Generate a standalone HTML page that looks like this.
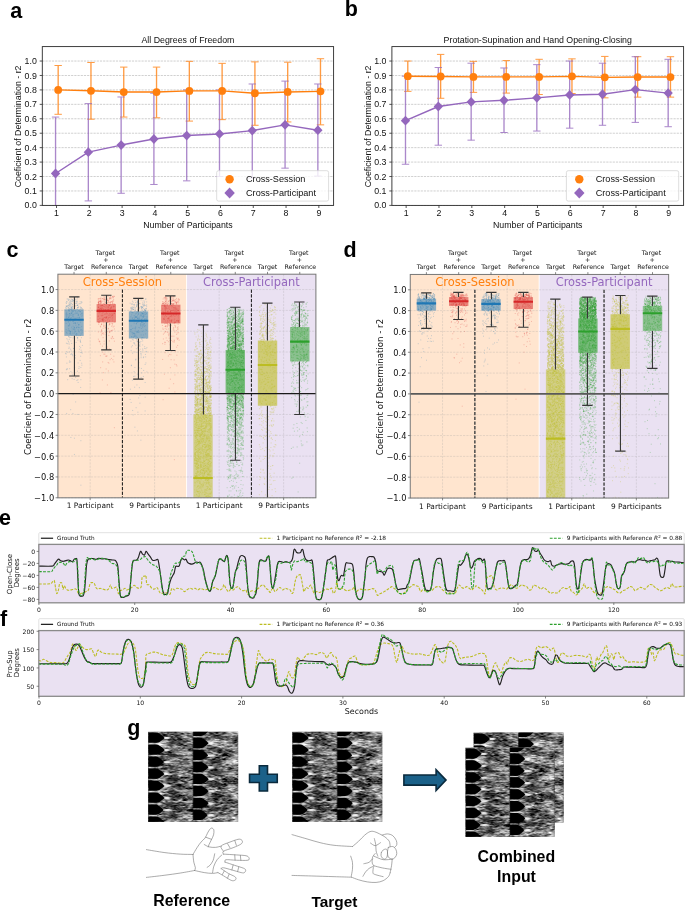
<!DOCTYPE html>
<html lang="en"><head><meta charset="utf-8"><title>Figure</title>
<style>
html,body{margin:0;padding:0;background:#fff;}
svg{display:block;}
text{white-space:pre;}
</style></head><body>
<svg width="685" height="910" viewBox="0 0 685 910">
<rect width="685" height="910" fill="#fff"/>
<g>
<clipPath id="clipa"><rect x="42.3" y="46.6" width="291.3" height="158.8"/></clipPath>
<line x1="42.3" y1="205.4" x2="333.6" y2="205.4" stroke="#b0b0b0" stroke-width="0.8" stroke-dasharray="2.2 1" opacity="0.75"/>
<line x1="42.3" y1="190.96" x2="333.6" y2="190.96" stroke="#b0b0b0" stroke-width="0.8" stroke-dasharray="2.2 1" opacity="0.75"/>
<line x1="42.3" y1="176.53" x2="333.6" y2="176.53" stroke="#b0b0b0" stroke-width="0.8" stroke-dasharray="2.2 1" opacity="0.75"/>
<line x1="42.3" y1="162.09" x2="333.6" y2="162.09" stroke="#b0b0b0" stroke-width="0.8" stroke-dasharray="2.2 1" opacity="0.75"/>
<line x1="42.3" y1="147.65" x2="333.6" y2="147.65" stroke="#b0b0b0" stroke-width="0.8" stroke-dasharray="2.2 1" opacity="0.75"/>
<line x1="42.3" y1="133.22" x2="333.6" y2="133.22" stroke="#b0b0b0" stroke-width="0.8" stroke-dasharray="2.2 1" opacity="0.75"/>
<line x1="42.3" y1="118.78" x2="333.6" y2="118.78" stroke="#b0b0b0" stroke-width="0.8" stroke-dasharray="2.2 1" opacity="0.75"/>
<line x1="42.3" y1="104.35" x2="333.6" y2="104.35" stroke="#b0b0b0" stroke-width="0.8" stroke-dasharray="2.2 1" opacity="0.75"/>
<line x1="42.3" y1="89.91" x2="333.6" y2="89.91" stroke="#b0b0b0" stroke-width="0.8" stroke-dasharray="2.2 1" opacity="0.75"/>
<line x1="42.3" y1="75.47" x2="333.6" y2="75.47" stroke="#b0b0b0" stroke-width="0.8" stroke-dasharray="2.2 1" opacity="0.75"/>
<line x1="42.3" y1="61.04" x2="333.6" y2="61.04" stroke="#b0b0b0" stroke-width="0.8" stroke-dasharray="2.2 1" opacity="0.75"/>
<g clip-path="url(#clipa)">
<g stroke="#ff7f0e" opacity="0.78" fill="none"><path d="M58.17 114.31V65.51" stroke-width="1.35"/><path d="M54.47 114.31h7.4M54.47 65.51h7.4" stroke-width="1"/><path d="M90.96 119.21V62.48" stroke-width="1.35"/><path d="M87.26 119.21h7.4M87.26 62.48h7.4" stroke-width="1"/><path d="M123.75 117.05V67.1" stroke-width="1.35"/><path d="M120.05 117.05h7.4M120.05 67.1h7.4" stroke-width="1"/><path d="M156.54 117.77V67.1" stroke-width="1.35"/><path d="M152.84 117.77h7.4M152.84 67.1h7.4" stroke-width="1"/><path d="M189.33 121.09V61.33" stroke-width="1.35"/><path d="M185.63 121.09h7.4M185.63 61.33h7.4" stroke-width="1"/><path d="M222.12 119.65V63.35" stroke-width="1.35"/><path d="M218.42 119.65h7.4M218.42 63.35h7.4" stroke-width="1"/><path d="M254.91 125.28V61.9" stroke-width="1.35"/><path d="M251.21 125.28h7.4M251.21 61.9h7.4" stroke-width="1"/><path d="M287.7 121.96V62.19" stroke-width="1.35"/><path d="M284 121.96h7.4M284 62.19h7.4" stroke-width="1"/><path d="M320.48 124.85V58.73" stroke-width="1.35"/><path d="M316.78 124.85h7.4M316.78 58.73h7.4" stroke-width="1"/></g>
<g stroke="#9467bd" opacity="0.78" fill="none"><path d="M55.55 234.27V117.05" stroke-width="1.35"/><path d="M51.85 234.27h7.4M51.85 117.05h7.4" stroke-width="1"/><path d="M88.34 200.92V103.62" stroke-width="1.35"/><path d="M84.64 200.92h7.4M84.64 103.62h7.4" stroke-width="1"/><path d="M121.13 193.27V96.98" stroke-width="1.35"/><path d="M117.43 193.27h7.4M117.43 96.98h7.4" stroke-width="1"/><path d="M153.91 184.47V93.23" stroke-width="1.35"/><path d="M150.21 184.47h7.4M150.21 93.23h7.4" stroke-width="1"/><path d="M186.7 180.86V89.91" stroke-width="1.35"/><path d="M183 180.86h7.4M183 89.91h7.4" stroke-width="1"/><path d="M219.49 176.53V89.91" stroke-width="1.35"/><path d="M215.79 176.53h7.4M215.79 89.91h7.4" stroke-width="1"/><path d="M252.28 177.97V83.99" stroke-width="1.35"/><path d="M248.58 177.97h7.4M248.58 83.99h7.4" stroke-width="1"/><path d="M285.07 168.15V81.1" stroke-width="1.35"/><path d="M281.37 168.15h7.4M281.37 81.1h7.4" stroke-width="1"/><path d="M317.86 176.09V83.99" stroke-width="1.35"/><path d="M314.16 176.09h7.4M314.16 83.99h7.4" stroke-width="1"/></g>
<polyline points="58.17,89.91 90.96,90.78 123.75,92.07 156.54,92.07 189.33,90.92 222.12,90.92 254.91,93.23 287.7,91.93 320.48,91.35" fill="none" stroke="#ff7f0e" stroke-width="1.4" stroke-linejoin="round"/>
<circle cx="58.17" cy="89.91" r="3.9" fill="#ff7f0e"/>
<circle cx="90.96" cy="90.78" r="3.9" fill="#ff7f0e"/>
<circle cx="123.75" cy="92.07" r="3.9" fill="#ff7f0e"/>
<circle cx="156.54" cy="92.07" r="3.9" fill="#ff7f0e"/>
<circle cx="189.33" cy="90.92" r="3.9" fill="#ff7f0e"/>
<circle cx="222.12" cy="90.92" r="3.9" fill="#ff7f0e"/>
<circle cx="254.91" cy="93.23" r="3.9" fill="#ff7f0e"/>
<circle cx="287.7" cy="91.93" r="3.9" fill="#ff7f0e"/>
<circle cx="320.48" cy="91.35" r="3.9" fill="#ff7f0e"/>
<polyline points="55.55,173.5 88.34,152.13 121.13,145.06 153.91,138.99 186.7,135.53 219.49,133.94 252.28,130.62 285.07,124.85 317.86,130.19" fill="none" stroke="#9467bd" stroke-width="1.4" stroke-linejoin="round"/>
<path d="M55.55 168.6l4.66 4.9l-4.66 4.9l-4.66 -4.9z" fill="#9467bd"/>
<path d="M88.34 147.23l4.66 4.9l-4.66 4.9l-4.66 -4.9z" fill="#9467bd"/>
<path d="M121.13 140.16l4.66 4.9l-4.66 4.9l-4.66 -4.9z" fill="#9467bd"/>
<path d="M153.91 134.09l4.66 4.9l-4.66 4.9l-4.66 -4.9z" fill="#9467bd"/>
<path d="M186.7 130.63l4.66 4.9l-4.66 4.9l-4.66 -4.9z" fill="#9467bd"/>
<path d="M219.49 129.04l4.66 4.9l-4.66 4.9l-4.66 -4.9z" fill="#9467bd"/>
<path d="M252.28 125.72l4.66 4.9l-4.66 4.9l-4.66 -4.9z" fill="#9467bd"/>
<path d="M285.07 119.95l4.66 4.9l-4.66 4.9l-4.66 -4.9z" fill="#9467bd"/>
<path d="M317.86 125.29l4.66 4.9l-4.66 4.9l-4.66 -4.9z" fill="#9467bd"/>
</g>
<rect x="42.3" y="46.6" width="291.3" height="158.8" fill="none" stroke="#2a2a2a" stroke-width="0.9"/>
<line x1="39.7" y1="205.4" x2="42.3" y2="205.4" stroke="#2a2a2a" stroke-width="0.8"/>
<text x="36.85" y="208.45" font-family='"Liberation Sans", sans-serif' font-size="8.8" text-anchor="end" fill="#111">0.0</text>
<line x1="39.7" y1="190.96" x2="42.3" y2="190.96" stroke="#2a2a2a" stroke-width="0.8"/>
<text x="36.85" y="194.01" font-family='"Liberation Sans", sans-serif' font-size="8.8" text-anchor="end" fill="#111">0.1</text>
<line x1="39.7" y1="176.53" x2="42.3" y2="176.53" stroke="#2a2a2a" stroke-width="0.8"/>
<text x="36.85" y="179.58" font-family='"Liberation Sans", sans-serif' font-size="8.8" text-anchor="end" fill="#111">0.2</text>
<line x1="39.7" y1="162.09" x2="42.3" y2="162.09" stroke="#2a2a2a" stroke-width="0.8"/>
<text x="36.85" y="165.14" font-family='"Liberation Sans", sans-serif' font-size="8.8" text-anchor="end" fill="#111">0.3</text>
<line x1="39.7" y1="147.65" x2="42.3" y2="147.65" stroke="#2a2a2a" stroke-width="0.8"/>
<text x="36.85" y="150.7" font-family='"Liberation Sans", sans-serif' font-size="8.8" text-anchor="end" fill="#111">0.4</text>
<line x1="39.7" y1="133.22" x2="42.3" y2="133.22" stroke="#2a2a2a" stroke-width="0.8"/>
<text x="36.85" y="136.27" font-family='"Liberation Sans", sans-serif' font-size="8.8" text-anchor="end" fill="#111">0.5</text>
<line x1="39.7" y1="118.78" x2="42.3" y2="118.78" stroke="#2a2a2a" stroke-width="0.8"/>
<text x="36.85" y="121.83" font-family='"Liberation Sans", sans-serif' font-size="8.8" text-anchor="end" fill="#111">0.6</text>
<line x1="39.7" y1="104.35" x2="42.3" y2="104.35" stroke="#2a2a2a" stroke-width="0.8"/>
<text x="36.85" y="107.4" font-family='"Liberation Sans", sans-serif' font-size="8.8" text-anchor="end" fill="#111">0.7</text>
<line x1="39.7" y1="89.91" x2="42.3" y2="89.91" stroke="#2a2a2a" stroke-width="0.8"/>
<text x="36.85" y="92.96" font-family='"Liberation Sans", sans-serif' font-size="8.8" text-anchor="end" fill="#111">0.8</text>
<line x1="39.7" y1="75.47" x2="42.3" y2="75.47" stroke="#2a2a2a" stroke-width="0.8"/>
<text x="36.85" y="78.52" font-family='"Liberation Sans", sans-serif' font-size="8.8" text-anchor="end" fill="#111">0.9</text>
<line x1="39.7" y1="61.04" x2="42.3" y2="61.04" stroke="#2a2a2a" stroke-width="0.8"/>
<text x="36.85" y="64.09" font-family='"Liberation Sans", sans-serif' font-size="8.8" text-anchor="end" fill="#111">1.0</text>
<line x1="56.53" y1="205.4" x2="56.53" y2="208" stroke="#2a2a2a" stroke-width="0.8"/>
<text x="56.53" y="215.8" font-family='"Liberation Sans", sans-serif' font-size="8.8" text-anchor="middle" fill="#111">1</text>
<line x1="89.32" y1="205.4" x2="89.32" y2="208" stroke="#2a2a2a" stroke-width="0.8"/>
<text x="89.32" y="215.8" font-family='"Liberation Sans", sans-serif' font-size="8.8" text-anchor="middle" fill="#111">2</text>
<line x1="122.11" y1="205.4" x2="122.11" y2="208" stroke="#2a2a2a" stroke-width="0.8"/>
<text x="122.11" y="215.8" font-family='"Liberation Sans", sans-serif' font-size="8.8" text-anchor="middle" fill="#111">3</text>
<line x1="154.9" y1="205.4" x2="154.9" y2="208" stroke="#2a2a2a" stroke-width="0.8"/>
<text x="154.9" y="215.8" font-family='"Liberation Sans", sans-serif' font-size="8.8" text-anchor="middle" fill="#111">4</text>
<line x1="187.69" y1="205.4" x2="187.69" y2="208" stroke="#2a2a2a" stroke-width="0.8"/>
<text x="187.69" y="215.8" font-family='"Liberation Sans", sans-serif' font-size="8.8" text-anchor="middle" fill="#111">5</text>
<line x1="220.48" y1="205.4" x2="220.48" y2="208" stroke="#2a2a2a" stroke-width="0.8"/>
<text x="220.48" y="215.8" font-family='"Liberation Sans", sans-serif' font-size="8.8" text-anchor="middle" fill="#111">6</text>
<line x1="253.27" y1="205.4" x2="253.27" y2="208" stroke="#2a2a2a" stroke-width="0.8"/>
<text x="253.27" y="215.8" font-family='"Liberation Sans", sans-serif' font-size="8.8" text-anchor="middle" fill="#111">7</text>
<line x1="286.06" y1="205.4" x2="286.06" y2="208" stroke="#2a2a2a" stroke-width="0.8"/>
<text x="286.06" y="215.8" font-family='"Liberation Sans", sans-serif' font-size="8.8" text-anchor="middle" fill="#111">8</text>
<line x1="318.84" y1="205.4" x2="318.84" y2="208" stroke="#2a2a2a" stroke-width="0.8"/>
<text x="318.84" y="215.8" font-family='"Liberation Sans", sans-serif' font-size="8.8" text-anchor="middle" fill="#111">9</text>
<text x="187.95" y="42.6" font-family='"Liberation Sans", sans-serif' font-size="8.8" text-anchor="middle" fill="#111">All Degrees of Freedom</text>
<text x="187.95" y="228" font-family='"Liberation Sans", sans-serif' font-size="8.8" text-anchor="middle" fill="#111">Number of Participants</text>
<text x="21.1" y="126.4" font-family='"Liberation Sans", sans-serif' font-size="8.8" text-anchor="middle" fill="#111" transform="rotate(-90 21.1 126.4)">Coeficient of Determination - r2</text>
<rect x="216.7" y="170.7" width="111.9" height="30.4" rx="1.8" fill="#fff" fill-opacity="0.8" stroke="#d4d4d4" stroke-width="0.8"/>
<circle cx="229.6" cy="179.2" r="4.2" fill="#ff7f0e"/>
<path d="M229.6 187.5l5.22 5.5l-5.22 5.5l-5.22 -5.5z" fill="#9467bd"/>
<text x="246" y="182.3" font-family='"Liberation Sans", sans-serif' font-size="9.15" text-anchor="start" fill="#111">Cross-Session</text>
<text x="246" y="196" font-family='"Liberation Sans", sans-serif' font-size="9.15" text-anchor="start" fill="#111">Cross-Participant</text>
<text x="10.2" y="17.8" font-family='"Liberation Sans", sans-serif' font-size="21.5" text-anchor="start" fill="#000" font-weight="bold">a</text>
</g><g>
<clipPath id="clipb"><rect x="391.9" y="46.6" width="291.7" height="158.8"/></clipPath>
<line x1="391.9" y1="205.4" x2="683.6" y2="205.4" stroke="#b0b0b0" stroke-width="0.8" stroke-dasharray="2.2 1" opacity="0.75"/>
<line x1="391.9" y1="190.96" x2="683.6" y2="190.96" stroke="#b0b0b0" stroke-width="0.8" stroke-dasharray="2.2 1" opacity="0.75"/>
<line x1="391.9" y1="176.53" x2="683.6" y2="176.53" stroke="#b0b0b0" stroke-width="0.8" stroke-dasharray="2.2 1" opacity="0.75"/>
<line x1="391.9" y1="162.09" x2="683.6" y2="162.09" stroke="#b0b0b0" stroke-width="0.8" stroke-dasharray="2.2 1" opacity="0.75"/>
<line x1="391.9" y1="147.65" x2="683.6" y2="147.65" stroke="#b0b0b0" stroke-width="0.8" stroke-dasharray="2.2 1" opacity="0.75"/>
<line x1="391.9" y1="133.22" x2="683.6" y2="133.22" stroke="#b0b0b0" stroke-width="0.8" stroke-dasharray="2.2 1" opacity="0.75"/>
<line x1="391.9" y1="118.78" x2="683.6" y2="118.78" stroke="#b0b0b0" stroke-width="0.8" stroke-dasharray="2.2 1" opacity="0.75"/>
<line x1="391.9" y1="104.35" x2="683.6" y2="104.35" stroke="#b0b0b0" stroke-width="0.8" stroke-dasharray="2.2 1" opacity="0.75"/>
<line x1="391.9" y1="89.91" x2="683.6" y2="89.91" stroke="#b0b0b0" stroke-width="0.8" stroke-dasharray="2.2 1" opacity="0.75"/>
<line x1="391.9" y1="75.47" x2="683.6" y2="75.47" stroke="#b0b0b0" stroke-width="0.8" stroke-dasharray="2.2 1" opacity="0.75"/>
<line x1="391.9" y1="61.04" x2="683.6" y2="61.04" stroke="#b0b0b0" stroke-width="0.8" stroke-dasharray="2.2 1" opacity="0.75"/>
<g clip-path="url(#clipb)">
<g stroke="#ff7f0e" opacity="0.78" fill="none"><path d="M407.79 91.35V61.04" stroke-width="1.35"/><path d="M404.09 91.35h7.4M404.09 61.04h7.4" stroke-width="1"/><path d="M440.63 98.28V54.4" stroke-width="1.35"/><path d="M436.93 98.28h7.4M436.93 54.4h7.4" stroke-width="1"/><path d="M473.46 92.36V61.33" stroke-width="1.35"/><path d="M469.76 92.36h7.4M469.76 61.33h7.4" stroke-width="1"/><path d="M506.29 93.09V60.6" stroke-width="1.35"/><path d="M502.59 93.09h7.4M502.59 60.6h7.4" stroke-width="1"/><path d="M539.13 94.53V59.3" stroke-width="1.35"/><path d="M535.43 94.53h7.4M535.43 59.3h7.4" stroke-width="1"/><path d="M571.96 93.52V58.87" stroke-width="1.35"/><path d="M568.26 93.52h7.4M568.26 58.87h7.4" stroke-width="1"/><path d="M604.8 97.85V56.42" stroke-width="1.35"/><path d="M601.1 97.85h7.4M601.1 56.42h7.4" stroke-width="1"/><path d="M637.63 97.13V56.71" stroke-width="1.35"/><path d="M633.93 97.13h7.4M633.93 56.71h7.4" stroke-width="1"/><path d="M670.47 97.13V56.71" stroke-width="1.35"/><path d="M666.77 97.13h7.4M666.77 56.71h7.4" stroke-width="1"/></g>
<g stroke="#9467bd" opacity="0.78" fill="none"><path d="M405.49 164.26V76.19" stroke-width="1.35"/><path d="M401.79 164.26h7.4M401.79 76.19h7.4" stroke-width="1"/><path d="M438.33 145.2V67.53" stroke-width="1.35"/><path d="M434.63 145.2h7.4M434.63 67.53h7.4" stroke-width="1"/><path d="M471.16 140.15V63.2" stroke-width="1.35"/><path d="M467.46 140.15h7.4M467.46 63.2h7.4" stroke-width="1"/><path d="M504 132.5V67.97" stroke-width="1.35"/><path d="M500.3 132.5h7.4M500.3 67.97h7.4" stroke-width="1"/><path d="M536.83 131.05V64.65" stroke-width="1.35"/><path d="M533.13 131.05h7.4M533.13 64.65h7.4" stroke-width="1"/><path d="M569.66 128.17V61.04" stroke-width="1.35"/><path d="M565.96 128.17h7.4M565.96 61.04h7.4" stroke-width="1"/><path d="M602.5 125.28V63.2" stroke-width="1.35"/><path d="M598.8 125.28h7.4M598.8 63.2h7.4" stroke-width="1"/><path d="M635.33 122.39V56.71" stroke-width="1.35"/><path d="M631.63 122.39h7.4M631.63 56.71h7.4" stroke-width="1"/><path d="M668.17 126.72V59.3" stroke-width="1.35"/><path d="M664.47 126.72h7.4M664.47 59.3h7.4" stroke-width="1"/></g>
<polyline points="407.79,76.19 440.63,76.48 473.46,76.92 506.29,76.92 539.13,76.92 571.96,76.34 604.8,77.35 637.63,77.06 670.47,77.06" fill="none" stroke="#ff7f0e" stroke-width="1.4" stroke-linejoin="round"/>
<circle cx="407.79" cy="76.19" r="3.9" fill="#ff7f0e"/>
<circle cx="440.63" cy="76.48" r="3.9" fill="#ff7f0e"/>
<circle cx="473.46" cy="76.92" r="3.9" fill="#ff7f0e"/>
<circle cx="506.29" cy="76.92" r="3.9" fill="#ff7f0e"/>
<circle cx="539.13" cy="76.92" r="3.9" fill="#ff7f0e"/>
<circle cx="571.96" cy="76.34" r="3.9" fill="#ff7f0e"/>
<circle cx="604.8" cy="77.35" r="3.9" fill="#ff7f0e"/>
<circle cx="637.63" cy="77.06" r="3.9" fill="#ff7f0e"/>
<circle cx="670.47" cy="77.06" r="3.9" fill="#ff7f0e"/>
<polyline points="405.49,120.66 438.33,106.51 471.16,101.89 504,100.3 536.83,97.85 569.66,94.96 602.5,94.24 635.33,89.62 668.17,93.09" fill="none" stroke="#9467bd" stroke-width="1.4" stroke-linejoin="round"/>
<path d="M405.49 115.76l4.66 4.9l-4.66 4.9l-4.66 -4.9z" fill="#9467bd"/>
<path d="M438.33 101.61l4.66 4.9l-4.66 4.9l-4.66 -4.9z" fill="#9467bd"/>
<path d="M471.16 96.99l4.66 4.9l-4.66 4.9l-4.66 -4.9z" fill="#9467bd"/>
<path d="M504 95.4l4.66 4.9l-4.66 4.9l-4.66 -4.9z" fill="#9467bd"/>
<path d="M536.83 92.95l4.66 4.9l-4.66 4.9l-4.66 -4.9z" fill="#9467bd"/>
<path d="M569.66 90.06l4.66 4.9l-4.66 4.9l-4.66 -4.9z" fill="#9467bd"/>
<path d="M602.5 89.34l4.66 4.9l-4.66 4.9l-4.66 -4.9z" fill="#9467bd"/>
<path d="M635.33 84.72l4.66 4.9l-4.66 4.9l-4.66 -4.9z" fill="#9467bd"/>
<path d="M668.17 88.19l4.66 4.9l-4.66 4.9l-4.66 -4.9z" fill="#9467bd"/>
</g>
<rect x="391.9" y="46.6" width="291.7" height="158.8" fill="none" stroke="#2a2a2a" stroke-width="0.9"/>
<line x1="389.3" y1="205.4" x2="391.9" y2="205.4" stroke="#2a2a2a" stroke-width="0.8"/>
<text x="386.45" y="208.45" font-family='"Liberation Sans", sans-serif' font-size="8.8" text-anchor="end" fill="#111">0.0</text>
<line x1="389.3" y1="190.96" x2="391.9" y2="190.96" stroke="#2a2a2a" stroke-width="0.8"/>
<text x="386.45" y="194.01" font-family='"Liberation Sans", sans-serif' font-size="8.8" text-anchor="end" fill="#111">0.1</text>
<line x1="389.3" y1="176.53" x2="391.9" y2="176.53" stroke="#2a2a2a" stroke-width="0.8"/>
<text x="386.45" y="179.58" font-family='"Liberation Sans", sans-serif' font-size="8.8" text-anchor="end" fill="#111">0.2</text>
<line x1="389.3" y1="162.09" x2="391.9" y2="162.09" stroke="#2a2a2a" stroke-width="0.8"/>
<text x="386.45" y="165.14" font-family='"Liberation Sans", sans-serif' font-size="8.8" text-anchor="end" fill="#111">0.3</text>
<line x1="389.3" y1="147.65" x2="391.9" y2="147.65" stroke="#2a2a2a" stroke-width="0.8"/>
<text x="386.45" y="150.7" font-family='"Liberation Sans", sans-serif' font-size="8.8" text-anchor="end" fill="#111">0.4</text>
<line x1="389.3" y1="133.22" x2="391.9" y2="133.22" stroke="#2a2a2a" stroke-width="0.8"/>
<text x="386.45" y="136.27" font-family='"Liberation Sans", sans-serif' font-size="8.8" text-anchor="end" fill="#111">0.5</text>
<line x1="389.3" y1="118.78" x2="391.9" y2="118.78" stroke="#2a2a2a" stroke-width="0.8"/>
<text x="386.45" y="121.83" font-family='"Liberation Sans", sans-serif' font-size="8.8" text-anchor="end" fill="#111">0.6</text>
<line x1="389.3" y1="104.35" x2="391.9" y2="104.35" stroke="#2a2a2a" stroke-width="0.8"/>
<text x="386.45" y="107.4" font-family='"Liberation Sans", sans-serif' font-size="8.8" text-anchor="end" fill="#111">0.7</text>
<line x1="389.3" y1="89.91" x2="391.9" y2="89.91" stroke="#2a2a2a" stroke-width="0.8"/>
<text x="386.45" y="92.96" font-family='"Liberation Sans", sans-serif' font-size="8.8" text-anchor="end" fill="#111">0.8</text>
<line x1="389.3" y1="75.47" x2="391.9" y2="75.47" stroke="#2a2a2a" stroke-width="0.8"/>
<text x="386.45" y="78.52" font-family='"Liberation Sans", sans-serif' font-size="8.8" text-anchor="end" fill="#111">0.9</text>
<line x1="389.3" y1="61.04" x2="391.9" y2="61.04" stroke="#2a2a2a" stroke-width="0.8"/>
<text x="386.45" y="64.09" font-family='"Liberation Sans", sans-serif' font-size="8.8" text-anchor="end" fill="#111">1.0</text>
<line x1="406.15" y1="205.4" x2="406.15" y2="208" stroke="#2a2a2a" stroke-width="0.8"/>
<text x="406.15" y="215.8" font-family='"Liberation Sans", sans-serif' font-size="8.8" text-anchor="middle" fill="#111">1</text>
<line x1="438.98" y1="205.4" x2="438.98" y2="208" stroke="#2a2a2a" stroke-width="0.8"/>
<text x="438.98" y="215.8" font-family='"Liberation Sans", sans-serif' font-size="8.8" text-anchor="middle" fill="#111">2</text>
<line x1="471.82" y1="205.4" x2="471.82" y2="208" stroke="#2a2a2a" stroke-width="0.8"/>
<text x="471.82" y="215.8" font-family='"Liberation Sans", sans-serif' font-size="8.8" text-anchor="middle" fill="#111">3</text>
<line x1="504.65" y1="205.4" x2="504.65" y2="208" stroke="#2a2a2a" stroke-width="0.8"/>
<text x="504.65" y="215.8" font-family='"Liberation Sans", sans-serif' font-size="8.8" text-anchor="middle" fill="#111">4</text>
<line x1="537.49" y1="205.4" x2="537.49" y2="208" stroke="#2a2a2a" stroke-width="0.8"/>
<text x="537.49" y="215.8" font-family='"Liberation Sans", sans-serif' font-size="8.8" text-anchor="middle" fill="#111">5</text>
<line x1="570.32" y1="205.4" x2="570.32" y2="208" stroke="#2a2a2a" stroke-width="0.8"/>
<text x="570.32" y="215.8" font-family='"Liberation Sans", sans-serif' font-size="8.8" text-anchor="middle" fill="#111">6</text>
<line x1="603.16" y1="205.4" x2="603.16" y2="208" stroke="#2a2a2a" stroke-width="0.8"/>
<text x="603.16" y="215.8" font-family='"Liberation Sans", sans-serif' font-size="8.8" text-anchor="middle" fill="#111">7</text>
<line x1="635.99" y1="205.4" x2="635.99" y2="208" stroke="#2a2a2a" stroke-width="0.8"/>
<text x="635.99" y="215.8" font-family='"Liberation Sans", sans-serif' font-size="8.8" text-anchor="middle" fill="#111">8</text>
<line x1="668.82" y1="205.4" x2="668.82" y2="208" stroke="#2a2a2a" stroke-width="0.8"/>
<text x="668.82" y="215.8" font-family='"Liberation Sans", sans-serif' font-size="8.8" text-anchor="middle" fill="#111">9</text>
<text x="537.75" y="42.6" font-family='"Liberation Sans", sans-serif' font-size="8.8" text-anchor="middle" fill="#111">Protation-Supination and Hand Opening-Closing</text>
<text x="537.75" y="228" font-family='"Liberation Sans", sans-serif' font-size="8.8" text-anchor="middle" fill="#111">Number of Participants</text>
<text x="370.7" y="126.4" font-family='"Liberation Sans", sans-serif' font-size="8.8" text-anchor="middle" fill="#111" transform="rotate(-90 370.7 126.4)">Coeficient of Determination - r2</text>
<rect x="566.4" y="170.7" width="112.3" height="30.4" rx="1.8" fill="#fff" fill-opacity="0.8" stroke="#d4d4d4" stroke-width="0.8"/>
<circle cx="579.3" cy="179.2" r="4.2" fill="#ff7f0e"/>
<path d="M579.3 187.5l5.22 5.5l-5.22 5.5l-5.22 -5.5z" fill="#9467bd"/>
<text x="595.7" y="182.3" font-family='"Liberation Sans", sans-serif' font-size="9.15" text-anchor="start" fill="#111">Cross-Session</text>
<text x="595.7" y="196" font-family='"Liberation Sans", sans-serif' font-size="9.15" text-anchor="start" fill="#111">Cross-Participant</text>
<text x="344.7" y="16.2" font-family='"Liberation Sans", sans-serif' font-size="21.5" text-anchor="start" fill="#000" font-weight="bold">b</text>
</g>
<g>
<clipPath id="clipc"><rect x="57.9" y="274.2" width="258" height="223.6"/></clipPath>
<rect x="57.9" y="274.2" width="128.25" height="223.6" fill="#ffe5cf"/>
<rect x="187.05" y="274.2" width="128.85" height="223.6" fill="#eae1f2"/>
<g stroke="#9a9a9a" stroke-width="0.6" stroke-dasharray="2.2 1.1" opacity="0.42"><path d="M57.9 497.75H315.9"/><path d="M57.9 476.93H315.9"/><path d="M57.9 456.11H315.9"/><path d="M57.9 435.29H315.9"/><path d="M57.9 414.47H315.9"/><path d="M57.9 372.83H315.9"/><path d="M57.9 352.01H315.9"/><path d="M57.9 331.19H315.9"/><path d="M57.9 310.37H315.9"/><path d="M57.9 289.55H315.9"/><path d="M90.15 274.2V497.8"/><path d="M154.65 274.2V497.8"/><path d="M219.15 274.2V497.8"/><path d="M283.65 274.2V497.8"/></g>
<g clip-path="url(#clipc)">
<g transform="translate(57.9 274.2) scale(0.25)" fill="none" stroke-linecap="square">
<path d="M78 91zm0 4zm-31 7zm23 0zm-12 1zm-16 1zm21 1zm1 1zm-29 3zm22 0zm16 0zm4 0zm-24 1zm42 0zm-58 1zm10 0zm29 1zm20 1zm-63 1zm12 1zm24 1zm7 0zm17 0zm-59 1zm39 0zm-22 1zm34 0zm4 0zm-44 1zm5 2zm30 2zm-35 1zm33 0zm-2 1zm-36 1zm1 0zm11 0zm15 0zm-26 1zm6 1zm-12 1zm48 1zm-17 1zm-13 1zm-12 1zm-9 1zm11 0zm12 0zm2 0zm-8 1zm6 1zm2 0zm-12 1zm48 0zm-38 1zm2 2zm-5 1zm-9 3zm19 0zm-17 2zm12 1zm0 1zm1 4zm-4 2zm21 2zm-41 1zm14 1zm46 0zm-48 1zm22 0zm30 0zm-39 1zm3 1zm29 1zm-9 2zm-25 1zm40 0zm-50 1zm-6 1zm4 2zm14 1zm37 0zm-54 3zm0 1zm6 0zm38 1zm-37 1zm3 3zm32 3zm-17 1zm-31 2zm56 0zm-28 1zm21 0zm-25 2zm1 1zm-20 1zm28 3zm10 2zm-8 1zm-38 1zm31 0zm-18 2zm38 3zm0 0zm-12 2zm-30 3zm53 3zm-29 2zm17 0zm-8 1zm-9 1zm2 6zm25 1zm-43 8zm0 1zm0 3zm47 1zm-60 2zm29 0zm8 1zm-28 1zm30 1zm17 0zm-22 3zm19 3zm-14 1zm8 0zm-41 3zm9 4zm27 0zm-1 1zm16 0zm-58 4zm10 2zm-6 3zm49 0zm1 4zm1 6zm-57 3zm11 16zm46 2zm-5 6zm-33 7zm-18 3zm12 1zm47 1zm-39 6zm3 3zm1 5zm32 2zm-21 7zm19 10zm-42 2zm4 4zm15 24zm18 2zm-48 2zm2 0zm-4 3zm24 21zm22 19zm12 0zm-16 3zm15 28zm-30 28zm10 30zm-11 46zm20 4zm-28 92zm40 13zm-26 55z" stroke="#1f77b4" stroke-width="3" stroke-opacity="0.33"/>
<path d="M68 95zm-31 4zm4 0zm13 1zm5 1zm-17 2zm34 0zm-19 2zm-7 1zm10 4zm29 0zm-38 2zm3 5zm3 3zm-11 1zm12 1zm21 3zm-45 2zm14 0zm23 0zm-38 1zm24 0zm2 1zm-22 1zm16 1zm37 0zm-11 2zm0 1zm3 0zm10 0zm2 0zm-62 2zm4 2zm62 0zm-56 1zm7 0zm0 1zm12 0zm16 0zm0 0zm12 0zm-44 1zm9 1zm14 3zm15 2zm-38 1zm43 0zm-26 1zm27 0zm-18 1zm7 1zm12 0zm-55 1zm62 3zm-25 1zm-18 1zm26 0zm-33 1zm8 0zm-22 2zm7 0zm42 2zm-46 1zm15 0zm-17 1zm47 0zm-19 3zm-28 4zm1 0zm29 1zm23 0zm-32 1zm22 0zm7 0zm-14 3zm-33 1zm-3 2zm7 0zm11 0zm14 0zm7 0zm-4 3zm-22 2zm2 4zm-17 2zm11 1zm47 1zm-26 3zm6 2zm-23 3zm36 3zm-40 3zm4 0zm14 2zm16 3zm-22 1zm28 2zm5 0zm-23 1zm9 0zm-31 3zm14 1zm5 1zm2 0zm-31 1zm48 1zm-38 2zm25 0zm23 0zm6 0zm-50 1zm-10 2zm45 0zm-34 3zm23 0zm-4 1zm18 0zm-51 3zm26 2zm-9 2zm-1 1zm25 4zm-19 1zm-12 7zm3 1zm14 3zm18 2zm1 7zm-28 3zm-10 2zm48 0zm-17 4zm-29 2zm11 2zm-17 1zm7 2zm53 5zm-11 4zm-43 8zm19 0zm0 0zm-12 3zm42 4zm-29 6zm-25 2zm52 1zm6 3zm-66 1zm2 2zm19 2zm17 4zm-35 6zm12 21zm35 3zm-45 1zm59 0zm1 8zm-11 6zm-18 3zm25 0zm-45 5zm31 10zm-26 2zm19 23zm-14 5zm8 3zm-26 1zm42 11zm-30 109zm-16 15zm31 99zm26 188z" stroke="#1f77b4" stroke-width="3" stroke-opacity="0.33"/>
<path d="M224 88zm-6 1zm4 3zm-50 3zm35 0zm14 0zm-53 2zm17 0zm25 0zm-30 1zm-7 1zm13 2zm-4 1zm4 1zm8 0zm4 1zm3 1zm-28 3zm30 0zm18 1zm-58 1zm8 0zm44 0zm2 0zm0 1zm-44 1zm13 0zm5 1zm11 0zm6 0zm-46 1zm8 0zm28 0zm-4 1zm-24 2zm2 0zm-8 2zm21 0zm8 2zm15 0zm-46 1zm55 0zm-45 1zm21 1zm-21 1zm5 0zm30 0zm-31 1zm3 0zm14 2zm-7 2zm17 0zm21 0zm-26 1zm17 0zm8 0zm-22 1zm-24 2zm26 0zm-30 1zm38 0zm4 1zm-46 1zm2 0zm4 1zm22 1zm-23 2zm-13 1zm29 0zm30 1zm-53 1zm8 0zm24 1zm-1 2zm-37 1zm34 1zm32 0zm-57 2zm24 3zm31 2zm1 0zm-10 1zm-26 2zm-3 1zm23 0zm-30 3zm36 0zm-43 1zm29 0zm11 1zm-34 1zm-18 3zm52 0zm-22 3zm3 0zm1 0zm-9 1zm8 0zm10 0zm15 1zm-38 1zm10 1zm-14 3zm40 0zm-33 1zm-23 1zm16 0zm1 0zm6 3zm-5 3zm3 0zm36 0zm-51 1zm5 0zm33 2zm-5 1zm-4 2zm-32 1zm20 0zm-9 5zm-12 1zm12 0zm-1 2zm31 1zm13 0zm-34 3zm5 1zm-19 1zm55 0zm-54 3zm50 0zm-32 4zm13 2zm-27 8zm39 0zm1 2zm-40 1zm32 0zm3 0zm-12 2zm-26 1zm35 0zm-15 2zm15 0zm-30 2zm6 0zm-9 8zm44 6zm0 3zm5 5zm-7 1zm-10 9zm-21 1zm-19 2zm12 18zm20 8zm8 3zm-22 21zm4 0zm23 0zm-15 6zm-5 2zm4 1zm25 13zm-19 11zm3 3zm-33 18zm22 5zm9 8zm-24 36zm20 20zm28 171z" stroke="#d62728" stroke-width="3" stroke-opacity="0.33"/>
<path d="M199 87zm2 0zm9 2zm10 0zm6 0zm-42 2zm2 1zm31 1zm-6 1zm-4 2zm-28 1zm-16 1zm50 0zm-52 1zm8 0zm30 0zm-13 1zm21 0zm-15 1zm4 1zm27 0zm-60 2zm7 1zm50 0zm-20 1zm-29 1zm2 0zm23 0zm-29 1zm12 0zm6 0zm-17 1zm3 0zm-5 1zm45 0zm-49 1zm1 1zm-1 1zm48 0zm-37 1zm45 1zm-56 1zm14 0zm33 0zm10 0zm-54 1zm17 0zm-19 1zm30 0zm-7 1zm10 0zm4 0zm21 0zm5 0zm-15 1zm-25 1zm-22 1zm62 0zm-47 1zm23 0zm3 1zm0 1zm-29 1zm32 0zm14 1zm-40 1zm43 0zm-62 2zm9 0zm43 1zm-53 2zm0 1zm2 0zm28 0zm21 0zm-35 2zm33 0zm-2 1zm-27 2zm-15 1zm5 0zm32 0zm20 0zm-41 1zm19 0zm-37 1zm24 0zm10 0zm12 0zm-20 2zm14 0zm-9 1zm4 1zm23 1zm-37 1zm17 0zm15 1zm-53 3zm16 2zm-16 1zm12 1zm20 2zm9 0zm20 0zm-30 1zm25 0zm-2 3zm-13 2zm12 1zm-56 2zm13 0zm45 0zm-24 3zm10 2zm-18 1zm23 1zm-17 2zm8 0zm-34 1zm13 1zm19 2zm-20 2zm18 2zm9 0zm-29 1zm13 1zm16 2zm-46 2zm3 1zm62 0zm-63 1zm3 1zm33 0zm17 4zm-9 1zm12 0zm-11 1zm-24 1zm23 1zm-24 7zm32 0zm-25 6zm-9 2zm20 3zm25 0zm-51 3zm44 2zm-57 7zm16 7zm6 2zm9 2zm11 3zm-23 9zm32 2zm-51 4zm3 7zm61 1zm-58 2zm2 9zm15 0zm11 10zm-16 23zm-10 14zm54 2zm-10 9zm-5 5zm-30 9zm45 0zm-42 43zm30 79zm-43 1z" stroke="#d62728" stroke-width="3" stroke-opacity="0.33"/>
<path d="M352 99zm-30 6zm-4 4zm-17 3zm18 1zm8 4zm1 1zm-34 2zm12 1zm33 0zm-25 1zm-8 5zm9 0zm0 0zm26 0zm2 0zm-7 2zm-5 1zm-34 1zm38 1zm-26 2zm18 0zm-36 1zm2 0zm43 2zm-2 2zm17 0zm-54 1zm6 1zm44 0zm-27 1zm27 0zm-9 1zm12 2zm2 0zm-30 1zm0 0zm24 0zm-54 1zm45 0zm12 0zm4 0zm-3 1zm-42 1zm13 0zm-1 1zm28 2zm-48 2zm14 2zm40 0zm-15 1zm-16 2zm17 0zm14 0zm-18 1zm8 3zm-39 2zm29 0zm-6 3zm20 0zm8 2zm-45 1zm28 0zm-27 1zm8 0zm-10 1zm5 0zm-26 2zm7 0zm24 2zm-22 2zm20 0zm-16 2zm22 0zm24 0zm-41 1zm47 0zm-19 1zm-44 1zm42 0zm-33 2zm24 1zm10 1zm-9 1zm9 1zm0 1zm2 2zm4 0zm-35 3zm9 1zm30 1zm2 0zm-32 1zm17 0zm0 1zm13 4zm6 2zm-17 1zm6 0zm7 2zm-7 3zm-15 1zm-13 2zm-6 1zm-6 1zm11 2zm12 6zm32 1zm-12 1zm-51 3zm28 1zm3 1zm-22 1zm15 1zm-8 2zm44 3zm-51 1zm9 6zm-4 1zm4 1zm5 0zm-19 2zm1 1zm43 2zm-23 2zm21 0zm-26 2zm-9 6zm13 0zm17 6zm-8 1zm-19 5zm24 0zm-1 7zm-1 3zm-8 10zm-5 3zm38 0zm-12 6zm-36 7zm51 0zm-34 2zm11 5zm19 13zm-18 3zm9 0zm-18 2zm-12 4zm-1 3zm13 11zm28 1zm-3 6zm-55 3zm14 9zm35 12zm-38 5zm51 1zm-21 4zm-32 14zm39 0zm-9 4zm-26 39zm-17 8zm59 16zm0 16zm-26 3zm-34 6zm24 33zm-14 11zm21 7zm-19 11zm17 64zm14 37z" stroke="#1f77b4" stroke-width="3" stroke-opacity="0.33"/>
<path d="M351 100zm-18 3zm-24 1zm11 1zm21 2zm-43 1zm49 0zm-29 1zm37 2zm-44 2zm9 1zm26 0zm-29 1zm22 0zm-50 1zm8 2zm47 1zm-26 1zm-18 1zm20 1zm-16 1zm41 0zm0 0zm10 0zm-34 2zm31 0zm-5 1zm-32 4zm20 0zm20 0zm-54 2zm0 1zm37 0zm1 0zm-4 1zm-40 1zm13 0zm45 2zm-54 1zm26 0zm18 0zm-50 1zm61 0zm-58 1zm5 0zm9 0zm-7 2zm7 4zm32 2zm-50 1zm51 0zm-28 1zm15 1zm6 2zm-42 1zm5 0zm20 0zm4 1zm26 0zm-14 1zm6 0zm-2 2zm-28 1zm34 0zm-23 1zm9 0zm19 1zm-55 2zm24 1zm12 2zm11 0zm-33 2zm-17 1zm49 0zm-26 1zm21 0zm7 0zm-30 1zm-8 1zm37 1zm-43 2zm26 0zm31 0zm-29 1zm-20 1zm13 0zm17 1zm15 0zm-6 1zm-11 4zm-25 3zm8 0zm-10 3zm43 1zm0 0zm-30 1zm-4 2zm20 7zm4 2zm-10 4zm-38 1zm18 4zm17 4zm7 2zm-41 4zm-4 1zm62 0zm-60 1zm21 5zm3 1zm22 0zm-11 2zm-7 1zm-24 2zm5 3zm2 0zm4 1zm1 3zm25 2zm9 0zm-37 6zm-3 4zm16 0zm17 2zm9 0zm11 2zm-41 1zm22 3zm-38 1zm41 5zm-47 1zm27 1zm-2 1zm9 3zm-22 2zm3 4zm32 4zm-27 1zm10 0zm-24 2zm30 3zm19 1zm-53 1zm62 3zm-9 3zm-8 2zm-10 1zm-36 5zm31 0zm29 4zm-22 1zm9 1zm-26 1zm-15 4zm34 4zm17 1zm-17 6zm10 4zm-49 35zm31 9zm9 2zm-16 23zm-10 8zm-10 16zm51 9zm-33 10zm10 11zm2 31zm-35 28zm35 3zm21 31zm-41 65z" stroke="#1f77b4" stroke-width="3" stroke-opacity="0.33"/>
<path d="M453 90zm9 0zm-32 1zm-5 3zm26 1zm-15 2zm25 0zm14 0zm-45 2zm26 1zm14 1zm14 0zm-35 2zm27 0zm-27 1zm12 0zm-12 1zm11 0zm24 0zm-28 2zm12 0zm-4 1zm8 0zm-40 1zm10 0zm14 0zm21 4zm-41 1zm33 0zm11 1zm4 0zm-61 1zm31 0zm-36 1zm2 0zm22 0zm19 0zm3 0zm-7 1zm-27 1zm-2 1zm11 0zm21 0zm15 0zm-50 1zm35 0zm-41 2zm37 0zm6 0zm-42 2zm28 0zm-23 1zm43 0zm-32 1zm16 0zm-24 1zm29 2zm-29 2zm42 0zm-14 3zm-27 1zm42 0zm-35 1zm-5 1zm5 0zm-9 1zm53 0zm-6 1zm-10 3zm-3 1zm-30 1zm25 0zm16 0zm11 0zm-3 1zm-29 1zm-9 3zm8 0zm-12 1zm14 1zm-24 2zm-6 1zm30 1zm1 1zm24 0zm-11 1zm-45 1zm27 0zm25 1zm-30 1zm20 1zm19 2zm-48 5zm14 0zm3 0zm-9 5zm4 1zm-22 2zm16 1zm3 0zm-20 1zm44 0zm-43 1zm2 1zm30 1zm9 1zm14 1zm5 0zm-36 2zm8 0zm19 0zm7 0zm0 1zm-28 2zm18 2zm-6 1zm18 1zm-49 3zm12 0zm-20 2zm40 0zm-28 6zm15 0zm-36 1zm50 0zm-36 1zm0 2zm-3 1zm1 1zm7 1zm33 1zm-50 4zm61 3zm-46 1zm29 4zm10 2zm-44 5zm20 1zm-10 1zm-14 2zm51 0zm-32 4zm-23 1zm20 0zm1 6zm21 2zm-31 7zm43 0zm5 1zm-1 3zm-43 6zm18 0zm11 2zm-38 5zm1 1zm-10 5zm30 4zm30 3zm-23 23zm-27 6zm17 7zm6 1zm24 2zm-57 17zm57 26zm-26 7zm-24 26zm42 71zm-2 271z" stroke="#d62728" stroke-width="3" stroke-opacity="0.33"/>
<path d="M464 91zm-34 1zm5 1zm21 0zm-27 1zm17 0zm4 2zm-21 1zm54 1zm-62 1zm14 0zm18 1zm-17 2zm49 0zm-56 1zm33 0zm4 1zm-31 1zm16 1zm9 0zm-18 1zm-12 1zm18 0zm-16 1zm47 0zm-60 1zm32 0zm18 0zm14 0zm-62 1zm11 1zm8 0zm35 0zm-48 1zm46 1zm1 0zm-49 1zm49 1zm-43 1zm2 0zm-13 1zm2 0zm31 0zm2 0zm19 0zm-37 1zm26 0zm-27 3zm-9 3zm3 0zm25 0zm-17 1zm22 1zm-34 1zm2 0zm56 0zm-54 2zm12 1zm4 0zm-12 1zm-2 1zm31 0zm3 1zm-2 2zm9 0zm-29 1zm-25 2zm49 0zm-37 2zm16 0zm25 1zm6 2zm4 1zm-30 1zm8 0zm6 2zm-36 1zm8 0zm-17 1zm29 0zm21 0zm4 0zm-45 4zm-9 1zm3 0zm3 1zm6 1zm26 1zm-29 2zm8 0zm-17 1zm52 0zm-50 1zm30 2zm11 0zm-34 1zm24 0zm19 0zm-13 2zm21 1zm-13 1zm-13 1zm-28 1zm55 4zm-39 2zm-4 1zm6 4zm8 1zm-14 3zm16 0zm20 0zm-45 1zm19 0zm4 1zm27 0zm2 2zm-42 1zm28 0zm-16 2zm18 0zm-3 1zm-36 2zm30 0zm-23 1zm11 2zm-10 1zm42 0zm-38 3zm4 3zm-8 2zm31 0zm11 3zm-18 3zm15 0zm-49 4zm13 1zm20 0zm17 1zm-58 1zm10 8zm6 2zm31 1zm14 2zm-7 7zm-22 7zm4 0zm-12 8zm-23 3zm56 1zm-13 4zm20 0zm-36 1zm-7 5zm18 0zm5 2zm-37 8zm47 12zm-5 18zm-28 17zm11 15zm12 1zm3 17zm6 2zm-6 41zm-18 17zm13 18zm-18 18zm-24 46z" stroke="#d62728" stroke-width="3" stroke-opacity="0.33"/>
<path d="M577 213zm-18 8zm-11 13zm15 16zm-10 1zm8 6zm51 3zm-53 1zm0 4zm8 7zm40 0zm1 3zm-37 6zm31 1zm-7 4zm16 1zm-60 2zm22 0zm24 3zm-1 5zm-38 1zm-11 3zm43 1zm-39 1zm62 1zm-43 1zm14 1zm15 4zm4 0zm-3 1zm6 3zm6 0zm-39 2zm9 1zm26 7zm-50 3zm-6 1zm42 1zm-40 1zm9 0zm11 1zm3 0zm28 3zm-1 1zm-8 1zm-26 1zm35 2zm-36 1zm13 0zm-12 2zm-5 2zm44 0zm-56 1zm16 0zm23 0zm-7 1zm0 0zm-37 1zm13 1zm-7 4zm4 0zm46 0zm-45 1zm12 1zm-22 5zm63 0zm-39 1zm36 3zm-62 1zm9 0zm4 0zm42 0zm-48 2zm29 1zm13 2zm-23 1zm9 0zm-22 2zm30 1zm-8 1zm30 0zm-50 1zm20 0zm4 1zm2 0zm4 1zm-36 3zm20 0zm20 1zm-27 1zm38 2zm0 0zm-36 2zm16 1zm-26 1zm13 0zm-25 1zm4 0zm21 0zm17 0zm21 0zm-15 1zm-11 1zm-27 1zm7 0zm-5 1zm14 0zm7 0zm20 0zm-38 1zm24 1zm-29 1zm48 0zm-44 1zm-13 1zm28 0zm-7 1zm13 1zm-37 2zm36 0zm21 0zm-26 1zm-26 1zm55 0zm-46 1zm0 0zm18 4zm12 0zm11 1zm5 1zm-2 1zm-31 1zm-20 1zm28 0zm27 1zm-51 2zm26 2zm6 0zm11 0zm5 0zm-30 1zm1 0zm4 0zm28 0zm-46 1zm-13 1zm2 0zm13 0zm19 0zm8 0zm-32 1zm-6 1zm-2 2zm6 0zm49 0zm-14 1zm-12 1zm5 0zm4 0zm5 0zm-17 3zm5 0zm20 0zm-3 2zm3 0zm-48 1zm33 0zm7 0zm1 0zm-19 1zm29 0zm-1 3zm-38 1zm1 0zm15 0zm11 0zm-17 1zm17 0zm-41 2zm46 0zm2 0zm-31 1zm5 0zm10 0zm11 2zm-43 1zm13 0zm26 2zm14 0zm-58 2zm4 0zm5 2zm2 0zm2 0zm31 2zm6 0zm7 0zm-27 1zm21 0zm-47 1zm49 0zm1 2zm7 0zm-58 1zm18 0zm29 0zm10 0zm-34 3zm0 0zm15 1zm-29 1zm21 0zm30 0zm0 0zm-1 1zm-4 1zm6 0zm-7 1zm-6 1zm-33 1zm31 0zm11 0zm-6 1zm-12 1zm3 0zm14 0zm-34 1zm7 0zm20 1zm4 0zm-18 1zm9 0zm10 0zm-1 1zm1 0zm9 0zm-66 1zm48 0zm-42 1zm18 0zm9 0zm16 0zm-36 1zm2 0zm25 0zm-20 1zm19 1zm-36 1zm8 0zm20 0zm-27 1zm22 0zm-25 1zm3 0zm10 0zm-8 2zm35 0zm10 2zm-24 1zm10 1zm-36 1zm31 0zm5 0zm24 0zm4 0zm-33 1zm31 0zm-17 1zm2 1zm-44 1zm20 0zm29 0zm-28 1zm5 0zm7 0zm-26 1zm16 0zm-12 1zm34 0zm2 0zm-38 1zm43 0zm-54 1zm6 0zm3 0zm31 0zm-23 1zm40 0zm3 0zm-51 1zm34 0zm3 1zm-31 2zm7 0zm5 0zm-29 1zm45 0zm3 0zm-38 1zm0 1zm-7 1zm10 0zm4 0zm1 0zm28 0zm4 0zm-47 1zm38 0zm1 0zm16 0zm-17 1zm-32 1zm11 0zm6 0zm7 0zm-33 2zm9 1zm1 0zm10 0zm21 0zm-30 1zm14 1zm3 0zm15 0zm5 0zm-37 1zm12 0zm13 0zm0 0zm14 0zm6 0zm-41 1zm31 1zm7 0zm-42 1zm11 0zm1 0zm3 0zm-22 1zm12 0zm-13 1zm41 0zm16 1zm6 0zm-53 1zm8 0zm-19 1zm2 0zm4 0zm3 0zm22 0zm19 0zm4 1zm-49 1zm10 0zm33 1zm-19 1zm7 0zm-7 1zm-31 1zm3 0zm23 0zm7 0zm6 0zm6 0zm12 0zm-12 1zm-10 1zm18 0zm-38 1zm9 0zm15 0zm-19 1zm36 0zm6 0zm-37 1zm3 0zm0 1zm5 0zm29 0zm-45 2zm19 0zm3 0zm14 0zm8 0zm-16 1zm-42 1zm13 0zm18 0zm25 0zm-45 2zm1 0zm5 0zm4 0zm-17 1zm6 0zm36 0zm-41 1zm7 0zm40 0zm-46 1zm3 0zm-11 1zm20 1zm37 0zm3 0zm4 0zm-48 1zm6 0zm15 0zm-38 2zm13 0zm8 0zm-10 1zm13 0zm-7 1zm13 0zm1 0zm11 0zm17 0zm-48 1zm1 0zm4 0zm15 0zm4 0zm26 0zm-32 1zm37 0zm-28 1zm10 0zm16 0zm-26 1zm21 0zm-51 1zm15 0zm5 0zm4 0zm14 0zm3 1zm3 0zm-51 1zm5 0zm0 0zm2 0zm10 0zm16 0zm-5 1zm-23 1zm4 0zm30 1zm20 1zm-12 1zm-22 1zm33 0zm-57 2zm41 0zm-23 2zm11 0zm2 0zm2 0zm-13 1zm7 0zm25 0zm-54 1zm45 0zm2 0zm-1 1zm-28 1zm39 0zm-46 2zm39 0zm-50 1zm37 1zm24 0zm-52 1zm6 0zm11 0zm5 1zm-1 3zm-24 1zm54 1zm-2 1zm3 1zm-6 1zm8 0zm-64 1zm20 0zm-19 1zm51 0zm-44 1zm31 0zm-25 1zm20 1zm-26 1zm41 1zm7 0zm-52 1zm23 0zm6 1zm13 1zm13 0zm-54 1zm16 0zm28 0zm10 0zm-56 1zm25 0zm-19 2zm12 0zm27 0zm10 0zm6 0zm-44 1zm47 0zm-32 3zm-22 1zm2 0zm12 0zm3 0zm16 0zm15 1zm4 0zm2 0zm-34 1zm13 5zm-5 1zm-31 1zm7 0zm0 0zm17 1zm5 0zm21 0zm-23 1zm0 0zm25 0zm-61 1zm14 0zm14 0zm33 0zm4 0zm-3 2zm-5 1zm-29 2zm29 0zm-57 1zm3 0zm18 0zm6 0zm-19 1zm3 0zm7 0zm-4 1zm21 0zm-2 2zm28 0zm-32 1zm10 0zm-38 1zm40 0zm20 0zm-35 1zm4 0zm-3 1zm27 0zm-52 1zm11 0zm48 1zm3 1zm-65 1zm31 0zm-1 1zm-1 1zm12 0zm-22 3zm16 0zm31 1zm-59 1zm4 0zm52 0zm-38 3zm-21 1zm-2 1zm17 0zm1 0zm38 1zm-35 1zm-19 3zm59 1zm-18 1zm5 0zm-22 1zm21 0zm-31 2zm17 0zm3 1zm13 0zm-39 1zm-2 1zm16 0zm-13 1zm39 0zm-46 2zm10 1zm21 0zm-25 1zm47 0zm-49 1zm54 0zm-36 1zm-13 2zm52 0zm-57 1zm28 0zm3 1zm-8 1zm-26 2zm10 0zm6 1zm39 0zm-48 2zm52 1zm-55 2zm25 0zm2 0zm14 0zm-44 1zm23 1zm-21 1zm21 0zm18 0zm12 0zm-4 1zm-42 1zm-5 1zm35 0zm-14 1zm18 0zm-32 2zm5 0zm20 0zm0 1zm-21 2zm19 0zm-39 1zm58 1zm4 0zm-61 1zm15 0zm45 0zm-48 2zm8 0zm7 0zm-7 1zm28 0zm3 0zm-35 1zm23 0zm-33 1zm44 0zm6 0zm-30 1zm32 0zm-29 1zm13 0zm4 0zm2 1zm-12 2zm11 0zm-3 3zm15 1zm-59 2zm1 1zm25 1zm-27 2zm56 0zm-27 1zm6 1zm-22 1zm31 3zm9 0zm-38 3zm-4 1zm21 0zm3 0zm2 0zm15 1zm5 0zm4 0zm-44 2zm8 0zm19 0zm-30 1zm8 0zm1 0zm38 0zm-46 1zm1 0zm15 1zm-29 1zm26 0zm-28 3zm61 0zm-44 1zm-18 1zm22 3zm35 0zm-57 2zm18 0zm24 0zm-39 1zm5 0zm48 1zm-42 1zm21 0zm17 0zm-38 2zm45 0zm-50 1zm3 0zm26 0zm-37 1zm65 1zm-45 1zm7 0zm28 0zm-21 1zm10 0zm-39 2zm1 0zm24 0zm20 0zm-40 1zm53 0zm-40 3zm39 0zm-54 1zm46 0zm3 1zm-35 1zm-8 2zm27 0zm2 0zm-42 1zm2 0zm54 0zm-17 1zm-14 1zm15 0zm6 0zm-13 1zm15 0zm-23 1zm27 1zm0 0zm-46 1zm40 0zm7 3zm-3 1zm-35 1zm30 0zm-40 4zm43 1zm5 0zm3 0zm-30 2zm-5 1zm26 0zm-6 1zm4 1zm18 1zm-54 1zm36 0zm6 1zm-38 1zm45 1zm-47 1zm29 0zm-19 1zm7 0zm21 0zm6 1zm-30 1zm11 0zm-34 1zm46 2zm2 3zm7 0zm4 0zm-53 1zm26 0zm20 0zm-48 1zm11 1zm14 2zm-27 1zm-2 1zm1 0zm27 0zm3 0zm2 1zm10 0zm-24 1zm23 0zm15 0zm-56 1zm7 0zm34 0zm-33 1zm0 1zm44 0zm-15 2zm-21 2zm24 1zm-44 1zm46 1zm8 0zm-3 2zm0 1zm-35 3zm40 0zm-35 1zm-14 2zm12 1zm15 0zm19 1zm1 0zm-32 3zm24 1zm-45 2zm31 0zm24 2zm-30 2zm18 0zm14 1zm-44 3zm19 0zm-20 2zm17 1zm-19 1zm13 0zm27 0zm-19 2zm-24 2zm43 2zm-2 1zm10 1zm-18 3zm17 0zm-52 3zm23 3zm-18 2zm3 2zm-14 1zm23 1zm42 5zm-25 2zm-33 1zm-8 3zm18 1zm26 3zm-28 3zm1 2zm35 0zm-50 1zm22 1zm13 0zm-24 1zm34 0zm7 0zm-36 2z" stroke="#bcbd22" stroke-width="3" stroke-opacity="0.36"/>
<path d="M574 236zm18 0zm2 5zm-1 4zm2 4zm2 5zm-8 4zm-20 2zm25 4zm13 3zm-31 2zm-8 5zm-18 2zm16 0zm29 0zm17 1zm-13 3zm-48 12zm63 0zm-7 3zm-51 1zm38 3zm-38 1zm44 2zm0 0zm-28 1zm-25 2zm25 0zm-13 5zm40 7zm-2 2zm-34 1zm2 0zm8 0zm-8 1zm44 0zm-26 3zm-34 1zm6 0zm23 0zm1 0zm24 2zm8 0zm-29 2zm-19 1zm11 1zm-2 1zm25 0zm16 3zm-39 3zm-12 5zm24 0zm10 3zm-47 2zm9 0zm23 0zm-28 2zm35 0zm-18 3zm-18 1zm49 0zm1 0zm-43 1zm23 1zm0 1zm11 0zm9 0zm-30 2zm24 1zm-13 1zm-36 5zm59 1zm-36 1zm7 0zm23 0zm-46 1zm37 0zm-35 2zm29 0zm-21 1zm9 0zm2 0zm-24 1zm53 0zm-21 1zm20 1zm-46 2zm54 0zm-54 3zm2 1zm47 0zm-56 1zm49 0zm-29 1zm28 1zm-46 1zm13 2zm-18 1zm2 0zm61 1zm-17 1zm20 0zm-27 1zm-12 3zm7 0zm-22 2zm17 0zm12 0zm11 0zm6 0zm-37 1zm46 2zm-37 1zm-26 1zm32 0zm-7 1zm33 0zm-61 1zm9 0zm12 0zm-1 2zm20 1zm-9 1zm-27 1zm42 0zm0 0zm11 0zm-45 3zm3 1zm40 0zm-13 1zm-32 1zm32 0zm-5 2zm15 2zm-53 1zm22 0zm8 0zm-7 1zm15 0zm7 0zm-44 1zm13 0zm8 0zm29 0zm-50 1zm26 1zm35 0zm-53 1zm18 0zm32 1zm-26 2zm-26 2zm-1 1zm55 0zm-26 1zm12 1zm12 0zm3 1zm-43 1zm28 0zm6 0zm-2 1zm-20 1zm12 0zm-37 1zm34 0zm7 0zm-35 2zm18 0zm-25 2zm28 1zm-7 1zm-15 1zm1 2zm5 0zm45 0zm-58 1zm6 0zm28 0zm7 0zm7 0zm-14 1zm14 0zm0 0zm-40 1zm37 1zm-5 1zm11 0zm-5 1zm-47 2zm2 0zm-4 1zm38 0zm2 0zm17 1zm5 0zm-51 2zm10 0zm10 1zm21 0zm11 0zm-59 2zm2 0zm5 0zm23 0zm21 0zm-35 1zm12 0zm-12 1zm3 0zm13 0zm4 0zm-20 1zm11 1zm16 0zm10 0zm4 0zm-50 1zm23 0zm-32 1zm42 0zm-15 1zm3 0zm4 0zm2 0zm-13 1zm-1 1zm11 0zm7 0zm0 0zm-1 1zm8 0zm-37 1zm22 0zm8 1zm11 0zm4 0zm-27 1zm19 0zm-36 1zm8 0zm33 2zm7 0zm-45 1zm-1 1zm1 0zm-3 1zm27 0zm22 0zm-23 1zm3 0zm8 0zm10 0zm-49 1zm6 0zm5 0zm22 0zm-31 1zm18 1zm1 0zm5 0zm28 0zm-50 1zm15 0zm-20 1zm10 0zm28 0zm-33 1zm-13 1zm40 1zm5 0zm-45 1zm34 0zm18 0zm6 0zm1 0zm4 0zm-43 1zm-17 1zm39 0zm-37 1zm30 0zm20 0zm-55 1zm60 0zm-57 1zm13 0zm8 0zm18 1zm4 1zm-48 1zm13 0zm21 0zm17 0zm-13 1zm-19 1zm4 0zm22 0zm-19 1zm8 0zm-24 1zm12 0zm0 1zm-11 1zm41 0zm4 0zm10 0zm-59 1zm-7 1zm39 1zm6 0zm14 0zm-52 1zm42 0zm-16 1zm14 0zm-37 1zm12 0zm3 0zm8 0zm3 0zm18 0zm-41 1zm-13 1zm44 1zm-35 1zm4 0zm38 0zm-47 1zm0 0zm0 1zm52 0zm-36 1zm1 0zm6 0zm37 0zm-36 1zm-5 1zm11 0zm24 0zm-50 1zm2 0zm5 0zm2 0zm26 0zm20 0zm-61 1zm4 0zm39 0zm-46 1zm35 0zm-34 1zm22 0zm2 0zm3 0zm2 0zm11 0zm-27 1zm27 0zm18 0zm-39 1zm37 0zm5 0zm-57 1zm17 0zm41 0zm-53 1zm22 0zm1 0zm29 1zm-47 1zm30 0zm11 0zm-50 1zm0 0zm26 0zm6 0zm-27 1zm11 0zm8 0zm16 0zm-35 1zm30 0zm26 0zm-67 1zm39 0zm-15 1zm27 0zm5 0zm4 0zm-33 1zm10 1zm-16 1zm17 0zm0 1zm13 0zm6 0zm6 0zm-62 1zm8 0zm4 0zm11 0zm-21 1zm5 0zm0 0zm1 0zm6 0zm1 0zm23 0zm14 1zm-21 1zm8 0zm9 0zm-29 1zm11 0zm-3 1zm16 0zm-40 1zm6 0zm42 0zm1 0zm-29 1zm6 1zm24 0zm-35 1zm28 0zm12 0zm-33 1zm3 0zm12 0zm10 0zm8 0zm-58 1zm3 0zm1 0zm25 0zm1 0zm-26 1zm6 0zm10 0zm32 0zm14 0zm-61 1zm2 0zm6 0zm25 0zm-23 2zm4 0zm7 0zm28 0zm9 0zm-25 1zm7 0zm10 0zm-21 1zm0 1zm20 0zm10 0zm-43 1zm2 0zm27 0zm11 0zm-52 1zm6 1zm26 0zm-34 1zm36 0zm-33 1zm27 0zm-12 2zm8 0zm6 0zm21 1zm-13 1zm6 1zm5 0zm-22 1zm-22 1zm-9 2zm35 0zm-38 1zm18 0zm-19 1zm32 0zm-10 1zm-4 2zm-16 2zm21 0zm14 0zm-2 1zm28 0zm-37 1zm11 2zm7 0zm-43 1zm15 1zm3 0zm36 0zm0 0zm-47 1zm8 0zm29 0zm-21 1zm3 1zm37 0zm-41 1zm9 0zm10 0zm18 0zm-8 1zm-7 1zm-13 2zm-20 1zm8 1zm-13 1zm49 0zm-22 1zm26 1zm-32 1zm-2 2zm-19 3zm18 0zm18 1zm17 0zm-21 1zm8 0zm-21 2zm35 0zm-31 1zm21 0zm-26 1zm-27 1zm15 0zm9 0zm3 2zm18 0zm21 0zm-40 1zm38 0zm2 2zm-54 1zm7 1zm2 1zm12 0zm11 2zm-16 1zm-20 1zm5 1zm44 0zm7 1zm-64 1zm14 0zm5 2zm24 0zm2 0zm-32 1zm25 0zm13 2zm9 2zm-25 1zm-33 2zm4 2zm11 0zm5 0zm4 3zm28 0zm-47 2zm23 0zm-2 1zm-6 1zm19 0zm-23 1zm49 0zm-55 2zm46 0zm-53 2zm29 0zm33 0zm-34 1zm6 0zm16 0zm-32 2zm35 1zm-30 1zm12 1zm8 0zm-25 1zm35 0zm-25 1zm1 0zm17 1zm8 1zm5 0zm-42 1zm15 0zm9 0zm-22 3zm3 1zm19 0zm2 0zm9 0zm-32 3zm8 0zm23 0zm-27 2zm7 0zm-16 1zm26 0zm-43 1zm54 1zm-41 1zm7 1zm6 0zm33 0zm-40 2zm20 0zm-25 1zm45 0zm-49 2zm40 0zm-2 5zm7 0zm5 0zm-56 1zm51 1zm-13 1zm-41 1zm53 0zm7 0zm-61 1zm4 2zm25 0zm29 0zm4 0zm-63 1zm48 0zm-20 2zm14 0zm1 1zm-19 3zm30 1zm1 0zm-54 2zm17 0zm-13 1zm26 0zm3 0zm28 0zm-26 1zm27 0zm-52 1zm36 0zm-36 2zm18 1zm27 2zm-50 1zm30 0zm-25 1zm-1 1zm1 0zm13 0zm-8 1zm18 1zm9 0zm-42 2zm20 0zm2 0zm25 0zm11 0zm-48 1zm31 0zm11 0zm-53 2zm32 0zm19 0zm-53 1zm16 0zm36 0zm2 0zm5 1zm-56 1zm40 0zm14 1zm-10 1zm1 0zm9 0zm-50 1zm44 0zm9 0zm-59 3zm1 0zm62 1zm-48 1zm19 0zm6 1zm13 0zm4 0zm-53 1zm38 0zm6 1zm-43 2zm14 0zm45 0zm-46 1zm46 0zm-43 1zm2 0zm-18 1zm6 0zm48 0zm-53 1zm42 0zm6 0zm11 0zm-56 1zm40 0zm-34 1zm-14 1zm52 0zm-5 1zm-47 2zm5 0zm1 0zm5 0zm45 1zm-21 2zm3 0zm-32 1zm16 0zm15 0zm23 0zm-43 1zm4 3zm10 0zm-24 1zm22 0zm-29 1zm10 1zm26 0zm-37 1zm7 1zm29 0zm-21 1zm32 1zm5 0zm4 0zm-29 1zm-4 1zm13 0zm-21 2zm0 0zm14 0zm14 1zm-9 1zm28 0zm4 1zm-44 1zm36 1zm-37 2zm14 0zm-8 1zm-12 1zm16 0zm11 1zm17 0zm-37 1zm19 0zm20 0zm-52 1zm40 0zm-39 1zm28 0zm18 0zm-5 1zm-20 1zm2 0zm11 1zm-19 1zm4 2zm6 0zm-24 1zm45 0zm10 0zm-35 1zm2 0zm1 1zm3 0zm20 0zm-45 1zm37 0zm-10 2zm21 0zm4 1zm-56 5zm21 0zm11 0zm-10 3zm-23 1zm45 0zm-30 1zm3 0zm-11 1zm24 0zm13 1zm-20 1zm22 0zm-14 1zm-23 2zm43 0zm4 0zm-31 1zm-32 4zm17 2zm-10 2zm-8 1zm46 3zm11 2zm-49 1zm18 0zm16 1zm2 0zm-31 1zm31 0zm4 8zm-6 1zm-3 2zm-19 1zm27 0zm9 1zm-31 2zm10 1zm-1 2zm27 4zm-49 2zm41 1zm-32 3zm5 0zm28 1zm-34 2zm5 2zm-9 1zm47 3zm-63 2zm10 0zm30 1zm9 1zm-9 4zm-19 1zm45 4zm-21 1zm-26 1zm28 0zm15 0zm-45 1zm35 1zm5 1zm5 0zm-43 3zm20 0zm-32 1zm48 1zm-38 5zm29 0zm-40 6zm24 0zm22 3zm-48 3zm27 0z" stroke="#bcbd22" stroke-width="3" stroke-opacity="0.36"/>
<path d="M565 224zm-8 8zm-9 8zm14 4zm13 5zm35 5zm-1 7zm-43 1zm23 5zm3 1zm-39 6zm45 0zm-47 8zm16 0zm30 0zm-2 2zm-40 2zm-2 3zm13 1zm13 2zm5 0zm8 0zm13 0zm-3 1zm6 6zm-26 1zm20 0zm-31 7zm39 2zm-46 1zm-11 1zm59 0zm-26 1zm24 0zm-50 3zm6 1zm25 0zm8 0zm-32 1zm5 2zm30 2zm-25 1zm-10 1zm31 2zm-42 3zm27 0zm5 4zm-15 2zm12 0zm20 1zm-44 1zm5 0zm25 0zm-43 1zm6 1zm47 0zm10 0zm-12 1zm5 0zm-57 4zm8 1zm-2 2zm6 2zm30 0zm24 0zm-44 1zm-6 1zm14 2zm29 0zm-51 1zm39 1zm-18 1zm3 0zm-26 1zm-4 1zm30 0zm18 3zm-41 1zm6 0zm-9 2zm13 1zm41 0zm-60 2zm54 0zm-43 1zm49 1zm3 0zm4 0zm-52 6zm43 0zm-40 1zm46 0zm2 0zm-46 1zm32 1zm-39 1zm35 0zm-40 1zm33 0zm6 0zm-35 1zm38 0zm7 0zm-38 1zm9 1zm-5 1zm33 1zm2 0zm-47 2zm37 1zm-42 2zm32 0zm13 2zm6 0zm-52 1zm9 0zm34 0zm17 0zm-25 1zm-9 1zm-10 3zm6 0zm17 0zm-8 1zm24 0zm-55 1zm0 1zm1 2zm12 2zm44 0zm-55 1zm18 0zm26 0zm-23 1zm0 0zm-24 1zm30 0zm22 0zm11 0zm-67 1zm31 0zm34 0zm-33 1zm26 1zm-35 1zm22 0zm-31 1zm8 0zm1 0zm1 0zm-2 1zm-5 2zm11 1zm37 0zm-56 1zm10 0zm23 0zm-16 1zm-7 2zm13 0zm-21 1zm31 0zm-13 1zm18 0zm-26 1zm18 1zm4 0zm-15 1zm1 0zm19 0zm11 3zm-58 1zm8 0zm13 0zm12 0zm-26 1zm4 0zm20 0zm22 0zm8 0zm-37 1zm1 1zm5 0zm-21 1zm17 1zm0 0zm3 0zm27 0zm-40 3zm16 0zm27 0zm-58 1zm19 1zm23 0zm0 0zm-28 1zm-16 1zm50 1zm-47 1zm52 0zm-15 1zm21 0zm5 0zm-39 1zm7 0zm23 0zm-42 1zm4 0zm6 0zm13 0zm11 0zm-29 1zm0 0zm14 1zm-28 1zm12 0zm42 0zm1 0zm1 0zm-53 1zm25 0zm12 0zm-13 1zm-5 1zm1 0zm33 0zm5 0zm-59 1zm12 0zm40 0zm6 0zm-43 1zm8 0zm35 1zm-54 1zm17 0zm13 1zm-42 1zm24 0zm10 0zm10 1zm-40 1zm9 0zm3 0zm5 0zm30 0zm14 0zm-45 1zm45 0zm-18 1zm-21 1zm8 0zm-29 3zm6 0zm9 0zm2 0zm2 1zm-24 1zm37 0zm19 0zm-55 2zm36 0zm6 0zm-32 1zm-10 1zm21 0zm3 0zm21 1zm15 0zm-25 1zm-34 1zm7 1zm3 0zm-7 1zm9 0zm-5 1zm7 0zm24 0zm-5 1zm-8 1zm17 0zm11 0zm-30 2zm5 0zm20 0zm-21 1zm31 0zm3 0zm-36 1zm14 0zm20 1zm-28 1zm1 0zm32 0zm-52 1zm51 0zm-4 1zm-58 1zm26 0zm-21 1zm6 0zm28 0zm18 0zm-10 1zm13 0zm2 0zm-57 1zm19 0zm21 0zm-1 1zm15 0zm4 0zm-46 1zm-17 1zm32 0zm-3 1zm0 0zm-23 1zm17 0zm17 1zm-38 1zm45 0zm-38 1zm1 0zm18 0zm27 0zm-55 1zm5 0zm4 0zm4 1zm6 0zm5 0zm11 0zm10 0zm18 0zm-59 1zm16 1zm9 0zm6 0zm5 0zm9 0zm3 0zm-48 1zm25 0zm6 0zm-12 1zm22 0zm15 0zm4 0zm-44 1zm23 0zm4 1zm7 0zm-55 1zm20 0zm-11 1zm26 0zm13 0zm3 0zm11 1zm-30 2zm15 0zm-38 1zm7 0zm38 0zm-38 1zm42 0zm5 0zm-35 1zm22 0zm7 0zm8 0zm-60 1zm58 0zm-16 2zm-49 1zm10 0zm14 0zm7 0zm0 0zm22 0zm-33 1zm-12 1zm4 0zm44 0zm-31 1zm-21 1zm21 0zm9 0zm29 0zm-58 1zm22 0zm4 1zm2 0zm21 0zm-41 4zm17 0zm24 0zm2 0zm1 0zm-40 1zm39 0zm4 0zm-58 1zm59 0zm-20 1zm8 0zm0 1zm14 0zm-26 1zm-36 1zm17 0zm16 0zm2 0zm5 0zm10 0zm1 0zm9 0zm6 0zm-62 1zm16 0zm37 0zm-26 1zm18 0zm-37 1zm8 0zm33 0zm-26 1zm26 0zm-27 1zm3 0zm20 0zm6 0zm9 0zm-58 1zm9 0zm-13 1zm11 0zm9 0zm19 0zm11 0zm11 1zm-59 1zm47 0zm6 0zm5 0zm3 0zm-29 1zm-27 1zm29 0zm14 0zm-21 1zm8 1zm-39 1zm5 0zm25 0zm9 0zm-40 1zm26 0zm-22 1zm27 1zm-2 1zm-8 1zm-15 1zm31 0zm19 0zm-28 1zm10 0zm22 0zm4 0zm-61 1zm19 0zm5 0zm6 0zm22 0zm9 0zm-53 1zm26 0zm22 0zm-48 1zm5 0zm11 0zm32 0zm-34 1zm-25 1zm15 1zm24 0zm4 0zm17 0zm-45 1zm-12 1zm30 0zm11 0zm19 0zm2 0zm-50 2zm30 0zm-30 6zm30 0zm0 0zm5 0zm-16 1zm3 0zm-25 2zm15 0zm35 0zm-47 2zm27 0zm10 0zm8 0zm-55 1zm15 1zm44 0zm-55 1zm37 1zm15 1zm-38 3zm25 0zm-41 1zm22 1zm10 1zm0 1zm9 0zm-21 1zm16 2zm-35 1zm51 0zm-14 2zm-4 1zm11 0zm14 0zm-12 1zm9 0zm-50 3zm-12 1zm48 0zm6 1zm3 0zm-52 2zm1 2zm16 1zm11 0zm12 1zm-28 1zm26 0zm4 0zm-28 1zm23 0zm-39 1zm1 1zm2 0zm58 0zm-26 2zm7 0zm-30 2zm6 0zm20 1zm-29 1zm12 2zm28 1zm-28 1zm33 0zm-17 1zm-33 1zm18 0zm12 1zm-25 1zm18 1zm23 0zm-9 1zm-14 1zm21 0zm-47 1zm7 2zm-1 1zm-4 1zm14 0zm-5 1zm22 0zm-8 1zm36 2zm-48 1zm20 0zm-28 1zm14 0zm21 0zm18 0zm-38 1zm-19 1zm24 0zm23 0zm-13 1zm-28 1zm12 0zm13 0zm-31 1zm34 0zm4 0zm5 0zm-44 1zm41 0zm-23 1zm15 1zm10 1zm-14 1zm18 0zm-3 1zm-42 2zm42 0zm-41 1zm48 0zm-52 2zm26 0zm26 1zm-46 2zm21 0zm-1 1zm3 3zm11 0zm15 0zm2 1zm-58 1zm16 0zm17 0zm-18 2zm3 0zm37 0zm-42 1zm33 0zm-37 1zm6 0zm12 1zm13 0zm-35 1zm11 0zm2 0zm23 2zm-44 1zm5 0zm48 0zm-24 1zm-11 2zm43 0zm-44 1zm29 1zm-33 1zm31 0zm-41 1zm35 0zm1 0zm1 0zm16 0zm-38 1zm2 1zm26 0zm10 3zm7 1zm-31 1zm4 0zm9 0zm3 1zm7 0zm-29 3zm28 0zm3 0zm-48 1zm57 0zm-25 1zm-28 2zm47 0zm-28 1zm-15 2zm-14 1zm52 2zm11 1zm-47 1zm-17 1zm13 0zm1 2zm8 0zm-16 2zm26 0zm13 0zm-25 1zm-15 1zm13 1zm22 0zm3 0zm8 3zm-51 4zm22 0zm25 0zm-6 1zm-40 2zm9 0zm7 0zm29 0zm0 0zm-46 1zm43 2zm11 0zm-42 1zm52 1zm-63 1zm62 0zm-15 1zm-2 1zm-44 3zm32 0zm6 2zm-31 1zm22 0zm4 1zm26 1zm-50 1zm4 0zm29 0zm-22 2zm23 0zm-47 1zm36 0zm6 3zm-25 1zm9 1zm34 1zm-47 3zm42 1zm12 1zm-43 2zm27 0zm4 0zm6 0zm-60 1zm40 1zm-36 1zm37 0zm-36 1zm59 0zm-53 1zm-5 1zm44 2zm-37 1zm13 0zm34 0zm-47 2zm9 0zm0 0zm-20 2zm7 0zm28 0zm25 0zm-52 1zm-6 1zm9 1zm-6 1zm5 0zm13 0zm-13 2zm9 0zm-8 1zm40 0zm-18 1zm-31 1zm11 1zm23 0zm2 0zm-32 1zm25 0zm23 0zm-30 1zm27 1zm8 1zm2 1zm-27 1zm-14 1zm22 1zm-24 2zm13 0zm-24 1zm5 0zm10 0zm36 0zm-21 1zm6 0zm13 0zm5 0zm-42 1zm1 0zm10 1zm7 1zm-28 1zm-6 1zm33 1zm0 0zm18 0zm-37 1zm14 0zm23 0zm9 1zm-45 2zm37 1zm-4 1zm-52 3zm0 1zm5 0zm1 0zm3 0zm-7 2zm0 0zm47 1zm-40 1zm19 3zm-27 1zm58 2zm-2 2zm-42 1zm9 0zm29 3zm-4 1zm-38 2zm37 0zm-49 6zm11 0zm-10 1zm57 0zm-2 2zm-37 1zm31 0zm15 3zm-40 4zm4 1zm-29 2zm34 0zm-14 1zm45 0zm-19 2zm18 1zm-5 8zm3 2zm-9 1zm-7 1zm-20 1zm17 1zm-25 3zm-12 2zm5 0zm2 0zm53 2zm-55 1zm32 0zm-12 1zm6 0zm-9 6zm33 0zm-20 2zm8 5zm-39 1zm9 1zm30 0zm7 0zm-10 1zm7 0zm6 0zm3 0zm-6 2zm-50 2zm45 3zm-14 5zm-32 1z" stroke="#bcbd22" stroke-width="3" stroke-opacity="0.36"/>
<path d="M695 134zm-7 2zm-3 1zm26 0zm-4 1zm-11 1zm10 0zm-28 2zm13 0zm31 0zm19 0zm-64 1zm29 2zm19 0zm8 0zm-41 1zm7 2zm-12 1zm5 0zm33 0zm-7 1zm1 1zm-30 2zm47 0zm-23 1zm-17 1zm7 0zm-12 1zm-4 1zm42 0zm14 0zm0 0zm-20 2zm7 2zm-17 1zm-34 1zm43 0zm-18 1zm2 0zm6 0zm14 0zm-19 1zm16 0zm11 0zm-57 3zm26 0zm0 0zm13 0zm-30 1zm-6 1zm28 1zm-12 1zm15 0zm5 0zm4 0zm-18 1zm-1 1zm29 1zm-49 1zm10 0zm7 1zm29 0zm1 0zm1 0zm-46 1zm57 0zm-48 1zm8 0zm26 0zm1 0zm-41 1zm11 1zm6 1zm21 0zm-32 1zm32 0zm-23 1zm35 0zm5 0zm-16 1zm11 0zm-36 1zm13 1zm4 0zm4 1zm2 1zm14 0zm1 1zm1 0zm-46 2zm15 0zm25 0zm-16 1zm18 0zm-50 1zm31 0zm19 0zm-39 1zm1 1zm31 0zm1 0zm12 0zm-62 1zm22 0zm15 0zm0 0zm-34 1zm29 0zm2 0zm19 0zm-55 1zm33 0zm12 0zm8 0zm10 0zm-33 1zm-27 1zm14 0zm12 0zm0 0zm33 0zm-37 1zm2 0zm2 1zm2 0zm20 0zm13 0zm-37 1zm-23 1zm30 0zm11 0zm-16 1zm5 0zm7 0zm-39 1zm1 0zm3 0zm19 0zm3 0zm17 0zm4 0zm-31 1zm44 0zm-49 1zm23 0zm13 0zm9 0zm-17 1zm3 0zm4 0zm-12 1zm-36 1zm24 0zm3 0zm38 0zm-54 1zm18 0zm-23 1zm7 0zm24 0zm3 0zm25 0zm-40 1zm16 0zm13 0zm10 0zm-55 1zm14 0zm-14 1zm15 0zm25 0zm8 0zm4 0zm-59 1zm17 1zm1 0zm5 0zm-13 1zm7 0zm26 0zm-42 1zm9 0zm34 0zm19 0zm-29 1zm12 0zm-13 1zm4 0zm27 0zm-42 1zm14 0zm14 0zm9 0zm-42 1zm7 0zm37 0zm-34 1zm-27 1zm8 0zm38 0zm-18 1zm35 1zm-43 1zm2 0zm4 0zm4 0zm1 0zm-7 1zm5 0zm22 0zm-19 1zm3 0zm-33 1zm40 0zm-6 1zm-21 1zm5 0zm28 0zm11 0zm-50 1zm4 0zm17 0zm-18 1zm1 0zm13 1zm9 0zm25 0zm-42 1zm37 0zm-41 1zm38 0zm7 0zm-55 1zm4 0zm9 0zm27 0zm4 0zm1 0zm-36 1zm11 0zm1 0zm3 0zm35 0zm-50 1zm16 0zm5 0zm19 0zm11 0zm-47 1zm27 0zm-30 1zm25 0zm-17 1zm12 0zm7 0zm9 0zm-41 1zm-7 1zm32 0zm25 0zm4 0zm-47 1zm-12 1zm14 0zm22 0zm5 0zm15 0zm-51 1zm9 0zm7 0zm-21 1zm17 0zm8 0zm-18 1zm26 0zm-33 1zm1 0zm4 0zm19 0zm13 0zm1 0zm-21 1zm39 0zm-32 1zm15 0zm16 0zm0 0zm-52 2zm-5 1zm48 0zm-44 1zm12 0zm1 0zm43 0zm-46 1zm47 0zm-2 1zm-58 1zm5 0zm-8 1zm17 0zm15 0zm6 0zm-34 1zm1 0zm2 0zm4 0zm7 0zm2 0zm13 0zm-18 1zm28 0zm2 0zm13 0zm1 0zm1 0zm-46 1zm30 0zm-41 1zm9 0zm48 0zm-36 1zm39 0zm-58 1zm14 0zm35 0zm9 0zm-58 1zm3 0zm7 0zm20 0zm22 0zm-52 1zm11 0zm25 0zm-19 1zm4 0zm1 0zm-19 1zm16 0zm9 0zm4 0zm-33 1zm15 2zm40 0zm-52 1zm26 0zm-28 1zm2 0zm27 0zm18 0zm2 0zm1 0zm-51 1zm10 0zm21 0zm9 0zm3 0zm8 0zm-42 1zm0 0zm1 0zm7 0zm1 0zm33 0zm-22 1zm9 0zm1 0zm4 0zm17 0zm-58 1zm4 0zm2 0zm24 0zm10 0zm10 0zm-57 1zm35 0zm1 0zm10 0zm10 0zm-57 1zm1 0zm7 0zm1 0zm11 0zm9 0zm3 0zm12 0zm3 0zm11 0zm-6 1zm-30 1zm7 0zm8 0zm13 0zm-48 1zm21 0zm13 0zm4 0zm14 0zm-54 1zm1 0zm14 0zm1 0zm-4 1zm16 0zm21 0zm17 0zm-47 1zm19 0zm16 0zm-45 1zm14 0zm10 0zm5 0zm27 0zm-62 1zm28 0zm0 0zm20 0zm1 0zm-51 1zm3 0zm8 0zm27 0zm-35 1zm37 0zm-19 1zm5 0zm6 0zm-34 1zm6 0zm1 0zm10 0zm27 0zm-23 1zm18 0zm4 0zm3 0zm1 0zm6 0zm-48 1zm6 0zm11 0zm15 0zm21 0zm-51 1zm15 0zm13 0zm16 0zm1 0zm-47 2zm7 0zm39 0zm6 0zm-50 1zm0 0zm37 0zm5 0zm9 1zm-27 1zm-17 1zm42 0zm0 0zm4 0zm5 1zm-54 1zm37 0zm1 1zm-9 1zm24 0zm-37 1zm23 0zm6 0zm-19 2zm28 0zm-13 1zm14 0zm-8 1zm-18 1zm24 0zm-58 2zm6 0zm11 0zm-8 1zm1 0zm16 0zm-31 2zm10 0zm-9 2zm13 1zm5 0zm8 0zm-26 1zm0 1zm11 0zm41 0zm6 0zm-37 2zm13 0zm6 0zm-32 1zm26 0zm-29 1zm41 0zm-47 2zm65 0zm-59 1zm30 0zm-19 1zm7 0zm5 0zm3 0zm-16 1zm41 1zm8 1zm-28 1zm29 0zm-50 1zm-7 1zm-7 2zm42 0zm-37 3zm20 0zm11 0zm22 1zm-4 1zm-26 1zm2 0zm6 1zm-22 1zm-9 1zm13 1zm14 1zm23 0zm0 0zm-53 1zm52 0zm-7 1zm14 0zm-57 1zm10 0zm2 0zm5 0zm31 1zm-54 2zm4 0zm61 0zm-54 1zm6 0zm7 0zm1 0zm22 0zm6 0zm11 0zm-64 3zm40 0zm-15 1zm10 0zm-30 1zm1 0zm1 1zm16 1zm16 0zm22 1zm-49 2zm23 0zm-32 1zm57 0zm-46 1zm3 1zm49 0zm-29 2zm5 0zm8 1zm-41 1zm41 1zm3 0zm-10 1zm-6 1zm-35 1zm29 0zm19 1zm-29 1zm1 0zm32 1zm-35 1zm33 0zm9 0zm-59 2zm15 0zm8 0zm20 0zm-14 1zm21 2zm-50 1zm7 1zm15 1zm34 0zm-8 1zm-20 1zm2 0zm16 3zm-23 1zm10 0zm-35 2zm38 0zm1 0zm-36 1zm25 1zm7 0zm4 0zm4 0zm-34 2zm45 0zm-40 2zm22 0zm-7 1zm23 1zm-32 1zm-13 2zm3 0zm5 0zm22 0zm12 1zm-21 1zm11 0zm-34 1zm22 0zm-1 3zm13 2zm21 0zm-2 1zm-58 1zm2 1zm10 0zm51 1zm-37 1zm8 1zm6 1zm-2 1zm27 0zm-43 1zm-2 1zm1 0zm-21 3zm28 0zm3 0zm11 0zm-26 1zm27 0zm3 0zm18 0zm-51 2zm16 1zm17 3zm14 0zm-38 3zm-13 1zm3 1zm40 1zm-31 3zm35 0zm-55 3zm57 0zm0 1zm-39 1zm4 1zm8 0zm22 0zm2 0zm-51 1zm31 0zm27 0zm-60 1zm8 0zm0 0zm35 0zm2 1zm-9 1zm22 3zm-25 2zm22 0zm-25 2zm24 2zm-56 1zm4 5zm12 0zm10 0zm15 1zm3 2zm14 0zm-19 1zm14 0zm11 0zm-26 1zm19 0zm-58 1zm25 0zm22 0zm-30 1zm3 0zm27 0zm17 0zm-56 1zm40 0zm-18 1zm6 0zm31 0zm-54 1zm11 0zm2 0zm4 0zm24 0zm7 0zm2 0zm2 0zm-58 1zm16 0zm15 0zm7 0zm-38 1zm36 0zm-33 1zm10 0zm5 0zm14 0zm20 0zm-58 1zm15 0zm0 0zm3 0zm4 0zm-12 1zm1 0zm8 0zm12 1zm20 0zm1 0zm11 0zm-59 1zm4 0zm55 0zm-63 1zm20 0zm17 0zm4 0zm22 0zm-57 1zm17 0zm22 0zm18 0zm-31 1zm1 0zm5 0zm23 0zm5 0zm-62 1zm17 0zm20 0zm7 0zm8 0zm-55 1zm36 0zm2 0zm5 0zm-2 1zm7 0zm2 0zm-44 1zm23 0zm5 0zm11 0zm19 0zm-32 1zm9 0zm-31 1zm3 0zm2 0zm12 0zm10 0zm28 1zm-55 1zm24 0zm-20 1zm40 0zm-32 1zm10 0zm1 0zm-34 1zm5 0zm4 0zm48 0zm-48 1zm12 0zm35 0zm2 0zm-19 1zm-31 1zm40 0zm10 0zm-56 1zm55 0zm-17 2zm-36 1zm2 0zm11 0zm34 0zm-51 1zm29 0zm15 0zm-30 1zm16 0zm4 0zm0 0zm10 0zm-32 1zm5 0zm25 0zm-6 1zm26 0zm-60 2zm3 0zm26 0zm4 0zm14 0zm16 0zm-65 1zm31 0zm-21 1zm2 0zm13 0zm11 0zm11 0zm-19 1zm12 0zm11 1zm13 0zm-44 1zm-4 1zm43 0zm-57 1zm4 0zm0 0zm3 0zm16 0zm7 0zm18 0zm-39 1zm45 0zm-55 2zm23 0zm37 0zm-39 1zm18 0zm-10 1zm9 0zm18 0zm-48 1zm4 0zm5 0zm4 0zm33 0zm-43 1zm7 0zm41 0zm-61 1zm23 0zm10 0zm32 0zm-63 2zm22 1zm11 0zm-8 1zm5 0zm11 0zm20 0zm3 0zm-65 2zm37 0zm-31 1zm11 0zm16 0zm3 0zm-11 1zm5 0zm-29 1zm22 0zm-2 1zm19 0zm10 0zm0 0zm-7 1zm4 0zm-47 1zm24 1zm42 0zm-36 3zm2 0zm6 0zm-9 1zm18 1zm-42 1zm14 0zm2 2zm7 1zm-24 2zm25 0zm9 1zm3 0zm0 1zm7 0zm11 0zm0 1zm1 0zm-18 1zm15 0zm6 0zm1 0zm-19 1zm12 0zm-48 1zm51 0zm-41 1zm24 0zm-1 1zm20 0zm-62 1zm18 0zm-5 1zm-10 1zm16 0zm1 2zm29 0zm-40 1zm23 0zm24 1zm-55 1zm8 0zm16 0zm8 0zm-4 1zm5 0zm22 0zm-18 1zm12 0zm-50 1zm53 0zm-1 1zm1 1zm-13 1zm3 0zm5 0zm5 0zm-50 1zm1 0zm21 2zm12 0zm13 0zm13 0zm-12 1zm10 0zm0 1zm-27 1zm-32 1zm13 0zm-12 2zm12 0zm23 0zm-32 1zm33 0zm-20 1zm18 1zm12 0zm-24 1zm17 0zm-29 1zm18 0zm-18 1zm48 0zm-14 1zm-2 1zm4 2zm-9 3zm16 0zm-43 2zm15 0zm11 0zm12 0zm-11 3zm-33 1zm-1 2zm58 0zm-49 1zm-14 1zm17 1zm7 0zm29 0zm-29 1zm24 1zm-45 1zm41 0zm12 1zm-52 3zm-5 1zm2 1zm37 0zm11 0zm-32 3zm17 1zm24 0zm-53 1zm0 1zm22 1zm17 0zm-3 1zm-17 2zm33 1zm-21 2zm13 1zm4 1zm-51 2zm30 0zm23 0zm-20 4zm-32 3zm10 0zm5 0zm20 0zm11 1zm-11 1zm2 1zm-13 1zm8 0zm12 0zm-19 1zm26 1zm-48 2zm48 3zm6 0zm-20 1zm-18 4zm16 1zm4 2zm-43 2zm55 0zm-44 2zm-3 1zm38 2zm18 0zm-44 1zm1 0zm22 3zm15 0zm7 1zm-64 1zm-1 1zm15 2zm29 1zm-3 1zm18 0zm-42 1zm-2 2zm42 0zm-11 1zm-34 5zm1 1zm10 2zm6 1zm11 0zm17 2zm-29 1zm15 0zm-25 1zm30 0zm-3 3zm-20 1zm31 0zm-56 5zm30 1zm4 0zm-21 1zm8 2zm18 2zm-26 1zm16 0zm8 3zm18 1zm-32 2zm-19 2zm53 1zm3 0zm-49 1zm43 0zm-22 1zm14 0zm-29 1zm1 2zm-6 2zm1 0zm-4 1zm4 3zm20 3zm-2 2zm-26 6zm6 1zm-11 4zm6 1zm49 2zm-29 5zm-16 1zm16 4zm36 0zm-38 1zm-18 2zm3 2zm23 1zm-22 10zm-10 2zm9 2zm48 1zm-46 2zm42 0zm9 2zm-26 3zm10 13zm-38 3zm7 0zm-4 2zm30 0zm-36 7zm19 2zm-7 7zm39 0zm-18 8zm7 20zm-22 6zm29 5zm-37 3zm32 0zm8 0zm-17 1zm25 8zm-34 7zm12 5zm6 2zm-35 9zm5 3z" stroke="#2ca02c" stroke-width="3" stroke-opacity="0.36"/>
<path d="M704 135zm-19 2zm32 2zm-20 1zm-8 4zm38 0zm6 0zm-46 1zm3 0zm2 0zm8 0zm24 3zm-21 1zm39 0zm-60 1zm4 0zm26 0zm29 1zm-55 1zm-5 1zm21 0zm-25 1zm28 2zm27 0zm-52 1zm41 0zm-10 1zm1 0zm23 0zm-41 1zm29 0zm3 1zm-36 1zm23 0zm27 0zm-63 1zm34 0zm-15 1zm6 0zm19 0zm6 0zm13 0zm-51 1zm22 1zm-32 1zm55 0zm-56 1zm44 0zm-44 1zm51 0zm5 0zm-5 2zm-52 1zm5 0zm17 0zm34 0zm-24 1zm3 0zm18 0zm-6 1zm-42 2zm5 0zm17 0zm-21 1zm0 0zm16 0zm4 0zm33 0zm-49 1zm18 0zm23 0zm-48 1zm23 0zm4 0zm33 0zm-1 1zm-60 1zm10 1zm12 0zm24 0zm-28 1zm1 0zm14 0zm18 0zm11 0zm-62 1zm19 0zm3 0zm20 0zm18 0zm-61 1zm34 1zm3 0zm18 0zm7 1zm-63 1zm4 0zm-1 1zm14 0zm3 0zm10 0zm21 1zm-33 1zm32 0zm2 0zm11 0zm-57 1zm0 0zm16 0zm2 0zm24 0zm12 0zm-4 1zm-40 1zm18 0zm20 0zm-47 1zm8 0zm15 0zm8 1zm21 0zm0 1zm-15 1zm11 1zm5 0zm-30 1zm15 0zm-17 1zm3 0zm35 0zm-67 1zm10 0zm18 1zm14 0zm7 0zm-42 1zm40 0zm-24 1zm19 0zm-36 1zm26 0zm13 0zm-33 1zm6 1zm26 0zm0 0zm3 0zm9 0zm-37 1zm32 0zm8 0zm-4 1zm-50 1zm2 0zm34 0zm-22 1zm8 0zm19 0zm-10 1zm-34 1zm1 0zm38 0zm12 1zm2 0zm-34 1zm0 0zm-7 1zm8 0zm0 0zm22 0zm21 1zm-20 1zm10 1zm-40 1zm26 0zm25 0zm-57 1zm2 0zm5 0zm17 0zm13 0zm18 0zm-41 1zm38 0zm-48 1zm24 0zm6 0zm8 0zm-50 1zm8 0zm37 0zm6 0zm-48 1zm12 0zm17 0zm5 0zm-35 1zm19 0zm3 1zm2 0zm7 0zm10 0zm4 0zm0 0zm-45 1zm17 0zm14 0zm15 0zm-37 1zm29 0zm-29 1zm18 0zm6 0zm20 0zm-12 1zm3 0zm-24 1zm6 0zm18 0zm3 0zm-25 1zm26 0zm2 0zm2 0zm-41 1zm16 0zm20 0zm10 0zm-49 1zm18 0zm11 0zm1 0zm12 0zm6 0zm-57 2zm3 0zm37 0zm-13 1zm24 0zm4 0zm-43 1zm6 0zm21 0zm-7 1zm-7 1zm26 0zm2 0zm9 0zm-30 2zm10 0zm8 0zm1 0zm-50 1zm31 0zm14 0zm3 0zm5 0zm-50 1zm-2 1zm0 0zm5 0zm9 0zm6 0zm11 0zm18 0zm6 0zm-16 1zm1 1zm-34 1zm6 0zm4 0zm6 0zm23 0zm-23 1zm28 0zm4 0zm-57 1zm5 0zm23 0zm6 0zm3 0zm-26 1zm27 0zm11 0zm17 0zm-54 1zm4 0zm8 0zm21 0zm-44 1zm2 0zm29 0zm5 0zm-12 1zm33 0zm2 0zm-54 1zm10 0zm5 0zm2 0zm16 0zm7 0zm10 0zm-38 1zm45 0zm-58 1zm1 0zm26 0zm30 0zm-57 1zm10 0zm10 0zm40 0zm-54 1zm9 0zm21 0zm-6 1zm-33 1zm13 0zm27 0zm1 0zm13 0zm-34 1zm5 0zm1 0zm6 0zm11 0zm6 0zm-31 1zm21 0zm22 0zm-46 1zm22 0zm3 0zm11 0zm-40 1zm-7 1zm26 0zm10 0zm10 0zm8 0zm-14 1zm4 0zm-50 1zm3 0zm0 0zm2 0zm1 0zm21 0zm21 0zm3 0zm-27 1zm12 0zm5 0zm6 0zm1 0zm4 0zm12 0zm-27 1zm16 0zm-27 1zm35 0zm-27 1zm5 0zm18 0zm-48 1zm5 0zm8 0zm3 0zm-17 1zm1 0zm15 0zm1 0zm4 0zm23 0zm1 0zm-51 1zm14 0zm11 0zm4 0zm35 0zm-36 1zm3 0zm-31 1zm19 0zm20 0zm3 0zm21 0zm0 0zm-56 2zm26 0zm22 0zm-53 1zm8 0zm-8 1zm4 0zm29 0zm5 0zm19 0zm-48 1zm16 0zm19 0zm6 0zm5 0zm-54 1zm20 0zm2 0zm-22 1zm22 0zm6 0zm18 0zm-11 1zm5 0zm2 0zm0 0zm17 0zm-57 2zm13 0zm7 0zm3 0zm15 0zm-45 1zm4 0zm8 0zm33 0zm-23 1zm15 0zm-30 1zm13 0zm8 0zm6 0zm2 0zm17 0zm12 1zm-38 1zm24 0zm-36 1zm0 0zm4 0zm2 0zm9 0zm2 0zm-12 1zm2 0zm3 0zm3 0zm-18 1zm4 0zm29 0zm14 0zm-30 1zm-11 1zm17 0zm3 0zm28 0zm-60 1zm12 0zm-1 1zm2 0zm11 0zm2 0zm-1 1zm11 0zm9 0zm3 0zm-45 1zm13 0zm6 0zm1 0zm30 0zm-56 1zm16 0zm29 1zm9 0zm-50 1zm1 0zm52 0zm-39 1zm3 0zm42 0zm-57 3zm25 0zm19 0zm-52 1zm6 0zm36 1zm14 0zm8 0zm-63 1zm9 0zm52 0zm-39 1zm-15 1zm5 1zm30 0zm22 0zm-38 1zm36 0zm-20 1zm7 2zm9 0zm-37 2zm4 0zm8 0zm-22 2zm33 0zm-25 1zm30 1zm16 0zm-33 1zm28 0zm-30 1zm-11 1zm33 0zm13 1zm-23 1zm11 0zm10 0zm-48 1zm-11 1zm6 0zm42 0zm-32 1zm-5 2zm10 0zm3 0zm-11 1zm49 0zm-54 1zm7 0zm-18 1zm3 0zm42 0zm1 0zm-36 1zm-5 1zm30 0zm-18 4zm45 0zm-56 1zm40 0zm-16 1zm28 0zm-44 1zm17 0zm20 0zm9 0zm-19 1zm-42 2zm54 0zm-50 1zm4 0zm37 0zm-42 1zm-1 2zm63 0zm-54 1zm6 0zm17 0zm29 0zm-49 1zm9 0zm3 1zm13 1zm5 0zm-40 1zm6 1zm1 3zm13 0zm33 1zm-51 1zm40 0zm-21 1zm5 0zm-28 1zm-1 1zm43 0zm-23 1zm13 0zm26 0zm-51 1zm-9 1zm13 0zm1 0zm4 0zm45 0zm-24 4zm-6 1zm8 1zm-4 1zm-5 1zm13 0zm21 0zm-6 1zm-23 1zm-30 1zm26 0zm6 1zm-9 1zm-18 2zm12 0zm-16 1zm47 0zm-46 1zm18 0zm19 0zm-44 1zm47 0zm-47 1zm43 0zm18 0zm-8 2zm-39 1zm15 1zm11 1zm10 0zm-34 1zm4 0zm19 3zm10 2zm14 0zm-26 1zm14 0zm-19 1zm0 0zm20 0zm-54 1zm28 1zm19 0zm-19 1zm-16 1zm43 1zm-16 4zm-38 1zm55 0zm-20 1zm-19 1zm18 1zm8 0zm-33 1zm8 0zm12 0zm5 0zm1 1zm-19 1zm39 0zm4 1zm-19 1zm21 1zm4 0zm-49 1zm10 0zm-27 1zm5 0zm-6 1zm49 0zm10 0zm-12 1zm-24 1zm-5 2zm46 1zm-55 1zm28 0zm-21 1zm30 2zm-25 3zm-12 1zm33 0zm-10 2zm25 0zm-55 1zm9 0zm39 0zm-16 1zm16 1zm-16 1zm28 0zm-48 1zm26 1zm26 0zm-4 1zm-10 2zm-24 1zm32 0zm-9 1zm-1 1zm-19 1zm1 0zm16 0zm-3 1zm0 0zm1 2zm-18 2zm-4 1zm25 1zm-28 1zm44 0zm-62 1zm13 1zm16 1zm9 0zm9 0zm2 0zm6 1zm-17 1zm-34 1zm23 1zm-17 1zm27 0zm6 1zm3 0zm14 0zm1 0zm-38 1zm-13 2zm-1 2zm3 2zm37 0zm-36 1zm-6 1zm2 0zm22 0zm0 0zm15 0zm-25 1zm2 0zm2 0zm3 0zm28 0zm7 0zm-44 1zm-18 1zm15 0zm9 0zm1 0zm19 0zm-32 1zm-14 1zm22 0zm7 0zm25 0zm1 0zm-54 1zm6 0zm33 0zm13 0zm-5 1zm9 0zm-43 1zm1 0zm46 0zm-39 1zm7 0zm0 0zm-23 1zm26 0zm-25 1zm34 0zm21 0zm-58 1zm32 0zm-14 1zm40 0zm-63 1zm40 0zm21 0zm-28 1zm12 0zm11 0zm4 0zm-51 1zm33 0zm10 0zm-52 1zm5 0zm4 0zm5 0zm49 1zm-64 1zm5 0zm33 0zm7 0zm-42 1zm29 0zm22 0zm2 0zm5 0zm-47 1zm7 0zm-10 1zm7 0zm25 0zm7 0zm-44 1zm3 0zm31 0zm14 0zm-41 1zm23 0zm1 0zm2 0zm5 0zm-27 1zm13 0zm8 0zm12 0zm14 0zm-60 1zm11 0zm37 1zm-40 1zm39 0zm3 0zm12 0zm-62 1zm28 0zm27 0zm-49 1zm5 0zm1 0zm10 0zm21 1zm0 0zm1 0zm-34 1zm26 0zm5 0zm2 0zm-33 1zm13 0zm12 0zm23 0zm-52 1zm35 0zm14 0zm-48 1zm12 1zm6 1zm4 0zm18 0zm1 0zm-48 1zm9 0zm5 0zm11 0zm8 0zm-8 1zm1 0zm9 0zm8 0zm3 0zm-31 1zm17 0zm-23 1zm41 0zm-6 1zm-39 1zm20 0zm9 0zm25 0zm-50 2zm16 0zm26 0zm12 0zm-62 1zm43 0zm16 1zm-54 1zm4 0zm-11 1zm33 0zm-20 1zm4 0zm46 1zm-10 1zm11 0zm-6 1zm5 0zm-65 1zm2 0zm39 0zm-23 1zm10 0zm15 0zm18 1zm-48 1zm3 0zm22 0zm-34 1zm7 0zm3 0zm38 0zm-47 1zm7 0zm2 0zm33 0zm-37 3zm15 0zm-5 1zm-4 1zm29 0zm6 0zm5 0zm-26 2zm15 0zm-41 1zm49 0zm1 0zm9 0zm1 0zm1 0zm-11 1zm-36 1zm2 1zm44 0zm-32 1zm5 0zm3 0zm24 0zm-27 1zm6 0zm15 0zm-48 1zm4 0zm-3 3zm0 0zm-10 1zm7 0zm0 0zm47 0zm-37 1zm-1 1zm15 0zm34 0zm-12 4zm-43 1zm39 0zm-19 1zm4 0zm19 0zm-33 1zm24 0zm0 1zm-11 1zm10 0zm10 0zm-50 1zm23 0zm6 0zm7 0zm-36 1zm2 0zm7 0zm4 1zm48 0zm-35 2zm22 0zm4 1zm-41 1zm4 0zm11 0zm25 0zm8 1zm-61 2zm13 0zm44 0zm-40 1zm15 0zm-15 1zm2 0zm20 0zm-41 1zm26 0zm25 0zm-15 1zm-5 1zm26 1zm-39 2zm8 0zm16 0zm0 1zm-22 1zm39 0zm6 0zm-60 1zm26 0zm10 0zm10 0zm-7 1zm-23 2zm23 1zm13 0zm0 1zm-18 1zm-34 1zm49 0zm-53 1zm44 0zm-16 1zm11 0zm-6 1zm23 0zm1 0zm-8 1zm-43 2zm17 0zm31 0zm-41 2zm7 0zm15 0zm-34 1zm59 0zm-54 2zm13 0zm21 1zm21 0zm-34 2zm30 1zm-26 1zm-15 1zm4 1zm8 3zm18 3zm6 0zm-18 1zm-16 1zm15 0zm-10 1zm20 0zm-34 1zm5 0zm3 0zm18 1zm-13 1zm6 0zm0 1zm14 1zm-10 1zm-25 1zm48 1zm3 1zm-30 1zm-26 1zm58 2zm-15 1zm19 0zm-58 1zm27 0zm8 0zm5 0zm-17 2zm15 1zm2 0zm-18 5zm-24 1zm13 1zm26 1zm-43 2zm57 0zm2 1zm5 1zm-22 1zm0 2zm-43 1zm63 1zm-52 1zm14 0zm37 1zm-57 1zm3 0zm16 1zm14 1zm8 1zm-37 1zm11 1zm45 0zm-39 1zm19 0zm-36 1zm43 0zm-24 7zm32 1zm-37 1zm11 3zm25 1zm-58 1zm18 0zm-10 2zm51 0zm-30 1zm3 0zm32 0zm-2 1zm-30 5zm13 1zm-39 1zm15 2zm-8 1zm29 2zm22 0zm-17 5zm-5 2zm-39 2zm6 1zm40 0zm-26 3zm24 1zm6 3zm-15 1zm-22 1zm47 10zm-10 1zm-21 5zm31 2zm-59 2zm18 0zm43 0zm-44 8zm-7 6zm7 0zm-20 3zm22 3zm38 0zm-60 4zm40 0zm-5 1zm22 0zm-31 6zm-17 1zm13 3zm-10 12zm34 2zm-32 17zm19 0zm6 1zm-28 3zm17 0zm34 3zm-17 6zm-16 2zm-6 11zm-15 1zm45 12zm-42 12zm38 25zm-42 5zm47 5zm-40 3z" stroke="#2ca02c" stroke-width="3" stroke-opacity="0.36"/>
<path d="M704 138zm24 1zm-6 3zm6 1zm-16 1zm28 1zm-16 1zm-39 2zm10 1zm32 0zm-50 2zm25 1zm23 0zm-45 1zm60 0zm-53 1zm38 0zm0 0zm13 1zm-34 1zm22 1zm15 0zm-62 1zm17 0zm1 0zm27 1zm-32 1zm46 0zm3 0zm1 1zm-6 1zm-48 1zm12 2zm19 1zm-9 1zm31 0zm-43 2zm38 0zm-48 1zm6 0zm0 0zm28 0zm19 0zm-47 1zm19 0zm12 0zm-1 1zm-18 1zm7 0zm-2 1zm-7 1zm11 0zm23 0zm4 0zm-35 3zm4 0zm9 0zm0 0zm-40 2zm5 0zm51 0zm-20 1zm8 0zm12 0zm3 1zm-11 3zm2 0zm-41 1zm23 1zm24 0zm3 0zm-51 1zm36 0zm14 0zm0 0zm2 0zm2 0zm-56 1zm11 0zm23 0zm2 0zm-43 1zm6 1zm5 0zm-1 1zm46 0zm4 0zm-62 1zm2 0zm1 0zm1 0zm16 0zm-21 1zm16 0zm-10 2zm3 0zm33 0zm7 0zm-20 1zm-12 1zm21 1zm5 0zm10 0zm-39 1zm22 0zm5 0zm-33 1zm5 0zm52 0zm-12 1zm-13 1zm-22 1zm2 0zm1 0zm16 0zm-25 1zm15 0zm27 0zm-51 2zm39 0zm5 0zm-23 1zm-14 1zm25 0zm15 0zm-27 1zm16 0zm6 0zm-30 1zm5 0zm15 0zm5 0zm11 0zm3 0zm-42 1zm19 0zm22 0zm9 0zm-31 1zm2 0zm-31 1zm32 0zm14 1zm-46 1zm8 0zm2 0zm11 0zm8 0zm33 0zm-44 2zm1 0zm8 0zm27 1zm-10 1zm-26 1zm19 0zm2 0zm6 0zm2 0zm5 0zm-46 1zm48 1zm-49 1zm22 0zm-24 1zm32 0zm11 0zm2 0zm-48 1zm21 0zm9 0zm7 0zm5 0zm18 0zm-50 1zm4 0zm11 0zm6 0zm21 0zm-47 1zm25 0zm-23 1zm1 0zm-6 1zm5 0zm1 0zm13 0zm6 0zm19 0zm-39 1zm6 0zm38 0zm7 0zm-37 1zm38 0zm5 1zm0 0zm-60 1zm3 0zm15 0zm-24 1zm23 0zm14 0zm2 0zm3 0zm0 0zm1 1zm1 0zm8 0zm2 0zm11 0zm-56 1zm12 0zm2 0zm21 0zm14 0zm-53 1zm2 0zm25 0zm-27 1zm8 0zm14 0zm0 0zm13 0zm-13 1zm12 0zm-12 1zm16 0zm-36 1zm3 0zm3 0zm17 0zm14 0zm-17 1zm19 0zm13 0zm-44 1zm10 0zm3 0zm12 0zm25 0zm-36 1zm15 0zm-40 1zm29 0zm31 0zm-57 1zm43 0zm12 0zm-56 1zm34 0zm22 0zm4 0zm-48 1zm3 0zm21 0zm-21 1zm20 0zm10 0zm-37 1zm3 0zm15 0zm21 0zm-16 1zm22 0zm-48 1zm2 0zm32 0zm-32 1zm12 0zm7 0zm15 0zm10 0zm-39 1zm6 0zm5 0zm15 0zm7 0zm16 0zm-46 1zm27 0zm-45 1zm6 0zm1 0zm27 0zm2 0zm1 0zm24 0zm2 0zm-60 1zm15 0zm6 0zm1 0zm4 0zm35 0zm-65 1zm5 0zm30 0zm28 0zm-64 1zm4 0zm8 0zm12 0zm14 0zm26 0zm-37 1zm9 0zm15 0zm-29 1zm22 0zm3 0zm-46 1zm33 1zm25 0zm4 0zm-61 1zm17 0zm11 0zm5 0zm4 0zm-4 1zm28 0zm-41 1zm33 0zm-46 1zm4 0zm49 0zm3 0zm0 0zm-40 1zm-7 1zm13 0zm2 0zm5 0zm7 0zm5 0zm3 0zm-26 1zm30 0zm4 0zm-60 1zm10 0zm12 0zm23 0zm-43 1zm23 0zm16 0zm24 0zm-42 1zm3 0zm14 0zm-32 1zm11 0zm9 0zm-9 1zm15 0zm24 0zm2 0zm-43 1zm0 0zm12 0zm19 0zm3 0zm-8 1zm2 0zm5 0zm-44 1zm21 0zm8 0zm3 0zm19 0zm-55 1zm13 0zm1 0zm23 0zm13 0zm9 0zm-10 1zm-17 1zm14 0zm6 0zm10 0zm-63 1zm20 0zm30 0zm-44 1zm17 0zm31 0zm-47 1zm19 0zm20 0zm0 0zm3 0zm-49 1zm32 0zm6 0zm10 0zm0 0zm-27 1zm35 0zm-34 1zm14 0zm-36 1zm21 0zm24 0zm14 0zm-54 1zm11 0zm4 0zm5 0zm0 1zm12 0zm10 0zm-47 1zm56 0zm7 0zm-57 1zm6 0zm6 0zm10 0zm-15 1zm11 0zm3 0zm4 0zm22 0zm-33 1zm6 0zm30 0zm-46 1zm1 0zm3 0zm14 0zm30 0zm-46 1zm5 0zm3 0zm3 0zm10 0zm16 0zm0 0zm-36 1zm4 0zm15 0zm11 0zm7 0zm-31 1zm13 0zm16 0zm-44 1zm0 0zm12 0zm4 0zm18 0zm0 0zm24 0zm-52 1zm14 0zm2 0zm16 0zm4 0zm1 0zm7 0zm3 0zm-22 1zm4 2zm4 0zm-2 2zm-14 1zm21 0zm-48 2zm56 0zm-44 2zm6 0zm2 2zm9 0zm-30 1zm22 1zm33 0zm-25 3zm33 0zm-51 1zm2 0zm39 0zm-44 1zm7 1zm10 0zm9 0zm28 0zm-62 1zm8 1zm9 0zm10 0zm20 0zm9 1zm-30 1zm-19 1zm39 1zm13 0zm-46 1zm18 0zm-24 1zm12 0zm16 0zm22 1zm-35 1zm-6 1zm22 0zm2 0zm9 0zm5 1zm2 0zm0 1zm-38 1zm11 0zm2 0zm0 1zm-10 2zm-2 2zm6 1zm22 0zm-9 2zm25 0zm-53 2zm8 0zm-5 1zm23 0zm-37 1zm28 0zm34 0zm-18 2zm-39 1zm6 0zm3 0zm26 0zm-26 1zm34 0zm0 1zm16 0zm-63 1zm54 0zm-18 1zm18 0zm-31 2zm2 0zm25 0zm8 0zm-56 2zm6 0zm23 0zm1 0zm1 0zm3 0zm-24 2zm46 1zm-30 1zm25 0zm-36 1zm32 0zm3 0zm-31 1zm15 0zm-16 1zm30 1zm-45 1zm-7 1zm55 1zm4 0zm-54 3zm9 0zm41 0zm7 0zm-63 3zm4 0zm47 0zm-41 1zm55 1zm-41 2zm10 1zm10 0zm2 0zm-31 1zm30 0zm-41 1zm10 1zm28 0zm20 1zm-59 1zm2 2zm11 0zm37 0zm-44 2zm-3 1zm1 0zm41 0zm-1 2zm-45 1zm63 0zm-62 1zm22 0zm11 2zm17 1zm-45 1zm21 0zm-22 1zm30 0zm7 0zm11 1zm-22 1zm14 1zm-34 1zm5 1zm-14 1zm16 0zm6 0zm38 0zm-46 1zm29 0zm-25 1zm11 0zm23 0zm-55 1zm61 0zm-6 1zm-20 4zm-10 1zm-1 1zm6 1zm11 0zm25 0zm-38 1zm7 0zm9 1zm7 1zm1 0zm-30 1zm-12 1zm6 1zm3 0zm30 0zm9 0zm-7 1zm2 0zm-38 1zm50 1zm-42 1zm13 0zm16 0zm-44 1zm14 0zm35 3zm-57 1zm16 0zm9 0zm27 0zm-47 2zm54 2zm-58 1zm27 0zm-23 1zm8 0zm-11 1zm42 0zm-13 1zm33 1zm1 0zm-54 1zm25 1zm-18 4zm9 0zm29 0zm-22 4zm14 1zm-16 3zm12 0zm20 0zm-9 1zm-25 3zm-11 1zm30 1zm-38 1zm22 1zm23 0zm-29 1zm5 0zm11 0zm-35 2zm55 0zm1 0zm-21 2zm-37 2zm18 1zm16 0zm26 1zm-58 1zm17 0zm-21 1zm52 0zm4 0zm-37 1zm-14 2zm14 2zm29 0zm4 0zm-48 1zm1 1zm40 0zm-33 1zm36 0zm4 0zm10 0zm-33 1zm5 0zm16 0zm-55 1zm21 0zm-4 1zm13 0zm1 0zm12 0zm-8 1zm-5 2zm18 0zm11 0zm-42 1zm42 0zm-40 1zm9 0zm11 0zm23 0zm-53 1zm1 0zm29 0zm4 0zm15 0zm-20 1zm12 0zm5 0zm-16 1zm15 0zm-25 1zm-27 1zm11 0zm5 1zm13 0zm-12 1zm47 0zm-37 1zm29 0zm-57 1zm8 0zm42 0zm15 0zm-41 1zm12 0zm24 0zm-60 1zm2 0zm19 0zm15 0zm-34 1zm8 0zm55 0zm-29 1zm25 0zm-29 1zm15 0zm5 0zm-1 1zm-33 1zm5 0zm40 0zm-55 1zm17 0zm14 0zm5 0zm15 0zm-19 1zm7 0zm-46 1zm11 0zm13 0zm5 0zm18 0zm10 0zm1 0zm1 0zm4 0zm-53 1zm6 0zm6 0zm43 2zm-50 3zm22 0zm6 0zm8 0zm4 1zm6 0zm-53 1zm46 0zm3 0zm4 0zm-60 1zm21 0zm14 0zm2 0zm24 0zm-39 1zm7 0zm1 0zm28 0zm-35 1zm4 0zm24 0zm-51 1zm22 0zm3 0zm11 0zm17 0zm-18 1zm3 0zm16 0zm0 0zm-52 1zm31 0zm9 0zm-17 1zm4 0zm31 0zm0 0zm2 0zm-5 1zm-12 2zm-22 1zm12 0zm9 0zm7 0zm12 0zm-52 1zm20 0zm6 0zm-12 1zm-13 1zm7 0zm11 0zm-16 1zm2 0zm15 0zm30 0zm-41 1zm-22 1zm0 0zm3 0zm33 0zm26 0zm-22 1zm16 0zm8 0zm-26 2zm8 0zm3 0zm2 0zm-11 1zm-34 1zm19 0zm7 0zm20 1zm2 0zm12 0zm-65 1zm31 0zm-10 1zm-9 1zm-13 1zm64 0zm-28 1zm-14 1zm22 0zm19 0zm-58 1zm23 0zm4 0zm6 0zm6 0zm-3 1zm4 0zm-15 1zm-31 1zm15 0zm28 1zm-34 2zm37 0zm19 1zm-51 2zm-12 1zm7 0zm24 0zm11 0zm23 0zm-62 1zm30 0zm5 0zm11 0zm3 1zm2 0zm-26 1zm-18 2zm11 0zm12 0zm21 0zm-16 1zm-25 1zm25 1zm-15 1zm39 0zm-38 1zm10 0zm12 0zm-46 1zm40 0zm23 0zm-50 1zm44 0zm-50 1zm23 0zm13 0zm-31 1zm5 1zm24 0zm-41 1zm5 0zm10 0zm-16 2zm58 0zm-55 1zm23 0zm21 0zm5 0zm-34 1zm-17 2zm36 0zm4 0zm-37 1zm56 0zm-24 1zm-31 1zm31 0zm-1 2zm-7 2zm12 0zm8 0zm-20 1zm-24 1zm50 1zm-15 2zm-29 2zm15 0zm14 0zm-4 2zm13 0zm-48 1zm37 0zm-31 1zm20 0zm-11 1zm22 3zm-29 1zm13 0zm9 0zm-19 2zm1 0zm13 0zm17 0zm8 0zm6 0zm-50 1zm23 0zm9 1zm3 0zm15 0zm-31 1zm30 0zm-34 1zm44 0zm-53 2zm-9 1zm4 0zm41 0zm-1 2zm-46 1zm52 0zm-48 2zm33 1zm-25 1zm22 1zm30 0zm-41 1zm27 0zm-47 1zm1 1zm47 2zm-1 3zm-42 1zm54 0zm-3 1zm-59 1zm26 0zm-5 1zm2 1zm15 0zm2 1zm24 0zm-9 1zm-55 1zm41 0zm3 1zm-14 2zm5 1zm5 0zm-3 1zm-20 1zm13 0zm-21 2zm40 0zm1 0zm-7 1zm-17 6zm24 0zm-22 2zm22 0zm9 2zm-53 1zm-2 3zm16 0zm34 1zm3 1zm-54 1zm42 1zm-42 1zm37 0zm20 1zm-12 4zm-18 1zm34 0zm-24 1zm-28 5zm3 1zm38 3zm2 0zm-32 1zm1 0zm5 0zm-21 1zm-5 1zm-5 1zm46 0zm7 3zm10 0zm-57 1zm22 2zm-10 2zm15 4zm22 0zm-14 1zm22 4zm-13 1zm6 0zm10 0zm-60 3zm35 0zm-11 1zm15 1zm-44 3zm5 2zm38 0zm-1 3zm16 2zm-15 2zm-1 2zm-27 7zm-15 3zm20 0zm19 3zm-2 1zm2 8zm26 1zm-52 3zm45 1zm-46 2zm2 0zm23 2zm2 1zm-1 2zm-23 1zm-1 2zm5 1zm-15 4zm45 4zm-34 1zm31 0zm-20 8zm32 1zm-52 5zm49 4zm-48 2zm24 1zm-16 1zm44 1zm-6 2zm8 5zm-24 2zm-25 4zm11 6zm21 0zm-41 2zm58 0zm-56 3zm1 0zm27 0zm-20 1zm16 0zm-18 2zm25 0zm-3 3zm-30 1zm61 23zm-45 3zm6 0zm10 1zm-13 1zm-2 1zm9 2zm-29 3zm30 2zm30 2zm-23 7zm-29 2zm45 6zm-3 11zm12 1zm-60 2zm2 1zm41 1zm-43 1zm18 1zm10 3zm13 1zm-34 6zm-8 1z" stroke="#2ca02c" stroke-width="3" stroke-opacity="0.36"/>
<path d="M828 118zm17 0zm-16 4zm26 2zm-46 7zm59 3zm-18 2zm-12 2zm30 3zm-9 2zm-36 1zm26 2zm19 6zm-61 1zm21 0zm16 0zm20 1zm-44 5zm52 1zm-18 3zm-47 1zm1 2zm38 0zm-16 1zm-17 2zm9 1zm42 1zm-21 4zm-11 1zm-12 1zm44 0zm-51 1zm-1 1zm12 0zm14 3zm1 0zm-12 2zm2 0zm9 0zm13 2zm18 4zm-39 2zm23 2zm9 0zm-1 2zm-45 1zm0 0zm43 2zm-22 1zm28 0zm7 0zm-8 4zm-24 2zm-29 1zm1 5zm9 0zm16 1zm25 1zm-41 1zm11 1zm34 1zm-51 1zm8 0zm-2 2zm13 1zm-22 2zm48 5zm-36 1zm7 1zm-18 1zm1 0zm19 1zm1 1zm34 2zm-28 1zm-32 1zm12 0zm38 1zm-51 2zm28 2zm16 0zm11 0zm-25 2zm-17 1zm-3 1zm30 1zm-29 1zm21 0zm32 1zm-48 1zm11 1zm15 2zm3 1zm-12 1zm19 0zm-35 1zm37 1zm-12 2zm4 0zm4 0zm-38 2zm3 1zm-1 6zm-9 1zm2 1zm11 4zm17 0zm9 1zm-12 3zm32 1zm-43 1zm-9 1zm0 1zm33 2zm-4 2zm-9 1zm6 3zm1 0zm-5 1zm7 0zm22 2zm-34 1zm-10 5zm34 1zm-30 2zm35 0zm-47 1zm12 1zm29 0zm-52 6zm8 0zm18 0zm21 0zm-19 2zm2 0zm29 1zm-22 2zm6 0zm18 0zm-45 2zm11 2zm7 0zm-9 2zm18 2zm7 2zm-11 3zm-40 2zm43 2zm11 2zm-41 1zm17 4zm-24 2zm33 0zm20 0zm4 0zm-35 4zm12 0zm-18 2zm-13 1zm7 1zm13 3zm4 0zm11 1zm-12 2zm5 0zm4 2zm-33 1zm8 3zm41 2zm7 3zm-20 3zm-31 3zm49 4zm-62 3zm7 1zm-3 1zm4 1zm-8 5zm61 0zm3 0zm-53 2zm18 3zm-30 1zm63 0zm-30 3zm-11 1zm-4 1zm-4 4zm14 3zm-6 4zm11 4zm9 0zm-18 5zm-21 1zm33 2zm-33 4zm46 1zm-28 2zm23 3zm-9 1zm1 0zm1 0zm-9 6zm-21 2zm18 1zm37 7zm0 0zm-2 2zm-8 4zm-49 1zm36 0zm9 1zm-30 2zm-1 4zm31 1zm17 11zm-25 3zm-35 2zm34 1zm-23 5zm13 6zm32 0zm3 1zm-60 4zm14 2zm4 1zm4 1zm1 1zm-2 4zm1 0zm-13 3zm-11 3zm33 1zm19 2zm-9 2zm-36 1zm56 0zm-35 4zm12 0zm21 3zm-15 2zm-2 3zm-41 2zm5 0zm49 1zm7 0zm-64 6zm49 4zm7 8zm-6 1zm6 3zm-51 4zm40 2zm-34 1zm15 2zm-19 3zm22 4zm-8 3zm7 2zm-28 2zm8 0zm-10 1zm37 4zm13 5zm-39 2zm5 6zm41 7zm-9 1zm-38 1zm19 0zm27 0zm-7 2zm-33 6zm17 6zm-5 13zm5 0zm-1 14zm-9 1zm-20 2zm22 1zm-8 7zm31 1zm-15 3zm-11 1zm31 0zm12 5zm-17 9zm16 6zm-63 1zm66 1zm-8 7zm-55 1zm23 2zm20 0zm-15 1zm-18 4zm7 8zm23 1zm11 18zm-31 4zm31 1zm-39 11zm-9 7zm28 6zm-20 29zm2 0zm-11 10zm14 2zm40 1zm-17 2zm3 8zm-44 4zm4 4zm43 0zm-27 2zm0 3zm10 10zm17 11zm15 18zm-12 4zm-42 8zm56 0zm-41 13zm10 0zm17 3zm-18 2zm1 1zm-16 5zm27 0zm-34 5z" stroke="#bcbd22" stroke-width="3" stroke-opacity="0.4"/>
<path d="M813 125zm54 4zm-61 3zm30 0zm33 1zm-45 5zm15 3zm19 1zm12 1zm-10 3zm-4 1zm-50 2zm48 0zm-5 2zm-30 1zm17 5zm-6 3zm27 1zm-39 1zm5 0zm9 0zm21 0zm-39 2zm15 4zm-18 3zm11 0zm48 4zm-18 1zm-42 4zm11 2zm22 0zm6 0zm13 2zm-51 1zm7 3zm28 1zm-26 1zm3 1zm29 1zm-2 1zm15 1zm-51 1zm-2 1zm-3 2zm22 1zm24 1zm-19 1zm32 0zm-55 1zm51 1zm-21 2zm-13 1zm-16 1zm28 0zm21 0zm5 0zm4 1zm-44 2zm-20 1zm18 0zm-14 1zm15 0zm32 2zm-36 1zm24 0zm-31 2zm53 2zm-13 2zm6 0zm-48 1zm40 0zm-21 1zm17 0zm-18 1zm-22 1zm44 0zm-17 2zm4 1zm10 0zm-21 1zm16 0zm-28 1zm-10 1zm54 1zm-23 3zm10 0zm7 1zm-46 1zm23 0zm1 0zm5 2zm-22 2zm3 0zm-12 1zm13 0zm18 0zm-21 2zm11 0zm-6 1zm29 0zm5 0zm-41 2zm36 0zm-34 4zm21 0zm-27 2zm10 1zm2 2zm-16 1zm0 1zm27 0zm3 0zm23 0zm-6 1zm-40 2zm25 0zm-14 1zm0 0zm45 0zm-57 1zm36 0zm-39 1zm28 0zm18 2zm13 0zm-12 1zm-36 2zm-5 1zm39 3zm-49 1zm17 0zm-13 2zm17 1zm13 5zm29 0zm1 0zm-60 4zm26 0zm13 0zm-23 1zm4 0zm-2 3zm-18 2zm58 2zm-22 2zm-7 1zm-28 2zm25 0zm13 0zm-15 3zm-16 1zm26 0zm-3 3zm-12 4zm29 0zm0 1zm-9 2zm8 0zm13 1zm-3 1zm-42 1zm10 4zm2 0zm14 0zm-46 2zm48 1zm-15 2zm24 0zm-57 2zm31 0zm-20 4zm-12 1zm23 0zm-1 2zm18 5zm25 2zm-55 2zm19 1zm33 6zm-42 2zm41 1zm-25 8zm28 0zm-37 1zm-19 4zm47 0zm-19 4zm7 1zm16 2zm-5 1zm1 6zm-43 2zm34 2zm12 5zm-46 3zm-7 7zm47 0zm-41 2zm-4 1zm4 0zm26 4zm14 3zm-15 4zm30 3zm-41 2zm-12 4zm18 0zm20 1zm6 3zm-55 2zm15 2zm-7 2zm-7 2zm9 1zm39 2zm-28 4zm29 0zm-1 1zm-18 4zm10 2zm12 1zm-47 1zm12 0zm35 3zm-33 3zm26 0zm-20 7zm1 2zm23 1zm-24 2zm5 3zm-6 1zm39 0zm-62 4zm33 0zm7 3zm-22 1zm22 8zm-8 1zm30 1zm-58 2zm37 2zm-6 1zm-35 8zm26 2zm-26 2zm55 0zm-16 4zm-38 1zm47 2zm-41 5zm17 0zm1 0zm6 0zm6 0zm5 5zm8 0zm-3 13zm0 0zm7 0zm-3 5zm5 2zm-49 2zm20 0zm13 4zm-35 2zm38 0zm5 2zm-52 11zm14 3zm24 2zm16 8zm-27 1zm-9 7zm32 0zm9 1zm-33 2zm3 3zm-26 10zm38 4zm11 3zm-22 6zm-7 3zm6 2zm-19 1zm4 3zm25 0zm7 6zm-16 2zm18 5zm18 7zm1 0zm-36 2zm-22 3zm32 1zm-24 3zm32 1zm-16 10zm-17 11zm18 16zm29 0zm-56 10zm33 0zm16 2zm4 14zm-16 7zm-18 5zm14 6zm-39 1zm21 1zm33 28zm-2 1zm-16 1zm9 2zm-11 7zm-29 4zm41 0zm-44 42zm40 1zm20 2zm-6 1zm-37 12zm2 3zm22 0zm-43 1zm40 10zm-2 9zm-38 21zm48 14z" stroke="#bcbd22" stroke-width="3" stroke-opacity="0.4"/>
<path d="M947 116zm0 1zm46 0zm0 4zm-45 1zm5 1zm18 0zm-36 1zm6 2zm4 1zm8 0zm7 2zm13 2zm-16 2zm9 0zm17 1zm-34 1zm10 0zm-16 1zm1 5zm30 0zm1 0zm-13 1zm23 1zm-7 1zm6 1zm17 0zm-39 2zm13 0zm24 0zm-47 1zm6 2zm10 0zm11 0zm-27 1zm0 0zm36 3zm-42 1zm31 1zm-30 1zm5 0zm38 0zm-36 1zm6 0zm40 0zm-25 2zm-24 3zm24 0zm22 0zm-48 1zm19 0zm15 3zm6 0zm11 0zm-17 2zm-13 2zm11 2zm-5 3zm18 0zm-36 3zm32 0zm9 0zm-9 3zm-40 1zm3 1zm26 0zm6 0zm-40 1zm1 0zm15 0zm28 0zm9 3zm-49 1zm30 0zm9 1zm-19 2zm4 0zm-17 2zm41 0zm2 0zm-56 1zm37 0zm-27 1zm7 1zm-16 1zm16 0zm2 1zm27 0zm-1 1zm-49 1zm27 0zm-2 2zm21 1zm5 0zm-41 1zm-13 1zm33 0zm12 0zm-42 2zm48 0zm-7 1zm-31 1zm2 1zm13 0zm5 2zm-21 1zm10 1zm20 0zm-3 1zm25 3zm-43 1zm28 0zm-48 1zm62 0zm-61 1zm23 0zm11 0zm19 0zm-41 4zm47 0zm1 0zm-6 1zm-57 2zm25 0zm24 0zm3 1zm-9 1zm-38 1zm21 2zm7 0zm7 0zm11 0zm-48 4zm16 0zm11 0zm6 0zm0 1zm-25 1zm42 0zm12 2zm-62 2zm25 1zm14 0zm-30 1zm17 1zm33 1zm-60 1zm48 0zm-14 1zm-26 5zm16 2zm22 0zm6 0zm-2 1zm9 0zm-59 3zm23 1zm9 1zm23 0zm3 2zm-37 1zm14 2zm26 0zm-7 1zm-4 1zm-7 1zm-8 4zm22 4zm-39 5zm-12 2zm12 0zm5 4zm-15 1zm11 1zm-14 1zm-2 1zm24 1zm-23 1zm4 2zm31 1zm6 1zm-37 2zm14 0zm7 5zm-22 1zm38 0zm-25 1zm-22 1zm6 0zm42 0zm3 0zm13 1zm-58 2zm17 0zm26 1zm-47 1zm31 0zm28 3zm-51 3zm41 0zm-13 1zm-19 3zm32 0zm-25 1zm14 0zm3 0zm6 1zm0 2zm3 2zm-52 2zm6 1zm31 0zm18 0zm-34 2zm29 0zm15 0zm-25 1zm-4 1zm20 3zm-27 1zm35 4zm-58 1zm7 3zm47 0zm-61 1zm57 2zm-54 2zm28 1zm-2 1zm-2 2zm-20 3zm20 0zm22 2zm-44 1zm53 1zm-13 3zm21 1zm-31 2zm-18 2zm37 0zm-49 2zm30 4zm7 5zm-23 2zm-13 1zm5 6zm19 4zm11 0zm8 2zm-41 1zm33 2zm2 1zm-17 1zm-2 1zm-6 3zm-9 2zm-8 3zm7 8zm29 1zm16 0zm-13 6zm-35 2zm17 2zm13 15zm-25 5zm17 0zm14 1zm25 3zm-56 3zm52 1zm-56 6zm3 1zm26 1zm-33 4zm33 3zm-10 2zm-11 5zm52 0zm-39 2zm-11 2zm-15 7zm31 0zm21 3zm-22 5zm9 1zm2 1zm-27 3zm9 3zm42 0zm-51 9zm7 0zm43 7zm-6 6zm-22 3zm12 1zm-19 7zm3 2zm-11 4zm16 2zm17 19zm-19 1zm30 1zm-27 21zm4 4zm-20 16zm40 2zm-56 1zm18 11zm-13 1zm32 13zm-11 9zm-26 42zm26 64zm-26 56zm-5 4z" stroke="#2ca02c" stroke-width="3" stroke-opacity="0.4"/>
<path d="M997 113zm-18 5zm-40 1zm42 1zm-28 4zm24 2zm-3 2zm-11 2zm30 0zm-43 5zm-12 3zm11 1zm21 0zm-5 1zm-29 1zm36 1zm11 1zm5 0zm-3 2zm-48 2zm24 3zm-8 2zm2 0zm1 3zm-4 1zm40 1zm-16 2zm15 0zm-19 2zm10 1zm-33 1zm38 1zm-48 1zm62 0zm-27 1zm9 0zm16 0zm-59 2zm47 1zm2 0zm-55 2zm23 0zm17 0zm20 0zm-59 1zm1 1zm56 1zm-30 2zm26 0zm7 0zm-43 1zm15 0zm-33 1zm22 1zm-21 1zm25 0zm2 0zm-26 1zm0 0zm15 0zm22 2zm-8 1zm-24 1zm26 0zm4 0zm-7 1zm0 0zm-27 1zm25 0zm13 1zm1 1zm-38 1zm29 2zm-24 2zm5 0zm37 0zm12 1zm-41 2zm2 0zm-24 3zm8 1zm8 0zm1 0zm43 0zm-27 2zm11 1zm-29 2zm8 0zm13 0zm26 0zm-50 1zm5 0zm13 0zm-23 2zm3 2zm17 0zm-26 2zm14 1zm9 1zm15 2zm13 0zm-35 1zm-10 1zm56 1zm-21 3zm-31 4zm21 1zm9 0zm-39 3zm22 0zm28 0zm-45 1zm31 0zm-27 2zm48 1zm-13 1zm6 2zm-50 2zm49 0zm-46 1zm34 0zm-16 1zm-18 1zm39 0zm-21 1zm15 3zm-3 1zm-32 1zm48 2zm10 0zm-42 1zm-15 1zm41 1zm9 0zm-47 1zm24 0zm-15 1zm47 3zm-50 2zm12 0zm26 2zm-7 1zm-6 1zm-36 1zm32 0zm20 0zm-28 5zm-2 1zm-21 1zm39 0zm4 1zm6 1zm-8 1zm-9 1zm19 1zm-3 1zm-10 1zm-21 1zm19 1zm22 0zm6 0zm-27 1zm0 1zm16 0zm-35 2zm39 0zm-41 5zm1 0zm-13 1zm3 0zm37 0zm-38 1zm30 2zm5 2zm-32 1zm-11 2zm23 1zm12 0zm-31 1zm53 0zm-14 1zm23 2zm-41 1zm-24 3zm17 0zm19 2zm-18 3zm42 6zm-26 1zm22 0zm4 0zm-13 1zm12 0zm-52 1zm52 1zm-37 1zm31 0zm-55 2zm63 2zm-28 1zm14 2zm14 2zm-40 2zm26 0zm-24 1zm3 1zm23 1zm-16 3zm2 2zm-29 2zm-5 1zm15 0zm-13 1zm19 0zm10 0zm13 2zm14 0zm-12 1zm-5 2zm-32 1zm45 0zm-8 3zm-8 1zm-29 2zm39 1zm-33 1zm48 2zm-1 1zm-57 2zm34 0zm-5 1zm7 4zm4 4zm-19 2zm24 0zm-17 5zm14 0zm-13 2zm20 0zm3 0zm-26 1zm-2 1zm29 0zm-19 1zm-17 1zm26 4zm-1 1zm-37 1zm36 1zm18 3zm-17 3zm-20 1zm17 0zm-35 3zm48 0zm0 0zm-51 2zm52 2zm-15 3zm14 5zm-4 2zm-25 4zm16 0zm-26 1zm44 2zm-13 1zm-25 7zm-26 1zm8 0zm13 0zm42 0zm-64 12zm3 0zm14 8zm-2 2zm-3 1zm45 4zm-39 2zm19 4zm-29 7zm5 0zm23 8zm4 0zm23 1zm-1 8zm-28 6zm17 1zm-38 1zm20 9zm29 1zm-40 12zm43 1zm-45 5zm27 2zm-1 9zm0 3zm-18 5zm24 7zm14 3zm-50 2zm38 3zm4 22zm-36 12zm-12 5zm22 18zm32 10zm-17 2zm-8 35zm23 4zm-22 8zm6 4zm-4 3zm-19 5zm-23 6zm27 174z" stroke="#2ca02c" stroke-width="3" stroke-opacity="0.4"/>
</g>
<rect x="64.35" y="309.33" width="19.35" height="26.55" fill="#1f77b4" fill-opacity="0.5"/>
<path d="M74.45 296.84V309.33M69.19 296.84h10.32M74.45 335.87V375.95M69.19 375.95h10.32" stroke="#383838" stroke-width="1.15" fill="none"/>
<path d="M64.35 319.74h19.35" stroke="#1f77b4" stroke-width="2.1" fill="none"/>
<rect x="96.6" y="304.12" width="19.35" height="18.22" fill="#d62728" fill-opacity="0.5"/>
<path d="M106.45 295.28V304.12M101.19 295.28h10.32M106.45 322.34V349.93M101.19 349.93h10.32" stroke="#383838" stroke-width="1.15" fill="none"/>
<path d="M96.6 310.89h19.35" stroke="#d62728" stroke-width="2.1" fill="none"/>
<rect x="128.85" y="311.41" width="19.35" height="27.07" fill="#1f77b4" fill-opacity="0.5"/>
<path d="M138.45 298.4V311.41M133.19 298.4h10.32M138.45 338.48V379.08M133.19 379.08h10.32" stroke="#383838" stroke-width="1.15" fill="none"/>
<path d="M128.85 320.78h19.35" stroke="#1f77b4" stroke-width="2.1" fill="none"/>
<rect x="161.1" y="304.64" width="19.35" height="18.74" fill="#d62728" fill-opacity="0.5"/>
<path d="M170.45 295.8V304.64M165.19 295.8h10.32M170.45 323.38V350.45M165.19 350.45h10.32" stroke="#383838" stroke-width="1.15" fill="none"/>
<path d="M161.1 313.49h19.35" stroke="#d62728" stroke-width="2.1" fill="none"/>
<rect x="193.35" y="414.47" width="19.35" height="104.1" fill="#bcbd22" fill-opacity="0.5"/>
<path d="M203.45 324.94V414.47M198.19 324.94h10.32" stroke="#383838" stroke-width="1.15" fill="none"/>
<path d="M193.35 477.97h19.35" stroke="#bcbd22" stroke-width="2.1" fill="none"/>
<rect x="225.6" y="349.93" width="19.35" height="43.72" fill="#2ca02c" fill-opacity="0.6"/>
<path d="M235.45 307.25V349.93M230.19 307.25h10.32M235.45 393.65V460.27M230.19 460.27h10.32" stroke="#383838" stroke-width="1.15" fill="none"/>
<path d="M225.6 369.71h19.35" stroke="#2ca02c" stroke-width="2.1" fill="none"/>
<rect x="257.85" y="340.56" width="19.35" height="65.17" fill="#bcbd22" fill-opacity="0.6"/>
<path d="M267.45 303.08V340.56M262.19 303.08h10.32M267.45 405.73V504M262.19 504h10.32" stroke="#383838" stroke-width="1.15" fill="none"/>
<path d="M257.85 365.02h19.35" stroke="#bcbd22" stroke-width="2.1" fill="none"/>
<rect x="290.1" y="327.03" width="19.35" height="34.35" fill="#2ca02c" fill-opacity="0.5"/>
<path d="M299.45 302.04V327.03M294.19 302.04h10.32M299.45 361.38V414.47M294.19 414.47h10.32" stroke="#383838" stroke-width="1.15" fill="none"/>
<path d="M290.1 341.6h19.35" stroke="#2ca02c" stroke-width="2.1" fill="none"/>
</g>
<line x1="57.9" y1="393.65" x2="315.9" y2="393.65" stroke="#1a1a1a" stroke-width="1.2"/>
<line x1="122.4" y1="289.55" x2="122.4" y2="497.8" stroke="#111" stroke-width="1" stroke-dasharray="3.3 1.4"/>
<line x1="251.4" y1="289.55" x2="251.4" y2="497.8" stroke="#111" stroke-width="1" stroke-dasharray="3.3 1.4"/>
<rect x="57.9" y="274.2" width="258" height="223.6" fill="none" stroke="#777" stroke-width="1"/>
<line x1="55.6" y1="497.75" x2="57.9" y2="497.75" stroke="#555" stroke-width="0.7"/>
<text x="54.2" y="501.15" font-family='"DejaVu Sans", "Liberation Sans", sans-serif' font-size="8.3" text-anchor="end" fill="#111">−1.0</text>
<line x1="55.6" y1="476.93" x2="57.9" y2="476.93" stroke="#555" stroke-width="0.7"/>
<text x="54.2" y="480.33" font-family='"DejaVu Sans", "Liberation Sans", sans-serif' font-size="8.3" text-anchor="end" fill="#111">−0.8</text>
<line x1="55.6" y1="456.11" x2="57.9" y2="456.11" stroke="#555" stroke-width="0.7"/>
<text x="54.2" y="459.51" font-family='"DejaVu Sans", "Liberation Sans", sans-serif' font-size="8.3" text-anchor="end" fill="#111">−0.6</text>
<line x1="55.6" y1="435.29" x2="57.9" y2="435.29" stroke="#555" stroke-width="0.7"/>
<text x="54.2" y="438.69" font-family='"DejaVu Sans", "Liberation Sans", sans-serif' font-size="8.3" text-anchor="end" fill="#111">−0.4</text>
<line x1="55.6" y1="414.47" x2="57.9" y2="414.47" stroke="#555" stroke-width="0.7"/>
<text x="54.2" y="417.87" font-family='"DejaVu Sans", "Liberation Sans", sans-serif' font-size="8.3" text-anchor="end" fill="#111">−0.2</text>
<line x1="55.6" y1="393.65" x2="57.9" y2="393.65" stroke="#555" stroke-width="0.7"/>
<text x="54.2" y="397.05" font-family='"DejaVu Sans", "Liberation Sans", sans-serif' font-size="8.3" text-anchor="end" fill="#111">0.0</text>
<line x1="55.6" y1="372.83" x2="57.9" y2="372.83" stroke="#555" stroke-width="0.7"/>
<text x="54.2" y="376.23" font-family='"DejaVu Sans", "Liberation Sans", sans-serif' font-size="8.3" text-anchor="end" fill="#111">0.2</text>
<line x1="55.6" y1="352.01" x2="57.9" y2="352.01" stroke="#555" stroke-width="0.7"/>
<text x="54.2" y="355.41" font-family='"DejaVu Sans", "Liberation Sans", sans-serif' font-size="8.3" text-anchor="end" fill="#111">0.4</text>
<line x1="55.6" y1="331.19" x2="57.9" y2="331.19" stroke="#555" stroke-width="0.7"/>
<text x="54.2" y="334.59" font-family='"DejaVu Sans", "Liberation Sans", sans-serif' font-size="8.3" text-anchor="end" fill="#111">0.6</text>
<line x1="55.6" y1="310.37" x2="57.9" y2="310.37" stroke="#555" stroke-width="0.7"/>
<text x="54.2" y="313.77" font-family='"DejaVu Sans", "Liberation Sans", sans-serif' font-size="8.3" text-anchor="end" fill="#111">0.8</text>
<line x1="55.6" y1="289.55" x2="57.9" y2="289.55" stroke="#555" stroke-width="0.7"/>
<text x="54.2" y="292.95" font-family='"DejaVu Sans", "Liberation Sans", sans-serif' font-size="8.3" text-anchor="end" fill="#111">1.0</text>
<line x1="90.15" y1="497.8" x2="90.15" y2="500.1" stroke="#555" stroke-width="0.7"/>
<text x="90.15" y="508.4" font-family='"DejaVu Sans", "Liberation Sans", sans-serif' font-size="7.45" text-anchor="middle" fill="#111">1 Participant</text>
<line x1="154.65" y1="497.8" x2="154.65" y2="500.1" stroke="#555" stroke-width="0.7"/>
<text x="154.65" y="508.4" font-family='"DejaVu Sans", "Liberation Sans", sans-serif' font-size="7.45" text-anchor="middle" fill="#111">9 Participants</text>
<line x1="219.15" y1="497.8" x2="219.15" y2="500.1" stroke="#555" stroke-width="0.7"/>
<text x="219.15" y="508.4" font-family='"DejaVu Sans", "Liberation Sans", sans-serif' font-size="7.45" text-anchor="middle" fill="#111">1 Participant</text>
<line x1="283.65" y1="497.8" x2="283.65" y2="500.1" stroke="#555" stroke-width="0.7"/>
<text x="283.65" y="508.4" font-family='"DejaVu Sans", "Liberation Sans", sans-serif' font-size="7.45" text-anchor="middle" fill="#111">9 Participants</text>
<line x1="74.03" y1="271.9" x2="74.03" y2="274.2" stroke="#555" stroke-width="0.7"/>
<text x="74.03" y="269" font-family='"DejaVu Sans", "Liberation Sans", sans-serif' font-size="6.25" text-anchor="middle" fill="#111">Target</text>
<line x1="106.28" y1="271.9" x2="106.28" y2="274.2" stroke="#555" stroke-width="0.7"/>
<text x="105.28" y="255" font-family='"DejaVu Sans", "Liberation Sans", sans-serif' font-size="6.25" text-anchor="middle" fill="#111">Target</text>
<text x="105.88" y="262" font-family='"DejaVu Sans", "Liberation Sans", sans-serif' font-size="6.25" text-anchor="middle" fill="#111">+</text>
<text x="106.88" y="269" font-family='"DejaVu Sans", "Liberation Sans", sans-serif' font-size="6.3" text-anchor="middle" fill="#111">Reference</text>
<line x1="138.53" y1="271.9" x2="138.53" y2="274.2" stroke="#555" stroke-width="0.7"/>
<text x="138.53" y="269" font-family='"DejaVu Sans", "Liberation Sans", sans-serif' font-size="6.25" text-anchor="middle" fill="#111">Target</text>
<line x1="170.78" y1="271.9" x2="170.78" y2="274.2" stroke="#555" stroke-width="0.7"/>
<text x="169.78" y="255" font-family='"DejaVu Sans", "Liberation Sans", sans-serif' font-size="6.25" text-anchor="middle" fill="#111">Target</text>
<text x="170.38" y="262" font-family='"DejaVu Sans", "Liberation Sans", sans-serif' font-size="6.25" text-anchor="middle" fill="#111">+</text>
<text x="171.38" y="269" font-family='"DejaVu Sans", "Liberation Sans", sans-serif' font-size="6.3" text-anchor="middle" fill="#111">Reference</text>
<line x1="203.03" y1="271.9" x2="203.03" y2="274.2" stroke="#555" stroke-width="0.7"/>
<text x="203.03" y="269" font-family='"DejaVu Sans", "Liberation Sans", sans-serif' font-size="6.25" text-anchor="middle" fill="#111">Target</text>
<line x1="235.28" y1="271.9" x2="235.28" y2="274.2" stroke="#555" stroke-width="0.7"/>
<text x="234.28" y="255" font-family='"DejaVu Sans", "Liberation Sans", sans-serif' font-size="6.25" text-anchor="middle" fill="#111">Target</text>
<text x="234.88" y="262" font-family='"DejaVu Sans", "Liberation Sans", sans-serif' font-size="6.25" text-anchor="middle" fill="#111">+</text>
<text x="235.88" y="269" font-family='"DejaVu Sans", "Liberation Sans", sans-serif' font-size="6.3" text-anchor="middle" fill="#111">Reference</text>
<line x1="267.52" y1="271.9" x2="267.52" y2="274.2" stroke="#555" stroke-width="0.7"/>
<text x="267.52" y="269" font-family='"DejaVu Sans", "Liberation Sans", sans-serif' font-size="6.25" text-anchor="middle" fill="#111">Target</text>
<line x1="299.77" y1="271.9" x2="299.77" y2="274.2" stroke="#555" stroke-width="0.7"/>
<text x="298.77" y="255" font-family='"DejaVu Sans", "Liberation Sans", sans-serif' font-size="6.25" text-anchor="middle" fill="#111">Target</text>
<text x="299.38" y="262" font-family='"DejaVu Sans", "Liberation Sans", sans-serif' font-size="6.25" text-anchor="middle" fill="#111">+</text>
<text x="300.38" y="269" font-family='"DejaVu Sans", "Liberation Sans", sans-serif' font-size="6.3" text-anchor="middle" fill="#111">Reference</text>
<text x="122.4" y="286" font-family='"DejaVu Sans", "Liberation Sans", sans-serif' font-size="11.45" text-anchor="middle" fill="#ff7f0e">Cross-Session</text>
<text x="251.4" y="286" font-family='"DejaVu Sans", "Liberation Sans", sans-serif' font-size="11.45" text-anchor="middle" fill="#9467bd">Cross-Participant</text>
<text x="30.6" y="386.8" font-family='"DejaVu Sans", "Liberation Sans", sans-serif' font-size="8.6" text-anchor="middle" fill="#111" transform="rotate(-90 30.6 386.8)">Coeficient of Determination - r2</text>
<text x="6.5" y="256.6" font-family='"Liberation Sans", sans-serif' font-size="21.5" text-anchor="start" fill="#000" font-weight="bold">c</text>
</g><g>
<clipPath id="clipd"><rect x="410.25" y="274.45" width="258.4" height="223.6"/></clipPath>
<rect x="410.25" y="274.45" width="128.45" height="223.6" fill="#ffe5cf"/>
<rect x="539.6" y="274.45" width="129.05" height="223.6" fill="#eae1f2"/>
<g stroke="#9a9a9a" stroke-width="0.6" stroke-dasharray="2.2 1.1" opacity="0.42"><path d="M410.25 498H668.65"/><path d="M410.25 477.18H668.65"/><path d="M410.25 456.36H668.65"/><path d="M410.25 435.54H668.65"/><path d="M410.25 414.72H668.65"/><path d="M410.25 373.08H668.65"/><path d="M410.25 352.26H668.65"/><path d="M410.25 331.44H668.65"/><path d="M410.25 310.62H668.65"/><path d="M410.25 289.8H668.65"/><path d="M442.55 274.45V498.05"/><path d="M507.15 274.45V498.05"/><path d="M571.75 274.45V498.05"/><path d="M636.35 274.45V498.05"/></g>
<g clip-path="url(#clipd)">
<g transform="translate(410.25 274.45) scale(0.25)" fill="none" stroke-linecap="square">
<path d="M93 76zm-41 1zm40 0zm-49 1zm11 0zm18 1zm-41 2zm39 0zm-38 1zm17 0zm32 0zm16 0zm-39 2zm6 0zm18 0zm8 0zm-31 1zm-12 2zm6 0zm5 0zm2 1zm-25 1zm8 0zm54 0zm-41 1zm6 0zm20 0zm-19 1zm22 0zm6 0zm-45 1zm14 0zm11 0zm4 0zm14 0zm-53 1zm52 0zm-22 1zm11 0zm18 1zm-58 1zm17 0zm25 0zm6 0zm7 0zm3 0zm-64 1zm26 0zm39 0zm-61 1zm18 0zm2 0zm10 0zm-8 1zm14 0zm8 0zm-20 1zm36 0zm-22 1zm-22 1zm19 0zm-8 1zm16 0zm7 1zm-45 1zm24 1zm14 0zm8 0zm8 0zm-63 1zm41 0zm-9 1zm1 0zm19 0zm-39 1zm2 0zm19 0zm-16 1zm6 0zm37 0zm-54 1zm53 0zm-49 1zm9 1zm1 0zm13 0zm-31 1zm-2 1zm15 0zm49 0zm-58 2zm30 0zm18 0zm-24 3zm16 0zm16 0zm-62 1zm6 1zm10 1zm10 0zm23 0zm10 3zm-60 2zm55 0zm-23 1zm6 2zm20 0zm-8 1zm-38 1zm27 0zm-37 1zm33 0zm27 0zm-45 1zm-5 1zm41 1zm2 1zm-54 1zm1 0zm37 0zm14 0zm11 0zm-62 1zm24 1zm26 0zm-45 2zm37 0zm3 0zm-45 2zm49 0zm-46 3zm11 0zm2 0zm30 1zm9 0zm-13 2zm-22 1zm10 0zm33 0zm-54 4zm7 2zm1 1zm-19 2zm11 0zm16 5zm4 1zm31 1zm-30 2zm-28 4zm46 1zm-25 4zm-15 6zm2 0zm14 2zm-15 7zm-1 1zm7 4zm19 0zm15 3zm-30 11zm2 6zm-17 7zm30 1zm-17 5zm5 2zm-8 3zm0 2zm35 17zm-40 6zm28 6zm15 0zm-34 29zm3 11zm-14 61zm-5 142z" stroke="#1f77b4" stroke-width="3" stroke-opacity="0.33"/>
<path d="M46 75zm-13 3zm46 0zm-46 1zm40 0zm-5 2zm27 0zm-51 1zm35 0zm12 0zm7 0zm-46 1zm24 0zm-25 1zm26 0zm-45 1zm47 0zm8 0zm-21 1zm30 0zm-28 1zm14 0zm6 0zm-2 1zm8 0zm-59 1zm27 0zm-30 1zm59 0zm-25 1zm3 0zm-38 1zm6 0zm16 0zm10 0zm26 0zm-20 1zm9 0zm-21 1zm39 0zm-21 1zm19 0zm3 0zm-44 1zm3 0zm2 0zm6 0zm-29 1zm6 1zm18 0zm24 1zm-18 1zm27 0zm4 0zm-61 1zm19 0zm7 0zm12 0zm9 0zm-4 1zm2 0zm-34 1zm19 0zm12 0zm-37 1zm1 1zm26 0zm29 0zm-52 2zm-5 1zm36 0zm10 0zm-30 2zm8 0zm10 0zm18 0zm-42 1zm9 0zm11 0zm-33 1zm31 1zm-18 1zm17 0zm-24 1zm19 0zm6 0zm15 0zm14 0zm-11 1zm-49 1zm32 0zm27 1zm3 0zm-63 2zm54 0zm-26 1zm14 1zm-15 1zm20 0zm10 1zm-45 2zm4 0zm30 0zm5 0zm-19 1zm-1 1zm7 1zm-32 1zm0 0zm44 0zm5 0zm-37 1zm11 3zm-1 1zm1 2zm19 0zm-2 1zm7 0zm-18 2zm15 0zm-46 2zm5 0zm18 1zm-21 1zm2 0zm25 0zm-17 2zm-11 1zm27 1zm-20 1zm7 1zm11 5zm8 2zm-2 1zm22 0zm-54 2zm40 0zm-36 5zm12 0zm18 2zm-9 1zm-6 2zm16 0zm10 1zm-32 1zm9 4zm7 1zm6 2zm-17 1zm20 6zm1 2zm-42 1zm50 4zm-21 1zm-6 2zm-18 3zm-8 5zm11 0zm29 2zm13 0zm2 4zm-35 1zm21 8zm-29 1zm30 1zm-35 7zm45 17zm-17 1zm5 10zm7 11zm12 0zm-60 10zm43 16zm-30 40zm20 10z" stroke="#1f77b4" stroke-width="3" stroke-opacity="0.33"/>
<path d="M199 72zm-36 1zm24 0zm4 0zm0 1zm-29 2zm5 0zm4 0zm2 0zm15 0zm19 1zm-24 1zm11 0zm1 0zm4 0zm-32 2zm-4 1zm23 0zm12 1zm21 0zm-58 1zm8 0zm3 0zm7 1zm31 0zm3 0zm6 0zm-48 1zm3 0zm30 0zm1 0zm1 0zm21 0zm0 0zm-62 1zm10 0zm40 0zm-44 1zm8 0zm28 0zm-38 1zm9 0zm17 0zm1 0zm-31 1zm8 0zm0 0zm0 0zm3 0zm9 0zm13 0zm3 0zm6 0zm-31 1zm10 0zm29 2zm-54 1zm14 0zm42 0zm-52 1zm0 0zm34 0zm3 0zm-27 2zm-13 1zm43 0zm-8 1zm-20 1zm33 0zm12 0zm-50 1zm45 0zm-6 1zm-43 1zm5 0zm49 0zm-50 2zm4 0zm35 0zm-3 1zm5 0zm-30 1zm2 0zm13 0zm6 0zm20 1zm-38 1zm13 1zm-20 1zm3 0zm24 0zm2 0zm18 1zm-26 1zm-25 1zm4 0zm27 2zm13 0zm8 0zm-60 2zm6 0zm38 0zm-37 1zm-4 1zm13 0zm22 0zm-45 1zm21 0zm3 0zm1 0zm-20 1zm2 0zm38 0zm11 1zm-34 1zm20 0zm14 0zm-32 1zm34 0zm6 0zm-56 1zm50 0zm-36 1zm12 2zm28 1zm-60 2zm12 1zm18 2zm-4 2zm20 0zm-18 1zm1 1zm26 0zm-46 2zm36 1zm-40 2zm54 1zm-50 2zm32 1zm-33 1zm16 0zm20 1zm-11 1zm-8 1zm-22 1zm36 0zm-31 1zm26 6zm-26 4zm21 8zm-14 6zm18 2zm29 0zm-1 7zm-30 3zm-29 2zm29 0zm-3 5zm12 4zm13 2zm-14 9zm-40 1zm30 5zm26 11zm-15 2zm-32 7zm21 19zm9 26zm-14 37zm-9 15zm20 19z" stroke="#d62728" stroke-width="3" stroke-opacity="0.33"/>
<path d="M206 73zm-34 4zm54 1zm-60 1zm1 0zm6 0zm50 0zm-21 1zm3 0zm7 0zm-45 1zm12 0zm30 0zm17 0zm-63 1zm7 0zm41 0zm-26 1zm2 0zm21 0zm14 0zm-59 2zm11 0zm3 0zm24 0zm1 0zm9 0zm-16 1zm-28 1zm1 0zm32 0zm18 0zm-38 1zm33 0zm10 0zm-51 1zm6 0zm27 0zm-11 1zm15 0zm-39 1zm7 0zm10 0zm10 1zm11 0zm-29 1zm2 0zm19 0zm0 0zm4 0zm8 0zm10 0zm-54 1zm12 0zm24 0zm-7 1zm5 0zm15 0zm-49 1zm10 0zm16 0zm8 0zm2 0zm-37 3zm16 0zm16 0zm-17 1zm8 0zm31 0zm-37 1zm12 0zm-4 1zm5 0zm3 0zm17 0zm-31 1zm36 0zm-30 1zm1 0zm26 0zm2 0zm-32 1zm-26 1zm6 0zm4 0zm3 0zm24 0zm-27 2zm29 0zm22 0zm-49 1zm22 0zm12 0zm15 0zm-54 1zm-4 1zm46 0zm-32 1zm2 0zm12 0zm6 2zm11 0zm-14 2zm16 0zm-28 1zm13 0zm9 0zm10 1zm-27 1zm6 0zm19 0zm-21 1zm3 0zm10 0zm7 0zm-41 1zm12 1zm19 0zm-18 1zm27 0zm13 0zm-2 2zm-43 1zm34 0zm-29 1zm24 0zm-17 1zm-12 2zm-10 1zm25 1zm-12 3zm19 2zm-1 6zm6 0zm-11 3zm25 4zm-53 1zm41 0zm-27 2zm44 1zm-46 1zm40 1zm-4 6zm-32 1zm-17 4zm-7 1zm6 2zm41 0zm-3 6zm10 5zm-26 1zm30 1zm-30 2zm-4 1zm32 2zm-52 1zm14 4zm28 5zm20 4zm-1 5zm-4 1zm-39 1zm-9 21zm-7 28zm47 19zm0 14zm-39 42zm33 2zm-5 12zm5 180z" stroke="#d62728" stroke-width="3" stroke-opacity="0.33"/>
<path d="M304 74zm3 2zm40 0zm7 1zm2 1zm-4 1zm-41 1zm34 0zm-17 1zm-30 1zm37 0zm7 0zm-48 1zm33 0zm15 0zm10 0zm-18 2zm20 0zm-41 2zm26 0zm1 1zm-46 1zm1 0zm4 0zm6 0zm37 0zm-11 1zm-26 1zm11 0zm14 0zm10 0zm-47 1zm20 1zm8 0zm32 0zm-11 1zm3 0zm-33 1zm20 0zm7 0zm-43 1zm34 0zm-26 1zm21 0zm19 0zm11 0zm-57 1zm7 0zm21 0zm1 0zm12 0zm-45 1zm17 3zm42 1zm-42 1zm5 0zm15 0zm21 0zm-60 1zm17 1zm9 0zm17 0zm-31 1zm11 0zm6 0zm25 0zm-44 1zm7 1zm1 0zm3 0zm34 0zm9 0zm-65 1zm30 0zm-2 1zm9 1zm-32 1zm39 0zm-37 2zm49 0zm-52 1zm0 0zm38 0zm19 0zm-58 1zm41 1zm10 0zm-40 1zm13 0zm-19 2zm5 0zm2 1zm8 0zm11 1zm-29 1zm15 0zm-17 2zm31 0zm-17 1zm17 0zm-33 1zm4 3zm39 0zm-22 1zm0 0zm23 1zm-4 1zm20 0zm-40 1zm31 0zm-20 3zm32 0zm-39 1zm4 0zm3 0zm9 0zm9 0zm6 0zm-4 1zm12 0zm-63 2zm21 2zm-16 1zm10 0zm47 3zm-54 2zm6 5zm29 3zm-27 1zm28 4zm-28 1zm25 1zm6 0zm-10 2zm17 2zm6 1zm-24 4zm-19 2zm16 1zm-19 2zm41 0zm-56 5zm60 2zm-49 1zm22 2zm23 3zm-51 1zm-6 5zm30 3zm8 1zm2 0zm2 1zm16 11zm-42 1zm32 1zm-48 2zm34 5zm-32 2zm-2 10zm3 12zm23 8zm31 17zm-38 22zm8 5zm-17 40zm-4 11zm-2 16zm14 39zm-5 63z" stroke="#1f77b4" stroke-width="3" stroke-opacity="0.33"/>
<path d="M320 73zm-16 1zm-4 2zm3 1zm1 1zm17 0zm-18 2zm20 0zm-18 2zm41 1zm-45 1zm4 0zm24 0zm24 0zm-45 1zm7 1zm7 0zm13 0zm9 0zm0 1zm-29 1zm32 0zm2 1zm-25 1zm-35 1zm37 0zm5 1zm-20 1zm4 0zm27 0zm-13 1zm10 0zm1 0zm8 0zm3 0zm5 0zm-29 1zm13 1zm-38 1zm11 0zm20 0zm4 0zm-32 1zm11 0zm16 0zm9 0zm-51 1zm24 0zm-22 1zm37 0zm13 0zm8 0zm-29 1zm2 0zm28 0zm-37 1zm-7 1zm12 0zm29 0zm-55 1zm27 0zm1 0zm9 2zm2 0zm-32 1zm11 1zm13 0zm-24 1zm13 1zm25 0zm17 0zm-26 1zm25 0zm-54 1zm38 0zm-14 1zm8 0zm3 0zm-41 2zm18 0zm5 0zm20 0zm1 0zm-36 1zm13 1zm9 0zm-21 1zm35 1zm9 1zm1 0zm7 2zm-46 1zm6 0zm38 0zm-24 1zm0 0zm0 2zm-3 1zm8 0zm11 0zm3 3zm-58 1zm41 0zm20 0zm-18 1zm-36 2zm10 0zm-16 1zm9 1zm7 1zm16 0zm-32 2zm35 1zm-36 2zm0 0zm20 0zm6 0zm-2 1zm20 0zm-22 1zm20 0zm-10 1zm31 0zm0 1zm-42 2zm3 0zm21 0zm-34 2zm54 0zm-35 1zm24 1zm-28 3zm-18 1zm50 1zm9 0zm-63 2zm62 0zm-51 2zm-8 1zm34 1zm9 0zm-2 6zm1 4zm-2 1zm-24 1zm28 0zm-3 3zm-26 8zm-21 2zm61 4zm-5 1zm-20 2zm-25 1zm4 3zm15 2zm-28 2zm46 16zm-36 2zm38 3zm-8 4zm6 6zm0 3zm14 25zm-16 12zm-6 5zm-34 24zm0 12zm2 30zm11 14z" stroke="#1f77b4" stroke-width="3" stroke-opacity="0.33"/>
<path d="M445 72zm7 1zm12 0zm2 1zm12 0zm-53 1zm48 2zm-33 1zm0 0zm1 0zm-10 1zm44 0zm-37 1zm37 0zm-52 1zm22 0zm14 0zm0 0zm5 0zm1 0zm-17 1zm18 1zm1 0zm10 0zm-55 1zm9 0zm2 0zm21 0zm22 0zm-5 1zm1 0zm-33 1zm3 0zm16 0zm-13 1zm3 0zm-20 1zm20 0zm6 0zm23 0zm-53 1zm2 1zm3 0zm9 0zm-7 1zm0 0zm24 0zm1 0zm4 0zm-40 1zm45 1zm20 0zm-59 1zm16 0zm0 0zm31 0zm-53 1zm18 0zm27 0zm-26 1zm41 0zm-48 2zm6 0zm47 0zm-49 1zm6 0zm-8 1zm5 0zm13 0zm0 0zm16 1zm-29 1zm17 0zm-25 1zm4 0zm24 0zm15 0zm-53 2zm30 0zm-22 1zm27 1zm-35 1zm8 0zm21 0zm8 0zm15 0zm-30 1zm8 0zm-21 1zm36 2zm-36 1zm14 2zm-17 1zm29 0zm3 0zm-30 2zm26 0zm6 1zm-36 3zm5 0zm22 0zm19 0zm-3 1zm9 2zm-55 1zm40 0zm-33 1zm45 0zm-25 2zm3 0zm-14 1zm-13 1zm22 0zm-20 2zm29 1zm7 1zm-30 1zm5 1zm21 0zm9 0zm17 0zm-10 1zm6 1zm-58 1zm34 3zm14 2zm10 1zm-25 1zm-4 1zm2 0zm-4 1zm24 0zm-23 1zm-2 2zm18 1zm-33 1zm-14 2zm9 2zm41 4zm-39 1zm42 0zm-11 5zm21 2zm-12 5zm-4 3zm-30 1zm22 7zm26 2zm-31 4zm21 1zm-31 2zm12 8zm19 0zm-38 5zm6 1zm28 9zm-2 2zm-13 15zm22 1zm-13 1zm3 6zm-44 4zm26 2zm28 18zm-10 2zm-13 12zm0 30zm4 148zm-36 40z" stroke="#d62728" stroke-width="3" stroke-opacity="0.33"/>
<path d="M449 72zm9 1zm-25 1zm-7 1zm-4 1zm57 0zm-35 1zm40 0zm-31 1zm11 0zm2 0zm-41 1zm42 1zm-47 1zm15 0zm28 0zm9 0zm-40 1zm30 0zm-20 1zm26 0zm-49 1zm34 0zm13 0zm-36 1zm38 0zm5 0zm-25 1zm10 0zm15 0zm10 0zm-60 1zm4 0zm20 0zm0 0zm3 0zm23 0zm3 0zm2 0zm7 0zm-34 1zm7 0zm2 0zm3 0zm16 0zm-35 1zm16 0zm-8 1zm-30 1zm55 0zm-39 2zm2 0zm-21 1zm52 0zm4 0zm-47 1zm13 0zm18 0zm-39 1zm29 0zm-28 1zm19 0zm8 0zm20 0zm-49 1zm20 0zm18 1zm13 0zm-47 1zm17 0zm10 0zm9 0zm2 1zm-7 2zm-27 2zm55 0zm-62 1zm32 0zm16 0zm2 0zm-39 1zm7 0zm1 0zm5 0zm3 0zm19 0zm-44 1zm8 0zm2 0zm6 0zm14 0zm-9 2zm-10 2zm15 1zm20 0zm-15 1zm7 0zm11 0zm-13 3zm7 1zm15 0zm-9 1zm-42 2zm-4 1zm5 1zm19 0zm26 0zm-43 1zm-3 2zm27 3zm7 0zm8 0zm10 1zm2 0zm-58 1zm10 0zm1 0zm40 1zm-54 1zm38 1zm-24 1zm-15 1zm7 2zm11 0zm-15 3zm4 0zm54 4zm-23 1zm-33 1zm45 2zm15 1zm-17 4zm17 2zm-33 3zm23 2zm-5 2zm-4 1zm-2 2zm-17 2zm3 1zm24 0zm-22 3zm-1 2zm23 1zm-12 1zm9 0zm-53 7zm41 1zm-17 2zm-22 11zm2 3zm54 0zm-43 2zm-5 2zm-5 2zm11 4zm-15 2zm0 4zm2 15zm43 1zm3 0zm-11 4zm0 6zm-26 7zm-4 1zm47 6zm6 23zm-15 9zm-29 66z" stroke="#d62728" stroke-width="3" stroke-opacity="0.33"/>
<path d="M564 106zm27 0zm-31 4zm20 2zm-7 6zm-1 1zm25 0zm-22 4zm22 2zm17 0zm-55 2zm-8 2zm51 1zm-30 2zm17 1zm-16 1zm5 0zm-27 3zm16 4zm3 0zm42 0zm0 1zm-4 1zm-25 2zm20 1zm4 0zm-27 1zm1 0zm-9 2zm5 1zm-5 1zm39 2zm-13 3zm-32 1zm17 0zm26 0zm-56 3zm1 0zm24 0zm-14 2zm27 1zm14 0zm-51 1zm59 0zm-1 2zm1 0zm-62 1zm50 0zm-6 1zm13 0zm-58 2zm64 0zm-33 1zm28 0zm-57 2zm20 6zm37 0zm-60 2zm9 0zm18 1zm37 0zm-20 1zm-13 1zm24 3zm6 0zm-60 1zm9 0zm15 1zm27 0zm-9 1zm-25 5zm15 0zm-20 1zm37 0zm8 0zm-31 1zm24 0zm-22 1zm-20 1zm42 0zm8 1zm-29 1zm22 2zm-16 3zm-17 1zm5 0zm14 0zm24 1zm-22 1zm-16 1zm36 2zm2 0zm-50 1zm48 0zm-19 1zm-36 1zm14 0zm-6 1zm8 0zm44 1zm-18 1zm10 0zm-51 2zm18 1zm23 1zm-43 1zm14 0zm30 0zm-17 1zm1 0zm5 3zm5 0zm-33 1zm51 0zm-54 1zm24 0zm1 0zm19 0zm4 0zm2 1zm5 0zm-57 1zm8 3zm3 1zm-16 2zm16 0zm-6 1zm2 0zm39 0zm-35 1zm45 0zm-44 1zm0 0zm-15 1zm12 0zm6 1zm27 1zm19 0zm-56 2zm45 0zm3 0zm6 0zm-50 1zm18 0zm0 1zm-25 1zm26 2zm-24 1zm12 0zm6 0zm5 0zm25 0zm-34 1zm8 0zm-12 1zm16 0zm10 0zm12 0zm-37 2zm8 0zm19 0zm19 0zm-48 2zm11 2zm1 0zm14 0zm7 0zm5 0zm9 0zm-26 1zm10 1zm-45 1zm28 1zm24 0zm-44 1zm13 0zm8 0zm-6 1zm7 0zm9 1zm-23 1zm-12 1zm31 0zm-9 1zm25 0zm11 0zm-55 1zm4 0zm1 0zm26 0zm-18 2zm2 0zm36 0zm-24 2zm6 0zm5 0zm-30 1zm17 0zm13 0zm1 1zm13 0zm-54 1zm-6 1zm44 0zm3 0zm16 0zm-44 1zm9 0zm1 0zm29 0zm-24 2zm4 0zm-13 2zm0 0zm13 0zm10 0zm2 0zm6 0zm-3 1zm-56 1zm13 1zm22 0zm23 0zm-56 1zm44 0zm-14 1zm29 0zm-57 1zm11 0zm1 0zm25 0zm-27 1zm28 1zm22 0zm-17 1zm-39 1zm17 1zm-11 1zm21 0zm11 0zm5 0zm-30 1zm-15 1zm34 0zm2 0zm25 0zm-37 1zm21 0zm8 0zm-21 1zm8 0zm14 0zm-49 1zm26 1zm23 0zm2 0zm-57 1zm4 0zm13 0zm1 0zm0 0zm12 0zm30 0zm-42 1zm-17 1zm10 0zm1 0zm-13 1zm6 0zm15 0zm30 0zm-20 1zm6 0zm10 0zm-38 1zm12 0zm-10 1zm30 0zm-25 2zm45 0zm-5 1zm-54 1zm4 0zm8 0zm12 0zm28 0zm-37 1zm41 0zm-28 1zm14 0zm-30 1zm9 0zm8 0zm27 0zm-31 1zm10 2zm2 0zm-12 1zm0 0zm-13 1zm38 0zm-51 1zm11 0zm15 0zm35 1zm-57 1zm13 0zm-5 1zm8 0zm21 0zm5 0zm-44 1zm10 0zm10 0zm-22 1zm29 0zm25 0zm-51 1zm11 0zm43 0zm2 0zm2 0zm-64 1zm45 0zm17 0zm-61 1zm26 0zm13 0zm-38 2zm27 0zm11 0zm14 1zm-37 1zm11 0zm13 0zm14 0zm7 0zm-57 1zm8 0zm5 0zm2 0zm24 0zm-35 1zm8 0zm17 0zm-11 1zm36 0zm2 0zm-35 1zm-24 1zm9 0zm11 0zm26 0zm10 0zm-40 1zm14 1zm17 0zm-44 1zm12 0zm15 0zm5 0zm12 0zm6 0zm4 0zm-40 1zm18 0zm6 0zm10 0zm-21 1zm-14 1zm22 0zm8 0zm9 0zm-52 1zm12 0zm24 0zm4 0zm-20 1zm5 1zm20 0zm-29 1zm17 0zm14 0zm-42 1zm26 0zm20 0zm-49 1zm15 0zm1 0zm3 0zm5 0zm5 0zm-28 1zm-5 1zm-2 1zm0 0zm15 0zm39 0zm3 0zm-31 1zm1 0zm37 0zm-48 1zm36 0zm-1 1zm5 0zm-47 2zm23 0zm20 0zm-48 1zm21 0zm10 0zm-36 1zm33 0zm11 0zm-34 1zm5 0zm14 0zm2 0zm1 0zm17 0zm-19 1zm14 0zm4 0zm4 0zm-8 1zm0 0zm18 0zm-63 1zm9 0zm-4 1zm52 0zm3 0zm-59 1zm39 0zm-40 2zm13 0zm7 0zm40 0zm4 0zm-21 1zm9 0zm-14 2zm-37 1zm50 0zm-32 1zm9 0zm13 0zm-22 1zm1 0zm33 0zm12 0zm-57 1zm7 0zm28 0zm-24 1zm2 0zm22 0zm7 1zm10 0zm4 0zm-60 1zm9 0zm9 0zm32 0zm3 0zm1 0zm-36 1zm27 1zm3 0zm8 1zm-40 1zm37 0zm-46 1zm20 2zm-5 2zm1 0zm38 1zm-63 1zm0 0zm29 0zm6 0zm-13 1zm-4 1zm12 0zm32 0zm0 0zm-25 1zm3 1zm-29 1zm11 0zm-13 1zm4 0zm27 1zm4 0zm-46 2zm20 0zm30 0zm5 2zm-34 2zm26 1zm7 0zm-55 1zm27 0zm4 0zm34 0zm-9 3zm-37 2zm15 1zm-30 1zm34 0zm4 0zm3 0zm9 1zm6 3zm-39 1zm37 0zm3 3zm-60 3zm48 0zm4 1zm-40 1zm53 1zm-59 2zm28 0zm22 0zm-1 2zm-18 2zm-8 1zm-26 1zm31 0zm-11 1zm-2 1zm-14 1zm43 0zm15 0zm-52 1zm-13 2zm6 0zm-6 2zm52 0zm-47 2zm0 0zm40 0zm-36 1zm-3 1zm5 0zm30 0zm1 0zm13 1zm-44 1zm10 0zm23 0zm17 1zm-51 1zm26 0zm-4 1zm1 0zm33 1zm-48 1zm18 0zm29 0zm-13 2zm12 2zm-51 2zm33 0zm8 0zm-29 1zm-17 2zm22 0zm19 0zm-30 1zm40 0zm-43 1zm39 2zm3 0zm-10 2zm8 0zm7 0zm-39 1zm14 0zm7 0zm11 0zm-10 1zm3 1zm17 0zm-58 1zm54 1zm-29 1zm22 1zm8 0zm0 1zm-57 1zm8 0zm24 0zm-20 1zm-3 2zm26 0zm-16 1zm37 0zm-53 1zm23 0zm-7 1zm17 0zm-32 3zm11 0zm3 0zm7 0zm6 0zm-14 1zm0 0zm4 1zm38 0zm-8 1zm-37 1zm-15 1zm37 0zm-25 1zm-10 3zm27 0zm14 0zm-5 2zm-2 1zm5 0zm-30 1zm22 1zm20 0zm-39 2zm10 0zm16 3zm-22 1zm27 0zm6 0zm-12 1zm9 1zm-3 1zm-4 1zm17 0zm-41 1zm-20 1zm31 2zm7 0zm-34 1zm31 0zm9 1zm7 0zm9 1zm-26 1zm13 0zm-4 1zm16 0zm-49 1zm40 1zm14 0zm-55 1zm41 0zm-53 1zm26 0zm-2 1zm19 0zm17 0zm-39 1zm23 0zm-20 1zm42 0zm-39 5zm-24 1zm5 0zm1 1zm55 0zm-56 1zm11 0zm-13 1zm30 3zm2 0zm-16 2zm13 0zm31 0zm-53 1zm45 2zm-47 1zm13 0zm-5 1zm28 0zm-39 1zm33 2zm15 1zm-2 1zm-32 1zm9 0zm26 1zm-22 1zm10 0zm4 0zm-25 2zm4 0zm10 0zm-19 1zm-17 1zm23 0zm-13 1zm7 0zm4 0zm0 2zm4 2zm36 0zm-24 2zm17 0zm-55 2zm10 2zm16 0zm18 0zm-13 1zm1 0zm-21 1zm12 0zm8 4zm23 0zm-39 2zm13 0zm0 1zm23 0zm8 0zm-17 1zm21 0zm-58 1zm11 1zm23 3zm-34 1zm52 0zm-44 2zm6 0zm20 0zm-15 1zm-22 2zm53 0zm-38 1zm36 0zm-17 1zm-35 1zm34 0zm29 1zm-48 1zm49 1zm-39 1zm37 0zm-36 2zm7 0zm13 2zm-27 1zm20 0zm20 0zm-50 1zm20 0zm-6 1zm25 0zm16 0zm-19 1zm-46 1zm15 1zm21 0zm22 1zm-50 1zm32 0zm1 1zm-32 1zm40 0zm7 1zm-24 3zm-17 1zm18 0zm7 3zm-12 2zm23 0zm-26 1zm2 0zm-12 1zm31 0zm-32 1zm34 0zm14 0zm-32 2zm0 1zm13 0zm15 0zm-43 2zm4 0zm17 2zm-35 3zm64 1zm-41 1zm0 0zm27 0zm6 0zm-21 1zm1 0zm19 0zm-56 1zm0 0zm18 0zm36 1zm-2 1zm13 0zm-44 1zm27 0zm10 0zm0 2zm-59 1zm42 0zm25 0zm-60 2zm5 0zm18 1zm-19 1zm46 0zm-46 2zm4 0zm9 0zm-19 2zm15 0zm26 2zm1 0zm15 0zm-25 2zm25 0zm0 0zm-56 1zm29 0zm4 0zm-23 1zm17 0zm16 0zm-37 1zm31 0zm-43 1zm25 0zm29 1zm-13 1zm-41 1zm3 1zm26 0zm-24 2zm55 0zm-45 6zm25 0zm-13 1zm40 1zm-43 1zm13 0zm22 0zm2 0zm-46 3zm17 4zm1 1zm26 4zm8 7zm-2 1zm-12 1zm-14 2zm22 2zm-37 1zm2 1zm-7 2zm42 1zm-47 1zm16 0zm35 1zm-22 2zm-17 2zm9 1zm20 1zm11 4zm-35 3zm1 0zm4 0zm3 3zm5 2zm17 0zm-37 1zm33 0zm6 0zm-50 1zm25 2zm18 0zm-33 1zm11 0zm9 2zm-26 1zm18 0zm-30 1zm36 1zm21 0zm-4 1zm-36 4zm1 0zm27 0zm1 7zm11 1zm-25 1zm-36 3zm5 0zm53 1zm-45 1zm29 1zm7 0zm5 2zm6 0zm-58 1zm9 5zm16 1zm-12 1zm21 1zm8 1zm-10 3zm-10 1zm20 2zm10 1zm5 0zm3 0zm-19 2zm0 0zm-1 1zm-4 7zm23 0zm-30 1zm-17 2zm8 2zm16 3zm-22 3zm43 0zm6 1zm-4 6zm-26 1zm18 0zm-32 1zm-5 4zm14 0zm-29 1zm9 0zm30 1zm22 1zm-57 4zm57 0zm-62 5zm18 0zm-12 1zm15 2zm42 0zm-63 1zm6 0zm18 2zm16 4zm17 0zm-35 1zm39 0zm-50 2zm47 0zm-46 1zm8 2zm7 0zm-5 1zm1 0zm13 0zm-5 1zm30 0zm-32 1zm12 0zm-31 2zm12 5zm17 0zm-28 1zm7 3zm-4 1zm1 3zm24 1zm-10 5zm28 0zm-42 1zm44 1zm-49 2zm-10 6zm62 0zm-48 3zm39 1zm-50 1zm15 2zm19 0zm4 2zm16 1zm-19 1zm8 0zm-34 1zm13 1zm32 1zm-29 1zm24 1zm-14 3zm1 0zm-13 3zm23 1zm-39 3zm53 4zm-45 2zm36 1z" stroke="#bcbd22" stroke-width="3" stroke-opacity="0.36"/>
<path d="M554 110zm13 1zm-8 6zm0 1zm40 1zm-23 1zm1 1zm-26 3zm55 2zm-5 3zm-21 3zm-24 4zm-2 2zm2 1zm20 1zm-11 3zm0 2zm1 0zm27 0zm12 2zm-37 1zm29 3zm-2 2zm-39 1zm55 0zm-32 2zm-6 2zm8 0zm31 0zm-29 1zm-13 1zm22 0zm-29 1zm-6 1zm30 1zm-37 1zm12 2zm-6 2zm-3 1zm-5 2zm6 1zm11 0zm28 0zm20 0zm-49 2zm25 0zm23 1zm-29 1zm22 0zm2 0zm-7 1zm-31 1zm9 0zm14 0zm-4 1zm15 0zm-54 4zm8 0zm2 0zm18 1zm-21 1zm47 0zm-3 1zm11 1zm-25 2zm13 0zm-40 1zm38 0zm3 0zm-52 6zm2 0zm35 2zm5 1zm-26 1zm37 0zm-50 1zm59 0zm-43 1zm1 1zm47 0zm-53 1zm26 0zm16 0zm-27 1zm18 0zm-6 1zm10 0zm-34 1zm20 0zm7 1zm7 0zm-50 2zm25 0zm0 0zm7 0zm0 1zm1 1zm-21 1zm29 0zm-30 1zm29 1zm-1 1zm16 1zm-54 1zm0 1zm42 0zm11 0zm-52 1zm35 0zm7 1zm-29 1zm9 0zm19 0zm7 0zm6 1zm-29 1zm35 0zm-60 1zm51 0zm-53 1zm20 0zm0 0zm33 0zm-51 2zm-1 1zm7 0zm13 0zm43 0zm-65 1zm2 0zm46 0zm-6 1zm-29 1zm5 0zm28 0zm12 0zm-25 1zm-32 1zm1 0zm6 0zm40 0zm2 0zm-46 1zm3 0zm29 1zm11 0zm3 0zm-23 2zm-7 1zm15 0zm25 0zm-55 1zm20 1zm-22 1zm12 0zm15 0zm14 1zm2 0zm5 1zm9 0zm-43 1zm3 0zm1 0zm18 0zm4 0zm-25 1zm8 2zm21 0zm5 0zm-48 2zm23 0zm20 0zm-17 1zm22 0zm3 1zm6 0zm3 0zm-36 1zm-27 1zm11 0zm42 0zm9 0zm-45 1zm32 0zm-50 1zm19 1zm29 0zm-8 1zm-1 1zm19 0zm-30 1zm-24 1zm36 0zm17 0zm4 1zm-31 1zm8 0zm19 0zm3 0zm-5 1zm-3 1zm3 0zm-38 1zm10 0zm21 0zm-13 1zm19 0zm-31 1zm3 0zm19 0zm1 2zm12 0zm-45 1zm3 0zm9 0zm3 0zm27 0zm-16 1zm21 1zm-39 1zm41 0zm-48 1zm16 0zm17 0zm-35 1zm31 0zm-37 1zm14 0zm19 0zm24 0zm-50 1zm5 0zm17 0zm17 0zm-34 1zm-12 1zm5 1zm28 0zm19 0zm-57 1zm1 0zm38 0zm6 0zm-10 1zm4 0zm17 0zm-42 1zm26 0zm-23 1zm18 0zm15 1zm-29 1zm4 0zm12 0zm25 0zm-50 1zm10 0zm4 0zm-9 1zm10 0zm18 0zm-40 1zm13 0zm-12 1zm28 0zm0 1zm-3 1zm2 1zm24 0zm-30 1zm15 0zm-19 1zm16 0zm-18 1zm9 0zm-16 1zm2 0zm10 0zm10 0zm-11 1zm-1 1zm-23 1zm23 0zm1 1zm35 0zm2 0zm-26 1zm25 0zm-44 1zm-14 1zm13 0zm0 1zm21 0zm7 0zm0 0zm-42 1zm22 0zm24 0zm-30 1zm27 0zm15 1zm-54 1zm2 0zm22 0zm1 0zm6 0zm-31 1zm56 0zm-48 1zm39 0zm-44 1zm17 0zm10 0zm-26 2zm31 0zm-36 1zm2 0zm26 0zm1 0zm11 1zm7 0zm5 0zm4 0zm-55 1zm15 1zm13 0zm28 0zm-54 1zm1 0zm44 0zm1 0zm10 0zm-55 1zm5 0zm9 0zm7 0zm-23 1zm21 1zm29 1zm-56 1zm61 0zm-44 1zm-13 1zm32 2zm19 0zm-21 1zm22 0zm-21 1zm6 0zm0 0zm-21 1zm8 0zm17 0zm6 0zm4 0zm-25 1zm2 1zm8 0zm3 0zm-28 1zm-8 1zm58 0zm-62 1zm-2 1zm2 0zm18 0zm15 0zm-22 1zm3 0zm30 0zm-14 3zm10 0zm20 0zm0 0zm0 0zm-34 1zm20 0zm-47 1zm34 0zm17 0zm7 0zm-59 1zm22 0zm34 0zm-41 1zm2 0zm26 0zm-30 1zm24 0zm9 0zm4 0zm13 1zm-61 1zm8 0zm14 0zm-17 1zm12 0zm-12 1zm37 0zm-17 2zm-27 1zm33 1zm22 0zm-55 1zm15 0zm8 0zm34 0zm-34 1zm5 0zm9 0zm15 0zm1 0zm2 0zm-39 2zm10 0zm7 0zm-29 1zm12 0zm-13 1zm42 0zm16 1zm-54 1zm5 0zm24 0zm3 0zm9 0zm-31 1zm46 0zm-37 1zm3 0zm30 0zm-20 1zm8 0zm-39 1zm19 0zm3 0zm29 0zm-17 1zm4 0zm11 0zm-57 1zm51 0zm-39 2zm2 0zm3 0zm27 0zm5 0zm-24 1zm18 0zm-9 1zm14 0zm6 0zm-54 1zm16 0zm40 0zm0 0zm-53 1zm53 0zm-54 1zm29 0zm-28 1zm12 0zm28 0zm-39 1zm15 0zm29 0zm-16 1zm22 0zm5 0zm-43 1zm31 0zm-31 1zm-11 1zm15 0zm12 0zm32 0zm-59 1zm7 0zm28 0zm-28 1zm12 1zm0 1zm-24 2zm26 0zm3 0zm26 0zm-30 1zm-26 1zm29 0zm-27 1zm16 0zm17 2zm-14 1zm30 0zm8 0zm-37 1zm13 0zm-3 1zm5 0zm-36 1zm17 0zm11 0zm7 0zm-5 1zm-29 1zm63 0zm-16 3zm3 0zm5 0zm-49 3zm4 0zm12 0zm3 0zm8 0zm16 0zm-33 1zm4 0zm40 0zm-29 1zm16 0zm-28 2zm-8 2zm23 0zm3 0zm-8 1zm-18 2zm38 1zm-48 2zm2 0zm2 0zm33 0zm-35 1zm4 0zm17 1zm15 0zm-2 1zm4 1zm-19 1zm-23 1zm50 0zm-47 1zm16 0zm-14 2zm23 0zm8 1zm13 0zm-34 1zm23 0zm0 0zm12 1zm-41 1zm14 1zm19 0zm13 0zm3 0zm-56 1zm6 1zm43 0zm-17 1zm5 1zm13 0zm-40 1zm27 0zm7 2zm11 0zm-45 2zm-3 2zm9 0zm8 0zm35 1zm-44 4zm37 1zm-30 1zm22 0zm-15 1zm9 0zm24 0zm-20 1zm15 0zm-39 1zm-12 1zm27 0zm-33 1zm16 1zm28 0zm-21 3zm19 0zm-33 1zm34 0zm-13 1zm8 0zm19 0zm-8 2zm0 0zm-32 1zm-20 2zm12 0zm30 2zm-21 1zm-23 1zm37 0zm-27 2zm51 0zm3 0zm-64 2zm41 1zm9 0zm-36 1zm14 1zm12 1zm-9 3zm20 0zm14 0zm-57 1zm21 1zm24 0zm-47 5zm35 0zm-22 1zm-11 3zm-7 2zm41 0zm-39 1zm17 0zm33 1zm-23 1zm7 0zm-27 1zm6 0zm13 1zm10 0zm25 0zm-52 1zm-6 2zm21 0zm20 0zm3 1zm6 0zm9 2zm-35 2zm-2 1zm34 1zm-37 1zm-19 1zm13 1zm-9 2zm32 0zm0 0zm-12 1zm29 0zm-30 1zm-18 2zm-6 1zm23 0zm-14 1zm4 2zm15 3zm25 1zm-38 1zm15 0zm-31 1zm17 1zm12 0zm15 1zm8 0zm9 0zm1 0zm-53 1zm31 1zm5 0zm-41 1zm40 1zm-10 1zm-3 2zm-25 2zm53 0zm-31 1zm-17 1zm28 0zm-38 2zm62 0zm-32 3zm-29 1zm30 0zm22 1zm-5 3zm13 1zm-31 1zm-8 1zm19 0zm15 0zm-55 1zm9 0zm11 0zm41 0zm-21 3zm-43 1zm16 0zm21 0zm-12 1zm10 0zm5 1zm-43 1zm7 0zm6 0zm33 0zm-37 2zm34 0zm-25 2zm-13 3zm6 0zm2 0zm13 0zm38 1zm-59 2zm42 0zm-46 1zm16 0zm30 0zm-36 1zm9 1zm28 0zm-1 1zm-6 2zm-30 1zm30 0zm-14 1zm28 0zm-33 1zm18 0zm4 0zm8 0zm-43 1zm55 1zm-38 2zm15 0zm-20 1zm-4 2zm3 1zm25 0zm-27 1zm4 0zm-3 1zm-13 1zm30 0zm3 0zm11 0zm7 0zm2 1zm-16 1zm-14 1zm0 0zm10 1zm28 0zm-45 1zm5 1zm26 0zm-49 1zm17 2zm29 0zm-13 3zm-12 1zm16 0zm-29 2zm7 0zm15 1zm14 0zm-25 1zm-4 1zm42 0zm4 1zm-4 1zm-49 1zm31 0zm-10 1zm-23 1zm27 0zm-9 2zm23 0zm-22 1zm-10 1zm-12 2zm-5 2zm8 0zm35 0zm-18 1zm7 0zm2 0zm12 0zm9 2zm-52 1zm9 1zm7 2zm5 1zm0 1zm-2 2zm19 0zm-28 4zm10 1zm28 0zm2 1zm1 2zm6 0zm-42 2zm7 0zm-3 1zm39 0zm-8 2zm-27 1zm31 0zm-58 1zm12 0zm13 0zm-16 1zm50 0zm-13 1zm13 0zm-43 1zm7 2zm8 0zm-7 1zm13 0zm22 0zm-46 2zm31 0zm-28 1zm34 0zm-51 2zm28 0zm27 2zm-4 1zm12 1zm-49 2zm-4 1zm46 0zm-20 1zm26 3zm0 1zm-18 1zm-1 1zm20 0zm-30 3zm-21 1zm37 1zm-7 2zm23 0zm-5 2zm-31 1zm24 2zm-46 1zm6 0zm42 2zm-14 1zm-11 2zm-18 4zm49 1zm-49 4zm-10 1zm5 0zm29 2zm6 0zm-10 2zm-15 1zm11 1zm-11 1zm36 0zm-50 1zm60 0zm-48 3zm-13 3zm6 1zm56 0zm-60 2zm32 0zm30 1zm-59 1zm19 3zm34 0zm-33 2zm38 0zm-29 2zm20 2zm1 1zm-48 3zm-8 2zm27 2zm20 0zm-12 1zm13 0zm-26 1zm29 0zm-45 3zm14 4zm1 2zm22 0zm0 2zm13 1zm6 2zm-44 1zm-17 1zm53 0zm-19 2zm12 1zm-43 3zm41 0zm-41 3zm31 1zm-30 7zm7 0zm6 1zm26 0zm-16 2zm-14 2zm49 0zm-5 1zm-30 1zm-27 3zm40 0zm2 0zm17 0zm-28 3zm-30 3zm36 1zm-18 2zm29 0zm-41 3zm9 0zm5 0zm-15 1zm21 0zm27 2zm-15 2zm-35 3zm38 0zm-1 3zm-8 4zm29 3zm-35 2zm-2 1zm24 1zm7 0zm-11 3zm-10 1zm-2 3zm27 1zm-62 1zm28 0zm-8 1zm30 0zm-1 1zm7 1zm-54 3zm0 0zm10 7zm-2 2zm3 0zm25 4zm13 1zm-42 4zm18 0zm3 0zm-22 3zm4 2zm16 0zm16 0zm19 3zm-5 1zm-55 1zm2 1zm5 1zm22 0zm-32 2zm14 2zm25 0zm15 2zm-39 2zm-12 4zm39 0zm8 0zm-32 2zm16 1zm12 2zm-12 1zm-33 4zm11 0zm-11 3zm28 0zm12 1zm-39 1zm20 1zm42 0zm-54 1zm20 0zm-6 1zm-22 3zm20 0zm44 0zm-13 2zm0 2zm-28 3zm13 0zm-23 1zm7 0zm39 0z" stroke="#bcbd22" stroke-width="3" stroke-opacity="0.36"/>
<path d="M592 102zm-37 8zm20 2zm-26 2zm4 0zm23 4zm1 3zm22 2zm-11 3zm-1 2zm-24 1zm-11 2zm50 1zm13 0zm-55 2zm7 0zm3 0zm-12 2zm22 3zm0 0zm1 0zm-4 1zm7 3zm-30 3zm23 0zm-15 1zm42 1zm-54 1zm14 2zm19 0zm-28 2zm13 0zm-4 1zm10 2zm-21 1zm44 2zm-34 4zm17 0zm12 0zm-28 1zm22 1zm8 0zm-7 1zm-13 1zm41 2zm-19 1zm-4 1zm14 0zm-56 2zm6 0zm16 1zm-13 1zm3 0zm13 1zm-11 1zm45 1zm-28 1zm10 0zm1 0zm-35 1zm26 1zm14 2zm2 0zm13 0zm-31 1zm-29 1zm5 0zm-6 3zm12 1zm1 0zm38 0zm-54 1zm52 0zm-20 1zm12 0zm10 0zm-31 1zm15 0zm0 0zm-11 1zm14 0zm13 0zm2 0zm-53 1zm5 0zm13 0zm9 0zm9 2zm20 0zm-49 2zm2 0zm-3 1zm21 2zm-13 1zm50 0zm-57 2zm1 0zm4 0zm33 0zm-31 1zm8 0zm1 1zm-3 1zm21 0zm-40 1zm13 1zm-6 2zm22 0zm4 1zm20 0zm-40 1zm3 0zm30 0zm17 0zm-16 1zm3 0zm-46 2zm22 0zm30 0zm-36 1zm34 0zm-12 1zm-24 1zm31 0zm10 0zm-57 1zm24 1zm25 0zm-22 2zm-10 4zm31 0zm-35 1zm17 1zm29 1zm2 0zm-60 1zm41 0zm18 0zm-62 2zm32 0zm20 0zm-47 1zm4 0zm10 0zm6 0zm0 0zm-21 2zm-2 2zm0 1zm1 0zm44 1zm8 0zm-58 1zm12 0zm-3 2zm12 0zm-8 1zm2 0zm3 1zm15 0zm-12 1zm-7 1zm8 0zm15 0zm-19 1zm29 0zm-37 1zm40 1zm13 0zm-49 1zm-2 2zm49 0zm-17 1zm1 0zm15 0zm-60 1zm20 0zm-16 1zm-3 2zm33 0zm-35 1zm13 0zm49 0zm-27 2zm10 0zm-37 1zm1 0zm2 0zm7 0zm22 0zm24 0zm-35 1zm-28 1zm44 1zm-39 2zm10 0zm18 1zm9 0zm2 0zm15 0zm-39 2zm21 0zm7 0zm1 0zm15 1zm-35 3zm26 0zm-42 1zm2 0zm4 1zm39 0zm-22 1zm-33 1zm3 0zm7 0zm16 0zm8 0zm12 0zm-9 1zm15 0zm1 0zm8 0zm-60 2zm55 1zm0 0zm-6 1zm-17 1zm13 0zm-39 1zm25 2zm-30 1zm20 0zm-2 1zm42 0zm-61 1zm2 0zm31 0zm28 1zm-62 1zm59 0zm-53 1zm11 0zm0 0zm2 0zm12 0zm11 0zm20 0zm-50 1zm40 0zm4 0zm-51 1zm19 0zm10 0zm10 2zm-20 1zm7 0zm18 1zm-27 1zm33 0zm-4 1zm0 0zm-18 1zm-9 2zm32 1zm-5 1zm-48 1zm33 0zm9 0zm8 0zm1 0zm-54 1zm37 0zm7 0zm4 0zm-52 1zm19 0zm13 0zm20 0zm3 0zm-46 1zm12 0zm-17 1zm41 0zm-39 3zm16 0zm25 0zm2 0zm1 0zm4 0zm-30 1zm-17 1zm39 0zm11 0zm-32 1zm18 0zm7 0zm-43 1zm11 1zm48 0zm-38 1zm3 0zm4 0zm-23 1zm13 0zm1 0zm12 0zm-16 1zm39 0zm-26 1zm17 0zm-23 1zm17 0zm-43 1zm23 0zm-9 1zm5 0zm25 0zm4 0zm13 0zm-45 1zm12 0zm1 0zm31 0zm-52 1zm15 0zm14 0zm-9 1zm6 0zm1 0zm-23 1zm36 0zm-37 2zm14 0zm11 0zm-39 1zm17 0zm25 0zm-30 1zm27 0zm18 0zm-52 2zm51 0zm6 0zm-52 1zm13 0zm-6 1zm10 0zm13 0zm2 0zm14 0zm10 0zm-66 1zm28 1zm-26 1zm64 1zm-51 1zm33 0zm-44 1zm11 0zm6 0zm12 0zm19 0zm11 1zm-57 2zm56 0zm-29 1zm4 0zm13 0zm0 0zm13 0zm-28 1zm30 0zm-48 1zm4 0zm31 0zm-32 1zm25 0zm11 0zm-40 1zm16 1zm1 0zm5 0zm10 0zm-46 1zm30 0zm5 0zm-10 1zm2 1zm26 0zm6 0zm-59 1zm3 0zm6 0zm22 0zm10 0zm-42 2zm9 0zm27 0zm-19 1zm13 0zm11 0zm24 0zm-45 1zm11 0zm10 0zm23 0zm1 0zm-54 1zm9 0zm18 1zm21 0zm-58 1zm41 0zm6 0zm-39 3zm14 0zm1 0zm23 0zm10 0zm-51 1zm28 0zm17 0zm13 0zm-40 1zm15 0zm11 0zm-30 1zm1 0zm17 0zm27 0zm-44 1zm13 0zm6 0zm6 0zm9 1zm-36 1zm5 0zm18 0zm1 0zm17 0zm-57 1zm13 0zm20 0zm10 0zm9 0zm4 0zm-25 1zm10 0zm13 0zm-32 1zm6 0zm-15 1zm10 1zm37 0zm0 0zm-54 1zm5 0zm13 0zm11 0zm1 0zm-38 1zm36 0zm-6 1zm-6 1zm14 1zm-14 2zm19 0zm-9 1zm11 3zm-1 1zm-35 1zm26 0zm6 0zm-20 3zm2 1zm40 0zm-12 1zm-40 2zm37 0zm6 0zm-39 1zm9 0zm21 0zm-18 1zm-24 3zm24 1zm25 0zm-54 2zm44 0zm5 1zm-8 1zm9 1zm9 0zm-53 1zm1 0zm49 1zm-7 3zm-49 2zm13 0zm8 0zm8 0zm7 0zm-24 1zm15 0zm7 1zm-14 1zm21 0zm2 0zm1 0zm-30 1zm32 0zm12 0zm7 0zm-57 4zm15 0zm27 0zm-46 1zm15 0zm37 0zm-19 2zm-10 1zm31 0zm-33 2zm25 0zm-2 2zm-3 3zm15 0zm-20 2zm-21 1zm-13 1zm9 1zm42 0zm4 0zm-55 1zm28 1zm-28 1zm6 1zm42 0zm11 1zm-39 1zm22 0zm4 0zm3 1zm-18 1zm-27 3zm4 0zm25 0zm-20 1zm31 0zm2 0zm-21 1zm8 0zm12 1zm-42 1zm14 1zm23 0zm-3 2zm-15 1zm-17 1zm-4 1zm25 0zm8 0zm2 3zm-36 1zm10 0zm20 0zm-10 1zm-11 1zm-3 1zm26 1zm7 3zm19 0zm2 0zm0 0zm-66 2zm53 0zm-16 1zm-17 3zm25 0zm8 0zm-50 1zm55 0zm-27 1zm13 0zm-23 2zm19 0zm18 0zm-41 1zm9 0zm17 0zm4 1zm-32 1zm-9 1zm50 0zm-2 2zm1 0zm-16 2zm0 0zm22 0zm-56 1zm15 0zm46 0zm-22 3zm15 2zm-9 1zm3 0zm-11 2zm-23 1zm13 0zm-22 1zm-9 1zm60 0zm-9 1zm-49 1zm19 1zm7 2zm-27 1zm33 0zm-34 1zm60 0zm1 0zm4 1zm-45 1zm12 0zm-31 1zm35 0zm-24 2zm9 1zm37 0zm5 1zm-8 1zm1 0zm-48 2zm21 0zm15 0zm-45 1zm14 1zm29 0zm9 0zm1 0zm-26 2zm-14 1zm13 0zm-26 1zm16 0zm41 2zm-50 1zm11 0zm44 0zm-60 1zm41 0zm-11 2zm26 0zm-58 1zm50 1zm-34 1zm10 0zm0 2zm11 0zm10 0zm10 0zm6 0zm-53 2zm21 1zm29 0zm-33 1zm-22 4zm3 0zm5 0zm4 0zm23 0zm13 0zm-16 1zm-5 1zm-29 1zm16 0zm13 0zm23 0zm-55 1zm19 1zm13 0zm17 1zm16 0zm-14 1zm8 0zm-12 2zm-23 3zm-22 4zm8 0zm38 0zm6 0zm4 0zm-49 1zm53 1zm-55 1zm13 0zm20 0zm-26 2zm18 0zm9 0zm13 0zm2 0zm-55 1zm51 0zm-28 1zm24 2zm-7 1zm16 0zm-45 1zm6 0zm31 0zm-45 1zm5 0zm44 0zm6 0zm3 2zm2 1zm-63 1zm13 1zm45 1zm-39 1zm32 0zm-46 1zm13 0zm38 0zm-29 1zm-22 1zm19 0zm8 0zm6 0zm-10 1zm31 0zm-8 1zm10 0zm-45 1zm48 0zm-1 3zm-54 2zm21 0zm12 0zm-39 1zm32 1zm13 1zm11 0zm-37 2zm30 1zm-22 1zm-17 1zm14 1zm2 1zm-17 1zm2 0zm21 2zm-32 1zm28 0zm-17 2zm-10 1zm31 0zm3 0zm-26 1zm14 0zm3 0zm31 0zm-28 1zm-29 1zm3 0zm22 0zm7 0zm-33 1zm8 0zm24 0zm8 3zm2 1zm-45 2zm57 0zm-32 1zm22 0zm-32 1zm40 1zm-50 4zm55 1zm-14 1zm8 1zm-50 1zm6 0zm17 0zm-10 2zm21 1zm0 0zm2 0zm-3 2zm4 0zm18 0zm-9 1zm1 1zm-36 2zm20 0zm11 0zm1 0zm-45 2zm64 0zm-46 1zm5 0zm27 0zm-38 2zm53 0zm-59 1zm-8 1zm25 2zm7 0zm-1 1zm-10 2zm30 1zm2 1zm-30 1zm20 2zm-11 4zm14 4zm-5 4zm-23 1zm23 1zm-38 1zm9 0zm17 0zm0 2zm31 2zm-35 2zm6 0zm35 1zm-16 1zm-32 3zm-9 1zm8 0zm0 0zm22 0zm-30 4zm45 0zm-20 1zm-2 1zm18 1zm-43 1zm43 0zm-38 1zm5 0zm18 1zm26 0zm-44 1zm-15 2zm26 0zm23 1zm7 1zm-55 3zm50 1zm-15 2zm8 1zm-15 3zm9 1zm-23 2zm-3 1zm6 0zm32 4zm-6 2zm-18 2zm37 0zm-11 1zm-13 1zm-29 1zm43 0zm4 0zm-2 1zm-42 2zm-3 4zm21 3zm27 2zm-57 2zm55 3zm-20 2zm24 1zm-61 2zm51 0zm-5 1zm1 2zm-42 1zm2 0zm3 2zm18 0zm33 1zm-47 2zm15 1zm19 4zm-20 1zm-15 2zm2 0zm6 0zm0 0zm7 1zm-12 2zm29 0zm-39 2zm10 3zm26 0zm-40 1zm15 0zm-12 1zm6 2zm38 0zm-26 2zm-9 3zm44 1zm-40 2zm20 0zm13 0zm-50 3zm45 1zm-45 1zm50 0zm-11 3zm5 4zm15 0zm-50 3zm39 0zm-16 1zm-15 3zm-13 1zm32 0zm21 0zm-15 1zm7 0zm-46 1zm54 0zm-16 4zm-28 1zm-8 2zm52 0zm-44 1zm-11 1zm11 0zm16 0zm17 0zm10 0zm-13 4zm-33 3zm-8 4zm13 0zm-7 1zm13 3zm29 1zm-44 2zm19 0zm23 0zm-17 3zm18 0zm-6 1zm-27 4zm31 0zm-32 3zm-9 1zm18 1zm1 0zm-25 1zm56 0zm-4 1zm-3 2zm-23 1zm-21 3zm15 0zm4 2zm9 0zm-1 1zm20 1zm-49 1zm42 0zm9 1zm-51 5zm-1 1zm6 0zm37 1zm-17 1zm-17 1zm48 0zm-16 1zm-43 1zm25 0zm-23 1zm16 0zm-19 3zm3 3zm12 0zm5 1zm14 4zm-23 2zm55 0zm-11 2zm-32 2zm-19 3zm28 0zm16 3zm-12 2zm-32 3zm12 0zm3 1zm-4 3zm-11 1zm3 1z" stroke="#bcbd22" stroke-width="3" stroke-opacity="0.36"/>
<path d="M691 92zm19 0zm11 0zm-21 1zm17 0zm12 0zm6 0zm-31 1zm5 0zm8 0zm-22 1zm2 0zm5 0zm25 0zm6 0zm-45 1zm12 0zm1 0zm38 0zm-30 1zm14 0zm-34 1zm14 0zm1 0zm13 0zm18 0zm1 0zm-46 1zm29 0zm-35 1zm3 0zm8 0zm4 0zm2 0zm9 0zm7 0zm-19 1zm14 0zm14 0zm8 0zm3 0zm-46 1zm3 0zm12 0zm2 0zm23 0zm-40 1zm1 0zm4 0zm18 0zm3 0zm2 0zm-40 1zm55 0zm-52 1zm2 0zm13 0zm33 0zm4 0zm9 0zm-58 1zm30 0zm2 0zm1 0zm-37 1zm11 0zm9 0zm43 0zm0 0zm-33 1zm6 0zm4 0zm3 0zm-30 1zm16 0zm13 0zm11 0zm2 0zm-51 1zm7 0zm2 0zm29 0zm4 0zm4 0zm6 0zm4 0zm-59 1zm33 0zm11 0zm1 0zm7 0zm-50 1zm15 0zm1 0zm9 0zm8 0zm5 0zm1 0zm2 0zm-26 1zm-4 1zm1 0zm5 0zm5 0zm15 0zm2 0zm-42 1zm19 0zm12 0zm-30 1zm10 0zm26 0zm-25 1zm0 0zm3 0zm1 0zm3 0zm-20 1zm33 0zm8 0zm2 0zm7 0zm3 0zm8 0zm1 0zm-58 1zm55 0zm-51 1zm1 0zm19 1zm16 0zm4 0zm-41 1zm30 0zm21 0zm4 0zm-30 1zm30 0zm-50 1zm15 0zm1 0zm7 0zm17 0zm11 1zm-61 1zm10 0zm5 0zm25 0zm9 0zm5 0zm7 0zm-59 1zm3 0zm16 0zm24 0zm0 0zm-38 1zm3 0zm12 0zm1 0zm6 0zm20 0zm-25 1zm15 0zm3 0zm4 0zm3 0zm4 0zm2 0zm1 0zm4 0zm-44 1zm31 0zm-40 1zm3 0zm2 0zm14 0zm1 0zm12 0zm1 0zm14 0zm-48 1zm35 0zm6 0zm1 0zm0 0zm-21 1zm6 0zm24 0zm-57 1zm3 0zm33 0zm-20 1zm2 0zm16 0zm-11 1zm7 0zm25 0zm-60 1zm21 0zm5 0zm15 0zm9 0zm1 0zm-46 1zm0 0zm4 0zm19 0zm7 0zm1 0zm24 0zm3 0zm-16 1zm3 0zm13 0zm-39 1zm11 0zm3 0zm8 0zm7 0zm4 0zm-47 1zm2 0zm1 0zm4 0zm21 0zm4 0zm6 0zm15 0zm1 0zm2 0zm-64 1zm9 0zm6 0zm34 0zm3 0zm9 0zm-45 1zm11 0zm3 0zm21 0zm7 0zm2 0zm3 0zm-52 1zm2 0zm9 0zm26 0zm1 0zm10 0zm1 0zm-14 1zm4 0zm1 0zm-52 1zm9 0zm29 0zm4 0zm9 0zm1 0zm2 0zm1 0zm-45 1zm0 0zm2 0zm30 0zm10 0zm-48 1zm3 0zm15 0zm6 0zm3 0zm15 0zm20 0zm-65 1zm9 0zm3 0zm35 0zm4 0zm-49 1zm20 0zm1 0zm2 0zm9 0zm2 0zm7 0zm21 0zm-60 1zm1 0zm17 0zm20 0zm18 0zm-36 1zm23 0zm-28 1zm3 0zm2 0zm16 0zm-41 1zm7 0zm32 0zm1 0zm1 0zm9 0zm1 0zm7 0zm8 0zm-59 1zm1 0zm15 0zm11 0zm15 0zm1 0zm15 0zm-55 1zm9 0zm15 0zm4 0zm4 0zm3 0zm8 0zm12 0zm-65 1zm9 0zm31 0zm5 0zm6 0zm-42 1zm0 0zm3 0zm13 0zm3 0zm-15 1zm0 0zm1 0zm2 0zm4 0zm2 0zm7 0zm1 0zm0 1zm6 0zm11 0zm17 0zm-56 1zm19 0zm5 0zm17 0zm-48 1zm6 0zm3 0zm15 0zm0 0zm20 0zm13 0zm1 0zm-58 1zm2 0zm14 0zm2 0zm-10 1zm8 0zm0 0zm4 0zm2 0zm17 0zm6 0zm4 0zm3 0zm-25 1zm6 0zm16 0zm-45 1zm16 0zm4 0zm21 0zm7 0zm2 0zm3 0zm7 0zm-58 1zm4 0zm2 0zm12 0zm4 0zm3 0zm14 0zm2 0zm-46 1zm5 0zm11 0zm3 0zm2 0zm5 0zm-20 1zm1 0zm27 0zm19 0zm8 0zm2 0zm1 0zm-37 1zm20 0zm-12 1zm12 0zm0 0zm10 0zm-59 1zm6 0zm12 0zm10 0zm2 0zm11 0zm19 0zm-48 1zm13 0zm3 0zm-22 1zm14 0zm6 0zm17 0zm19 0zm-63 1zm3 0zm3 0zm27 0zm1 0zm1 0zm0 0zm6 0zm11 0zm0 0zm5 0zm0 0zm3 0zm2 0zm3 0zm-54 1zm10 0zm31 0zm-50 1zm3 0zm49 0zm3 0zm-56 1zm46 1zm5 1zm-50 1zm6 0zm7 0zm50 0zm-14 1zm14 1zm1 0zm-56 1zm1 0zm22 0zm31 0zm-25 1zm2 0zm9 0zm2 0zm3 0zm-53 1zm15 0zm17 0zm19 0zm2 0zm8 0zm-44 1zm19 0zm2 0zm25 0zm-56 1zm35 0zm2 0zm-28 1zm9 0zm18 0zm4 0zm-18 1zm2 0zm4 0zm-9 1zm-10 1zm39 0zm-11 1zm5 0zm11 0zm-41 1zm10 0zm33 0zm-47 1zm42 0zm5 0zm-63 1zm21 0zm-19 1zm0 2zm2 0zm0 2zm11 0zm25 0zm-34 1zm7 0zm14 0zm30 0zm-37 1zm-16 1zm23 0zm13 0zm19 0zm-55 1zm57 1zm-44 2zm-7 1zm28 1zm7 0zm10 0zm7 0zm1 0zm-4 1zm-41 1zm15 0zm24 0zm-36 1zm6 0zm16 0zm17 1zm2 0zm-47 1zm9 0zm4 0zm9 0zm8 0zm2 1zm-41 1zm29 0zm23 0zm-4 2zm-25 1zm5 0zm-17 1zm45 0zm-47 3zm35 0zm-6 1zm-28 1zm41 0zm1 0zm-19 1zm9 0zm-16 1zm3 0zm19 1zm2 0zm-14 1zm-32 1zm25 0zm-10 1zm0 0zm31 0zm-2 1zm-39 1zm7 0zm16 2zm23 0zm-59 1zm30 0zm31 1zm-27 1zm-28 1zm-6 1zm51 0zm-42 1zm3 0zm19 1zm27 0zm-45 1zm33 1zm-29 1zm15 0zm-20 1zm34 0zm14 0zm-50 1zm37 0zm-16 1zm30 0zm-41 3zm0 1zm-22 1zm5 0zm38 0zm-44 1zm60 0zm5 0zm-55 1zm52 0zm-38 3zm41 2zm-10 2zm8 0zm-17 3zm11 0zm3 1zm0 1zm-46 1zm5 0zm7 0zm4 0zm24 1zm-43 1zm40 0zm-32 1zm9 0zm12 0zm-35 1zm7 0zm7 2zm46 3zm-26 3zm-21 1zm35 0zm2 0zm-13 1zm10 0zm-27 1zm27 0zm8 1zm-40 1zm22 0zm-34 1zm5 0zm45 0zm-53 1zm13 0zm35 0zm-31 2zm15 1zm2 0zm7 0zm14 1zm-42 1zm-16 1zm60 0zm-61 1zm9 0zm-4 1zm28 0zm13 0zm-46 1zm7 0zm17 0zm14 0zm-24 1zm-4 1zm-2 1zm23 1zm-18 1zm5 0zm-15 1zm10 0zm8 0zm10 0zm11 1zm-17 2zm-13 1zm13 0zm26 1zm1 0zm-44 3zm23 0zm17 0zm-43 1zm3 2zm2 0zm30 0zm7 0zm-45 1zm0 0zm22 1zm21 0zm19 0zm-49 1zm3 0zm5 1zm4 0zm26 0zm-30 1zm1 0zm37 0zm-42 1zm8 0zm18 0zm16 0zm-52 1zm4 0zm12 0zm14 0zm8 0zm13 0zm-38 1zm17 0zm8 0zm-38 1zm17 0zm4 0zm7 0zm23 0zm-57 2zm21 0zm25 0zm-36 1zm14 0zm-16 2zm28 0zm2 0zm-8 1zm-30 1zm2 0zm21 0zm5 0zm-12 1zm26 0zm10 0zm3 0zm-54 1zm0 0zm5 0zm1 0zm21 0zm18 0zm3 1zm14 0zm-24 1zm-30 1zm2 0zm-8 1zm12 0zm10 0zm20 0zm18 0zm-63 1zm10 0zm-12 1zm3 0zm48 0zm-48 2zm24 0zm3 0zm31 1zm-59 2zm1 0zm16 0zm3 0zm4 0zm4 0zm15 0zm20 0zm-23 1zm1 0zm16 0zm-55 1zm36 0zm11 0zm-46 1zm2 0zm32 0zm4 0zm15 0zm-31 1zm2 1zm35 0zm-60 1zm10 0zm4 0zm8 0zm4 0zm11 0zm-37 1zm10 0zm-5 1zm15 0zm26 0zm-40 1zm3 0zm30 0zm15 0zm-4 2zm7 0zm-48 1zm1 0zm0 0zm17 0zm-16 1zm8 0zm7 0zm22 0zm6 0zm-59 1zm24 0zm6 0zm33 0zm-54 2zm5 0zm-13 1zm5 1zm40 0zm4 0zm-2 1zm10 0zm5 0zm-61 1zm32 0zm-32 1zm1 0zm53 0zm-49 1zm22 0zm-21 1zm17 0zm9 1zm7 0zm-30 1zm45 0zm-35 1zm9 0zm14 0zm-28 2zm15 2zm20 0zm-38 2zm14 0zm9 0zm4 0zm14 1zm-45 2zm25 0zm4 0zm14 0zm8 0zm-39 1zm1 1zm0 1zm38 0zm-8 1zm-29 1zm3 0zm5 0zm35 1zm-37 1zm8 0zm12 0zm-24 1zm18 0zm-35 1zm15 0zm37 0zm-38 1zm15 0zm20 0zm-54 1zm38 2zm-41 1zm37 0zm23 0zm2 0zm2 0zm2 0zm-21 1zm-9 1zm27 0zm-38 1zm16 0zm-31 1zm29 0zm-25 1zm46 0zm-24 1zm-10 1zm-27 2zm25 0zm7 0zm26 0zm-8 1zm-42 1zm46 0zm0 0zm-38 1zm3 0zm22 0zm-31 1zm55 0zm-2 1zm-16 2zm14 1zm-31 2zm-9 1zm31 0zm-46 1zm48 0zm7 0zm-48 1zm42 0zm4 0zm-31 1zm-3 1zm15 0zm21 0zm-45 1zm12 1zm22 0zm6 1zm-10 1zm-26 1zm2 0zm21 1zm16 0zm-18 1zm7 0zm1 0zm5 1zm11 0zm-49 1zm13 0zm25 0zm12 0zm-46 1zm9 1zm22 0zm-18 1zm-33 2zm64 1zm-39 1zm-11 1zm-11 1zm51 0zm-38 1zm11 0zm9 0zm23 0zm-1 1zm-32 1zm2 1zm-9 1zm26 1zm-39 1zm22 0zm17 0zm10 0zm-36 1zm24 0zm8 2zm5 0zm-5 1zm4 0zm-18 1zm-8 1zm22 1zm-14 2zm-11 1zm-17 1zm17 0zm23 0zm-2 1zm-19 1zm18 0zm15 0zm-30 1zm-19 2zm22 1zm7 0zm20 3zm-3 1zm-44 1zm37 0zm-26 1zm35 1zm-49 2zm9 1zm7 0zm-24 2zm3 0zm11 0zm1 0zm11 0zm36 0zm-57 3zm49 0zm-45 1zm6 0zm26 0zm10 0zm-21 2zm20 0zm11 1zm-9 1zm-40 1zm44 1zm1 0zm-36 1zm31 2zm-35 5zm24 0zm21 0zm-37 6zm1 0zm8 0zm-28 1zm24 0zm-32 1zm7 0zm47 0zm11 0zm-24 2zm6 0zm-41 1zm49 0zm3 1zm-56 1zm5 3zm48 0zm9 2zm-56 5zm5 3zm45 0zm-39 1zm7 0zm2 0zm33 1zm-18 1zm-33 1zm6 0zm21 0zm3 0zm-11 3zm-9 2zm28 1zm2 2zm8 0zm-24 3zm3 0zm-13 1zm-14 3zm8 1zm31 0zm-45 3zm40 0zm16 1zm-30 1zm14 0zm8 3zm-37 1zm13 1zm1 2zm27 0zm-41 1zm9 1zm27 4zm15 1zm-34 1zm3 0zm6 5zm-41 4zm13 2zm16 0zm25 4zm-37 2zm15 0zm-31 3zm39 1zm21 1zm-6 4zm-51 2zm29 0zm4 3zm19 2zm-43 1zm29 0zm-28 1zm44 2zm-20 1zm-22 2zm17 2zm-16 4zm23 5zm0 0zm-38 1zm43 2zm3 0zm-29 1zm-10 1zm17 1zm35 1zm-16 1zm-27 6zm41 0zm-13 1zm-30 1zm15 7zm17 4zm-10 2zm2 2zm2 1zm8 0zm10 1zm-44 4zm8 0zm-3 2zm19 0zm-37 6zm42 1zm-40 2zm48 0zm10 1zm-52 2zm31 6zm-6 4zm-1 1zm-4 1zm4 3zm-21 1zm50 0zm-54 2zm-5 4zm32 2zm-15 1zm-2 1zm33 7zm-12 2zm22 6zm-8 12zm-50 2zm15 2zm1 0zm17 0zm14 0zm-38 12zm22 2zm25 14zm-61 1zm14 6zm3 11zm-6 11zm39 3zm-45 6zm23 5zm22 11zm-10 9zm1 12zm8 0zm11 3zm-45 1zm3 0zm24 8zm-22 16zm24 0zm11 22zm-27 13zm-15 6zm2 1zm-5 14z" stroke="#2ca02c" stroke-width="3" stroke-opacity="0.36"/>
<path d="M688 91zm38 0zm-43 1zm2 0zm1 0zm47 0zm-44 1zm6 0zm0 0zm25 0zm-35 1zm35 0zm18 0zm-1 1zm-53 1zm3 0zm-5 1zm20 0zm-22 1zm0 0zm17 0zm1 0zm24 0zm18 0zm-62 1zm61 0zm-54 1zm4 0zm23 0zm20 0zm-30 1zm1 0zm6 0zm28 0zm-58 1zm7 0zm2 0zm5 0zm11 0zm18 0zm20 0zm-49 1zm15 0zm9 0zm0 0zm13 0zm6 0zm-45 1zm19 0zm9 0zm3 0zm10 0zm6 0zm1 0zm5 0zm-65 1zm10 0zm1 0zm7 0zm9 0zm-19 1zm14 0zm8 0zm28 0zm-37 1zm10 0zm2 0zm18 0zm7 0zm2 0zm-41 1zm0 0zm19 0zm7 0zm2 0zm2 0zm-44 1zm11 0zm12 0zm14 0zm-14 1zm9 0zm1 0zm27 0zm-67 1zm37 0zm0 0zm9 0zm12 0zm-53 1zm6 0zm24 0zm0 1zm14 0zm-46 1zm5 0zm21 0zm16 0zm14 0zm3 0zm-61 1zm24 0zm0 0zm7 0zm11 0zm23 0zm-62 1zm3 0zm1 0zm12 0zm8 0zm0 0zm6 0zm19 0zm0 0zm9 0zm2 0zm0 0zm-57 1zm4 0zm37 0zm6 0zm2 0zm-55 1zm1 0zm8 0zm19 0zm13 0zm5 0zm11 0zm7 0zm-17 1zm10 0zm1 0zm0 0zm0 0zm-57 1zm7 0zm39 0zm8 0zm-36 1zm16 0zm6 0zm25 0zm0 0zm-52 1zm2 0zm0 0zm9 0zm0 0zm4 0zm17 0zm-46 1zm6 0zm33 0zm1 0zm12 0zm1 0zm6 0zm3 0zm-56 1zm9 0zm0 0zm20 0zm8 0zm0 0zm5 0zm4 0zm-51 1zm4 0zm7 0zm1 0zm10 0zm4 0zm24 0zm3 0zm11 0zm-55 1zm14 0zm2 0zm8 0zm2 0zm17 0zm-51 1zm7 0zm4 0zm23 0zm5 0zm4 0zm13 0zm-53 1zm9 0zm18 0zm28 0zm-55 1zm13 0zm29 0zm7 0zm-40 1zm19 0zm6 0zm24 0zm-58 1zm16 0zm14 0zm8 0zm19 0zm-62 1zm1 0zm14 0zm5 0zm2 0zm38 0zm1 0zm-26 1zm3 0zm7 0zm14 0zm0 0zm-58 1zm2 0zm0 0zm2 0zm16 0zm0 0zm40 0zm2 0zm-64 1zm1 0zm1 0zm28 0zm1 0zm20 0zm16 0zm-65 1zm6 0zm21 0zm1 0zm14 0zm9 0zm-42 1zm3 0zm6 0zm28 0zm-41 1zm0 0zm19 0zm12 0zm27 0zm-52 1zm3 0zm5 0zm23 0zm15 0zm5 0zm-35 1zm29 0zm7 0zm2 0zm0 0zm-56 1zm10 0zm16 0zm16 0zm3 0zm3 0zm-39 1zm20 0zm3 0zm2 0zm9 0zm3 0zm-52 1zm3 0zm12 0zm6 0zm7 0zm14 0zm5 0zm2 0zm9 0zm2 0zm-63 1zm6 0zm20 0zm3 0zm2 0zm21 0zm-51 1zm13 0zm36 0zm3 0zm-42 1zm16 0zm9 0zm4 0zm15 0zm2 0zm1 0zm3 0zm-43 1zm9 0zm16 0zm2 0zm-19 1zm18 0zm2 0zm7 0zm7 0zm-60 1zm31 0zm-32 1zm19 0zm14 0zm20 0zm9 0zm-49 1zm2 0zm49 0zm-59 1zm1 0zm7 0zm5 0zm1 0zm14 0zm10 0zm21 0zm-63 1zm2 0zm11 0zm1 0zm20 0zm-35 1zm2 0zm3 0zm12 0zm8 0zm41 0zm-61 1zm0 0zm8 0zm13 0zm5 0zm21 0zm7 0zm-43 1zm16 0zm5 0zm10 0zm0 0zm18 0zm-53 1zm13 0zm10 0zm19 0zm-51 1zm9 0zm44 0zm6 0zm1 0zm-63 1zm8 0zm5 0zm9 0zm0 0zm5 0zm8 0zm-7 1zm6 0zm3 0zm5 0zm9 0zm11 0zm1 0zm-64 1zm8 0zm7 0zm10 0zm2 0zm13 0zm13 0zm5 0zm4 0zm-59 1zm17 0zm28 0zm10 0zm4 0zm-32 1zm3 0zm1 0zm12 0zm12 0zm5 0zm2 0zm0 0zm-62 1zm9 0zm2 0zm0 0zm3 0zm8 0zm17 0zm12 0zm-53 1zm31 0zm2 0zm5 0zm28 0zm-60 1zm13 0zm6 0zm15 0zm17 0zm0 0zm-57 1zm3 0zm19 0zm14 0zm1 0zm12 0zm-14 1zm4 0zm4 0zm13 0zm1 0zm-56 1zm11 0zm3 0zm17 0zm12 0zm1 0zm6 0zm5 0zm1 0zm-55 1zm2 0zm14 0zm2 0zm21 0zm-24 1zm1 0zm1 0zm0 0zm25 0zm10 0zm8 0zm0 0zm0 0zm-58 1zm1 0zm10 0zm23 0zm5 0zm8 0zm8 0zm-50 1zm6 0zm33 0zm6 0zm-48 1zm9 0zm2 0zm30 0zm3 0zm16 0zm-62 1zm8 0zm3 0zm4 0zm3 0zm35 0zm-34 1zm5 0zm-11 1zm7 0zm-9 1zm8 0zm4 0zm2 0zm-11 1zm4 0zm1 0zm41 0zm-58 1zm10 0zm28 0zm-35 1zm42 0zm1 0zm-38 1zm44 0zm-44 1zm25 0zm10 0zm-48 1zm25 0zm-14 1zm20 1zm15 1zm9 0zm-53 1zm0 0zm23 0zm5 0zm-19 1zm3 1zm18 1zm-30 1zm58 0zm4 0zm-58 1zm1 0zm9 0zm9 0zm12 0zm13 0zm-46 1zm34 0zm8 1zm-21 1zm7 0zm19 1zm9 1zm-40 1zm-10 1zm4 0zm24 0zm8 0zm5 0zm-49 1zm20 0zm-10 1zm26 0zm11 0zm-26 1zm2 0zm11 0zm2 0zm16 0zm-53 1zm20 0zm17 0zm7 0zm4 0zm4 0zm-34 1zm9 0zm30 0zm-43 1zm15 0zm-29 1zm15 0zm41 0zm7 0zm-66 1zm18 0zm11 0zm17 0zm-43 1zm19 0zm7 0zm9 0zm18 0zm-54 1zm27 0zm10 0zm-30 1zm2 0zm36 0zm-45 1zm45 0zm20 0zm-39 1zm4 0zm20 0zm6 0zm6 0zm-55 1zm17 0zm1 0zm30 0zm8 0zm-11 1zm3 1zm-27 1zm-24 1zm6 2zm7 0zm33 1zm-6 1zm20 0zm-47 4zm16 0zm10 1zm-5 1zm13 0zm-23 1zm23 0zm-26 1zm26 0zm7 0zm-32 5zm3 2zm18 0zm4 0zm-39 2zm38 0zm-24 1zm29 1zm-25 1zm7 0zm19 0zm-21 1zm-20 1zm-1 2zm23 0zm9 0zm-37 1zm29 0zm-6 1zm-31 1zm53 0zm-47 1zm56 0zm-18 1zm3 0zm9 1zm4 0zm-62 1zm15 0zm4 0zm5 1zm32 1zm-10 1zm1 1zm-12 1zm1 1zm-32 1zm5 0zm21 1zm20 0zm6 0zm-23 1zm20 0zm-16 2zm7 0zm5 0zm-38 1zm22 0zm5 0zm16 0zm-36 2zm7 0zm20 0zm11 0zm-41 1zm17 0zm-28 1zm28 0zm-21 1zm-1 1zm6 0zm1 1zm-6 1zm10 2zm-17 1zm36 0zm-28 1zm12 1zm32 1zm-32 1zm28 3zm4 0zm-45 1zm3 0zm35 0zm16 0zm-31 2zm17 0zm-52 2zm50 0zm-48 2zm12 0zm22 3zm28 0zm-52 1zm37 1zm-34 1zm8 0zm18 1zm1 0zm0 1zm8 0zm-6 1zm-41 2zm12 0zm24 2zm23 0zm3 0zm-50 1zm27 0zm-16 1zm-3 2zm-17 1zm40 1zm-42 1zm5 1zm34 1zm-29 1zm22 0zm11 0zm6 0zm6 0zm-55 1zm15 0zm38 0zm5 0zm-47 1zm24 0zm6 0zm-40 1zm28 0zm-10 1zm4 0zm25 0zm13 0zm-25 1zm20 0zm-55 1zm8 1zm24 0zm17 1zm-52 1zm0 0zm11 0zm4 0zm6 1zm4 0zm-13 1zm29 0zm23 0zm-52 1zm2 0zm22 0zm6 0zm21 0zm0 0zm-33 1zm4 1zm13 0zm-16 1zm1 0zm2 0zm27 1zm3 0zm1 0zm-64 1zm-2 1zm52 1zm-41 1zm40 0zm-29 1zm1 0zm2 0zm10 0zm-6 1zm2 0zm8 0zm13 1zm7 0zm-55 1zm0 0zm10 0zm5 0zm10 0zm0 0zm25 0zm6 0zm1 0zm-62 1zm4 0zm14 0zm7 0zm31 0zm8 0zm-54 1zm13 0zm26 0zm-10 1zm14 0zm-29 1zm43 0zm-54 1zm1 0zm35 0zm15 0zm-62 1zm3 0zm24 0zm32 0zm-28 1zm17 0zm-48 1zm0 1zm1 0zm21 0zm16 0zm-40 1zm29 0zm2 0zm1 0zm6 0zm15 0zm-45 1zm20 0zm-27 1zm2 0zm15 0zm1 0zm15 0zm21 0zm-45 1zm2 0zm17 0zm16 0zm-44 3zm5 0zm0 0zm18 0zm10 0zm-9 1zm3 0zm-27 1zm19 0zm27 0zm3 0zm-38 1zm-10 2zm22 0zm23 0zm-42 1zm25 0zm-21 1zm-3 1zm49 0zm1 0zm-31 1zm6 0zm6 2zm11 0zm-20 1zm30 0zm-52 1zm5 0zm-10 1zm20 2zm16 0zm-36 1zm37 1zm-13 2zm20 0zm-41 1zm41 0zm4 0zm-36 2zm15 0zm36 0zm-50 1zm15 0zm8 0zm-24 1zm31 0zm-9 2zm-18 2zm9 0zm14 0zm5 1zm-31 1zm10 0zm-21 1zm34 0zm2 1zm-11 2zm3 0zm10 0zm-17 1zm-1 1zm20 0zm-24 1zm3 0zm-14 1zm33 0zm-32 1zm39 0zm7 1zm3 0zm-43 1zm7 0zm-10 1zm45 0zm-7 1zm-5 1zm-44 1zm26 0zm4 0zm7 0zm-11 3zm32 0zm-17 1zm-37 1zm55 0zm4 0zm-36 1zm22 1zm-21 1zm13 0zm-5 2zm-10 1zm28 1zm-44 1zm3 0zm50 0zm-32 2zm-27 1zm9 0zm28 1zm-33 1zm19 1zm-23 1zm2 0zm7 1zm6 0zm37 0zm-14 1zm-25 1zm4 0zm-7 1zm3 0zm3 0zm25 0zm11 0zm-38 1zm13 0zm24 0zm7 0zm-58 1zm50 0zm-51 1zm14 0zm4 0zm32 0zm-40 2zm27 0zm-32 1zm44 0zm13 0zm-41 1zm14 1zm-38 1zm44 0zm0 0zm4 0zm-34 1zm17 0zm13 1zm-17 1zm0 0zm3 0zm27 0zm-18 2zm20 0zm-17 2zm-34 2zm36 0zm2 0zm17 0zm-24 1zm1 1zm19 0zm-32 1zm29 0zm-57 1zm19 0zm17 2zm-16 1zm14 0zm25 0zm-53 1zm2 0zm26 0zm17 2zm-25 1zm25 0zm14 0zm1 1zm-43 1zm6 1zm11 1zm1 0zm24 0zm-28 1zm14 0zm10 0zm4 0zm-65 1zm28 1zm31 0zm-39 1zm18 2zm20 1zm-16 1zm-8 1zm29 0zm-55 1zm45 0zm-24 1zm-27 2zm22 0zm-19 1zm55 0zm0 1zm-50 1zm5 0zm22 1zm15 0zm-41 3zm6 3zm1 0zm11 1zm-26 2zm52 6zm-34 2zm0 2zm28 2zm-33 1zm50 1zm-57 1zm46 4zm-13 3zm17 0zm-55 1zm63 1zm-51 1zm13 1zm33 1zm-59 1zm60 1zm-61 4zm36 0zm-17 2zm7 3zm24 0zm-31 1zm6 0zm24 0zm-7 2zm2 2zm19 5zm-2 1zm-52 1zm33 0zm12 1zm5 0zm-56 1zm24 0zm26 0zm-28 2zm-26 4zm15 1zm9 2zm12 1zm-20 3zm3 0zm-5 2zm2 0zm18 3zm-29 3zm12 1zm27 0zm-44 2zm48 1zm10 2zm-19 3zm-14 1zm27 1zm-46 2zm44 0zm2 1zm-38 1zm-13 4zm6 1zm17 0zm-21 4zm1 1zm33 8zm4 0zm-5 2zm-27 2zm10 2zm-9 5zm48 1zm7 1zm-20 14zm-23 1zm37 8zm6 0zm-2 2zm-63 1zm16 1zm38 3zm-7 2zm-39 1zm25 0zm-19 6zm-10 3zm8 0zm-7 6zm39 0zm3 0zm-13 2zm32 7zm-55 2zm53 12zm-20 1zm-39 1zm11 3zm48 0zm-25 13zm16 6zm-42 1zm-10 1zm17 0zm28 0zm14 6zm-29 2zm-23 1zm53 4zm3 1zm0 0zm-39 6zm-8 4zm27 1zm-1 13zm9 10zm-44 5zm45 0zm-3 1zm2 2zm-27 4zm-25 11zm4 7zm20 2zm4 6zm-24 1zm22 5zm-8 2zm7 13zm-28 8zm23 1zm-22 6zm39 2zm-34 4z" stroke="#2ca02c" stroke-width="3" stroke-opacity="0.36"/>
<path d="M683 91zm44 0zm-29 1zm43 0zm-49 1zm20 0zm19 0zm-48 1zm0 0zm12 0zm24 0zm21 0zm-37 1zm2 0zm14 0zm-21 1zm-19 1zm8 0zm15 0zm11 0zm3 0zm2 0zm11 0zm5 0zm6 0zm-45 1zm17 0zm10 0zm17 0zm-61 1zm19 0zm1 0zm23 0zm1 0zm-40 1zm27 0zm9 0zm13 0zm-47 1zm37 0zm-14 1zm5 0zm25 0zm-35 1zm18 0zm4 0zm4 0zm8 0zm-54 1zm14 0zm-15 1zm18 0zm24 0zm18 0zm-50 1zm3 0zm7 0zm34 0zm5 0zm-29 1zm2 0zm9 0zm4 0zm-48 1zm2 0zm4 0zm57 0zm3 0zm-65 1zm10 0zm25 0zm19 1zm5 0zm5 0zm-66 1zm7 0zm0 0zm6 0zm22 0zm23 0zm3 0zm0 0zm-56 1zm17 0zm0 0zm3 0zm31 0zm-55 1zm25 0zm28 0zm0 0zm4 0zm-49 1zm20 0zm23 0zm-48 1zm13 0zm5 0zm12 0zm12 1zm3 0zm7 0zm8 0zm-63 1zm32 0zm3 0zm10 0zm16 0zm2 0zm1 0zm-63 1zm10 0zm20 0zm29 0zm2 0zm-62 1zm4 0zm10 0zm27 0zm16 0zm-52 1zm25 0zm24 0zm2 0zm-51 1zm1 0zm3 0zm17 0zm1 0zm3 0zm1 0zm3 0zm-29 1zm9 0zm11 0zm6 0zm24 0zm-41 1zm8 0zm4 0zm2 0zm4 0zm-25 1zm11 0zm4 0zm5 0zm1 0zm2 0zm19 0zm0 0zm1 0zm16 0zm-29 1zm4 0zm11 0zm5 0zm-47 1zm7 0zm1 0zm30 0zm3 0zm-38 1zm9 0zm26 0zm9 0zm1 0zm3 0zm4 0zm-38 1zm16 0zm7 0zm1 0zm4 0zm8 0zm-45 1zm25 0zm14 0zm5 0zm-42 1zm0 0zm16 0zm-33 1zm2 0zm10 0zm6 0zm1 0zm1 0zm9 0zm6 0zm28 0zm-54 1zm19 0zm2 0zm8 0zm4 0zm1 0zm2 0zm11 0zm0 0zm2 0zm1 0zm-23 1zm1 0zm5 0zm2 0zm2 0zm1 0zm4 0zm4 0zm-58 1zm2 0zm28 0zm12 0zm18 0zm-48 1zm0 0zm8 0zm4 0zm16 0zm21 0zm-55 1zm5 0zm28 0zm0 0zm0 0zm3 0zm1 0zm6 0zm-50 1zm1 0zm7 0zm11 0zm11 0zm13 0zm3 0zm18 0zm1 0zm-46 1zm16 0zm2 0zm5 0zm4 0zm-40 1zm49 0zm-35 1zm18 0zm3 0zm-32 1zm6 0zm4 0zm6 0zm0 0zm40 0zm-59 1zm16 0zm21 0zm3 0zm2 0zm13 0zm-54 1zm13 0zm12 0zm20 0zm6 0zm2 0zm-59 1zm10 0zm6 0zm2 0zm25 0zm15 0zm0 0zm0 0zm1 0zm0 0zm-53 1zm21 0zm0 0zm14 0zm8 0zm-25 1zm1 0zm16 0zm4 0zm4 0zm11 0zm4 0zm-57 1zm15 0zm41 0zm-63 1zm11 0zm2 0zm7 0zm7 0zm2 0zm11 0zm2 0zm20 0zm-54 1zm18 0zm19 0zm7 0zm3 0zm-56 1zm34 0zm19 0zm9 0zm1 0zm-32 1zm4 0zm3 0zm6 0zm7 0zm4 0zm1 0zm2 0zm4 0zm3 0zm-61 1zm9 0zm4 0zm4 0zm23 0zm2 0zm9 0zm6 0zm-59 1zm5 0zm1 0zm17 0zm2 0zm8 0zm6 0zm-32 1zm16 0zm8 0zm5 0zm5 0zm17 0zm3 0zm-51 1zm10 0zm11 0zm4 0zm22 0zm2 0zm3 0zm-35 1zm29 0zm6 0zm-63 1zm9 0zm2 0zm5 0zm4 0zm1 0zm29 0zm2 0zm4 0zm-56 1zm0 0zm0 0zm10 0zm1 0zm20 0zm25 0zm3 0zm-55 1zm1 0zm3 0zm6 0zm2 0zm1 0zm1 0zm4 0zm8 0zm11 0zm4 0zm0 0zm-38 1zm11 0zm2 0zm0 0zm11 0zm5 0zm27 0zm-53 1zm1 0zm12 0zm1 0zm37 0zm1 0zm-44 1zm12 0zm19 0zm-33 1zm49 0zm-24 1zm1 0zm4 0zm4 0zm8 0zm-54 1zm2 0zm7 0zm15 0zm11 0zm2 0zm4 0zm9 0zm-54 1zm3 0zm7 0zm4 0zm5 0zm0 0zm7 0zm7 0zm1 0zm13 0zm5 0zm2 0zm1 0zm4 0zm7 0zm-64 1zm10 0zm5 0zm20 0zm15 0zm-42 1zm4 0zm12 0zm16 0zm10 0zm1 0zm-37 1zm2 0zm15 0zm1 0zm9 0zm2 0zm10 0zm0 0zm10 0zm-64 1zm22 0zm5 0zm19 0zm1 0zm-47 1zm11 0zm6 0zm3 0zm1 0zm5 0zm7 0zm-27 1zm9 0zm0 0zm1 0zm49 0zm-51 1zm10 0zm6 0zm2 0zm10 0zm0 0zm1 0zm7 0zm-48 1zm14 0zm1 0zm5 0zm7 0zm11 0zm11 0zm2 0zm-40 1zm9 0zm6 0zm12 0zm9 0zm-45 1zm25 0zm12 0zm14 0zm-37 1zm23 0zm17 0zm-12 1zm6 0zm11 2zm-33 1zm28 0zm-38 1zm13 0zm4 0zm24 0zm-29 1zm-24 1zm-5 1zm24 0zm20 0zm-5 1zm-36 1zm20 0zm6 0zm11 0zm-24 1zm2 0zm21 0zm5 0zm-47 1zm10 0zm23 0zm16 0zm-49 1zm10 0zm26 1zm-36 1zm46 0zm7 0zm-19 2zm4 0zm9 0zm1 0zm1 0zm-34 1zm18 0zm-22 1zm21 0zm12 0zm15 0zm-30 2zm14 0zm14 0zm-35 1zm-19 1zm21 0zm-24 1zm36 1zm-21 1zm1 0zm20 0zm13 0zm-49 1zm2 0zm4 0zm15 0zm12 0zm1 0zm10 0zm8 0zm-27 1zm-20 2zm52 0zm-57 1zm24 0zm35 0zm-50 1zm21 0zm26 0zm-52 1zm26 0zm1 0zm29 0zm4 0zm-64 2zm15 0zm21 0zm0 0zm0 0zm-9 1zm17 0zm-29 1zm18 0zm10 0zm5 0zm-3 1zm-11 1zm-34 1zm13 0zm1 0zm28 0zm-36 1zm22 1zm17 0zm4 1zm-19 1zm33 0zm-48 1zm1 0zm2 1zm1 0zm20 0zm12 1zm-46 1zm-1 1zm3 0zm9 0zm23 0zm7 0zm-9 1zm1 1zm-29 1zm7 0zm3 0zm27 0zm-11 1zm4 0zm-8 1zm2 0zm22 1zm-36 1zm46 0zm-53 1zm25 0zm10 0zm8 3zm-44 2zm28 0zm9 4zm3 1zm-8 1zm11 0zm2 0zm-42 1zm13 0zm11 0zm9 1zm-16 1zm-6 1zm10 0zm2 0zm14 1zm-34 1zm30 0zm-31 2zm42 0zm-24 1zm1 0zm-26 1zm48 0zm8 0zm-40 1zm8 0zm23 0zm-52 2zm39 0zm3 0zm14 0zm-53 1zm13 0zm9 0zm16 0zm-37 1zm29 1zm13 0zm3 0zm-9 1zm-45 1zm27 0zm5 0zm7 0zm16 0zm-41 1zm28 0zm1 0zm1 0zm-27 1zm7 0zm36 0zm0 0zm-25 1zm-3 2zm-18 2zm-2 1zm18 0zm-8 1zm42 0zm1 0zm-50 1zm46 0zm-60 2zm13 0zm11 0zm5 1zm14 0zm-28 1zm9 0zm0 0zm14 0zm17 2zm-18 1zm-33 1zm6 0zm49 0zm-40 2zm-14 1zm33 0zm25 0zm2 0zm-66 1zm51 0zm7 0zm-21 2zm25 0zm1 0zm3 0zm-65 1zm23 1zm29 1zm-43 1zm-4 1zm46 0zm4 0zm-46 1zm53 0zm0 0zm-11 1zm6 0zm6 0zm-37 1zm28 0zm11 1zm-9 2zm-3 1zm-52 2zm5 0zm2 1zm19 0zm-4 1zm-3 1zm23 0zm20 1zm-12 1zm-45 1zm24 0zm30 2zm-17 1zm14 1zm-46 1zm8 0zm17 1zm13 0zm-49 1zm8 0zm2 0zm32 0zm-9 1zm8 0zm-31 1zm23 0zm-32 1zm14 1zm24 0zm-10 1zm6 0zm6 0zm-4 1zm18 0zm-27 1zm31 0zm-18 1zm15 0zm-54 1zm3 0zm10 0zm5 0zm9 0zm-9 1zm44 0zm-52 1zm36 0zm-37 1zm46 0zm-42 1zm42 0zm-35 1zm17 0zm10 0zm-49 1zm6 0zm25 0zm4 0zm27 0zm-62 1zm7 0zm8 0zm-10 2zm2 0zm33 0zm-21 1zm1 0zm14 0zm31 0zm-63 1zm34 0zm18 0zm-41 1zm16 0zm8 0zm23 0zm-22 1zm-33 1zm26 0zm-24 1zm34 0zm14 1zm-29 1zm2 0zm-5 2zm24 0zm-21 1zm11 0zm13 0zm5 0zm-56 1zm11 1zm14 0zm5 0zm-30 1zm3 0zm17 0zm14 0zm-14 1zm15 0zm9 0zm-38 1zm4 1zm55 0zm-45 1zm2 0zm-4 1zm5 0zm34 0zm-37 2zm14 0zm10 0zm2 0zm-30 1zm33 0zm8 0zm-17 1zm-11 1zm29 0zm-46 1zm53 0zm-19 3zm4 0zm-16 1zm-8 1zm-14 1zm21 0zm11 1zm1 0zm11 0zm1 0zm-45 1zm5 0zm19 0zm-34 1zm53 1zm-20 1zm10 0zm6 0zm14 0zm-50 1zm27 0zm21 0zm-29 1zm5 0zm-15 2zm4 0zm19 0zm7 0zm-43 1zm-11 1zm5 0zm44 0zm-17 1zm-21 1zm10 0zm3 0zm36 0zm-28 1zm0 0zm14 1zm12 0zm-8 1zm-43 1zm57 1zm-58 1zm8 0zm3 1zm27 0zm-44 1zm6 0zm4 0zm3 0zm19 0zm-28 1zm29 0zm13 0zm-16 1zm18 1zm-41 1zm59 0zm-64 1zm-2 2zm16 1zm-13 2zm33 1zm7 0zm20 0zm-5 1zm-42 1zm24 0zm-29 1zm54 0zm-58 1zm48 0zm-25 1zm-24 1zm39 0zm-43 1zm20 0zm27 0zm15 0zm-49 1zm29 0zm5 0zm-24 1zm-1 1zm2 0zm-21 1zm4 2zm16 1zm0 0zm34 0zm5 0zm-55 1zm13 0zm28 0zm7 0zm-23 1zm-20 1zm5 2zm15 0zm4 1zm18 0zm9 1zm-52 1zm14 0zm7 1zm4 0zm15 0zm-43 1zm-5 2zm33 0zm28 1zm-56 1zm25 0zm13 1zm-3 1zm-27 5zm19 0zm29 0zm-42 1zm35 0zm-45 4zm14 1zm16 3zm0 0zm-12 2zm-29 1zm29 3zm21 0zm-41 2zm24 1zm-18 2zm22 0zm0 0zm14 0zm-54 1zm27 0zm19 0zm-19 1zm6 0zm17 0zm9 0zm2 1zm2 2zm-60 1zm55 1zm-50 1zm25 0zm1 1zm-26 2zm15 0zm12 0zm-3 2zm32 1zm-45 1zm10 0zm-7 2zm4 0zm16 0zm-29 1zm17 0zm15 3zm-33 2zm33 0zm-22 1zm18 0zm-1 1zm-29 2zm26 0zm3 0zm-19 1zm-9 1zm8 0zm1 0zm6 0zm3 0zm9 0zm13 2zm-7 2zm-39 2zm42 0zm13 1zm-11 1zm-43 1zm33 0zm-2 1zm26 0zm-25 2zm25 0zm-44 1zm-8 1zm53 1zm-48 1zm-7 2zm15 0zm7 1zm12 2zm16 0zm0 1zm-34 2zm-12 1zm7 0zm37 1zm-42 1zm28 0zm-10 1zm-30 2zm49 1zm-7 1zm-18 1zm22 0zm-36 1zm5 2zm-19 6zm62 0zm-62 1zm15 0zm12 0zm-27 4zm28 0zm4 3zm26 1zm4 0zm-41 2zm22 0zm-41 1zm40 3zm-31 2zm-11 1zm41 0zm24 6zm-50 2zm2 0zm-15 3zm50 1zm-14 6zm4 1zm21 0zm-40 3zm-20 7zm-4 3zm6 0zm14 0zm9 3zm18 5zm-29 5zm-11 2zm55 1zm-13 2zm-24 6zm-1 6zm19 0zm19 3zm-10 4zm3 1zm-29 3zm-18 1zm46 1zm-25 1zm-8 1zm-18 3zm44 6zm-3 1zm-3 4zm-23 1zm43 8zm-44 1zm5 0zm2 3zm18 0zm-39 3zm48 2zm16 0zm-34 2zm33 1zm-5 4zm-21 3zm15 7zm-51 1zm29 1zm-19 4zm3 2zm29 0zm-43 6zm1 1zm35 1zm17 6zm-13 2zm-15 3zm10 7zm26 1zm-20 1zm-26 9zm19 5zm-20 13zm1 6zm-11 28zm39 1zm-25 6zm28 8zm16 0zm-33 20zm29 3zm-16 4zm6 8zm-2 10zm12 0zm-14 7zm11 3zm7 7zm-8 55z" stroke="#2ca02c" stroke-width="3" stroke-opacity="0.36"/>
<path d="M872 85zm-11 4zm-18 1zm-6 1zm-2 1zm9 4zm-36 2zm4 0zm11 0zm25 0zm16 0zm-19 1zm-9 1zm-14 1zm25 1zm-7 2zm28 0zm-7 2zm-45 1zm7 1zm29 1zm-35 1zm32 0zm-15 2zm1 0zm18 0zm-14 2zm32 0zm-44 1zm25 1zm-30 1zm16 0zm4 1zm2 0zm25 1zm0 0zm-38 1zm33 0zm6 1zm-40 1zm7 1zm6 0zm26 0zm1 0zm-23 1zm-30 1zm15 0zm40 0zm-26 1zm0 0zm19 0zm-35 1zm15 0zm-7 1zm-24 1zm9 0zm0 0zm34 1zm-21 2zm35 0zm-11 1zm2 0zm7 0zm-23 1zm25 0zm-21 1zm11 1zm6 0zm-42 1zm-7 2zm20 0zm5 0zm7 0zm0 0zm-3 1zm4 0zm-16 1zm22 0zm-30 1zm3 0zm-1 1zm23 0zm21 0zm-52 1zm-15 3zm8 0zm11 0zm0 1zm16 0zm2 0zm16 1zm4 1zm-38 1zm30 0zm4 0zm-44 1zm30 0zm-24 1zm5 0zm29 0zm-19 1zm7 0zm1 0zm2 0zm20 0zm-56 1zm7 0zm22 0zm9 1zm2 0zm16 0zm-39 1zm26 0zm-9 1zm16 0zm-6 1zm16 0zm-15 1zm-21 2zm10 0zm-33 1zm15 0zm40 0zm-50 3zm21 0zm3 0zm17 0zm11 2zm-18 1zm0 0zm-36 1zm42 1zm3 2zm4 0zm3 0zm-30 1zm-29 3zm10 0zm-3 1zm24 1zm6 1zm8 2zm13 0zm-22 1zm0 0zm11 0zm-46 1zm18 0zm36 0zm-35 1zm16 1zm-27 1zm31 0zm8 0zm-37 1zm48 3zm5 1zm-16 2zm-18 3zm4 0zm29 0zm-64 3zm33 0zm34 1zm-11 1zm5 0zm-14 2zm-30 1zm25 0zm8 0zm3 0zm2 0zm9 0zm-4 1zm-51 1zm-6 1zm43 0zm-31 1zm-12 1zm6 0zm7 0zm2 0zm-9 2zm3 1zm39 0zm-32 8zm19 0zm14 1zm-37 5zm15 3zm3 1zm32 2zm-16 7zm-46 1zm35 2zm-23 5zm43 3zm-16 2zm-39 1zm22 0zm12 1zm-2 1zm11 1zm-17 7zm-24 1zm19 1zm7 0zm-10 3zm0 2zm-5 1zm-12 2zm-3 2zm13 3zm-10 6zm44 1zm-31 1zm1 3zm49 3zm-14 5zm13 1zm-25 4zm-29 1zm1 0zm33 0zm9 1zm-55 1zm36 2zm-32 1zm34 4zm-13 2zm-11 3zm-11 2zm39 9zm-11 4zm-5 1zm-15 2zm40 0zm-30 2zm-16 4zm61 1zm-63 1zm61 0zm-60 7zm5 1zm-5 1zm52 1zm-53 2zm5 4zm17 1zm-18 1zm32 4zm26 0zm-42 11zm28 0zm-48 2zm12 0zm7 12zm5 2zm29 4zm3 2zm-46 1zm25 0zm9 2zm-40 1zm40 0zm-36 1zm31 0zm-21 3zm-11 2zm56 1zm-48 3zm27 0zm-31 8zm9 4zm32 0zm-1 8zm3 0zm-7 2zm-6 4zm-12 4zm-26 3zm34 4zm12 10zm9 3zm-61 4zm44 5zm-44 6zm41 1zm-40 4zm5 2zm2 0zm32 6zm10 15zm-49 4zm22 6zm-11 1zm46 0zm-31 1zm8 1zm-34 7zm29 1zm2 4zm11 3zm-14 6zm-3 1zm-10 2zm35 7zm-35 4zm4 3zm23 4zm10 4zm-39 1zm19 20zm21 0zm12 7zm-62 2zm19 0zm29 4zm-21 3zm-4 5zm29 1zm-43 5zm-6 5zm42 3zm-44 4zm29 7zm20 12zm-51 13zm60 19zm-21 1zm-9 3zm2 8zm4 14zm4 7zm14 1zm-8 11zm7 1zm4 5zm4 14zm-12 28zm-52 3zm12 2zm24 3zm14 6zm-36 4zm52 10zm-26 13zm-37 15zm32 4zm-21 62z" stroke="#bcbd22" stroke-width="3" stroke-opacity="0.4"/>
<path d="M811 86zm38 0zm-22 3zm21 0zm-35 1zm21 0zm10 2zm23 0zm-58 3zm3 0zm37 0zm17 0zm-31 2zm7 0zm-28 3zm0 2zm11 0zm18 1zm19 1zm-45 1zm8 0zm39 0zm0 1zm-55 1zm18 0zm7 0zm-15 1zm-3 1zm1 1zm41 2zm-31 1zm14 1zm15 0zm-46 1zm11 0zm42 0zm-38 1zm24 0zm-11 2zm-15 1zm5 0zm9 0zm19 0zm11 0zm-7 1zm12 1zm-52 1zm8 0zm45 0zm-60 3zm11 1zm12 1zm19 0zm4 0zm-13 1zm-23 1zm-12 1zm26 0zm-30 1zm36 0zm12 0zm-5 1zm11 0zm5 1zm-43 1zm21 0zm-37 2zm31 0zm20 0zm1 0zm-46 1zm-5 1zm45 0zm-31 1zm8 1zm3 0zm11 0zm-21 2zm48 0zm0 0zm-25 1zm5 1zm15 1zm-25 1zm4 0zm22 0zm-59 1zm1 0zm20 0zm25 0zm13 0zm-58 1zm38 0zm-9 1zm9 1zm7 0zm-34 1zm23 0zm-13 2zm43 0zm-63 1zm50 0zm-31 1zm-10 2zm12 1zm24 0zm-39 2zm6 0zm46 0zm-33 1zm14 0zm-33 2zm7 3zm1 0zm24 2zm-7 1zm-24 1zm4 0zm38 0zm-17 1zm-14 4zm16 0zm16 0zm-5 1zm17 0zm-62 2zm18 0zm37 0zm6 1zm-31 1zm-32 2zm27 0zm0 2zm7 1zm20 0zm1 0zm-27 1zm16 0zm20 0zm-18 1zm1 0zm-37 1zm-8 2zm22 3zm4 0zm3 0zm4 1zm-23 1zm-3 1zm19 1zm-4 1zm-25 1zm8 0zm8 1zm23 0zm-33 2zm4 0zm-8 1zm57 0zm-40 2zm26 0zm-15 1zm8 0zm-33 2zm-4 1zm4 1zm1 0zm15 2zm33 0zm-36 2zm3 0zm-20 1zm-1 1zm15 0zm49 0zm-37 1zm5 0zm30 3zm-32 2zm2 1zm16 2zm3 4zm-24 1zm19 8zm-37 3zm1 4zm20 5zm26 0zm-35 1zm6 7zm7 1zm28 0zm-53 2zm1 3zm21 1zm20 5zm-40 2zm25 0zm25 2zm-28 1zm-30 1zm36 1zm-7 3zm-3 2zm-19 1zm2 2zm10 2zm18 1zm-24 4zm12 0zm31 0zm-34 2zm23 0zm-33 2zm48 4zm-58 1zm34 6zm-17 6zm-17 6zm58 1zm-44 4zm42 0zm-2 1zm-52 1zm59 7zm-17 2zm-38 1zm43 0zm-50 3zm1 0zm8 1zm40 4zm-46 4zm15 1zm42 3zm-20 2zm21 1zm-33 6zm12 0zm-36 3zm47 3zm-18 2zm-4 4zm-17 1zm19 0zm8 3zm-25 2zm11 0zm7 1zm-36 2zm40 0zm-15 1zm16 2zm-40 3zm11 2zm50 0zm-19 1zm-15 1zm20 1zm-30 1zm42 6zm-43 2zm20 4zm-28 11zm-9 1zm63 0zm-46 2zm-8 1zm41 0zm12 3zm-28 2zm15 4zm-41 1zm8 3zm7 4zm-13 1zm10 1zm39 0zm2 3zm-20 7zm-24 1zm13 2zm26 0zm-42 4zm-11 9zm-2 2zm8 2zm1 0zm-10 7zm44 0zm1 2zm-24 1zm1 2zm-23 1zm50 0zm-36 1zm0 5zm7 4zm30 3zm-14 5zm-20 13zm4 0zm-11 1zm14 0zm17 4zm22 0zm-55 3zm49 5zm-32 2zm-3 5zm-22 6zm63 4zm-27 1zm-1 10zm-21 3zm34 13zm-47 1zm17 1zm14 2zm-22 1zm-2 6zm20 0zm-27 1zm61 26zm-41 45zm15 4zm13 5zm-20 12zm11 5zm20 7zm7 0zm-52 17zm20 5zm6 3zm-5 4zm-28 11zm55 11zm-31 4zm3 5zm27 10zm-55 8zm60 9zm-17 3zm-32 31zm33 0zm-15 63zm-8 23zm-21 1zm47 1z" stroke="#bcbd22" stroke-width="3" stroke-opacity="0.4"/>
<path d="M950 87zm17 1zm-15 1zm17 0zm30 1zm-39 1zm33 0zm-2 1zm-49 1zm51 0zm-7 1zm8 0zm7 0zm-10 1zm-47 1zm18 0zm13 1zm-30 1zm22 1zm-4 1zm7 0zm13 0zm-30 1zm1 0zm27 0zm6 0zm8 0zm-19 1zm-25 1zm7 0zm10 0zm-31 1zm56 0zm-49 1zm16 0zm6 0zm29 0zm-46 1zm6 0zm-17 1zm6 0zm40 0zm4 0zm-38 1zm26 2zm1 0zm-16 1zm20 0zm6 0zm-29 1zm36 0zm7 0zm-58 1zm8 0zm20 0zm4 0zm3 0zm12 0zm8 0zm-38 1zm1 0zm12 1zm8 0zm8 0zm-52 1zm52 0zm6 0zm-21 1zm-33 1zm2 0zm3 0zm6 0zm5 0zm22 0zm-40 1zm3 0zm16 0zm4 0zm-11 1zm13 0zm6 0zm-31 2zm3 0zm6 0zm18 0zm-16 1zm2 0zm4 0zm1 0zm0 0zm28 0zm4 0zm-44 1zm7 0zm25 0zm5 1zm-28 1zm9 0zm-13 1zm36 0zm-47 1zm56 0zm2 0zm-56 1zm7 0zm10 0zm36 1zm-39 2zm37 1zm-37 1zm35 0zm-48 1zm8 0zm8 0zm41 0zm1 0zm-26 1zm16 1zm10 0zm-20 1zm1 0zm15 0zm-57 1zm20 0zm1 0zm6 0zm-28 1zm7 0zm3 0zm7 0zm8 0zm28 0zm2 0zm-29 2zm23 0zm-23 1zm-28 1zm28 0zm30 0zm-51 1zm22 0zm10 0zm26 0zm-55 1zm7 0zm11 1zm13 0zm24 0zm-34 1zm22 0zm-49 1zm11 0zm1 0zm7 0zm19 0zm-34 1zm0 0zm31 1zm-25 1zm20 2zm14 0zm-49 3zm33 1zm11 0zm-14 4zm38 1zm-8 1zm-56 1zm10 0zm50 0zm-23 4zm-27 1zm15 0zm5 1zm7 0zm-8 2zm11 0zm12 0zm-40 3zm15 1zm-17 2zm25 0zm-36 1zm49 0zm-1 2zm6 0zm8 2zm-49 1zm25 2zm-3 1zm-23 2zm46 1zm-59 1zm43 0zm-28 2zm6 1zm-8 2zm13 2zm6 0zm-2 1zm23 0zm-8 4zm-37 1zm9 1zm7 1zm30 0zm-31 2zm-17 1zm5 2zm41 0zm12 1zm-43 1zm20 2zm13 0zm-43 1zm22 0zm-8 1zm11 1zm-27 2zm35 0zm-34 1zm22 1zm13 1zm-27 4zm-5 2zm30 0zm-9 3zm-22 1zm35 3zm-37 1zm40 0zm9 1zm-31 1zm22 0zm-32 1zm4 1zm36 0zm-5 1zm12 1zm-23 1zm15 0zm-32 2zm16 1zm-11 3zm-11 1zm13 2zm18 2zm-47 2zm30 0zm-24 4zm42 0zm-37 2zm21 0zm3 1zm13 0zm-1 1zm-29 1zm0 1zm44 0zm-13 1zm-22 1zm31 2zm-45 4zm40 0zm-39 7zm26 2zm22 0zm-29 3zm-16 2zm-10 6zm33 0zm16 0zm-57 1zm-2 1zm30 7zm22 2zm-12 1zm10 11zm-7 1zm-10 1zm-7 2zm-8 7zm5 0zm-17 1zm-7 1zm42 0zm-7 2zm4 5zm-8 3zm33 9zm-39 7zm22 5zm-12 3zm-28 1zm20 14zm17 0zm3 0zm-8 2zm-27 2zm5 7zm34 7zm-51 10zm0 3zm7 7zm31 37zm-21 1zm47 0zm-51 11zm16 18zm34 22zm-42 31zm-2 3zm26 7zm5 8zm-3 10zm-35 50zm44 4zm-37 16zm25 6zm10 14zm11 21zm-37 1zm-4 33zm19 125z" stroke="#2ca02c" stroke-width="3" stroke-opacity="0.4"/>
<path d="M943 87zm26 0zm-13 2zm1 1zm14 0zm5 2zm0 0zm7 0zm-32 2zm9 0zm41 0zm-41 1zm20 0zm11 0zm-8 2zm-46 1zm21 0zm24 0zm6 0zm-43 1zm2 0zm34 0zm10 0zm-53 1zm8 0zm25 0zm11 0zm16 1zm4 0zm-16 1zm0 0zm7 1zm-4 1zm-48 1zm7 0zm13 0zm-4 1zm29 1zm12 0zm-51 1zm6 0zm0 0zm4 0zm2 0zm-18 1zm14 0zm-19 1zm12 0zm12 0zm7 0zm7 0zm-28 1zm21 0zm10 0zm5 0zm-26 1zm17 0zm-21 1zm17 0zm31 0zm-29 1zm3 0zm2 0zm23 0zm-62 1zm15 0zm3 0zm7 0zm15 0zm23 0zm-42 1zm-9 2zm9 0zm16 0zm2 0zm4 0zm16 0zm-55 1zm0 0zm34 0zm26 0zm-32 1zm10 0zm-13 1zm-30 1zm51 0zm-17 1zm32 0zm-50 1zm3 0zm16 0zm6 0zm8 0zm1 0zm7 0zm10 0zm-52 1zm1 0zm48 0zm-29 1zm-29 1zm4 0zm3 0zm14 0zm6 0zm10 0zm-20 1zm18 0zm5 0zm0 0zm-23 1zm-8 1zm2 1zm-14 1zm12 0zm9 0zm27 0zm-28 1zm6 0zm9 1zm-30 1zm49 0zm-52 1zm32 0zm-13 1zm-18 1zm-1 1zm7 1zm23 0zm31 0zm-56 1zm12 0zm-9 1zm-1 1zm23 0zm1 0zm4 0zm20 0zm2 0zm-16 1zm-41 1zm44 1zm-7 1zm23 0zm-51 1zm11 1zm-23 1zm1 0zm43 0zm-11 1zm8 0zm18 0zm-35 1zm-2 1zm10 0zm26 0zm3 0zm-55 1zm34 0zm-39 1zm2 0zm8 0zm-12 1zm40 2zm24 0zm-30 1zm25 0zm-25 1zm-7 2zm-8 1zm11 0zm-5 2zm36 0zm-28 4zm6 0zm8 0zm-8 4zm19 2zm6 0zm-24 3zm23 3zm2 0zm-46 1zm-18 3zm17 0zm-12 1zm48 1zm1 0zm-3 1zm7 0zm-57 2zm42 3zm12 0zm-36 1zm22 0zm-43 1zm39 0zm-39 1zm31 0zm-17 2zm8 0zm20 0zm-23 2zm47 0zm-15 2zm13 1zm-8 1zm5 1zm-61 3zm36 0zm16 0zm-37 2zm45 1zm-54 3zm12 0zm15 0zm-8 4zm-17 1zm7 0zm25 1zm-38 1zm60 0zm-6 2zm-50 1zm20 2zm7 2zm-30 1zm17 0zm23 0zm-33 3zm8 0zm7 0zm-3 1zm44 0zm-17 1zm-9 1zm-2 1zm1 8zm-30 1zm38 0zm-45 1zm63 2zm-61 2zm15 1zm38 1zm7 2zm-36 1zm-14 1zm17 0zm5 1zm23 0zm-58 1zm41 4zm-30 1zm5 0zm-9 2zm27 1zm21 0zm10 4zm-55 1zm20 1zm30 0zm-18 1zm1 0zm-23 1zm24 5zm-23 1zm-7 2zm1 1zm-13 1zm40 1zm-2 2zm-13 1zm35 0zm-2 1zm3 1zm-25 3zm-5 3zm-23 5zm43 9zm-41 5zm14 4zm-6 3zm-6 4zm44 2zm-4 1zm-38 1zm24 4zm-11 6zm15 3zm-17 3zm2 0zm1 2zm-3 1zm-14 1zm13 1zm-6 1zm19 0zm-22 2zm5 0zm38 9zm-39 4zm-13 4zm2 0zm34 13zm-11 12zm0 22zm23 0zm-24 5zm27 6zm-26 9zm-10 1zm10 1zm-31 6zm-2 17zm18 2zm40 9zm-18 31zm20 13zm-15 13zm-33 53zm-10 5zm54 64zm-4 239z" stroke="#2ca02c" stroke-width="3" stroke-opacity="0.4"/>
</g>
<rect x="416.71" y="298.65" width="19.38" height="11.97" fill="#1f77b4" fill-opacity="0.5"/>
<path d="M426.45 292.92V298.65M421.18 292.92h10.34M426.45 310.62V328.32M421.18 328.32h10.34" stroke="#383838" stroke-width="1.15" fill="none"/>
<path d="M416.71 303.33h19.38" stroke="#1f77b4" stroke-width="2.1" fill="none"/>
<rect x="449.01" y="297.09" width="19.38" height="8.85" fill="#d62728" fill-opacity="0.5"/>
<path d="M458.45 292.4V297.09M453.18 292.4h10.34M458.45 305.94V319.47M453.18 319.47h10.34" stroke="#383838" stroke-width="1.15" fill="none"/>
<path d="M449.01 301.25h19.38" stroke="#d62728" stroke-width="2.1" fill="none"/>
<rect x="481.31" y="299.17" width="19.38" height="11.45" fill="#1f77b4" fill-opacity="0.5"/>
<path d="M491.45 292.4V299.17M486.18 292.4h10.34M491.45 310.62V326.76M486.18 326.76h10.34" stroke="#383838" stroke-width="1.15" fill="none"/>
<path d="M481.31 303.85h19.38" stroke="#1f77b4" stroke-width="2.1" fill="none"/>
<rect x="513.61" y="297.09" width="19.38" height="11.97" fill="#d62728" fill-opacity="0.5"/>
<path d="M523.45 292.4V297.09M518.18 292.4h10.34M523.45 309.06V327.28M518.18 327.28h10.34" stroke="#383838" stroke-width="1.15" fill="none"/>
<path d="M513.61 301.77h19.38" stroke="#d62728" stroke-width="2.1" fill="none"/>
<rect x="545.91" y="369.44" width="19.38" height="149.38" fill="#bcbd22" fill-opacity="0.5"/>
<path d="M555.45 299.17V369.44M550.18 299.17h10.34" stroke="#383838" stroke-width="1.15" fill="none"/>
<path d="M545.91 438.66h19.38" stroke="#bcbd22" stroke-width="2.1" fill="none"/>
<rect x="578.21" y="318.43" width="19.38" height="34.35" fill="#2ca02c" fill-opacity="0.6"/>
<path d="M587.45 297.09V318.43M582.18 297.09h10.34M587.45 352.78V405.35M582.18 405.35h10.34" stroke="#383838" stroke-width="1.15" fill="none"/>
<path d="M578.21 331.44h19.38" stroke="#2ca02c" stroke-width="2.1" fill="none"/>
<rect x="610.51" y="314.26" width="19.38" height="54.65" fill="#bcbd22" fill-opacity="0.6"/>
<path d="M620.45 295.53V314.26M615.18 295.53h10.34M620.45 368.92V451.15M615.18 451.15h10.34" stroke="#383838" stroke-width="1.15" fill="none"/>
<path d="M610.51 328.84h19.38" stroke="#bcbd22" stroke-width="2.1" fill="none"/>
<rect x="642.81" y="305.94" width="19.38" height="24.98" fill="#2ca02c" fill-opacity="0.5"/>
<path d="M652.45 296.05V305.94M647.18 296.05h10.34M652.45 330.92V368.4M647.18 368.4h10.34" stroke="#383838" stroke-width="1.15" fill="none"/>
<path d="M642.81 313.22h19.38" stroke="#2ca02c" stroke-width="2.1" fill="none"/>
</g>
<line x1="410.25" y1="393.9" x2="668.65" y2="393.9" stroke="#5a5a5a" stroke-width="1.6"/>
<line x1="474.85" y1="289.8" x2="474.85" y2="498.05" stroke="#4a4a4a" stroke-width="1.5" stroke-dasharray="3.3 1.4"/>
<line x1="604.05" y1="289.8" x2="604.05" y2="498.05" stroke="#4a4a4a" stroke-width="1.5" stroke-dasharray="3.3 1.4"/>
<rect x="410.25" y="274.45" width="258.4" height="223.6" fill="none" stroke="#777" stroke-width="1"/>
<line x1="407.95" y1="498" x2="410.25" y2="498" stroke="#555" stroke-width="0.7"/>
<text x="406.55" y="501.4" font-family='"DejaVu Sans", "Liberation Sans", sans-serif' font-size="8.3" text-anchor="end" fill="#111">−1.0</text>
<line x1="407.95" y1="477.18" x2="410.25" y2="477.18" stroke="#555" stroke-width="0.7"/>
<text x="406.55" y="480.58" font-family='"DejaVu Sans", "Liberation Sans", sans-serif' font-size="8.3" text-anchor="end" fill="#111">−0.8</text>
<line x1="407.95" y1="456.36" x2="410.25" y2="456.36" stroke="#555" stroke-width="0.7"/>
<text x="406.55" y="459.76" font-family='"DejaVu Sans", "Liberation Sans", sans-serif' font-size="8.3" text-anchor="end" fill="#111">−0.6</text>
<line x1="407.95" y1="435.54" x2="410.25" y2="435.54" stroke="#555" stroke-width="0.7"/>
<text x="406.55" y="438.94" font-family='"DejaVu Sans", "Liberation Sans", sans-serif' font-size="8.3" text-anchor="end" fill="#111">−0.4</text>
<line x1="407.95" y1="414.72" x2="410.25" y2="414.72" stroke="#555" stroke-width="0.7"/>
<text x="406.55" y="418.12" font-family='"DejaVu Sans", "Liberation Sans", sans-serif' font-size="8.3" text-anchor="end" fill="#111">−0.2</text>
<line x1="407.95" y1="393.9" x2="410.25" y2="393.9" stroke="#555" stroke-width="0.7"/>
<text x="406.55" y="397.3" font-family='"DejaVu Sans", "Liberation Sans", sans-serif' font-size="8.3" text-anchor="end" fill="#111">0.0</text>
<line x1="407.95" y1="373.08" x2="410.25" y2="373.08" stroke="#555" stroke-width="0.7"/>
<text x="406.55" y="376.48" font-family='"DejaVu Sans", "Liberation Sans", sans-serif' font-size="8.3" text-anchor="end" fill="#111">0.2</text>
<line x1="407.95" y1="352.26" x2="410.25" y2="352.26" stroke="#555" stroke-width="0.7"/>
<text x="406.55" y="355.66" font-family='"DejaVu Sans", "Liberation Sans", sans-serif' font-size="8.3" text-anchor="end" fill="#111">0.4</text>
<line x1="407.95" y1="331.44" x2="410.25" y2="331.44" stroke="#555" stroke-width="0.7"/>
<text x="406.55" y="334.84" font-family='"DejaVu Sans", "Liberation Sans", sans-serif' font-size="8.3" text-anchor="end" fill="#111">0.6</text>
<line x1="407.95" y1="310.62" x2="410.25" y2="310.62" stroke="#555" stroke-width="0.7"/>
<text x="406.55" y="314.02" font-family='"DejaVu Sans", "Liberation Sans", sans-serif' font-size="8.3" text-anchor="end" fill="#111">0.8</text>
<line x1="407.95" y1="289.8" x2="410.25" y2="289.8" stroke="#555" stroke-width="0.7"/>
<text x="406.55" y="293.2" font-family='"DejaVu Sans", "Liberation Sans", sans-serif' font-size="8.3" text-anchor="end" fill="#111">1.0</text>
<line x1="442.55" y1="498.05" x2="442.55" y2="500.35" stroke="#555" stroke-width="0.7"/>
<text x="442.55" y="508.65" font-family='"DejaVu Sans", "Liberation Sans", sans-serif' font-size="7.45" text-anchor="middle" fill="#111">1 Participant</text>
<line x1="507.15" y1="498.05" x2="507.15" y2="500.35" stroke="#555" stroke-width="0.7"/>
<text x="507.15" y="508.65" font-family='"DejaVu Sans", "Liberation Sans", sans-serif' font-size="7.45" text-anchor="middle" fill="#111">9 Participants</text>
<line x1="571.75" y1="498.05" x2="571.75" y2="500.35" stroke="#555" stroke-width="0.7"/>
<text x="571.75" y="508.65" font-family='"DejaVu Sans", "Liberation Sans", sans-serif' font-size="7.45" text-anchor="middle" fill="#111">1 Participant</text>
<line x1="636.35" y1="498.05" x2="636.35" y2="500.35" stroke="#555" stroke-width="0.7"/>
<text x="636.35" y="508.65" font-family='"DejaVu Sans", "Liberation Sans", sans-serif' font-size="7.45" text-anchor="middle" fill="#111">9 Participants</text>
<line x1="426.4" y1="272.15" x2="426.4" y2="274.45" stroke="#555" stroke-width="0.7"/>
<text x="426.4" y="269.25" font-family='"DejaVu Sans", "Liberation Sans", sans-serif' font-size="6.25" text-anchor="middle" fill="#111">Target</text>
<line x1="458.7" y1="272.15" x2="458.7" y2="274.45" stroke="#555" stroke-width="0.7"/>
<text x="457.7" y="255.25" font-family='"DejaVu Sans", "Liberation Sans", sans-serif' font-size="6.25" text-anchor="middle" fill="#111">Target</text>
<text x="458.3" y="262.25" font-family='"DejaVu Sans", "Liberation Sans", sans-serif' font-size="6.25" text-anchor="middle" fill="#111">+</text>
<text x="459.3" y="269.25" font-family='"DejaVu Sans", "Liberation Sans", sans-serif' font-size="6.3" text-anchor="middle" fill="#111">Reference</text>
<line x1="491" y1="272.15" x2="491" y2="274.45" stroke="#555" stroke-width="0.7"/>
<text x="491" y="269.25" font-family='"DejaVu Sans", "Liberation Sans", sans-serif' font-size="6.25" text-anchor="middle" fill="#111">Target</text>
<line x1="523.3" y1="272.15" x2="523.3" y2="274.45" stroke="#555" stroke-width="0.7"/>
<text x="522.3" y="255.25" font-family='"DejaVu Sans", "Liberation Sans", sans-serif' font-size="6.25" text-anchor="middle" fill="#111">Target</text>
<text x="522.9" y="262.25" font-family='"DejaVu Sans", "Liberation Sans", sans-serif' font-size="6.25" text-anchor="middle" fill="#111">+</text>
<text x="523.9" y="269.25" font-family='"DejaVu Sans", "Liberation Sans", sans-serif' font-size="6.3" text-anchor="middle" fill="#111">Reference</text>
<line x1="555.6" y1="272.15" x2="555.6" y2="274.45" stroke="#555" stroke-width="0.7"/>
<text x="555.6" y="269.25" font-family='"DejaVu Sans", "Liberation Sans", sans-serif' font-size="6.25" text-anchor="middle" fill="#111">Target</text>
<line x1="587.9" y1="272.15" x2="587.9" y2="274.45" stroke="#555" stroke-width="0.7"/>
<text x="586.9" y="255.25" font-family='"DejaVu Sans", "Liberation Sans", sans-serif' font-size="6.25" text-anchor="middle" fill="#111">Target</text>
<text x="587.5" y="262.25" font-family='"DejaVu Sans", "Liberation Sans", sans-serif' font-size="6.25" text-anchor="middle" fill="#111">+</text>
<text x="588.5" y="269.25" font-family='"DejaVu Sans", "Liberation Sans", sans-serif' font-size="6.3" text-anchor="middle" fill="#111">Reference</text>
<line x1="620.2" y1="272.15" x2="620.2" y2="274.45" stroke="#555" stroke-width="0.7"/>
<text x="620.2" y="269.25" font-family='"DejaVu Sans", "Liberation Sans", sans-serif' font-size="6.25" text-anchor="middle" fill="#111">Target</text>
<line x1="652.5" y1="272.15" x2="652.5" y2="274.45" stroke="#555" stroke-width="0.7"/>
<text x="651.5" y="255.25" font-family='"DejaVu Sans", "Liberation Sans", sans-serif' font-size="6.25" text-anchor="middle" fill="#111">Target</text>
<text x="652.1" y="262.25" font-family='"DejaVu Sans", "Liberation Sans", sans-serif' font-size="6.25" text-anchor="middle" fill="#111">+</text>
<text x="653.1" y="269.25" font-family='"DejaVu Sans", "Liberation Sans", sans-serif' font-size="6.3" text-anchor="middle" fill="#111">Reference</text>
<text x="474.85" y="286.25" font-family='"DejaVu Sans", "Liberation Sans", sans-serif' font-size="11.45" text-anchor="middle" fill="#ff7f0e">Cross-Session</text>
<text x="604.05" y="286.25" font-family='"DejaVu Sans", "Liberation Sans", sans-serif' font-size="11.45" text-anchor="middle" fill="#9467bd">Cross-Participant</text>
<text x="382.95" y="387.05" font-family='"DejaVu Sans", "Liberation Sans", sans-serif' font-size="8.6" text-anchor="middle" fill="#111" transform="rotate(-90 382.95 387.05)">Coeficient of Determination - r2</text>
<text x="343.5" y="256.6" font-family='"Liberation Sans", sans-serif' font-size="21.5" text-anchor="start" fill="#000" font-weight="bold">d</text>
</g>
<g>
<clipPath id="clipe"><rect x="38.8" y="544.4" width="645.4" height="58.4"/></clipPath>
<rect x="38.8" y="532.7" width="645.4" height="11.7" rx="1" fill="#fff" stroke="#d9d9d9" stroke-width="0.8"/>
<rect x="38.8" y="544.4" width="645.4" height="58.4" fill="#eae1f2"/>
<g clip-path="url(#clipe)" fill="none" stroke-linejoin="round">
<path d="M39 583.94C40.16 583.94 43.99 583.99 45.99 583.94C47.98 583.88 49.87 583.99 50.98 583.6C52.09 583.21 52.09 582.08 52.64 581.61C53.2 581.13 53.81 579.66 54.31 580.77C54.81 581.88 55.22 586.13 55.64 588.26C56.05 590.4 56.33 593.31 56.8 593.59C57.27 593.87 58 591.59 58.47 589.93C58.94 588.26 59.08 584.77 59.63 583.6C60.19 582.44 61.24 582.02 61.8 582.94C62.35 583.85 62.54 588.62 62.96 589.09C63.38 589.57 63.85 585.91 64.29 585.77C64.74 585.63 65.12 587.57 65.62 588.26C66.12 588.96 66.68 589.59 67.29 589.93C67.9 590.26 68.4 590.32 69.28 590.26C70.17 590.2 71.5 589.79 72.61 589.59C73.72 589.4 74.97 588.48 75.94 589.09C76.91 589.71 77.66 592.51 78.44 593.26C79.21 594 79.77 593.64 80.6 593.59C81.43 593.53 82.54 593.26 83.43 592.92C84.32 592.59 85.09 592.09 85.93 591.59C86.76 591.09 87.73 591.26 88.42 589.93C89.12 588.6 89.53 584.82 90.09 583.6C90.64 582.38 91.06 582.66 91.75 582.6C92.45 582.55 93.55 582.47 94.25 583.27C94.94 584.07 95.36 586.46 95.91 587.43C96.47 588.4 96.88 588.96 97.58 589.09C98.27 589.23 99.24 588.26 100.07 588.26C100.91 588.26 101.6 588.82 102.57 589.09C103.54 589.37 104.93 589.93 105.9 589.93C106.87 589.93 107.62 589.93 108.39 589.09C109.17 588.26 110 585.07 110.56 584.93C111.11 584.8 111.11 587.76 111.72 588.26C112.33 588.76 113.39 588.07 114.22 587.93C115.05 587.79 116.02 586.49 116.72 587.43C117.41 588.37 117.82 593.03 118.38 593.59C118.93 594.14 119.35 591.37 120.04 590.76C120.74 590.15 121.71 590.34 122.54 589.93C123.37 589.51 124.34 588.26 125.04 588.26C125.73 588.26 126.01 589.79 126.7 589.93C127.39 590.07 128.36 589.51 129.2 589.09C130.03 588.68 130.86 588.07 131.69 587.43C132.53 586.79 133.36 585.27 134.19 585.27C135.02 585.27 135.85 586.93 136.69 587.43C137.52 587.93 138.43 588.4 139.18 588.26C139.93 588.12 140.68 588.4 141.18 586.6C141.68 584.8 141.68 579.16 142.18 577.45C142.68 575.73 143.62 576.56 144.18 576.28C144.73 576 145.2 575.86 145.51 575.78C145.81 575.7 145.78 574.39 146 575.78C146.22 577.17 146.28 582.58 146.83 584.1C147.39 585.63 148.5 584.24 149.33 584.93C150.16 585.63 150.99 587.57 151.82 588.26C152.66 588.96 153.49 589.23 154.32 589.09C155.15 588.96 156.12 587.29 156.82 587.43C157.51 587.57 157.93 589.01 158.48 589.93C159.04 590.84 159.45 592.37 160.15 592.92C160.84 593.48 161.81 593.34 162.64 593.26C163.47 593.17 164.31 592.42 165.14 592.42C165.97 592.42 166.8 592.98 167.64 593.26C168.47 593.53 169.44 594.92 170.13 594.09C170.82 593.26 171.1 588.96 171.8 588.26C172.49 587.57 173.46 589.93 174.29 589.93C175.12 589.93 175.96 588.48 176.79 588.26C177.62 588.04 178.45 588.46 179.28 588.6C180.12 588.73 180.95 588.6 181.78 589.09C182.61 589.59 183.45 591.45 184.28 591.59C185.11 591.73 185.8 590.48 186.77 589.93C187.74 589.37 189.13 588.4 190.1 588.26C191.07 588.12 191.77 589.09 192.6 589.09C193.43 589.09 194.26 588.12 195.09 588.26C195.93 588.4 196.76 589.87 197.59 589.93C198.42 589.98 199.26 588.73 200.09 588.6C200.92 588.46 201.75 588.87 202.58 589.09C203.42 589.32 204.25 589.93 205.08 589.93C205.91 589.93 206.74 589.04 207.58 589.09C208.41 589.15 209.24 590.4 210.07 590.26C210.91 590.12 211.74 588.73 212.57 588.26C213.4 587.79 214.23 587.29 215.07 587.43C215.9 587.57 216.73 588.68 217.56 589.09C218.39 589.51 219.23 590.07 220.06 589.93C220.89 589.79 221.92 589.15 222.55 588.26C223.19 587.38 223.33 584.6 223.89 584.6C224.44 584.6 225.13 587.1 225.88 588.26C226.63 589.43 227.55 591.45 228.38 591.59C229.21 591.73 230.04 589.37 230.88 589.09C231.71 588.82 232.54 590.2 233.37 589.93C234.2 589.65 235.04 587.93 235.87 587.43C236.7 586.93 237.53 586.52 238.36 586.93C239.2 587.35 240.03 589.29 240.86 589.93C241.69 590.56 242.53 590.76 243.36 590.76C244.19 590.76 245.16 589.37 245.85 589.93C246.55 590.48 246.82 593.81 247.52 594.09C248.21 594.36 249.18 592.15 250.01 591.59C250.85 591.04 251.68 590.76 252.51 590.76C253.34 590.76 254.43 591.73 255.01 591.59C255.59 591.45 255.42 590.48 256 589.93C256.58 589.37 257.66 588.96 258.5 588.26C259.33 587.57 260.16 586.32 260.99 585.77C261.82 585.21 262.66 584.52 263.49 584.93C264.32 585.35 265.15 587.43 265.99 588.26C266.82 589.09 267.79 589.23 268.48 589.93C269.18 590.62 269.45 592.7 270.15 592.42C270.84 592.15 271.81 588.4 272.64 588.26C273.47 588.12 274.31 591.45 275.14 591.59C275.97 591.73 276.8 589.79 277.64 589.09C278.47 588.4 279.3 587.29 280.13 587.43C280.96 587.57 281.8 589.79 282.63 589.93C283.46 590.07 284.29 588.4 285.12 588.26C285.96 588.12 286.79 588.82 287.62 589.09C288.45 589.37 289.42 589.23 290.12 589.93C290.81 590.62 291.23 592.98 291.78 593.26C292.34 593.53 292.89 593.53 293.45 591.59C294 589.65 294.55 584.1 295.11 581.61C295.66 579.11 296.14 577.72 296.77 576.61C297.41 575.5 298.3 575.17 298.94 574.95C299.58 574.73 300.05 573.89 300.6 575.28C301.16 576.67 301.71 580.55 302.27 583.27C302.82 585.99 303.32 590.9 303.93 591.59C304.54 592.28 305.18 587.99 305.93 587.43C306.68 586.88 307.65 588.68 308.42 588.26C309.2 587.85 309.89 584.66 310.59 584.93C311.28 585.21 311.97 588.54 312.58 589.93C313.19 591.31 313.55 592.98 314.25 593.26C314.94 593.53 315.91 591.73 316.74 591.59C317.58 591.45 318.41 592.42 319.24 592.42C320.07 592.42 320.91 592.01 321.74 591.59C322.57 591.18 323.4 590.34 324.23 589.93C325.07 589.51 325.9 589.15 326.73 589.09C327.56 589.04 328.39 589.73 329.23 589.59C330.06 589.46 331.03 587.65 331.72 588.26C332.42 588.87 332.75 592.98 333.39 593.26C334.02 593.53 334.97 592.15 335.55 589.93C336.13 587.71 336.49 580.22 336.88 579.94C337.27 579.66 337.35 586.74 337.88 588.26C338.41 589.79 339.27 589.09 340.04 589.09C340.82 589.09 341.71 588.12 342.54 588.26C343.37 588.4 344.2 589.51 345.04 589.93C345.87 590.34 346.7 590.76 347.53 590.76C348.36 590.76 349.2 590.2 350.03 589.93C350.86 589.65 351.83 589.51 352.53 589.09C353.22 588.68 353.64 587.01 354.19 587.43C354.74 587.85 355.16 591.18 355.85 591.59C356.55 592.01 357.52 590.34 358.35 589.93C359.18 589.51 360.01 589.09 360.85 589.09C361.68 589.09 362.57 589.84 363.34 589.93C364.12 590.01 365.06 589.59 365.51 589.59C365.95 589.59 365.36 589.93 366 589.93C366.64 589.93 368.22 589.82 369.33 589.59C370.44 589.37 371.69 588.54 372.66 588.6C373.63 588.65 374.38 588.82 375.15 589.93C375.93 591.04 376.62 594.56 377.32 595.25C378.01 595.95 378.56 594.48 379.31 594.09C380.06 593.7 380.98 593.34 381.81 592.92C382.64 592.51 383.47 592.09 384.31 591.59C385.14 591.09 385.97 590.48 386.8 589.93C387.64 589.37 388.47 588.82 389.3 588.26C390.13 587.71 391.02 586.6 391.8 586.6C392.57 586.6 393.27 587.71 393.96 588.26C394.65 588.82 395.21 589.23 395.96 589.93C396.71 590.62 397.62 591.73 398.45 592.42C399.28 593.12 400.12 593.95 400.95 594.09C401.78 594.23 402.61 593.67 403.45 593.26C404.28 592.84 405.11 592.42 405.94 591.59C406.77 590.76 407.61 589.09 408.44 588.26C409.27 587.43 410.1 587.21 410.93 586.6C411.77 585.99 412.6 584.74 413.43 584.6C414.26 584.46 415.09 585.43 415.93 585.77C416.76 586.1 417.65 585.63 418.42 586.6C419.2 587.57 419.89 591.04 420.59 591.59C421.28 592.15 421.84 590.07 422.58 589.93C423.33 589.79 424.25 590.48 425.08 590.76C425.91 591.04 426.74 591.59 427.58 591.59C428.41 591.59 429.24 591.04 430.07 590.76C430.91 590.48 431.74 590.48 432.57 589.93C433.4 589.37 434.23 587.99 435.07 587.43C435.9 586.88 436.73 586.68 437.56 586.6C438.39 586.52 439.23 586.38 440.06 586.93C440.89 587.49 441.72 589.15 442.55 589.93C443.39 590.7 444.22 590.9 445.05 591.59C445.88 592.28 446.72 593.95 447.55 594.09C448.38 594.23 449.21 592.56 450.04 592.42C450.88 592.28 451.71 593.06 452.54 593.26C453.37 593.45 454.26 594.42 455.04 593.59C455.81 592.76 456.51 589.71 457.2 588.26C457.89 586.82 458.45 585.07 459.2 584.93C459.95 584.8 460.86 586.88 461.69 587.43C462.53 587.99 463.36 588.4 464.19 588.26C465.02 588.12 465.85 586.6 466.69 586.6C467.52 586.6 468.35 587.71 469.18 588.26C470.01 588.82 470.85 590.07 471.68 589.93C472.51 589.79 473.54 587.99 474.18 587.43C474.81 586.88 475.2 586.88 475.51 586.6C475.81 586.32 475.5 585.63 476 585.77C476.5 585.91 477.66 586.88 478.5 587.43C479.33 587.99 480.16 588.4 480.99 589.09C481.82 589.79 482.8 590.9 483.49 591.59C484.18 592.28 484.68 595.2 485.15 593.26C485.62 591.31 485.9 582.66 486.32 579.94C486.73 577.22 487.09 577.56 487.65 576.95C488.2 576.34 488.95 576.47 489.65 576.28C490.34 576.09 491.23 575.17 491.81 575.78C492.39 576.39 492.73 578 493.14 579.94C493.56 581.88 493.7 585.77 494.31 587.43C494.92 589.09 495.97 589.73 496.8 589.93C497.64 590.12 498.47 588.93 499.3 588.6C500.13 588.26 500.96 587.99 501.8 587.93C502.63 587.87 503.46 588.07 504.29 588.26C505.12 588.46 505.96 589.51 506.79 589.09C507.62 588.68 508.45 586.46 509.28 585.77C510.12 585.07 510.95 584.66 511.78 584.93C512.61 585.21 513.45 586.88 514.28 587.43C515.11 587.99 515.94 588.4 516.77 588.26C517.61 588.12 518.44 587.15 519.27 586.6C520.1 586.04 520.93 585.07 521.77 584.93C522.6 584.8 523.43 585.49 524.26 585.77C525.09 586.04 525.93 585.91 526.76 586.6C527.59 587.29 528.42 589.51 529.26 589.93C530.09 590.34 531.06 589.87 531.75 589.09C532.45 588.32 532.72 585.82 533.42 585.27C534.11 584.71 535.08 585.49 535.91 585.77C536.74 586.04 537.58 586.38 538.41 586.93C539.24 587.49 540.07 589.01 540.91 589.09C541.74 589.18 542.57 587.43 543.4 587.43C544.23 587.43 545.07 588.4 545.9 589.09C546.73 589.79 547.56 590.9 548.39 591.59C549.23 592.28 550.06 593.12 550.89 593.26C551.72 593.39 552.55 592.48 553.39 592.42C554.22 592.37 555.05 592.92 555.88 592.92C556.72 592.92 557.55 593.06 558.38 592.42C559.21 591.79 560.04 589.93 560.88 589.09C561.71 588.26 562.54 587.51 563.37 587.43C564.2 587.35 565.04 588.46 565.87 588.6C566.7 588.73 567.67 588.6 568.36 588.26C569.06 587.93 569.59 586.18 570.03 586.6C570.47 587.01 570.42 589.79 571 590.76C571.58 591.73 572.66 591.73 573.5 592.42C574.33 593.12 575.16 594.78 575.99 594.92C576.82 595.06 577.8 594.09 578.49 593.26C579.18 592.42 579.52 590.76 580.15 589.93C580.79 589.09 581.62 589.32 582.32 588.26C583.01 587.21 583.7 583.6 584.31 583.6C584.92 583.6 585.28 587.62 585.98 588.26C586.67 588.9 587.64 587.49 588.47 587.43C589.31 587.38 590.28 587.38 590.97 587.93C591.66 588.48 591.94 589.87 592.64 590.76C593.33 591.65 594.3 592.89 595.13 593.26C595.96 593.62 596.8 592.92 597.63 592.92C598.46 592.92 599.29 593.34 600.12 593.26C600.96 593.17 601.79 593.26 602.62 592.42C603.45 591.59 604.28 589.23 605.12 588.26C605.95 587.29 606.78 586.74 607.61 586.6C608.45 586.46 609.28 587.1 610.11 587.43C610.94 587.76 611.77 588.18 612.61 588.6C613.44 589.01 614.27 589.29 615.1 589.93C615.93 590.56 616.77 591.92 617.6 592.42C618.43 592.92 619.26 593.2 620.09 592.92C620.93 592.65 621.76 591.26 622.59 590.76C623.42 590.26 624.26 590.34 625.09 589.93C625.92 589.51 626.75 588.82 627.58 588.26C628.42 587.71 629.25 586.74 630.08 586.6C630.91 586.46 631.74 586.74 632.58 587.43C633.41 588.12 634.24 590.48 635.07 590.76C635.91 591.04 636.74 589.65 637.57 589.09C638.4 588.54 639.23 587.62 640.07 587.43C640.9 587.24 641.73 587.65 642.56 587.93C643.39 588.21 644.23 589.32 645.06 589.09C645.89 588.87 646.72 587.35 647.55 586.6C648.39 585.85 649.22 584.88 650.05 584.6C650.88 584.32 651.72 584.46 652.55 584.93C653.38 585.41 654.21 586.74 655.04 587.43C655.88 588.12 656.71 588.54 657.54 589.09C658.37 589.65 659.2 590.62 660.04 590.76C660.87 590.9 661.7 590.34 662.53 589.93C663.36 589.51 664.2 588.68 665.03 588.26C665.86 587.85 666.69 587.43 667.53 587.43C668.36 587.43 669.33 588.9 670.02 588.26C670.72 587.62 671.05 583.88 671.69 583.6C672.32 583.33 673.02 586.04 673.85 586.6C674.68 587.15 675.79 586.93 676.68 586.93C677.57 586.93 678.2 586.71 679.18 586.6C680.15 586.49 681.67 586.32 682.5 586.27C683.34 586.21 683.89 586.27 684.17 586.27" stroke="#bcbd22" stroke-width="1.08" stroke-dasharray="2.8 1.3"/>
<path d="M39 566.13C41.21 566.13 49.76 566.46 52.31 566.13C54.86 565.8 53.56 565.02 54.31 564.13C55.06 563.24 56.05 561.64 56.8 560.8C57.55 559.97 58.16 559.14 58.8 559.14C59.44 559.14 59.85 560.44 60.63 560.8C61.41 561.16 62.57 561.33 63.46 561.3C64.35 561.27 65.12 560.86 65.96 560.64C66.79 560.41 67.62 559.92 68.45 559.97C69.28 560.03 70.26 560.69 70.95 560.97C71.64 561.25 72.06 561.94 72.61 561.64C73.17 561.33 73.72 559.64 74.28 559.14C74.83 558.64 75.5 558.5 75.94 558.64C76.39 558.78 76.66 557.53 76.94 559.97C77.22 562.41 77.33 568.01 77.61 573.28C77.88 578.55 78.27 587.85 78.6 591.59C78.94 595.34 79.08 594.98 79.6 595.75C80.13 596.53 81.13 596.33 81.77 596.25C82.4 596.17 82.96 596.31 83.43 595.25C83.9 594.2 84.24 592.76 84.6 589.93C84.96 587.1 85.26 582.44 85.59 578.28C85.93 574.12 86.2 568.07 86.59 564.96C86.98 561.86 87.34 560.69 87.92 559.64C88.51 558.58 89.17 558.81 90.09 558.64C91 558.47 92.45 558.53 93.42 558.64C94.39 558.75 95.08 559.36 95.91 559.31C96.74 559.25 97.3 558.39 98.41 558.31C99.52 558.22 101.32 558.72 102.57 558.81C103.82 558.89 104.79 558.67 105.9 558.81C107.01 558.94 108.12 559.44 109.23 559.64C110.34 559.83 111.58 559.86 112.55 559.97C113.53 560.08 114.36 559.89 115.05 560.3C115.74 560.72 116.24 561.41 116.72 562.47C117.19 563.52 117.52 563.72 117.88 566.63C118.24 569.54 118.52 575.5 118.88 579.94C119.24 584.38 119.71 590.4 120.04 593.26C120.38 596.11 120.32 596.39 120.88 597.08C121.43 597.78 122.54 597.55 123.37 597.42C124.2 597.28 125.04 596.61 125.87 596.25C126.7 595.89 127.75 595.75 128.36 595.25C128.98 594.75 129.17 595.25 129.53 593.26C129.89 591.26 130.17 587.15 130.53 583.27C130.89 579.39 131.31 573.56 131.69 569.96C132.08 566.35 132.44 563.24 132.86 561.64C133.27 560.03 133.55 560.58 134.19 560.3C134.83 560.03 135.99 560.44 136.69 559.97C137.38 559.5 137.71 558.92 138.35 557.47C138.99 556.03 139.82 551.87 140.51 551.32C141.21 550.76 141.85 553.54 142.51 554.15C143.18 554.76 143.93 555.45 144.51 554.98C145.09 554.51 145.47 551.59 146 551.32C146.53 551.04 146.97 552.43 147.66 553.31C148.36 554.2 149.33 555.48 150.16 556.64C150.99 557.81 151.69 559.75 152.66 560.3C153.63 560.86 155.1 560.08 155.99 559.97C156.87 559.86 157.43 558.53 157.98 559.64C158.54 560.75 158.81 563.52 159.31 566.63C159.81 569.73 160.42 574.39 160.98 578.28C161.53 582.16 162.14 587.29 162.64 589.93C163.14 592.56 163.42 593.37 163.97 594.09C164.53 594.81 165.36 594.39 165.97 594.25C166.58 594.12 167.08 594.81 167.64 593.26C168.19 591.7 168.74 587.29 169.3 584.93C169.85 582.58 170.41 580.64 170.96 579.11C171.52 577.58 172.07 576.89 172.63 575.78C173.18 574.67 173.79 573.98 174.29 572.45C174.79 570.93 175.07 567.65 175.62 566.63C176.18 565.6 177.01 566.43 177.62 566.29C178.23 566.16 178.73 566.85 179.28 565.8C179.84 564.74 180.39 561.16 180.95 559.97C181.5 558.78 182 558.64 182.61 558.64C183.22 558.64 184.06 559.89 184.61 559.97C185.16 560.05 185.44 558.72 185.94 559.14C186.44 559.55 187 561.72 187.61 562.47C188.22 563.22 188.91 563.35 189.6 563.63C190.3 563.91 190.99 564.19 191.77 564.13C192.54 564.08 193.57 563.66 194.26 563.3C194.96 562.94 195.23 562.11 195.93 561.97C196.62 561.83 197.73 562.44 198.42 562.47C199.12 562.49 199.53 561.72 200.09 562.13C200.64 562.55 201.2 563.66 201.75 564.96C202.31 566.27 202.86 567.74 203.42 569.96C203.97 572.18 204.53 575.78 205.08 578.28C205.64 580.77 206.19 582.99 206.74 584.93C207.3 586.88 207.85 588.87 208.41 589.93C208.96 590.98 209.6 591.54 210.07 591.26C210.54 590.98 210.82 589.87 211.24 588.26C211.65 586.65 212.13 583.13 212.57 581.61C213.01 580.08 213.4 580.22 213.9 579.11C214.4 578 215.01 577.03 215.56 574.95C216.12 572.87 216.67 569.18 217.23 566.63C217.78 564.08 218.28 560.89 218.89 559.64C219.5 558.39 220.22 558.94 220.89 559.14C221.56 559.33 222.28 560.44 222.89 560.8C223.5 561.16 224.05 562 224.55 561.3C225.05 560.61 225.44 557.56 225.88 556.64C226.33 555.73 226.8 554.98 227.21 555.81C227.63 556.64 228.05 558.72 228.38 561.64C228.71 564.55 228.93 569.68 229.21 573.28C229.49 576.89 229.77 580.91 230.04 583.27C230.32 585.63 230.52 586.6 230.88 587.43C231.24 588.26 231.79 588.68 232.21 588.26C232.62 587.85 232.9 587.43 233.37 584.93C233.84 582.44 234.48 576.06 235.04 573.28C235.59 570.51 236.15 570.23 236.7 568.29C237.26 566.35 237.81 563.58 238.36 561.64C238.92 559.69 239.47 557.67 240.03 556.64C240.58 555.62 241.06 555.53 241.69 555.48C242.33 555.42 243.22 555.7 243.86 556.31C244.49 556.92 245.05 556.31 245.52 559.14C245.99 561.97 246.3 568.43 246.69 573.28C247.07 578.14 247.44 584.52 247.85 588.26C248.27 592.01 248.63 594.17 249.18 595.75C249.74 597.33 250.4 597.42 251.18 597.75C251.96 598.08 253.2 598.22 253.84 597.75C254.48 597.28 254.65 595.67 255.01 594.92C255.37 594.17 255.61 595.2 256 593.26C256.39 591.31 256.92 587.43 257.33 583.27C257.75 579.11 258.11 572.04 258.5 568.29C258.88 564.55 259.11 562.19 259.66 560.8C260.22 559.42 261.1 559.89 261.82 559.97C262.55 560.05 263.29 561.16 263.99 561.3C264.68 561.44 265.43 561.44 265.99 560.8C266.54 560.16 266.82 558.17 267.32 557.47C267.82 556.78 268.51 554.84 268.98 556.64C269.45 558.45 269.76 563.85 270.15 568.29C270.53 572.73 270.89 579.94 271.31 583.27C271.73 586.6 272.2 587.99 272.64 588.26C273.09 588.54 273.47 587.15 273.97 584.93C274.47 582.72 275.08 578.28 275.64 574.95C276.19 571.62 276.83 567.18 277.3 564.96C277.77 562.74 277.86 562.19 278.47 561.64C279.08 561.08 280.13 561.5 280.96 561.64C281.8 561.77 282.63 562.47 283.46 562.47C284.29 562.47 285.12 561.64 285.96 561.64C286.79 561.64 287.62 562.47 288.45 562.47C289.28 562.47 290.26 562.33 290.95 561.64C291.64 560.94 292.11 560.25 292.61 558.31C293.11 556.36 293.53 551.43 293.94 549.99C294.36 548.54 294.64 549.24 295.11 549.65C295.58 550.07 296.14 551.93 296.77 552.48C297.41 553.04 298.3 552.98 298.94 552.98C299.58 552.98 300.13 553.04 300.6 552.48C301.07 551.93 301.38 550.07 301.77 549.65C302.15 549.24 302.52 548.96 302.93 549.99C303.35 551.01 303.76 554.2 304.26 555.81C304.76 557.42 305.23 558.81 305.93 559.64C306.62 560.47 307.59 560.69 308.42 560.8C309.26 560.91 310.28 560.3 310.92 560.3C311.56 560.3 311.84 559.19 312.25 560.8C312.67 562.41 313.03 566.21 313.42 569.96C313.8 573.7 314.22 579.11 314.58 583.27C314.94 587.43 315.22 592.28 315.58 594.92C315.94 597.55 316.19 598.3 316.74 599.08C317.3 599.86 318.21 599.58 318.91 599.58C319.6 599.58 320.35 599.86 320.91 599.08C321.46 598.3 321.82 596.72 322.24 594.92C322.65 593.12 323.01 590.76 323.4 588.26C323.79 585.77 324.15 582.99 324.57 579.94C324.98 576.89 325.45 573.15 325.9 569.96C326.34 566.77 326.67 562.52 327.23 560.8C327.78 559.08 328.48 560.11 329.23 559.64C329.98 559.17 330.95 558.47 331.72 557.97C332.5 557.47 333.25 556.92 333.89 556.64C334.52 556.36 335.13 554.92 335.55 556.31C335.97 557.7 336.05 561.44 336.38 564.96C336.72 568.49 337.13 574.81 337.55 577.45C337.96 580.08 338.38 580.91 338.88 580.77C339.38 580.64 340.07 577.53 340.54 576.61C341.01 575.7 341.24 575.42 341.71 575.28C342.18 575.14 342.9 576.67 343.37 575.78C343.84 574.89 344.12 572.04 344.54 569.96C344.95 567.88 345.37 564.46 345.87 563.3C346.37 562.13 346.84 562.97 347.53 562.97C348.23 562.97 349.2 563.02 350.03 563.3C350.86 563.58 351.89 562.97 352.53 564.63C353.16 566.29 353.44 569.62 353.86 573.28C354.27 576.95 354.55 582.85 355.02 586.6C355.49 590.34 356.13 593.67 356.69 595.75C357.24 597.83 357.66 598.47 358.35 599.08C359.04 599.69 360.15 599.83 360.85 599.41C361.54 599 362.01 598.72 362.51 596.58C363.01 594.45 363.43 589.93 363.84 586.6C364.26 583.27 364.65 580.22 365.01 576.61C365.37 573.01 365.61 568.01 366 564.96C366.39 561.91 366.78 559.69 367.33 558.31C367.89 556.92 368.58 556.92 369.33 556.64C370.08 556.36 371.05 556.56 371.82 556.64C372.6 556.73 373.35 556.31 373.99 557.14C374.63 557.97 375.18 559.5 375.65 561.64C376.12 563.77 376.35 568.35 376.82 569.96C377.29 571.56 377.79 571.01 378.48 571.29C379.18 571.56 380.28 571.43 380.98 571.62C381.67 571.81 382.09 571.84 382.64 572.45C383.2 573.06 383.75 575.42 384.31 575.28C384.86 575.14 385.42 572.73 385.97 571.62C386.53 570.51 386.94 569.18 387.64 568.62C388.33 568.07 389.3 568.13 390.13 568.29C390.96 568.46 391.93 568.24 392.63 569.62C393.32 571.01 393.74 574.06 394.29 576.61C394.85 579.16 395.4 582.8 395.96 584.93C396.51 587.07 396.93 588.73 397.62 589.43C398.31 590.12 399.15 589.23 400.12 589.09C401.09 588.96 402.47 588.73 403.45 588.6C404.42 588.46 405.3 588.87 405.94 588.26C406.58 587.65 406.77 585.91 407.27 584.93C407.77 583.96 408.38 584.1 408.94 582.44C409.49 580.77 410.05 577.58 410.6 574.95C411.16 572.31 411.71 568.99 412.27 566.63C412.82 564.27 413.32 561.86 413.93 560.8C414.54 559.75 415.26 560.5 415.93 560.3C416.59 560.11 417.37 559.92 417.92 559.64C418.48 559.36 418.81 557.75 419.26 558.64C419.7 559.53 420.09 562.52 420.59 564.96C421.09 567.4 421.7 570.23 422.25 573.28C422.81 576.34 423.36 580.55 423.92 583.27C424.47 585.99 424.97 588.4 425.58 589.59C426.19 590.79 426.83 590.32 427.58 590.43C428.33 590.54 429.38 591.18 430.07 590.26C430.77 589.34 431.18 588.04 431.74 584.93C432.29 581.83 432.85 575.23 433.4 571.62C433.96 568.01 434.51 565.38 435.07 563.3C435.62 561.22 436.04 559.97 436.73 559.14C437.42 558.31 438.48 558.31 439.23 558.31C439.98 558.31 440.67 557.75 441.22 559.14C441.78 560.53 442.06 563.44 442.55 566.63C443.05 569.82 443.66 574.67 444.22 578.28C444.77 581.88 445.33 586.18 445.88 588.26C446.44 590.34 446.85 590.34 447.55 590.76C448.24 591.18 449.21 590.68 450.04 590.76C450.88 590.84 451.79 591.26 452.54 591.26C453.29 591.26 453.98 591.81 454.54 590.76C455.09 589.71 455.37 587.85 455.87 584.93C456.37 582.02 457.03 576.61 457.53 573.28C458.03 569.96 458.36 566.29 458.86 564.96C459.36 563.63 459.97 565.57 460.53 565.3C461.08 565.02 461.64 564.05 462.19 563.3C462.75 562.55 463.3 562.05 463.86 560.8C464.41 559.55 464.97 556.92 465.52 555.81C466.08 554.7 466.63 553.73 467.19 554.15C467.74 554.56 468.29 556.09 468.85 558.31C469.4 560.53 469.9 566.07 470.51 567.46C471.12 568.85 471.9 567.6 472.51 566.63C473.12 565.66 473.68 562.69 474.18 561.64C474.67 560.58 475.2 560.53 475.51 560.3C475.81 560.08 475.58 560.58 476 560.3C476.42 560.03 477.22 558.92 478 558.64C478.77 558.36 479.88 558.28 480.66 558.64C481.44 559 482.05 560.72 482.66 560.8C483.27 560.89 483.88 558.45 484.32 559.14C484.76 559.83 484.99 561.5 485.32 564.96C485.65 568.43 485.99 576.06 486.32 579.94C486.65 583.82 486.82 586.82 487.32 588.26C487.82 589.71 488.65 588.65 489.31 588.6C489.98 588.54 490.76 588.54 491.31 587.93C491.87 587.32 492.2 586.27 492.64 584.93C493.09 583.6 493.47 582.44 493.97 579.94C494.47 577.45 495.08 572.87 495.64 569.96C496.19 567.04 496.69 563.99 497.3 562.47C497.91 560.94 498.47 561.08 499.3 560.8C500.13 560.53 501.41 560.8 502.29 560.8C503.18 560.8 504.01 559.83 504.62 560.8C505.24 561.77 505.46 563.44 505.96 566.63C506.46 569.82 507.12 576.47 507.62 579.94C508.12 583.41 508.4 585.99 508.95 587.43C509.51 588.87 510.2 588.6 510.95 588.6C511.7 588.6 512.67 587.99 513.45 587.43C514.22 586.88 514.97 585.82 515.61 585.27C516.25 584.71 516.77 585.54 517.27 584.1C517.77 582.66 518.13 579.53 518.6 576.61C519.08 573.7 519.58 569.26 520.1 566.63C520.63 563.99 521.07 561.97 521.77 560.8C522.46 559.64 523.43 559.83 524.26 559.64C525.09 559.44 525.98 559.86 526.76 559.64C527.54 559.42 528.28 559.08 528.92 558.31C529.56 557.53 530.03 556.7 530.59 554.98C531.14 553.26 531.78 549.1 532.25 547.99C532.72 546.88 533.03 547.85 533.42 548.32C533.8 548.79 534.03 550.32 534.58 550.82C535.14 551.32 536.11 551.46 536.74 551.32C537.38 551.18 537.85 549.65 538.41 549.99C538.96 550.32 539.44 552.2 540.07 553.31C540.71 554.42 541.54 555.53 542.24 556.64C542.93 557.75 543.57 559.19 544.23 559.97C544.9 560.75 545.54 561.02 546.23 561.3C546.92 561.58 547.67 561.72 548.39 561.64C549.12 561.55 550 560.25 550.56 560.8C551.11 561.36 551.11 564.05 551.72 564.96C552.33 565.88 553.39 566.29 554.22 566.29C555.05 566.29 555.88 565.32 556.72 564.96C557.55 564.6 558.38 564.35 559.21 564.13C560.04 563.91 560.88 563.63 561.71 563.63C562.54 563.63 563.37 564.05 564.2 564.13C565.04 564.21 565.87 564.27 566.7 564.13C567.53 563.99 568.56 563.72 569.2 563.3C569.84 562.88 570.23 561.97 570.53 561.64C570.83 561.3 570.51 561.36 571 561.3C571.49 561.25 572.89 560.41 573.5 561.3C574.11 562.19 574.3 563.8 574.66 566.63C575.02 569.46 575.3 574.81 575.66 578.28C576.02 581.74 576.35 585.71 576.82 587.43C577.3 589.15 578.02 589.57 578.49 588.6C578.96 587.62 579.24 584.44 579.65 581.61C580.07 578.78 580.49 574.81 580.99 571.62C581.48 568.43 581.96 564.46 582.65 562.47C583.34 560.47 584.31 560.11 585.15 559.64C585.98 559.17 586.81 559.53 587.64 559.64C588.47 559.75 589.45 560.47 590.14 560.3C590.83 560.14 591.3 557.86 591.8 558.64C592.3 559.42 592.72 561.97 593.13 564.96C593.55 567.96 593.83 573.01 594.3 576.61C594.77 580.22 595.41 583.82 595.96 586.6C596.52 589.37 597.02 591.87 597.63 593.26C598.24 594.64 598.93 594.7 599.62 594.92C600.32 595.14 601.23 595.7 601.79 594.59C602.34 593.48 602.54 590.98 602.95 588.26C603.37 585.54 603.84 581.61 604.28 578.28C604.73 574.95 605.12 570.65 605.62 568.29C606.12 565.93 606.67 564.88 607.28 564.13C607.89 563.38 608.67 563.66 609.28 563.8C609.89 563.94 610.39 564.21 610.94 564.96C611.5 565.71 612 566.91 612.61 568.29C613.22 569.68 614.05 571.07 614.6 573.28C615.16 575.5 615.49 579.25 615.93 581.61C616.38 583.96 616.77 586.27 617.27 587.43C617.76 588.6 618.43 588.73 618.93 588.6C619.43 588.46 619.85 588.6 620.26 586.6C620.68 584.6 620.98 578.69 621.43 576.61C621.87 574.53 622.4 575.09 622.92 574.12C623.45 573.15 624.09 572.31 624.59 570.79C625.09 569.26 625.42 566.35 625.92 564.96C626.42 563.58 626.89 562.97 627.58 562.47C628.28 561.97 629.25 562.11 630.08 561.97C630.91 561.83 631.74 561.64 632.58 561.64C633.41 561.64 634.24 562.25 635.07 561.97C635.91 561.69 636.74 560.36 637.57 559.97C638.4 559.58 639.23 559.58 640.07 559.64C640.9 559.69 641.73 560.19 642.56 560.3C643.39 560.41 644.23 560.14 645.06 560.3C645.89 560.47 646.72 561.22 647.55 561.3C648.39 561.39 649.22 560.97 650.05 560.8C650.88 560.64 651.72 560.5 652.55 560.3C653.38 560.11 654.35 560.03 655.04 559.64C655.74 559.25 656.15 557.78 656.71 557.97C657.26 558.17 657.96 559.08 658.37 560.8C658.79 562.52 658.87 565.8 659.2 568.29C659.54 570.79 659.87 574.26 660.37 575.78C660.87 577.31 661.62 577.36 662.2 577.45C662.78 577.53 663.36 577.81 663.86 576.28C664.36 574.75 664.81 570.73 665.2 568.29C665.58 565.85 665.67 562.88 666.19 561.64C666.72 560.39 667.58 560.86 668.36 560.8C669.13 560.75 670.02 561.16 670.85 561.3C671.69 561.44 672.52 561.52 673.35 561.64C674.18 561.75 674.88 561.88 675.85 561.97C676.82 562.05 678.2 562.05 679.18 562.13C680.15 562.22 680.84 562.41 681.67 562.47C682.5 562.52 683.75 562.47 684.17 562.47" stroke="#222" stroke-width="1.15"/>
<path d="M39 571.62C40.99 571.62 48.7 571.9 50.98 571.62C53.25 571.34 51.95 570.79 52.64 569.96C53.34 569.12 54.45 567.46 55.14 566.63C55.83 565.8 56.25 565.66 56.8 564.96C57.36 564.27 57.77 562.88 58.47 562.47C59.16 562.05 60.13 562.33 60.96 562.47C61.8 562.61 62.77 562.74 63.46 563.3C64.15 563.85 64.57 565.8 65.12 565.8C65.68 565.8 66.09 563.99 66.79 563.3C67.48 562.61 68.45 561.86 69.28 561.64C70.12 561.41 70.95 561.97 71.78 561.97C72.61 561.97 73.58 562.11 74.28 561.64C74.97 561.16 75.39 558.31 75.94 559.14C76.5 559.97 77.16 561.5 77.61 566.63C78.05 571.76 78.19 585.21 78.6 589.93C79.02 594.64 79.44 594.09 80.1 594.92C80.77 595.75 81.91 596.03 82.6 594.92C83.29 593.81 83.79 592.42 84.26 588.26C84.73 584.1 85.07 574.67 85.43 569.96C85.79 565.24 86.07 562.05 86.43 559.97C86.79 557.89 87.12 557.53 87.59 557.47C88.06 557.42 88.56 559.5 89.26 559.64C89.95 559.78 90.92 558.31 91.75 558.31C92.58 558.31 93.42 559.36 94.25 559.64C95.08 559.92 95.91 560.14 96.74 559.97C97.58 559.8 98.27 558.92 99.24 558.64C100.21 558.36 101.46 558.22 102.57 558.31C103.68 558.39 104.79 558.72 105.9 559.14C107.01 559.55 108.26 560.11 109.23 560.8C110.2 561.5 110.75 562.74 111.72 563.3C112.69 563.85 114.08 563.3 115.05 564.13C116.02 564.96 116.91 565.1 117.55 568.29C118.19 571.48 118.44 578.83 118.88 583.27C119.32 587.71 119.6 592.62 120.21 594.92C120.82 597.22 121.6 596.94 122.54 597.08C123.48 597.22 124.9 596.25 125.87 595.75C126.84 595.25 127.67 595.34 128.36 594.09C129.06 592.84 129.56 591.73 130.03 588.26C130.5 584.8 130.78 577.58 131.19 573.28C131.61 568.99 131.89 564.63 132.53 562.47C133.16 560.3 134.19 560.66 135.02 560.3C135.85 559.94 136.69 560.41 137.52 560.3C138.35 560.19 139.18 560.11 140.01 559.64C140.85 559.17 141.68 557.97 142.51 557.47C143.34 556.98 144.43 556.64 145.01 556.64C145.59 556.64 145.42 556.78 146 557.47C146.58 558.17 147.66 559.83 148.5 560.8C149.33 561.77 150.16 562.61 150.99 563.3C151.82 563.99 152.66 564.55 153.49 564.96C154.32 565.38 155.15 565.1 155.99 565.8C156.82 566.49 157.79 567.88 158.48 569.12C159.18 570.37 159.59 570.37 160.15 573.28C160.7 576.2 161.26 583.13 161.81 586.6C162.36 590.07 162.92 592.7 163.47 594.09C164.03 595.47 164.5 595 165.14 594.92C165.78 594.84 166.61 595.81 167.3 593.59C168 591.37 168.69 584.99 169.3 581.61C169.91 578.22 170.41 575.36 170.96 573.28C171.52 571.2 171.93 570.79 172.63 569.12C173.32 567.46 174.29 564.27 175.12 563.3C175.96 562.33 176.79 563.58 177.62 563.3C178.45 563.02 179.28 562.74 180.12 561.64C180.95 560.53 181.78 557.61 182.61 556.64C183.45 555.67 184.42 556.78 185.11 555.81C185.8 554.84 186.08 551.73 186.77 550.82C187.47 549.9 188.44 550.24 189.27 550.32C190.1 550.4 191.07 550.54 191.77 551.32C192.46 552.09 192.88 553.4 193.43 554.98C193.99 556.56 194.54 559.42 195.09 560.8C195.65 562.19 196.07 563.02 196.76 563.3C197.45 563.58 198.42 562.05 199.26 562.47C200.09 562.88 201.06 564.27 201.75 565.8C202.45 567.32 202.86 569.26 203.42 571.62C203.97 573.98 204.53 577.58 205.08 579.94C205.64 582.3 206.19 584.1 206.74 585.77C207.3 587.43 207.77 589.09 208.41 589.93C209.05 590.76 210.02 591.59 210.57 590.76C211.13 589.93 211.27 586.88 211.74 584.93C212.21 582.99 212.85 580.64 213.4 579.11C213.96 577.58 214.51 577.58 215.07 575.78C215.62 573.98 216.18 570.79 216.73 568.29C217.28 565.8 217.84 562.41 218.39 560.8C218.95 559.19 219.36 558.78 220.06 558.64C220.75 558.5 221.81 559.61 222.55 559.97C223.3 560.33 224 561.22 224.55 560.8C225.11 560.39 225.38 558.17 225.88 557.47C226.38 556.78 227.1 555.39 227.55 556.64C227.99 557.89 228.21 561.08 228.55 564.96C228.88 568.85 229.16 576.11 229.54 579.94C229.93 583.77 230.38 586.49 230.88 587.93C231.38 589.37 232.04 589.65 232.54 588.6C233.04 587.54 233.37 584.44 233.87 581.61C234.37 578.78 234.98 573.7 235.54 571.62C236.09 569.54 236.65 570.23 237.2 569.12C237.75 568.01 238.31 566.35 238.86 564.96C239.42 563.58 239.92 561.64 240.53 560.8C241.14 559.97 241.86 559.83 242.53 559.97C243.19 560.11 243.97 560.25 244.52 561.64C245.08 563.02 245.44 565.24 245.85 568.29C246.27 571.34 246.6 576.06 247.02 579.94C247.44 583.82 247.85 588.82 248.35 591.59C248.85 594.36 249.32 595.61 250.01 596.58C250.71 597.55 251.76 597.55 252.51 597.42C253.26 597.28 253.93 597 254.51 595.75C255.09 594.5 255.53 592.56 256 589.93C256.47 587.29 256.92 583.82 257.33 579.94C257.75 576.06 258.11 569.68 258.5 566.63C258.88 563.58 259.11 562.61 259.66 561.64C260.22 560.66 261.05 560.8 261.82 560.8C262.6 560.8 263.57 562.05 264.32 561.64C265.07 561.22 265.62 559.28 266.32 558.31C267.01 557.34 267.93 555.53 268.48 555.81C269.04 556.09 269.29 556.5 269.65 559.97C270.01 563.44 270.28 572.18 270.65 576.61C271.01 581.05 271.39 584.66 271.81 586.6C272.23 588.54 272.67 588.82 273.14 588.26C273.61 587.71 274.17 584.93 274.64 583.27C275.11 581.61 275.53 581.05 275.97 578.28C276.41 575.5 276.8 569.26 277.3 566.63C277.8 563.99 278.36 563.02 278.97 562.47C279.58 561.91 280.08 563.38 280.96 563.3C281.85 563.22 283.18 562.11 284.29 561.97C285.4 561.83 286.65 562.25 287.62 562.47C288.59 562.69 289.51 562.05 290.12 563.3C290.73 564.55 290.87 569.68 291.28 569.96C291.7 570.23 292.06 566.49 292.61 564.96C293.17 563.44 293.92 561.36 294.61 560.8C295.3 560.25 296 561.64 296.77 561.64C297.55 561.64 298.44 561.08 299.27 560.8C300.1 560.53 301.07 560.39 301.77 559.97C302.46 559.55 302.88 558.03 303.43 558.31C303.99 558.58 304.4 561.08 305.09 561.64C305.79 562.19 306.76 561.5 307.59 561.64C308.42 561.77 309.31 561.91 310.09 562.47C310.86 563.02 311.7 562.88 312.25 564.96C312.81 567.04 313.03 571.07 313.42 574.95C313.8 578.83 314.16 584.52 314.58 588.26C315 592.01 315.36 595.53 315.91 597.42C316.47 599.3 317.13 599.3 317.91 599.58C318.69 599.86 319.85 600 320.57 599.08C321.29 598.16 321.74 596.17 322.24 594.09C322.74 592.01 323.12 589.23 323.57 586.6C324.01 583.96 324.46 581.33 324.9 578.28C325.34 575.23 325.73 570.93 326.23 568.29C326.73 565.66 327.26 563.3 327.89 562.47C328.53 561.64 329.42 563.44 330.06 563.3C330.7 563.16 331.25 560.53 331.72 561.64C332.19 562.74 332.42 569.4 332.89 569.96C333.36 570.51 334.05 565.24 334.55 564.96C335.05 564.69 335.49 565.24 335.88 568.29C336.27 571.34 336.47 579.94 336.88 583.27C337.3 586.6 337.71 587.29 338.38 588.26C339.05 589.23 340.18 589.37 340.88 589.09C341.57 588.82 342.04 587.43 342.54 586.6C343.04 585.77 343.46 586.32 343.87 584.1C344.29 581.88 344.56 575.64 345.04 573.28C345.51 570.93 346.01 570.65 346.7 569.96C347.39 569.26 348.36 569.18 349.2 569.12C350.03 569.07 351 568.93 351.69 569.62C352.39 570.32 352.86 570.73 353.36 573.28C353.86 575.84 354.22 581.33 354.69 584.93C355.16 588.54 355.58 592.65 356.19 594.92C356.8 597.19 357.57 597.89 358.35 598.58C359.13 599.27 360.15 599.55 360.85 599.08C361.54 598.61 362.01 598.11 362.51 595.75C363.01 593.39 363.4 588.4 363.84 584.93C364.29 581.47 364.81 577.72 365.17 574.95C365.53 572.18 365.45 569.96 366 568.29C366.55 566.63 367.66 565.8 368.5 564.96C369.33 564.13 370.16 563.85 370.99 563.3C371.82 562.74 372.8 561.97 373.49 561.64C374.18 561.3 374.68 560.19 375.15 561.3C375.62 562.41 375.96 566.16 376.32 568.29C376.68 570.43 376.87 573.84 377.32 574.12C377.76 574.39 378.23 570.51 378.98 569.96C379.73 569.4 380.92 570.51 381.81 570.79C382.7 571.07 383.47 572.18 384.31 571.62C385.14 571.07 385.97 568.43 386.8 567.46C387.64 566.49 388.38 566.07 389.3 565.8C390.21 565.52 391.52 564.55 392.29 565.8C393.07 567.04 393.4 570.09 393.96 573.28C394.51 576.47 395.07 581.88 395.62 584.93C396.18 587.99 396.54 590.15 397.29 591.59C398.04 593.03 399.09 593.26 400.12 593.59C401.14 593.92 402.47 593.7 403.45 593.59C404.42 593.48 405.25 593.67 405.94 592.92C406.64 592.17 407.05 591.26 407.61 589.09C408.16 586.93 408.72 582.85 409.27 579.94C409.82 577.03 410.38 574.26 410.93 571.62C411.49 568.99 411.99 565.93 412.6 564.13C413.21 562.33 413.82 561.5 414.6 560.8C415.37 560.11 416.48 559.97 417.26 559.97C418.04 559.97 418.65 559.42 419.26 560.8C419.87 562.19 420.36 565.1 420.92 568.29C421.47 571.48 422.03 576.61 422.58 579.94C423.14 583.27 423.64 586.32 424.25 588.26C424.86 590.2 425.47 591.09 426.25 591.59C427.02 592.09 428.08 591.81 428.91 591.26C429.74 590.7 430.63 590.7 431.24 588.26C431.85 585.82 432.07 580.5 432.57 576.61C433.07 572.73 433.68 567.6 434.23 564.96C434.79 562.33 435.2 561.08 435.9 560.8C436.59 560.53 437.56 562.83 438.39 563.3C439.23 563.77 440.25 562.8 440.89 563.63C441.53 564.46 441.72 565.57 442.22 568.29C442.72 571.01 443.33 576.2 443.89 579.94C444.44 583.69 445 588.4 445.55 590.76C446.11 593.12 446.47 593.62 447.21 594.09C447.96 594.56 449.16 593.59 450.04 593.59C450.93 593.59 451.71 594.42 452.54 594.09C453.37 593.75 454.43 593.95 455.04 591.59C455.65 589.23 455.79 583.82 456.2 579.94C456.62 576.06 457.03 571.34 457.53 568.29C458.03 565.24 458.5 562.88 459.2 561.64C459.89 560.39 460.86 561.08 461.69 560.8C462.53 560.53 463.5 561.08 464.19 559.97C464.88 558.86 465.3 555.39 465.85 554.15C466.41 552.9 466.96 551.79 467.52 552.48C468.07 553.18 468.68 555.39 469.18 558.31C469.68 561.22 470.1 565.24 470.51 569.96C470.93 574.67 471.21 583.96 471.68 586.6C472.15 589.23 472.87 588.54 473.34 585.77C473.81 582.99 474.15 573.98 474.51 569.96C474.87 565.93 475.26 563.3 475.51 561.64C475.76 559.97 475.5 560.3 476 559.97C476.5 559.64 477.66 559.58 478.5 559.64C479.33 559.69 480.16 559.69 480.99 560.3C481.82 560.91 482.8 563.08 483.49 563.3C484.18 563.52 484.74 559.97 485.15 561.64C485.57 563.3 485.68 569.12 485.99 573.28C486.29 577.45 486.57 583.88 486.98 586.6C487.4 589.32 487.82 589.18 488.48 589.59C489.15 590.01 490.28 590.01 490.98 589.09C491.67 588.18 492.09 586.18 492.64 584.1C493.2 582.02 493.75 579.25 494.31 576.61C494.86 573.98 495.42 570.51 495.97 568.29C496.53 566.07 496.94 563.99 497.64 563.3C498.33 562.61 499.3 564.27 500.13 564.13C500.96 563.99 501.88 562.74 502.63 562.47C503.38 562.19 504.01 561.22 504.62 562.47C505.24 563.72 505.73 566.77 506.29 569.96C506.84 573.15 507.45 578.69 507.95 581.61C508.45 584.52 508.73 586.32 509.28 587.43C509.84 588.54 510.51 588.35 511.28 588.26C512.06 588.18 513.17 587.21 513.94 586.93C514.72 586.65 515.33 586.93 515.94 586.6C516.55 586.27 517.11 586.88 517.61 584.93C518.11 582.99 518.44 578.28 518.94 574.95C519.44 571.62 519.99 567.32 520.6 564.96C521.21 562.61 521.85 561.64 522.6 560.8C523.35 559.97 524.26 559.83 525.09 559.97C525.93 560.11 526.76 561.5 527.59 561.64C528.42 561.77 529.39 562.33 530.09 560.8C530.78 559.28 531.2 554.7 531.75 552.48C532.31 550.26 532.78 548.04 533.42 547.49C534.05 546.93 534.89 549.01 535.58 549.15C536.27 549.29 536.97 547.77 537.58 548.32C538.19 548.88 538.63 550.82 539.24 552.48C539.85 554.15 540.54 556.78 541.24 558.31C541.93 559.83 542.68 560.86 543.4 561.64C544.12 562.41 544.82 562.41 545.56 562.97C546.31 563.52 547.15 564.21 547.89 564.96C548.64 565.71 549.34 566.63 550.06 567.46C550.78 568.29 551.47 569.96 552.22 569.96C552.97 569.96 553.72 568.29 554.55 567.46C555.38 566.63 556.38 565.66 557.21 564.96C558.05 564.27 558.71 563.72 559.54 563.3C560.38 562.88 561.38 562.25 562.21 562.47C563.04 562.69 563.71 564.21 564.54 564.63C565.37 565.05 566.37 564.77 567.2 564.96C568.03 565.16 568.98 565.57 569.53 565.8C570.08 566.02 570.28 566.43 570.53 566.29C570.77 566.16 570.64 564.96 571 564.96C571.36 564.96 572.11 565.74 572.66 566.29C573.22 566.85 573.83 565.74 574.33 568.29C574.83 570.84 575.24 577.72 575.66 581.61C576.08 585.49 576.35 589.79 576.82 591.59C577.3 593.39 577.93 594.64 578.49 592.42C579.04 590.2 579.68 582.58 580.15 578.28C580.62 573.98 580.85 569.4 581.32 566.63C581.79 563.85 582.26 562.69 582.98 561.64C583.7 560.58 584.73 560.58 585.65 560.3C586.56 560.03 587.64 560.16 588.47 559.97C589.31 559.78 590 559.42 590.64 559.14C591.28 558.86 591.83 556.78 592.3 558.31C592.77 559.83 593.08 564.41 593.47 568.29C593.86 572.18 594.16 577.45 594.63 581.61C595.1 585.77 595.74 590.48 596.3 593.26C596.85 596.03 597.32 597.28 597.96 598.25C598.6 599.22 599.35 599.08 600.12 599.08C600.9 599.08 602.01 599.77 602.62 598.25C603.23 596.72 603.4 593.81 603.79 589.93C604.17 586.04 604.53 579.53 604.95 574.95C605.37 570.37 605.78 564.13 606.28 562.47C606.78 560.8 607.31 564.55 607.95 564.96C608.58 565.38 609.47 564.55 610.11 564.96C610.75 565.38 611.19 566.35 611.77 567.46C612.36 568.57 613.05 570.23 613.6 571.62C614.16 573.01 614.66 573.84 615.1 575.78C615.55 577.72 615.85 581.19 616.27 583.27C616.68 585.35 617.1 587.38 617.6 588.26C618.1 589.15 618.76 589.15 619.26 588.6C619.76 588.04 620.15 587.21 620.59 584.93C621.04 582.66 621.43 577.03 621.93 574.95C622.42 572.87 623.04 573.84 623.59 572.45C624.14 571.07 624.7 568.15 625.25 566.63C625.81 565.1 626.25 563.99 626.92 563.3C627.58 562.61 628.44 562.8 629.25 562.47C630.05 562.13 630.91 561.16 631.74 561.3C632.58 561.44 633.41 563.38 634.24 563.3C635.07 563.22 636.04 561.77 636.74 560.8C637.43 559.83 637.71 557.84 638.4 557.47C639.09 557.11 640.07 558.64 640.9 558.64C641.73 558.64 642.56 556.98 643.39 557.47C644.23 557.97 645.06 560.72 645.89 561.64C646.72 562.55 647.55 563.02 648.39 562.97C649.22 562.91 650.05 561.52 650.88 561.3C651.72 561.08 652.55 561.72 653.38 561.64C654.21 561.55 655.18 560.8 655.88 560.8C656.57 560.8 656.99 560.94 657.54 561.64C658.09 562.33 658.65 564.13 659.2 564.96C659.76 565.8 660.26 566.63 660.87 566.63C661.48 566.63 662.26 565.1 662.87 564.96C663.48 564.82 663.98 566.21 664.53 565.8C665.08 565.38 665.56 563.16 666.19 562.47C666.83 561.77 667.72 561.55 668.36 561.64C669 561.72 669.33 563.11 670.02 562.97C670.72 562.83 671.69 560.75 672.52 560.8C673.35 560.86 674.18 562.94 675.01 563.3C675.85 563.66 676.68 562.91 677.51 562.97C678.34 563.02 679.18 563.58 680.01 563.63C680.84 563.69 681.81 563.22 682.5 563.3C683.2 563.38 683.89 563.99 684.17 564.13" stroke="#2ca02c" stroke-width="1.08" stroke-dasharray="2.8 1.3"/>
</g>
<rect x="38.8" y="544.4" width="645.4" height="58.4" fill="none" stroke="#8a8a8a" stroke-width="1.3"/>
<line x1="36.6" y1="551.4" x2="38.8" y2="551.4" stroke="#555" stroke-width="0.7"/>
<text x="35.2" y="553.6" font-family='"DejaVu Sans", "Liberation Sans", sans-serif' font-size="6.1" text-anchor="end" fill="#111">0</text>
<line x1="36.6" y1="563.4" x2="38.8" y2="563.4" stroke="#555" stroke-width="0.7"/>
<text x="35.2" y="565.6" font-family='"DejaVu Sans", "Liberation Sans", sans-serif' font-size="6.1" text-anchor="end" fill="#111">−20</text>
<line x1="36.6" y1="575.4" x2="38.8" y2="575.4" stroke="#555" stroke-width="0.7"/>
<text x="35.2" y="577.6" font-family='"DejaVu Sans", "Liberation Sans", sans-serif' font-size="6.1" text-anchor="end" fill="#111">−40</text>
<line x1="36.6" y1="587.4" x2="38.8" y2="587.4" stroke="#555" stroke-width="0.7"/>
<text x="35.2" y="589.6" font-family='"DejaVu Sans", "Liberation Sans", sans-serif' font-size="6.1" text-anchor="end" fill="#111">−60</text>
<line x1="36.6" y1="599.4" x2="38.8" y2="599.4" stroke="#555" stroke-width="0.7"/>
<text x="35.2" y="601.6" font-family='"DejaVu Sans", "Liberation Sans", sans-serif' font-size="6.1" text-anchor="end" fill="#111">−80</text>
<line x1="38.9" y1="602.8" x2="38.9" y2="605" stroke="#555" stroke-width="0.7"/>
<text x="38.9" y="611.5" font-family='"DejaVu Sans", "Liberation Sans", sans-serif' font-size="6.1" text-anchor="middle" fill="#111">0</text>
<line x1="134.72" y1="602.8" x2="134.72" y2="605" stroke="#555" stroke-width="0.7"/>
<text x="134.72" y="611.5" font-family='"DejaVu Sans", "Liberation Sans", sans-serif' font-size="6.1" text-anchor="middle" fill="#111">20</text>
<line x1="230.54" y1="602.8" x2="230.54" y2="605" stroke="#555" stroke-width="0.7"/>
<text x="230.54" y="611.5" font-family='"DejaVu Sans", "Liberation Sans", sans-serif' font-size="6.1" text-anchor="middle" fill="#111">40</text>
<line x1="326.36" y1="602.8" x2="326.36" y2="605" stroke="#555" stroke-width="0.7"/>
<text x="326.36" y="611.5" font-family='"DejaVu Sans", "Liberation Sans", sans-serif' font-size="6.1" text-anchor="middle" fill="#111">60</text>
<line x1="422.18" y1="602.8" x2="422.18" y2="605" stroke="#555" stroke-width="0.7"/>
<text x="422.18" y="611.5" font-family='"DejaVu Sans", "Liberation Sans", sans-serif' font-size="6.1" text-anchor="middle" fill="#111">80</text>
<line x1="518" y1="602.8" x2="518" y2="605" stroke="#555" stroke-width="0.7"/>
<text x="518" y="611.5" font-family='"DejaVu Sans", "Liberation Sans", sans-serif' font-size="6.1" text-anchor="middle" fill="#111">100</text>
<line x1="613.82" y1="602.8" x2="613.82" y2="605" stroke="#555" stroke-width="0.7"/>
<text x="613.82" y="611.5" font-family='"DejaVu Sans", "Liberation Sans", sans-serif' font-size="6.1" text-anchor="middle" fill="#111">120</text>
<text x="11.7" y="574" font-family='"DejaVu Sans", "Liberation Sans", sans-serif' font-size="7" text-anchor="middle" fill="#111" transform="rotate(-90 11.7 574)">Open-Close</text>
<text x="19.1" y="572.8" font-family='"DejaVu Sans", "Liberation Sans", sans-serif' font-size="7" text-anchor="middle" fill="#111" transform="rotate(-90 19.1 572.8)">Degrees</text>
<line x1="40.9" y1="538.25" x2="53.1" y2="538.25" stroke="#222" stroke-width="1.25"/>
<text x="57" y="540.3" font-family='"DejaVu Sans", "Liberation Sans", sans-serif' font-size="5.75" text-anchor="start" fill="#111">Ground Truth</text>
<line x1="259.6" y1="538.25" x2="272.2" y2="538.25" stroke="#bcbd22" stroke-width="1.08" stroke-dasharray="2.8 1.3"/>
<text x="276.6" y="540.3" font-family='"DejaVu Sans", "Liberation Sans", sans-serif' font-size="5.85" text-anchor="start" fill="#111">1 Participant no Reference <tspan font-style="italic">R</tspan><tspan font-size="4" dy="-2.2">2</tspan><tspan dy="2.2"> = -2.18</tspan></text>
<line x1="549.8" y1="538.25" x2="562.4" y2="538.25" stroke="#2ca02c" stroke-width="1.08" stroke-dasharray="2.8 1.3"/>
<text x="566.8" y="540.3" font-family='"DejaVu Sans", "Liberation Sans", sans-serif' font-size="5.85" text-anchor="start" fill="#111">9 Participants with Reference <tspan font-style="italic">R</tspan><tspan font-size="4" dy="-2.2">2</tspan><tspan dy="2.2"> = 0.88</tspan></text>
<text x="-1" y="525.2" font-family='"Liberation Sans", sans-serif' font-size="21.5" text-anchor="start" fill="#000" font-weight="bold">e</text>
</g><g>
<clipPath id="clipf"><rect x="38.8" y="630.6" width="645.4" height="65.7"/></clipPath>
<rect x="38.8" y="618.7" width="645.4" height="11.9" rx="1" fill="#fff" stroke="#d9d9d9" stroke-width="0.8"/>
<rect x="38.8" y="630.6" width="645.4" height="65.7" fill="#eae1f2"/>
<g clip-path="url(#clipf)" fill="none" stroke-linejoin="round">
<path d="M38.5 660.45C38.91 660.54 40.16 661.15 40.99 660.95C41.82 660.76 42.66 659.37 43.49 659.29C44.32 659.2 45.01 659.98 45.99 660.45C46.96 660.92 48.2 661.76 49.31 662.12C50.42 662.48 51.53 662.53 52.64 662.62C53.75 662.7 54.72 662.56 55.97 662.62C57.22 662.67 58.88 662.95 60.13 662.95C61.38 662.95 62.49 663.31 63.46 662.62C64.43 661.92 65.12 660.12 65.96 658.79C66.79 657.46 67.68 655.88 68.45 654.63C69.23 653.38 69.98 652.96 70.62 651.3C71.25 649.64 71.73 645.81 72.28 644.64C72.84 643.48 73.33 643.34 73.94 644.31C74.55 645.28 75.28 650 75.94 650.47C76.61 650.94 77.33 648.11 77.94 647.14C78.55 646.17 78.96 644.78 79.6 644.64C80.24 644.5 80.99 645.61 81.77 646.31C82.54 647 83.43 648.25 84.26 648.8C85.09 649.36 85.93 649.55 86.76 649.64C87.59 649.72 88.42 649.41 89.26 649.3C90.09 649.19 91.06 648.36 91.75 648.97C92.45 649.58 92.78 651.69 93.42 652.96C94.05 654.24 94.94 656.9 95.58 656.62C96.22 656.35 96.69 652.38 97.24 651.3C97.8 650.22 98.24 650 98.91 650.13C99.57 650.27 100.35 651.6 101.24 652.13C102.13 652.66 103.18 653.02 104.23 653.3C105.29 653.57 106.18 653.68 107.56 653.8C108.95 653.91 110.89 653.91 112.55 653.96C114.22 654.02 116.16 654.07 117.55 654.13C118.93 654.18 119.91 654.49 120.88 654.29C121.85 654.1 122.6 653.88 123.37 652.96C124.15 652.05 124.79 650.33 125.54 648.8C126.28 647.28 127.03 645 127.87 643.81C128.7 642.62 129.75 641.84 130.53 641.65C131.31 641.45 131.86 641.87 132.53 642.65C133.19 643.42 133.97 644.59 134.52 646.31C135.08 648.03 135.41 649.91 135.85 652.96C136.3 656.01 136.74 661.15 137.19 664.61C137.63 668.08 138.05 671.55 138.52 673.77C138.99 675.99 139.35 677.18 140.01 677.93C140.68 678.68 141.82 678.54 142.51 678.26C143.2 677.98 143.68 678.26 144.18 676.26C144.67 674.27 145.2 669.74 145.51 666.28C145.81 662.81 145.64 657.54 146 655.46C146.36 653.38 146.97 654.21 147.66 653.8C148.36 653.38 149.19 653.24 150.16 652.96C151.13 652.69 152.38 652.21 153.49 652.13C154.6 652.05 155.71 652.19 156.82 652.46C157.93 652.74 159.04 653.38 160.15 653.8C161.26 654.21 162.36 654.68 163.47 654.96C164.58 655.24 165.55 655.29 166.8 655.46C168.05 655.63 169.94 656.38 170.96 655.96C171.99 655.54 172.35 654.43 172.96 652.96C173.57 651.49 174.07 648.66 174.62 647.14C175.18 645.61 175.65 644.56 176.29 643.81C176.93 643.06 177.68 642.73 178.45 642.65C179.23 642.56 180.12 643.03 180.95 643.31C181.78 643.59 182.67 643.67 183.45 644.31C184.22 644.95 185.05 644.86 185.61 647.14C186.16 649.41 186.39 653.93 186.77 657.96C187.16 661.98 187.47 667.66 187.94 671.27C188.41 674.88 188.96 677.51 189.6 679.59C190.24 681.67 190.99 682.92 191.77 683.75C192.54 684.58 193.43 684.86 194.26 684.58C195.09 684.31 196.07 684.31 196.76 682.09C197.45 679.87 197.95 674.74 198.42 671.27C198.89 667.8 199.17 663.5 199.59 661.28C200 659.07 200.28 659.07 200.92 657.96C201.56 656.85 202.58 655.52 203.42 654.63C204.25 653.74 204.94 652.99 205.91 652.63C206.88 652.27 208.13 652.35 209.24 652.46C210.35 652.58 211.18 653.05 212.57 653.3C213.96 653.55 215.9 653.82 217.56 653.96C219.23 654.1 220.89 654.1 222.55 654.13C224.22 654.16 226.44 654.6 227.55 654.13C228.66 653.66 228.66 652.46 229.21 651.3C229.77 650.13 230.27 648.39 230.88 647.14C231.49 645.89 232.18 644.78 232.87 643.81C233.57 642.84 234.32 641.87 235.04 641.31C235.76 640.76 236.51 640.54 237.2 640.48C237.89 640.43 238.53 640.56 239.2 640.98C239.86 641.4 240.58 641.95 241.19 642.98C241.8 644 242.36 645.2 242.86 647.14C243.36 649.08 243.8 651.44 244.19 654.63C244.58 657.82 244.8 662.39 245.19 666.28C245.58 670.16 245.99 674.88 246.52 677.93C247.05 680.98 247.68 683.2 248.35 684.58C249.02 685.97 249.76 686.11 250.51 686.25C251.26 686.39 252.18 686.53 252.84 685.42C253.51 684.31 254.06 681.67 254.51 679.59C254.95 677.51 255.26 675.15 255.51 672.93C255.76 670.72 255.7 668.91 256 666.28C256.3 663.64 256.92 659.76 257.33 657.12C257.75 654.49 258.02 650.88 258.5 650.47C258.97 650.05 259.47 653.38 260.16 654.63C260.85 655.88 261.82 656.99 262.66 657.96C263.49 658.93 264.32 659.95 265.15 660.45C265.99 660.95 266.82 661.23 267.65 660.95C268.48 660.67 269.31 659.01 270.15 658.79C270.98 658.57 271.81 659.34 272.64 659.62C273.47 659.9 274.53 658.51 275.14 660.45C275.75 662.39 275.83 667.53 276.3 671.27C276.78 675.01 277.33 680.37 277.97 682.92C278.61 685.47 279.35 686.03 280.13 686.58C280.91 687.14 281.71 686.58 282.63 686.25C283.54 685.92 284.85 686.25 285.62 684.58C286.4 682.92 286.73 678.43 287.29 676.26C287.84 674.1 288.4 671.6 288.95 671.6C289.51 671.6 289.95 675.21 290.62 676.26C291.28 677.32 292.28 678.2 292.95 677.93C293.61 677.65 294.11 676.82 294.61 674.6C295.11 672.38 295.44 667.53 295.94 664.61C296.44 661.7 297 657.96 297.61 657.12C298.22 656.29 298.83 659.07 299.6 659.62C300.38 660.18 301.43 660.87 302.27 660.45C303.1 660.04 303.76 658.15 304.6 657.12C305.43 656.1 306.34 654.85 307.26 654.29C308.17 653.74 309.06 653.88 310.09 653.8C311.11 653.71 312.39 653.66 313.42 653.8C314.44 653.93 315.33 654.77 316.25 654.63C317.16 654.49 317.99 653.3 318.91 652.96C319.82 652.63 320.85 652.49 321.74 652.63C322.62 652.77 323.4 652.91 324.23 653.8C325.07 654.68 325.95 657.82 326.73 657.96C327.51 658.09 328.14 655.52 328.89 654.63C329.64 653.74 330.47 652.35 331.22 652.63C331.97 652.91 332.61 655.54 333.39 656.29C334.16 657.04 335.25 656.29 335.88 657.12C336.52 657.96 336.8 659.2 337.21 661.28C337.63 663.36 337.82 667.25 338.38 669.61C338.93 671.96 339.79 674.32 340.54 675.43C341.29 676.54 342.12 676.96 342.87 676.26C343.62 675.57 344.4 673.07 345.04 671.27C345.67 669.47 346.06 667.39 346.7 665.45C347.34 663.5 348.12 660.87 348.86 659.62C349.61 658.37 350.45 658.46 351.19 657.96C351.94 657.46 352.64 656.9 353.36 656.62C354.08 656.35 354.88 655.52 355.52 656.29C356.16 657.07 356.58 660.04 357.19 661.28C357.8 662.53 358.29 663.17 359.18 663.78C360.07 664.39 361.46 664.75 362.51 664.95C363.56 665.14 364.93 664.95 365.51 664.95C366.09 664.95 365.36 665 366 664.95C366.64 664.89 368.22 664.81 369.33 664.61C370.44 664.42 371.77 664.47 372.66 663.78C373.54 663.09 374.04 661.98 374.65 660.45C375.26 658.93 375.76 656.43 376.32 654.63C376.87 652.82 377.43 651.16 377.98 649.64C378.54 648.11 379.01 646.45 379.65 645.47C380.28 644.5 381.03 644.23 381.81 643.81C382.59 643.39 383.47 643.06 384.31 642.98C385.14 642.89 385.97 643.17 386.8 643.31C387.64 643.45 388.47 643.59 389.3 643.81C390.13 644.03 391.1 643.95 391.8 644.64C392.49 645.34 392.99 646.31 393.46 647.97C393.93 649.64 394.21 652.55 394.62 654.63C395.04 656.71 395.54 659.2 395.96 660.45C396.37 661.7 396.71 662.95 397.12 662.12C397.54 661.28 397.95 657.54 398.45 655.46C398.95 653.38 399.56 651.22 400.12 649.64C400.67 648.05 401.23 645.97 401.78 645.97C402.34 645.97 402.89 648.61 403.45 649.64C404 650.66 404.42 651.58 405.11 652.13C405.8 652.69 406.64 652.69 407.61 652.96C408.58 653.24 409.69 653.6 410.93 653.8C412.18 653.99 413.71 654.13 415.09 654.13C416.48 654.13 417.87 653.71 419.26 653.8C420.64 653.88 422.03 654.35 423.42 654.63C424.8 654.91 426.47 655.46 427.58 655.46C428.69 655.46 429.38 655.32 430.07 654.63C430.77 653.93 431.18 652.55 431.74 651.3C432.29 650.05 432.85 648.25 433.4 647.14C433.96 646.03 434.59 644.78 435.07 644.64C435.54 644.5 435.81 644.92 436.23 646.31C436.65 647.69 437.06 650.88 437.56 652.96C438.06 655.04 438.62 657.4 439.23 658.79C439.84 660.18 440.53 660.59 441.22 661.28C441.92 661.98 442.75 662.95 443.39 662.95C444.02 662.95 444.58 662.67 445.05 661.28C445.52 659.9 445.8 657.12 446.22 654.63C446.63 652.13 447.05 648.39 447.55 646.31C448.05 644.23 448.6 642.98 449.21 642.15C449.82 641.31 450.52 641.12 451.21 641.31C451.9 641.51 452.65 642.62 453.37 643.31C454.09 644 454.84 644.42 455.54 645.47C456.23 646.53 456.92 647.83 457.53 649.64C458.14 651.44 458.64 654.77 459.2 656.29C459.75 657.82 460.17 658.57 460.86 658.79C461.55 659.01 462.39 657.9 463.36 657.62C464.33 657.35 465.44 657.29 466.69 657.12C467.93 656.96 469.38 656.99 470.85 656.62C472.32 656.26 474.65 655.29 475.51 654.96C476.37 654.63 475.5 654.82 476 654.63C476.5 654.43 477.66 654.02 478.5 653.8C479.33 653.57 480.16 653.35 480.99 653.3C481.82 653.24 482.71 653.1 483.49 653.46C484.27 653.82 485.1 654.16 485.65 655.46C486.21 656.76 486.43 658.93 486.82 661.28C487.21 663.64 487.51 666.97 487.98 669.61C488.45 672.24 489.09 676.26 489.65 677.09C490.2 677.93 490.76 676.12 491.31 674.6C491.87 673.07 492.42 669.74 492.98 667.94C493.53 666.14 494.14 664.61 494.64 663.78C495.14 662.95 495.47 662.39 495.97 662.95C496.47 663.5 497.02 665.86 497.64 667.11C498.25 668.36 499.02 669.52 499.63 670.44C500.24 671.35 500.74 673.02 501.3 672.6C501.85 672.19 502.41 669.41 502.96 667.94C503.52 666.47 504.13 664.75 504.62 663.78C505.12 662.81 505.51 662.12 505.96 662.12C506.4 662.12 506.79 664.34 507.29 663.78C507.79 663.23 508.34 659.81 508.95 658.79C509.56 657.76 510.2 657.71 510.95 657.62C511.7 657.54 512.61 657.82 513.45 658.29C514.28 658.76 515.03 659.95 515.94 660.45C516.86 660.95 517.97 661.15 518.94 661.28C519.91 661.42 520.74 661.51 521.77 661.28C522.79 661.06 523.99 660.29 525.09 659.95C526.2 659.62 527.31 659.2 528.42 659.29C529.53 659.37 530.84 660.4 531.75 660.45C532.67 660.51 533.33 660.87 533.92 659.62C534.5 658.37 534.8 654.96 535.25 652.96C535.69 650.97 536.05 648.75 536.58 647.64C537.11 646.53 537.69 646.31 538.41 646.31C539.13 646.31 540.07 647.5 540.91 647.64C541.74 647.78 542.57 647.31 543.4 647.14C544.23 646.97 545.07 646.5 545.9 646.64C546.73 646.78 547.56 647.33 548.39 647.97C549.23 648.61 550.14 650.41 550.89 650.47C551.64 650.52 552.33 648.58 552.89 648.3C553.44 648.03 553.78 647.61 554.22 648.8C554.66 650 555.11 653.38 555.55 655.46C555.99 657.54 556.41 660.18 556.88 661.28C557.35 662.39 557.85 662.95 558.38 662.12C558.91 661.28 559.49 657.82 560.04 656.29C560.6 654.77 561.01 653.38 561.71 652.96C562.4 652.55 563.37 653.3 564.2 653.8C565.04 654.29 565.65 655.54 566.7 655.96C567.75 656.38 569.81 656.24 570.53 656.29C571.25 656.35 570.37 656.43 571 656.29C571.63 656.15 573.08 655.6 574.33 655.46C575.58 655.32 577.1 655.38 578.49 655.46C579.88 655.54 581.26 655.68 582.65 655.96C584.04 656.24 585.76 657.4 586.81 657.12C587.86 656.85 588.34 654.57 588.97 654.29C589.61 654.02 590.17 654.29 590.64 655.46C591.11 656.62 591.41 659.48 591.8 661.28C592.19 663.09 592.55 665.03 592.97 666.28C593.38 667.53 593.86 669.33 594.3 668.77C594.74 668.22 595.21 664.89 595.63 662.95C596.05 661.01 596.41 657.54 596.8 657.12C597.18 656.71 597.54 660.18 597.96 660.45C598.38 660.73 598.79 659.76 599.29 658.79C599.79 657.82 600.4 655.6 600.96 654.63C601.51 653.66 602.12 653.8 602.62 652.96C603.12 652.13 603.51 650.69 603.95 649.64C604.4 648.58 604.84 647.25 605.28 646.64C605.73 646.03 606.23 645.2 606.61 645.97C607 646.75 607.22 649.02 607.61 651.3C608 653.57 608.53 658.79 608.94 659.62C609.36 660.45 609.72 657.26 610.11 656.29C610.5 655.32 610.86 653.93 611.27 653.8C611.69 653.66 612.16 654.49 612.61 655.46C613.05 656.43 613.52 659.9 613.94 659.62C614.35 659.34 614.63 654.91 615.1 653.8C615.57 652.69 616.13 653.1 616.77 652.96C617.4 652.82 618.29 652.19 618.93 652.96C619.57 653.74 619.98 657.07 620.59 657.62C621.2 658.18 621.93 655.96 622.59 656.29C623.26 656.62 623.89 658.79 624.59 659.62C625.28 660.45 625.98 660.87 626.75 661.28C627.53 661.7 628.14 662.03 629.25 662.12C630.36 662.2 632.02 661.78 633.41 661.78C634.8 661.78 636.04 662.06 637.57 662.12C639.09 662.17 641.23 662.26 642.56 662.12C643.89 661.98 644.84 662.26 645.56 661.28C646.28 660.31 646.5 658.23 646.89 656.29C647.28 654.35 647.5 651.08 647.89 649.64C648.28 648.19 648.78 647.5 649.22 647.64C649.66 647.78 650.11 649.3 650.55 650.47C650.99 651.63 651.44 654.21 651.88 654.63C652.33 655.04 652.82 651.99 653.21 652.96C653.6 653.93 653.82 659.48 654.21 660.45C654.6 661.42 655.04 659.76 655.54 658.79C656.04 657.82 656.6 656.01 657.21 654.63C657.82 653.24 658.46 651.3 659.2 650.47C659.95 649.64 660.87 649.91 661.7 649.64C662.53 649.36 663.45 649.64 664.2 648.8C664.95 647.97 665.5 645.67 666.19 644.64C666.89 643.62 667.64 642.92 668.36 642.65C669.08 642.37 669.88 642.37 670.52 642.98C671.16 643.59 671.63 645.06 672.19 646.31C672.74 647.55 673.29 649.14 673.85 650.47C674.4 651.8 674.9 653.74 675.51 654.29C676.12 654.85 676.76 653.68 677.51 653.8C678.26 653.91 678.84 654.68 680.01 654.96C681.17 655.24 683.75 655.38 684.5 655.46" stroke="#bcbd22" stroke-width="1.08" stroke-dasharray="2.8 1.3"/>
<path d="M38.5 663.78C40.85 663.78 48.34 663.78 52.64 663.78C56.94 663.78 61.93 663.84 64.29 663.78C66.65 663.73 66.09 663.86 66.79 663.45C67.48 663.03 67.9 662.48 68.45 661.28C69.01 660.09 69.56 658.23 70.12 656.29C70.67 654.35 71.23 651.44 71.78 649.64C72.34 647.83 72.89 646.36 73.45 645.47C74 644.59 74.42 644.5 75.11 644.31C75.8 644.12 76.86 643.98 77.61 644.31C78.35 644.64 78.91 645.14 79.6 646.31C80.3 647.47 80.99 649.5 81.77 651.3C82.54 653.1 83.43 655.46 84.26 657.12C85.09 658.79 85.93 660.45 86.76 661.28C87.59 662.12 88.42 661.76 89.26 662.12C90.09 662.48 90.92 663.2 91.75 663.45C92.58 663.7 92.45 663.59 94.25 663.61C96.05 663.64 99.8 663.61 102.57 663.61C105.34 663.61 108.12 663.61 110.89 663.61C113.66 663.61 117.49 663.73 119.21 663.61C120.93 663.5 120.71 663.89 121.21 662.95C121.71 662.01 121.85 660.18 122.21 657.96C122.57 655.74 122.9 652.13 123.37 649.64C123.84 647.14 124.48 644.59 125.04 642.98C125.59 641.37 126.15 640.59 126.7 639.98C127.26 639.37 127.73 639.23 128.36 639.32C129 639.4 129.89 639.59 130.53 640.48C131.17 641.37 131.64 642.56 132.19 644.64C132.75 646.72 133.36 649.64 133.86 652.96C134.36 656.29 134.74 661.01 135.19 664.61C135.63 668.22 136.08 671.69 136.52 674.6C136.96 677.51 137.35 680.15 137.85 682.09C138.35 684.03 138.88 685.42 139.52 686.25C140.15 687.08 141.04 687.36 141.68 687.08C142.32 686.8 142.87 686.11 143.34 684.58C143.81 683.06 144.15 680.42 144.51 677.93C144.87 675.43 145.26 671.82 145.51 669.61C145.76 667.39 145.78 665.86 146 664.61C146.22 663.36 146 662.53 146.83 662.12C147.66 661.7 148.91 662.09 150.99 662.12C153.07 662.14 156.54 662.26 159.31 662.28C162.09 662.31 165.69 662.31 167.64 662.28C169.58 662.26 170.13 662.56 170.96 662.12C171.8 661.67 172.02 660.87 172.63 659.62C173.24 658.37 173.93 656.57 174.62 654.63C175.32 652.69 176.15 649.55 176.79 647.97C177.43 646.39 177.81 645.64 178.45 645.14C179.09 644.64 179.98 644.5 180.62 644.98C181.25 645.45 181.78 646.08 182.28 647.97C182.78 649.86 183.14 652.96 183.61 656.29C184.08 659.62 184.58 664.06 185.11 667.94C185.64 671.82 186.22 676.54 186.77 679.59C187.33 682.64 187.8 684.81 188.44 686.25C189.08 687.69 189.77 687.91 190.6 688.25C191.43 688.58 192.6 688.58 193.43 688.25C194.26 687.91 195.01 687.69 195.59 686.25C196.18 684.81 196.48 682.09 196.93 679.59C197.37 677.09 197.81 673.91 198.26 671.27C198.7 668.64 199.09 665.39 199.59 663.78C200.09 662.17 200.48 661.95 201.25 661.62C202.03 661.28 202.36 661.73 204.25 661.78C206.13 661.84 209.8 661.92 212.57 661.95C215.34 661.98 218.39 661.98 220.89 661.95C223.39 661.92 226.22 662.17 227.55 661.78C228.88 661.4 228.46 660.81 228.88 659.62C229.29 658.43 229.57 656.85 230.04 654.63C230.52 652.41 231.15 648.8 231.71 646.31C232.26 643.81 232.73 641.12 233.37 639.65C234.01 638.18 234.79 637.85 235.54 637.49C236.28 637.13 237.12 637.13 237.87 637.49C238.61 637.85 239.39 638.18 240.03 639.65C240.67 641.12 241.19 643.81 241.69 646.31C242.19 648.8 242.61 651.44 243.02 654.63C243.44 657.82 243.77 661.84 244.19 665.45C244.61 669.05 245.02 673.21 245.52 676.26C246.02 679.31 246.58 681.95 247.19 683.75C247.8 685.55 248.52 686.53 249.18 687.08C249.85 687.64 250.49 687.64 251.18 687.08C251.87 686.53 252.71 685.55 253.34 683.75C253.98 681.95 254.56 678.07 255.01 676.26C255.45 674.46 255.61 674.46 256 672.93C256.39 671.41 256.83 668.72 257.33 667.11C257.83 665.5 258.39 663.98 259 663.28C259.61 662.59 259.83 663 260.99 662.95C262.16 662.89 264.32 662.95 265.99 662.95C267.65 662.95 269.81 662.81 270.98 662.95C272.14 663.09 272.42 662.39 272.98 663.78C273.53 665.17 273.86 668.36 274.31 671.27C274.75 674.18 275.14 678.9 275.64 681.26C276.14 683.61 276.55 684.58 277.3 685.42C278.05 686.25 279.11 686.25 280.13 686.25C281.16 686.25 282.49 685.61 283.46 685.42C284.43 685.22 285.26 684.81 285.96 685.08C286.65 685.36 287.07 686.05 287.62 687.08C288.18 688.11 288.67 690.21 289.28 691.24C289.89 692.27 290.67 693.1 291.28 693.24C291.89 693.38 292.39 693.24 292.95 692.07C293.5 690.91 294.11 689.44 294.61 686.25C295.11 683.06 295.5 676.68 295.94 672.93C296.39 669.19 296.77 665.78 297.27 663.78C297.77 661.78 298.19 661.48 298.94 660.95C299.69 660.42 300.6 660.62 301.77 660.62C302.93 660.62 304.4 660.84 305.93 660.95C307.45 661.06 308.98 661.17 310.92 661.28C312.86 661.4 315.64 661.56 317.58 661.62C319.52 661.67 321.4 661.53 322.57 661.62C323.73 661.7 323.87 661.67 324.57 662.12C325.26 662.56 325.95 663.81 326.73 664.28C327.51 664.75 328.39 664.95 329.23 664.95C330.06 664.95 330.89 664.2 331.72 664.28C332.55 664.36 333.47 664.84 334.22 665.45C334.97 666.06 335.61 666.69 336.22 667.94C336.83 669.19 337.24 671.49 337.88 672.93C338.52 674.38 339.27 675.82 340.04 676.6C340.82 677.37 341.79 677.93 342.54 677.59C343.29 677.26 343.93 676.21 344.54 674.6C345.15 672.99 345.65 669.83 346.2 667.94C346.76 666.06 347.23 664.34 347.87 663.28C348.5 662.23 349.11 661.87 350.03 661.62C350.94 661.37 352.39 661.7 353.36 661.78C354.33 661.87 355.02 661.92 355.85 662.12C356.69 662.31 357.38 662.67 358.35 662.95C359.32 663.23 360.49 663.56 361.68 663.78C362.87 664 364.79 664.2 365.51 664.28C366.23 664.36 364.81 664.31 366 664.28C367.19 664.25 371.13 664.28 372.66 664.11C374.18 663.95 374.38 663.89 375.15 663.28C375.93 662.67 376.68 662.17 377.32 660.45C377.95 658.73 378.43 655.88 378.98 652.96C379.54 650.05 380.09 645.47 380.65 642.98C381.2 640.48 381.75 638.96 382.31 637.99C382.86 637.01 383.36 637.1 383.97 637.15C384.58 637.21 385.22 637.85 385.97 638.32C386.72 638.79 387.64 639.43 388.47 639.98C389.3 640.54 390.13 641.2 390.96 641.65C391.8 642.09 392.63 642.42 393.46 642.65C394.29 642.87 395.12 643.01 395.96 642.98C396.79 642.95 397.76 642.42 398.45 642.48C399.15 642.53 399.56 642.12 400.12 643.31C400.67 644.5 401.23 647.33 401.78 649.64C402.34 651.94 402.89 655.04 403.45 657.12C404 659.2 404.42 661.01 405.11 662.12C405.8 663.23 406.5 663.36 407.61 663.78C408.72 664.2 409.82 664.42 411.77 664.61C413.71 664.81 416.62 664.89 419.26 664.95C421.89 665 425.5 664.95 427.58 664.95C429.66 664.95 430.85 665.28 431.74 664.95C432.62 664.61 432.54 664.39 432.9 662.95C433.26 661.51 433.54 658.37 433.9 656.29C434.26 654.21 434.59 651.72 435.07 650.47C435.54 649.22 436.04 649.08 436.73 648.8C437.42 648.53 438.26 648.89 439.23 648.8C440.2 648.72 441.58 648.44 442.55 648.3C443.53 648.16 444.22 648.16 445.05 647.97C445.88 647.78 446.58 647.19 447.55 647.14C448.52 647.08 450.04 647.36 450.88 647.64C451.71 647.92 451.99 647.78 452.54 648.8C453.09 649.83 453.65 651.99 454.2 653.8C454.76 655.6 455.26 658.04 455.87 659.62C456.48 661.2 457.17 662.45 457.87 663.28C458.56 664.11 458.7 664.34 460.03 664.61C461.36 664.89 463.77 664.86 465.85 664.95C467.93 665.03 470.9 665.06 472.51 665.11C474.12 665.17 474.93 665.25 475.51 665.28C476.09 665.31 474.67 665.28 476 665.28C477.33 665.28 481.96 664.84 483.49 665.28C485.01 665.72 484.6 666.67 485.15 667.94C485.71 669.22 486.18 671.33 486.82 672.93C487.46 674.54 488.34 677.04 488.98 677.59C489.62 678.15 490.09 677.26 490.65 676.26C491.2 675.26 491.75 672.57 492.31 671.6C492.86 670.63 493.42 670.35 493.97 670.44C494.53 670.52 495.08 670.85 495.64 672.1C496.19 673.35 496.69 675.85 497.3 677.93C497.91 680.01 498.69 683.89 499.3 684.58C499.91 685.28 500.41 683.47 500.96 682.09C501.52 680.7 502.02 677.93 502.63 676.26C503.24 674.6 503.93 673.21 504.62 672.1C505.32 670.99 506.01 670.22 506.79 669.61C507.56 669 507.48 668.58 509.28 668.44C511.09 668.3 514.83 668.72 517.61 668.77C520.38 668.83 523.43 668.77 525.93 668.77C528.42 668.77 531.2 669.05 532.58 668.77C533.97 668.5 533.75 669.05 534.25 667.11C534.75 665.17 535.08 659.76 535.58 657.12C536.08 654.49 536.69 652.13 537.24 651.3C537.8 650.47 538.3 651.44 538.91 652.13C539.52 652.82 540.16 654.49 540.91 655.46C541.65 656.43 542.57 657.26 543.4 657.96C544.23 658.65 545.07 658.79 545.9 659.62C546.73 660.45 547.56 662.17 548.39 662.95C549.23 663.73 550.14 664.14 550.89 664.28C551.64 664.42 552.33 664.56 552.89 663.78C553.44 663 553.78 661.01 554.22 659.62C554.66 658.23 555.05 656.15 555.55 655.46C556.05 654.77 556.66 654.91 557.21 655.46C557.77 656.01 558.27 657.82 558.88 658.79C559.49 659.76 559.99 660.59 560.88 661.28C561.76 661.98 562.82 662.62 564.2 662.95C565.59 663.28 568.14 663.23 569.2 663.28C570.25 663.34 570.23 663.28 570.53 663.28C570.83 663.28 569.53 663.25 571 663.28C572.47 663.31 576.55 663.42 579.32 663.45C582.09 663.48 585.92 663.12 587.64 663.45C589.36 663.78 588.95 664.56 589.64 665.45C590.33 666.33 591.08 667.75 591.8 668.77C592.52 669.8 593.27 671.33 593.97 671.6C594.66 671.88 595.21 671.05 595.96 670.44C596.71 669.83 597.63 668.77 598.46 667.94C599.29 667.11 600.12 666.22 600.96 665.45C601.79 664.67 602.68 663.7 603.45 663.28C604.23 662.87 604.92 662.78 605.62 662.95C606.31 663.12 606.86 663.86 607.61 664.28C608.36 664.7 609.28 665.06 610.11 665.45C610.94 665.83 611.86 665.92 612.61 666.61C613.35 667.3 613.91 669.05 614.6 669.61C615.3 670.16 615.99 669.94 616.77 669.94C617.54 669.94 618.43 669.72 619.26 669.61C620.09 669.49 620.98 669.69 621.76 669.27C622.54 668.86 623.09 667.47 623.92 667.11C624.75 666.75 625.03 667.08 626.75 667.11C628.47 667.14 631.88 667.22 634.24 667.28C636.6 667.33 639.09 667.41 640.9 667.44C642.7 667.47 644.09 667.91 645.06 667.44C646.03 666.97 646.25 666.47 646.72 664.61C647.19 662.75 647.47 658.79 647.89 656.29C648.3 653.8 648.72 651.16 649.22 649.64C649.72 648.11 650.19 647.64 650.88 647.14C651.58 646.64 652.55 646.5 653.38 646.64C654.21 646.78 655.04 647.69 655.88 647.97C656.71 648.25 657.54 648.36 658.37 648.3C659.2 648.25 660.04 648.11 660.87 647.64C661.7 647.17 662.53 646.03 663.36 645.47C664.2 644.92 665.03 644.59 665.86 644.31C666.69 644.03 667.58 643.62 668.36 643.81C669.13 644 669.94 644.23 670.52 645.47C671.1 646.72 671.41 648.94 671.85 651.3C672.3 653.66 672.68 657.4 673.18 659.62C673.68 661.84 674.13 663.5 674.85 664.61C675.57 665.72 676.51 665.94 677.51 666.28C678.51 666.61 679.67 666.55 680.84 666.61C682 666.67 683.89 666.61 684.5 666.61" stroke="#222" stroke-width="1.15"/>
<path d="M38.5 664.11C39.74 664.11 43.35 664.09 45.99 664.11C48.62 664.14 51.53 664.28 54.31 664.28C57.08 664.28 60.69 663.92 62.63 664.11C64.57 664.31 64.99 665.5 65.96 665.45C66.93 665.39 67.76 665.03 68.45 663.78C69.15 662.53 69.56 659.76 70.12 657.96C70.67 656.15 71.23 654.49 71.78 652.96C72.34 651.44 72.89 649.97 73.45 648.8C74 647.64 74.42 646.67 75.11 645.97C75.8 645.28 76.86 645 77.61 644.64C78.35 644.28 78.99 643.39 79.6 643.81C80.21 644.23 80.71 645.75 81.27 647.14C81.82 648.53 82.29 650.33 82.93 652.13C83.57 653.93 84.32 656.29 85.09 657.96C85.87 659.62 86.76 661.34 87.59 662.12C88.42 662.89 89.26 662.28 90.09 662.62C90.92 662.95 91.34 663.89 92.58 664.11C93.83 664.34 95.36 663.98 97.58 663.95C99.8 663.92 103.12 663.95 105.9 663.95C108.67 663.95 111.86 663.95 114.22 663.95C116.58 663.95 118.8 664.39 120.04 663.95C121.29 663.5 121.24 662.84 121.71 661.28C122.18 659.73 122.46 656.99 122.87 654.63C123.29 652.27 123.71 649.22 124.2 647.14C124.7 645.06 125.26 643.34 125.87 642.15C126.48 640.95 127.17 640.26 127.87 639.98C128.56 639.71 129.39 639.84 130.03 640.48C130.67 641.12 131.14 642.01 131.69 643.81C132.25 645.61 132.83 648.39 133.36 651.3C133.88 654.21 134.38 657.82 134.86 661.28C135.33 664.75 135.74 669.05 136.19 672.1C136.63 675.15 136.96 677.65 137.52 679.59C138.07 681.53 138.82 682.7 139.52 683.75C140.21 684.81 141.04 685.92 141.68 685.92C142.32 685.92 142.87 685.36 143.34 683.75C143.81 682.14 144.15 678.62 144.51 676.26C144.87 673.91 145.26 670.16 145.51 669.61C145.76 669.05 145.83 673.91 146 672.93C146.17 671.96 146.08 665.53 146.5 663.78C146.92 662.03 146.92 662.59 148.5 662.45C150.08 662.31 153.35 662.87 155.99 662.95C158.62 663.03 161.81 662.95 164.31 662.95C166.8 662.95 169.52 663.36 170.96 662.95C172.41 662.53 172.35 661.84 172.96 660.45C173.57 659.07 174.07 656.85 174.62 654.63C175.18 652.41 175.65 648.94 176.29 647.14C176.93 645.34 177.68 644.36 178.45 643.81C179.23 643.26 180.2 643.53 180.95 643.81C181.7 644.09 182.34 644.5 182.95 645.47C183.56 646.45 184.11 647 184.61 649.64C185.11 652.27 185.5 657.12 185.94 661.28C186.39 665.45 186.77 670.99 187.27 674.6C187.77 678.2 188.33 680.98 188.94 682.92C189.55 684.86 190.19 685.64 190.93 686.25C191.68 686.86 192.65 686.86 193.43 686.58C194.21 686.3 194.96 686.03 195.59 684.58C196.23 683.14 196.76 680.42 197.26 677.93C197.76 675.43 198.15 671.96 198.59 669.61C199.03 667.25 199.39 665.03 199.92 663.78C200.45 662.53 200.48 662.31 201.75 662.12C203.03 661.92 205.22 662.53 207.58 662.62C209.93 662.7 213.12 662.62 215.9 662.62C218.67 662.62 222.22 662.7 224.22 662.62C226.22 662.53 227.05 662.75 227.88 662.12C228.71 661.48 228.77 660.31 229.21 658.79C229.66 657.26 230.04 655.18 230.54 652.96C231.04 650.74 231.65 647.69 232.21 645.47C232.76 643.26 233.26 640.84 233.87 639.65C234.48 638.46 235.2 638.46 235.87 638.32C236.53 638.18 237.17 638.46 237.87 638.82C238.56 639.18 239.34 639.37 240.03 640.48C240.72 641.59 241.44 643.12 242.03 645.47C242.61 647.83 243.08 651.16 243.52 654.63C243.97 658.09 244.3 662.67 244.69 666.28C245.08 669.88 245.38 673.49 245.85 676.26C246.33 679.04 246.91 681.26 247.52 682.92C248.13 684.58 248.82 685.64 249.52 686.25C250.21 686.86 250.96 687.14 251.68 686.58C252.4 686.03 253.2 684.78 253.84 682.92C254.48 681.06 255.15 677.65 255.51 675.43C255.87 673.21 255.64 671.27 256 669.61C256.36 667.94 257.05 666.55 257.66 665.45C258.27 664.34 258.55 663.31 259.66 662.95C260.77 662.59 262.57 663.2 264.32 663.28C266.07 663.36 268.62 663.36 270.15 663.45C271.67 663.53 272.7 662.75 273.47 663.78C274.25 664.81 274.33 667.25 274.81 669.61C275.28 671.96 275.69 675.57 276.3 677.93C276.91 680.28 277.69 682.36 278.47 683.75C279.24 685.14 280.13 686.11 280.96 686.25C281.8 686.39 282.77 685.83 283.46 684.58C284.15 683.34 284.57 679.59 285.12 678.76C285.68 677.93 286.15 678.9 286.79 679.59C287.43 680.28 288.26 681.95 288.95 682.92C289.65 683.89 290.2 684.72 290.95 685.42C291.7 686.11 292.75 687.77 293.45 687.08C294.14 686.39 294.64 683.89 295.11 681.26C295.58 678.62 295.86 673.91 296.27 671.27C296.69 668.64 297.05 666.69 297.61 665.45C298.16 664.2 298.49 664.11 299.6 663.78C300.71 663.45 302.38 663.53 304.26 663.45C306.15 663.36 308.42 663.31 310.92 663.28C313.42 663.25 316.88 663.25 319.24 663.28C321.6 663.31 323.73 662.67 325.07 663.45C326.4 664.22 326.54 667.89 327.23 667.94C327.92 668 328.48 664.56 329.23 663.78C329.98 663 330.89 663.09 331.72 663.28C332.55 663.48 333.39 663.89 334.22 664.95C335.05 666 336.02 668 336.72 669.61C337.41 671.21 337.74 673.21 338.38 674.6C339.02 675.99 339.85 677.04 340.54 677.93C341.24 678.81 341.87 680.2 342.54 679.92C343.21 679.65 343.93 677.98 344.54 676.26C345.15 674.54 345.65 671.69 346.2 669.61C346.76 667.53 347.23 665.03 347.87 663.78C348.5 662.53 348.98 662.45 350.03 662.12C351.08 661.78 352.94 661.65 354.19 661.78C355.44 661.92 356.41 662.48 357.52 662.95C358.63 663.42 359.52 664.39 360.85 664.61C362.18 664.84 364.65 664.28 365.51 664.28C366.37 664.28 365.09 664.61 366 664.61C366.91 664.61 369.61 664.42 370.99 664.28C372.38 664.14 373.43 664.28 374.32 663.78C375.21 663.28 375.71 662.81 376.32 661.28C376.93 659.76 377.43 657.4 377.98 654.63C378.54 651.85 379.09 647.55 379.65 644.64C380.2 641.73 380.87 638.87 381.31 637.15C381.75 635.43 381.87 634.6 382.31 634.32C382.75 634.05 383.36 635.02 383.97 635.49C384.58 635.96 385.22 636.68 385.97 637.15C386.72 637.62 387.64 637.9 388.47 638.32C389.3 638.73 390.27 639.15 390.96 639.65C391.66 640.15 392.07 640.62 392.63 641.31C393.18 642.01 393.68 643.03 394.29 643.81C394.9 644.59 395.6 645.7 396.29 645.97C396.98 646.25 397.73 645.56 398.45 645.47C399.17 645.39 400.03 644.5 400.62 645.47C401.2 646.45 401.45 649.08 401.95 651.3C402.45 653.52 403 656.85 403.61 658.79C404.22 660.73 404.8 662.06 405.61 662.95C406.41 663.84 407 663.84 408.44 664.11C409.88 664.39 411.91 664.53 414.26 664.61C416.62 664.7 419.81 664.61 422.58 664.61C425.36 664.61 429.19 665.03 430.91 664.61C432.62 664.2 432.35 663.78 432.9 662.12C433.46 660.45 433.79 656.71 434.23 654.63C434.68 652.55 435.07 650.52 435.56 649.64C436.06 648.75 436.62 649.02 437.23 649.3C437.84 649.58 438.48 650.83 439.23 651.3C439.98 651.77 440.89 652.27 441.72 652.13C442.55 651.99 443.39 651.16 444.22 650.47C445.05 649.77 445.88 648.44 446.72 647.97C447.55 647.5 448.38 647.64 449.21 647.64C450.04 647.64 451.01 647.5 451.71 647.97C452.4 648.44 452.82 649.08 453.37 650.47C453.93 651.85 454.48 654.49 455.04 656.29C455.59 658.09 456.06 660.12 456.7 661.28C457.34 662.45 458.03 662.87 458.86 663.28C459.7 663.7 460.25 663.73 461.69 663.78C463.14 663.84 465.22 663.67 467.52 663.61C469.82 663.56 474.09 663.42 475.51 663.45C476.92 663.48 475.09 663.75 476 663.78C476.91 663.81 479.61 663.61 480.99 663.61C482.38 663.61 483.49 663.06 484.32 663.78C485.15 664.5 485.38 666.14 485.99 667.94C486.6 669.74 487.29 672.88 487.98 674.6C488.68 676.32 489.51 678.4 490.15 678.26C490.78 678.12 491.26 674.99 491.81 673.77C492.36 672.55 492.92 671.3 493.47 670.94C494.03 670.58 494.5 670.72 495.14 671.6C495.78 672.49 496.61 675.07 497.3 676.26C498 677.46 498.69 678.76 499.3 678.76C499.91 678.76 500.35 677.23 500.96 676.26C501.57 675.29 502.27 673.91 502.96 672.93C503.65 671.96 504.35 671.13 505.12 670.44C505.9 669.74 506.37 669.13 507.62 668.77C508.87 668.41 510.39 668.33 512.61 668.27C514.83 668.22 518.16 668.41 520.93 668.44C523.71 668.47 527.26 668.44 529.26 668.44C531.25 668.44 532.03 668.94 532.92 668.44C533.8 667.94 534.08 667.19 534.58 665.45C535.08 663.7 535.41 660.09 535.91 657.96C536.41 655.82 536.97 653.46 537.58 652.63C538.19 651.8 538.88 652.69 539.57 652.96C540.27 653.24 540.96 654.02 541.74 654.29C542.51 654.57 543.4 654.29 544.23 654.63C545.07 654.96 545.95 655.32 546.73 656.29C547.51 657.26 548.14 659.48 548.89 660.45C549.64 661.42 550.47 661.98 551.22 662.12C551.97 662.26 552.75 661.84 553.39 661.28C554.02 660.73 554.5 658.79 555.05 658.79C555.61 658.79 556.08 661.15 556.72 661.28C557.35 661.42 558.13 659.62 558.88 659.62C559.63 659.62 560.18 660.79 561.21 661.28C562.24 661.78 563.48 662.34 565.04 662.62C566.59 662.89 569.53 662.89 570.53 662.95C571.52 663 569.81 663 571 662.95C572.19 662.89 575.16 662.62 577.66 662.62C580.15 662.62 584.18 662.84 585.98 662.95C587.78 663.06 587.78 663.56 588.47 663.28C589.17 663 589.58 660.79 590.14 661.28C590.69 661.78 591.16 664.56 591.8 666.28C592.44 668 593.27 671.74 593.97 671.6C594.66 671.46 595.21 666.75 595.96 665.45C596.71 664.14 597.63 664.47 598.46 663.78C599.29 663.09 600.21 661.84 600.96 661.28C601.71 660.73 602.4 661.01 602.95 660.45C603.51 659.9 603.79 658.65 604.28 657.96C604.78 657.26 605.39 656.15 605.95 656.29C606.5 656.43 607.11 657.82 607.61 658.79C608.11 659.76 608.39 661.28 608.94 662.12C609.5 662.95 610.19 663.14 610.94 663.78C611.69 664.42 612.61 665.47 613.44 665.94C614.27 666.42 614.96 666.61 615.93 666.61C616.91 666.61 618.29 665.72 619.26 665.94C620.23 666.17 620.98 667.75 621.76 667.94C622.54 668.14 622.95 667.33 623.92 667.11C624.89 666.89 625.59 666.69 627.58 666.61C629.58 666.53 633.13 666.61 635.91 666.61C638.68 666.61 642.51 667.08 644.23 666.61C645.95 666.14 645.67 665.64 646.22 663.78C646.78 661.92 647.11 657.96 647.55 655.46C648 652.96 648.33 650.05 648.89 648.8C649.44 647.55 650.13 647.97 650.88 647.97C651.63 647.97 652.55 648.53 653.38 648.8C654.21 649.08 655.04 649.64 655.88 649.64C656.71 649.64 657.54 649.08 658.37 648.8C659.2 648.53 660.04 648.44 660.87 647.97C661.7 647.5 662.53 646.67 663.36 645.97C664.2 645.28 665.03 644.25 665.86 643.81C666.69 643.37 667.58 643.17 668.36 643.31C669.13 643.45 669.94 643.45 670.52 644.64C671.1 645.84 671.41 648.11 671.85 650.47C672.3 652.82 672.68 656.71 673.18 658.79C673.68 660.87 674.13 661.98 674.85 662.95C675.57 663.92 676.51 664.28 677.51 664.61C678.51 664.95 679.67 664.89 680.84 664.95C682 665 683.89 664.95 684.5 664.95" stroke="#2ca02c" stroke-width="1.08" stroke-dasharray="2.8 1.3"/>
</g>
<rect x="38.8" y="630.6" width="645.4" height="65.7" fill="none" stroke="#8a8a8a" stroke-width="1.3"/>
<line x1="36.6" y1="631.26" x2="38.8" y2="631.26" stroke="#555" stroke-width="0.7"/>
<text x="34.2" y="634.06" font-family='"DejaVu Sans", "Liberation Sans", sans-serif' font-size="6.1" text-anchor="end" fill="#111">200</text>
<line x1="36.6" y1="649.6" x2="38.8" y2="649.6" stroke="#555" stroke-width="0.7"/>
<text x="34.2" y="652.4" font-family='"DejaVu Sans", "Liberation Sans", sans-serif' font-size="6.1" text-anchor="end" fill="#111">150</text>
<line x1="36.6" y1="667.93" x2="38.8" y2="667.93" stroke="#555" stroke-width="0.7"/>
<text x="34.2" y="670.73" font-family='"DejaVu Sans", "Liberation Sans", sans-serif' font-size="6.1" text-anchor="end" fill="#111">100</text>
<line x1="36.6" y1="686.26" x2="38.8" y2="686.26" stroke="#555" stroke-width="0.7"/>
<text x="34.2" y="689.07" font-family='"DejaVu Sans", "Liberation Sans", sans-serif' font-size="6.1" text-anchor="end" fill="#111">50</text>
<line x1="39" y1="696.3" x2="39" y2="698.5" stroke="#555" stroke-width="0.7"/>
<text x="39" y="705" font-family='"DejaVu Sans", "Liberation Sans", sans-serif' font-size="6.1" text-anchor="middle" fill="#111">0</text>
<line x1="140.3" y1="696.3" x2="140.3" y2="698.5" stroke="#555" stroke-width="0.7"/>
<text x="140.3" y="705" font-family='"DejaVu Sans", "Liberation Sans", sans-serif' font-size="6.1" text-anchor="middle" fill="#111">10</text>
<line x1="241.6" y1="696.3" x2="241.6" y2="698.5" stroke="#555" stroke-width="0.7"/>
<text x="241.6" y="705" font-family='"DejaVu Sans", "Liberation Sans", sans-serif' font-size="6.1" text-anchor="middle" fill="#111">20</text>
<line x1="342.9" y1="696.3" x2="342.9" y2="698.5" stroke="#555" stroke-width="0.7"/>
<text x="342.9" y="705" font-family='"DejaVu Sans", "Liberation Sans", sans-serif' font-size="6.1" text-anchor="middle" fill="#111">30</text>
<line x1="444.2" y1="696.3" x2="444.2" y2="698.5" stroke="#555" stroke-width="0.7"/>
<text x="444.2" y="705" font-family='"DejaVu Sans", "Liberation Sans", sans-serif' font-size="6.1" text-anchor="middle" fill="#111">40</text>
<line x1="545.5" y1="696.3" x2="545.5" y2="698.5" stroke="#555" stroke-width="0.7"/>
<text x="545.5" y="705" font-family='"DejaVu Sans", "Liberation Sans", sans-serif' font-size="6.1" text-anchor="middle" fill="#111">50</text>
<line x1="646.8" y1="696.3" x2="646.8" y2="698.5" stroke="#555" stroke-width="0.7"/>
<text x="646.8" y="705" font-family='"DejaVu Sans", "Liberation Sans", sans-serif' font-size="6.1" text-anchor="middle" fill="#111">60</text>
<text x="11.7" y="663.85" font-family='"DejaVu Sans", "Liberation Sans", sans-serif' font-size="7" text-anchor="middle" fill="#111" transform="rotate(-90 11.7 663.85)">Pro-Sup</text>
<text x="19.1" y="662.65" font-family='"DejaVu Sans", "Liberation Sans", sans-serif' font-size="7" text-anchor="middle" fill="#111" transform="rotate(-90 19.1 662.65)">Degrees</text>
<line x1="40.9" y1="624.35" x2="53.1" y2="624.35" stroke="#222" stroke-width="1.25"/>
<text x="57" y="626.4" font-family='"DejaVu Sans", "Liberation Sans", sans-serif' font-size="5.75" text-anchor="start" fill="#111">Ground Truth</text>
<line x1="259.6" y1="624.35" x2="272.2" y2="624.35" stroke="#bcbd22" stroke-width="1.08" stroke-dasharray="2.8 1.3"/>
<text x="276.6" y="626.4" font-family='"DejaVu Sans", "Liberation Sans", sans-serif' font-size="5.85" text-anchor="start" fill="#111">1 Participant no Reference <tspan font-style="italic">R</tspan><tspan font-size="4" dy="-2.2">2</tspan><tspan dy="2.2"> = 0.36</tspan></text>
<line x1="549.8" y1="624.35" x2="562.4" y2="624.35" stroke="#2ca02c" stroke-width="1.08" stroke-dasharray="2.8 1.3"/>
<text x="566.8" y="626.4" font-family='"DejaVu Sans", "Liberation Sans", sans-serif' font-size="5.85" text-anchor="start" fill="#111">9 Participants with Reference <tspan font-style="italic">R</tspan><tspan font-size="4" dy="-2.2">2</tspan><tspan dy="2.2"> = 0.93</tspan></text>
<text x="361.5" y="714.3" font-family='"DejaVu Sans", "Liberation Sans", sans-serif' font-size="7.95" text-anchor="middle" fill="#111">Seconds</text>
<text x="0" y="626.2" font-family='"Liberation Sans", sans-serif' font-size="21.5" text-anchor="start" fill="#000" font-weight="bold">f</text>
</g>
<g>
<defs><filter id="nz" x="0" y="0" width="100%" height="100%" color-interpolation-filters="sRGB"><feTurbulence type="fractalNoise" baseFrequency="0.2 0.55" numOctaves="2" seed="7" result="a"/><feTurbulence type="fractalNoise" baseFrequency="0.05 0.11" numOctaves="2" seed="3" result="b"/><feComposite in="a" in2="b" operator="arithmetic" k1="0" k2="0.62" k3="0.5" k4="0"/><feColorMatrix type="matrix" values="2.1 0 0 0 -0.64 2.1 0 0 0 -0.64 2.1 0 0 0 -0.64 0 0 0 0 1"/></filter><filter id="bl" x="-20%" y="-50%" width="140%" height="200%"><feGaussianBlur stdDeviation="0.9 0.5"/></filter><filter id="bl2" x="-5%" y="-5%" width="110%" height="110%"><feGaussianBlur stdDeviation="0.35"/></filter><clipPath id="usc"><rect width="90" height="90"/></clipPath></defs>
<g transform="translate(148.2 731.7) scale(1 1)"><g clip-path="url(#usc)"><rect width="90" height="90" fill="#000"/><rect width="90" height="90" filter="url(#nz)"/><g filter="url(#bl)"><ellipse cx="24.67" cy="-11.71" rx="6.59" ry="2.3" fill="#000" opacity="0.45"/><ellipse cx="19.13" cy="-5.51" rx="3.82" ry="1.25" fill="#fff" opacity="0.85"/><ellipse cx="10.62" cy="-12" rx="2.3" ry="0.8" fill="#fff" opacity="0.7"/><ellipse cx="36.66" cy="-9.28" rx="4.12" ry="1.0" fill="#fff" opacity="0.5"/><ellipse cx="25.5" cy="-0.46" rx="5.94" ry="2.3" fill="#000" opacity="0.45"/><ellipse cx="18.22" cy="6.34" rx="3.47" ry="1.25" fill="#fff" opacity="0.85"/><ellipse cx="10.6" cy="0" rx="2.3" ry="0.8" fill="#fff" opacity="0.7"/><ellipse cx="34.17" cy="-0.6" rx="4.79" ry="1.0" fill="#fff" opacity="0.5"/><ellipse cx="25.1" cy="11.59" rx="6.59" ry="2.3" fill="#000" opacity="0.45"/><ellipse cx="18.08" cy="18.39" rx="3.03" ry="1.25" fill="#fff" opacity="0.85"/><ellipse cx="10.58" cy="12" rx="2.3" ry="0.8" fill="#fff" opacity="0.7"/><ellipse cx="40.71" cy="11.05" rx="3.04" ry="1.0" fill="#fff" opacity="0.5"/><ellipse cx="25.75" cy="24.45" rx="5.58" ry="2.3" fill="#000" opacity="0.45"/><ellipse cx="19.15" cy="30.33" rx="3.58" ry="1.25" fill="#fff" opacity="0.85"/><ellipse cx="10.9" cy="24" rx="2.3" ry="0.8" fill="#fff" opacity="0.7"/><ellipse cx="41.41" cy="25.45" rx="4.92" ry="1.0" fill="#fff" opacity="0.5"/><ellipse cx="25.48" cy="35.76" rx="5.72" ry="2.3" fill="#000" opacity="0.45"/><ellipse cx="18.12" cy="42.02" rx="2.97" ry="1.25" fill="#fff" opacity="0.85"/><ellipse cx="11.06" cy="36" rx="2.3" ry="0.8" fill="#fff" opacity="0.7"/><ellipse cx="38.03" cy="34.02" rx="4.19" ry="1.0" fill="#fff" opacity="0.5"/><ellipse cx="23.81" cy="47.77" rx="6.64" ry="2.3" fill="#000" opacity="0.45"/><ellipse cx="18.52" cy="54.15" rx="3.38" ry="1.25" fill="#fff" opacity="0.85"/><ellipse cx="11.7" cy="48" rx="2.3" ry="0.8" fill="#fff" opacity="0.7"/><ellipse cx="32.57" cy="50.88" rx="2.56" ry="1.0" fill="#fff" opacity="0.5"/><ellipse cx="25.05" cy="60.41" rx="5.04" ry="2.3" fill="#000" opacity="0.45"/><ellipse cx="18.92" cy="66.19" rx="3.48" ry="1.25" fill="#fff" opacity="0.85"/><ellipse cx="10.59" cy="60" rx="2.3" ry="0.8" fill="#fff" opacity="0.7"/><ellipse cx="32.47" cy="58.9" rx="4.89" ry="1.0" fill="#fff" opacity="0.5"/><ellipse cx="23.39" cy="72.31" rx="6.86" ry="2.3" fill="#000" opacity="0.45"/><ellipse cx="19.12" cy="78.18" rx="3.25" ry="1.25" fill="#fff" opacity="0.85"/><ellipse cx="11.42" cy="72" rx="2.3" ry="0.8" fill="#fff" opacity="0.7"/><ellipse cx="39.76" cy="70.54" rx="4.37" ry="1.0" fill="#fff" opacity="0.5"/><ellipse cx="25.19" cy="84.43" rx="5.07" ry="2.3" fill="#000" opacity="0.45"/><ellipse cx="19.13" cy="89.97" rx="3.24" ry="1.25" fill="#fff" opacity="0.85"/><ellipse cx="11.55" cy="84" rx="2.3" ry="0.8" fill="#fff" opacity="0.7"/><ellipse cx="41.18" cy="83.7" rx="4.81" ry="1.0" fill="#fff" opacity="0.5"/><ellipse cx="68.64" cy="-7.03" rx="5.63" ry="2.3" fill="#000" opacity="0.45"/><ellipse cx="62.33" cy="-0.84" rx="3.05" ry="1.25" fill="#fff" opacity="0.85"/><ellipse cx="56.1" cy="-6.8" rx="2.3" ry="0.8" fill="#fff" opacity="0.7"/><ellipse cx="86.97" cy="-7.99" rx="2.62" ry="1.0" fill="#fff" opacity="0.5"/><ellipse cx="69.96" cy="5.24" rx="5.81" ry="2.3" fill="#000" opacity="0.45"/><ellipse cx="62.41" cy="11.58" rx="3.73" ry="1.25" fill="#fff" opacity="0.85"/><ellipse cx="55.73" cy="5.2" rx="2.3" ry="0.8" fill="#fff" opacity="0.7"/><ellipse cx="81.22" cy="3.48" rx="4.79" ry="1.0" fill="#fff" opacity="0.5"/><ellipse cx="67.1" cy="17.19" rx="6.68" ry="2.3" fill="#000" opacity="0.45"/><ellipse cx="62.27" cy="23.69" rx="3.85" ry="1.25" fill="#fff" opacity="0.85"/><ellipse cx="56.01" cy="17.2" rx="2.3" ry="0.8" fill="#fff" opacity="0.7"/><ellipse cx="84.88" cy="15.73" rx="3.59" ry="1.0" fill="#fff" opacity="0.5"/><ellipse cx="67.45" cy="29.61" rx="5.59" ry="2.3" fill="#000" opacity="0.45"/><ellipse cx="62.69" cy="35.9" rx="3.75" ry="1.25" fill="#fff" opacity="0.85"/><ellipse cx="56.56" cy="29.2" rx="2.3" ry="0.8" fill="#fff" opacity="0.7"/><ellipse cx="81.54" cy="29.64" rx="4.32" ry="1.0" fill="#fff" opacity="0.5"/><ellipse cx="68.44" cy="40.95" rx="5.81" ry="2.3" fill="#000" opacity="0.45"/><ellipse cx="62.29" cy="47.4" rx="3.89" ry="1.25" fill="#fff" opacity="0.85"/><ellipse cx="56.54" cy="41.2" rx="2.3" ry="0.8" fill="#fff" opacity="0.7"/><ellipse cx="83.27" cy="41.7" rx="3.35" ry="1.0" fill="#fff" opacity="0.5"/><ellipse cx="67.27" cy="52.93" rx="6.56" ry="2.3" fill="#000" opacity="0.45"/><ellipse cx="63.23" cy="59.39" rx="3.69" ry="1.25" fill="#fff" opacity="0.85"/><ellipse cx="56.24" cy="53.2" rx="2.3" ry="0.8" fill="#fff" opacity="0.7"/><ellipse cx="83.95" cy="54.52" rx="4.4" ry="1.0" fill="#fff" opacity="0.5"/><ellipse cx="68.09" cy="65.45" rx="5.56" ry="2.3" fill="#000" opacity="0.45"/><ellipse cx="62.73" cy="71.72" rx="3.59" ry="1.25" fill="#fff" opacity="0.85"/><ellipse cx="55.47" cy="65.2" rx="2.3" ry="0.8" fill="#fff" opacity="0.7"/><ellipse cx="86.46" cy="66.45" rx="3.95" ry="1.0" fill="#fff" opacity="0.5"/><ellipse cx="67.03" cy="77.26" rx="5.5" ry="2.3" fill="#000" opacity="0.45"/><ellipse cx="62.97" cy="83.47" rx="3.72" ry="1.25" fill="#fff" opacity="0.85"/><ellipse cx="56.04" cy="77.2" rx="2.3" ry="0.8" fill="#fff" opacity="0.7"/><ellipse cx="84.98" cy="76.94" rx="4.11" ry="1.0" fill="#fff" opacity="0.5"/><ellipse cx="69.21" cy="89.59" rx="5.7" ry="2.3" fill="#000" opacity="0.45"/><ellipse cx="63.2" cy="95.8" rx="3.59" ry="1.25" fill="#fff" opacity="0.85"/><ellipse cx="56.56" cy="89.2" rx="2.3" ry="0.8" fill="#fff" opacity="0.7"/><ellipse cx="86.57" cy="89.79" rx="3.82" ry="1.0" fill="#fff" opacity="0.5"/></g><rect x="44.4" y="0" width="0.9" height="90" fill="#000" opacity="0.55"/><g filter="url(#bl2)"><path d="M0 -11.15H7.63C10.38 -10.75 13.74 -7.6 15.27 -5.7C14.04 -4.2 10.99 -1.15 7.94 -0.85H0Z" fill="#000"/><path d="M0 -12h8.4" stroke="#fff" stroke-width="0.7" opacity="0.8"/><path d="M0 0.85H8.17C11.11 1.25 14.7 4.4 16.34 6.3C15.03 7.8 11.76 10.85 8.5 11.15H0Z" fill="#000"/><path d="M0 0h8.99" stroke="#fff" stroke-width="0.7" opacity="0.8"/><path d="M0 12.85H8.25C11.22 13.25 14.85 16.4 16.5 18.3C15.18 19.8 11.88 22.85 8.58 23.15H0Z" fill="#000"/><path d="M0 12h9.07" stroke="#fff" stroke-width="0.7" opacity="0.8"/><path d="M0 24.85H7.88C10.72 25.25 14.19 28.4 15.76 30.3C14.5 31.8 11.35 34.85 8.2 35.15H0Z" fill="#000"/><path d="M0 24h8.67" stroke="#fff" stroke-width="0.7" opacity="0.8"/><path d="M0 36.85H8.05C10.95 37.25 14.5 40.4 16.11 42.3C14.82 43.8 11.6 46.85 8.38 47.15H0Z" fill="#000"/><path d="M0 36h8.86" stroke="#fff" stroke-width="0.7" opacity="0.8"/><path d="M0 48.85H8.08C10.98 49.25 14.54 52.4 16.15 54.3C14.86 55.8 11.63 58.85 8.4 59.15H0Z" fill="#000"/><path d="M0 48h8.88" stroke="#fff" stroke-width="0.7" opacity="0.8"/><path d="M0 60.85H8.08C10.99 61.25 14.55 64.4 16.17 66.3C14.88 67.8 11.64 70.85 8.41 71.15H0Z" fill="#000"/><path d="M0 60h8.89" stroke="#fff" stroke-width="0.7" opacity="0.8"/><path d="M0 72.85H7.64C10.39 73.25 13.75 76.4 15.27 78.3C14.05 79.8 11 82.85 7.94 83.15H0Z" fill="#000"/><path d="M0 72h8.4" stroke="#fff" stroke-width="0.7" opacity="0.8"/><path d="M0 84.85H8.12C11.05 85.25 14.62 88.4 16.25 90.3C14.95 91.8 11.7 94.85 8.45 95.15H0Z" fill="#000"/><path d="M0 84h8.94" stroke="#fff" stroke-width="0.7" opacity="0.8"/><path d="M45 -5.95H52.56C55.29 -5.55 58.62 -2.4 60.13 -0.5C58.92 1 55.89 4.05 52.87 4.35H45Z" fill="#000"/><path d="M45 -6.8h8.32" stroke="#fff" stroke-width="0.7" opacity="0.8"/><path d="M45 6.05H52.63C55.38 6.45 58.74 9.6 60.26 11.5C59.04 13 55.99 16.05 52.94 16.35H45Z" fill="#000"/><path d="M45 5.2h8.4" stroke="#fff" stroke-width="0.7" opacity="0.8"/><path d="M45 18.05H52.44C55.11 18.45 58.39 21.6 59.87 23.5C58.68 25 55.71 28.05 52.73 28.35H45Z" fill="#000"/><path d="M45 17.2h8.18" stroke="#fff" stroke-width="0.7" opacity="0.8"/><path d="M45 30.05H52.6C55.33 30.45 58.68 33.6 60.2 35.5C58.98 37 55.94 40.05 52.9 40.35H45Z" fill="#000"/><path d="M45 29.2h8.36" stroke="#fff" stroke-width="0.7" opacity="0.8"/><path d="M45 42.05H52.72C55.5 42.45 58.9 45.6 60.44 47.5C59.2 49 56.12 52.05 53.03 52.35H45Z" fill="#000"/><path d="M45 41.2h8.49" stroke="#fff" stroke-width="0.7" opacity="0.8"/><path d="M45 54.05H52.61C55.35 54.45 58.7 57.6 60.22 59.5C59 61 55.96 64.05 52.91 64.35H45Z" fill="#000"/><path d="M45 53.2h8.37" stroke="#fff" stroke-width="0.7" opacity="0.8"/><path d="M45 66.05H52.68C55.44 66.45 58.82 69.6 60.35 71.5C59.12 73 56.05 76.05 52.98 76.35H45Z" fill="#000"/><path d="M45 65.2h8.44" stroke="#fff" stroke-width="0.7" opacity="0.8"/><path d="M45 78.05H52.12C54.69 78.45 57.82 81.6 59.24 83.5C58.1 85 55.26 88.05 52.41 88.35H45Z" fill="#000"/><path d="M45 77.2h7.83" stroke="#fff" stroke-width="0.7" opacity="0.8"/><path d="M45 90.05H52.23C54.83 90.45 58.01 93.6 59.46 95.5C58.3 97 55.41 100.05 52.52 100.35H45Z" fill="#000"/><path d="M45 89.2h7.95" stroke="#fff" stroke-width="0.7" opacity="0.8"/></g></g></g>
<g transform="translate(292.3 731.7) scale(1 1)"><g clip-path="url(#usc)"><rect width="90" height="90" fill="#000"/><rect width="90" height="90" filter="url(#nz)"/><g filter="url(#bl)"><ellipse cx="24.67" cy="-11.71" rx="6.59" ry="2.3" fill="#000" opacity="0.45"/><ellipse cx="19.13" cy="-5.51" rx="3.82" ry="1.25" fill="#fff" opacity="0.85"/><ellipse cx="10.62" cy="-12" rx="2.3" ry="0.8" fill="#fff" opacity="0.7"/><ellipse cx="36.66" cy="-9.28" rx="4.12" ry="1.0" fill="#fff" opacity="0.5"/><ellipse cx="25.5" cy="-0.46" rx="5.94" ry="2.3" fill="#000" opacity="0.45"/><ellipse cx="18.22" cy="6.34" rx="3.47" ry="1.25" fill="#fff" opacity="0.85"/><ellipse cx="10.6" cy="0" rx="2.3" ry="0.8" fill="#fff" opacity="0.7"/><ellipse cx="34.17" cy="-0.6" rx="4.79" ry="1.0" fill="#fff" opacity="0.5"/><ellipse cx="25.1" cy="11.59" rx="6.59" ry="2.3" fill="#000" opacity="0.45"/><ellipse cx="18.08" cy="18.39" rx="3.03" ry="1.25" fill="#fff" opacity="0.85"/><ellipse cx="10.58" cy="12" rx="2.3" ry="0.8" fill="#fff" opacity="0.7"/><ellipse cx="40.71" cy="11.05" rx="3.04" ry="1.0" fill="#fff" opacity="0.5"/><ellipse cx="25.75" cy="24.45" rx="5.58" ry="2.3" fill="#000" opacity="0.45"/><ellipse cx="19.15" cy="30.33" rx="3.58" ry="1.25" fill="#fff" opacity="0.85"/><ellipse cx="10.9" cy="24" rx="2.3" ry="0.8" fill="#fff" opacity="0.7"/><ellipse cx="41.41" cy="25.45" rx="4.92" ry="1.0" fill="#fff" opacity="0.5"/><ellipse cx="25.48" cy="35.76" rx="5.72" ry="2.3" fill="#000" opacity="0.45"/><ellipse cx="18.12" cy="42.02" rx="2.97" ry="1.25" fill="#fff" opacity="0.85"/><ellipse cx="11.06" cy="36" rx="2.3" ry="0.8" fill="#fff" opacity="0.7"/><ellipse cx="38.03" cy="34.02" rx="4.19" ry="1.0" fill="#fff" opacity="0.5"/><ellipse cx="23.81" cy="47.77" rx="6.64" ry="2.3" fill="#000" opacity="0.45"/><ellipse cx="18.52" cy="54.15" rx="3.38" ry="1.25" fill="#fff" opacity="0.85"/><ellipse cx="11.7" cy="48" rx="2.3" ry="0.8" fill="#fff" opacity="0.7"/><ellipse cx="32.57" cy="50.88" rx="2.56" ry="1.0" fill="#fff" opacity="0.5"/><ellipse cx="25.05" cy="60.41" rx="5.04" ry="2.3" fill="#000" opacity="0.45"/><ellipse cx="18.92" cy="66.19" rx="3.48" ry="1.25" fill="#fff" opacity="0.85"/><ellipse cx="10.59" cy="60" rx="2.3" ry="0.8" fill="#fff" opacity="0.7"/><ellipse cx="32.47" cy="58.9" rx="4.89" ry="1.0" fill="#fff" opacity="0.5"/><ellipse cx="23.39" cy="72.31" rx="6.86" ry="2.3" fill="#000" opacity="0.45"/><ellipse cx="19.12" cy="78.18" rx="3.25" ry="1.25" fill="#fff" opacity="0.85"/><ellipse cx="11.42" cy="72" rx="2.3" ry="0.8" fill="#fff" opacity="0.7"/><ellipse cx="39.76" cy="70.54" rx="4.37" ry="1.0" fill="#fff" opacity="0.5"/><ellipse cx="25.19" cy="84.43" rx="5.07" ry="2.3" fill="#000" opacity="0.45"/><ellipse cx="19.13" cy="89.97" rx="3.24" ry="1.25" fill="#fff" opacity="0.85"/><ellipse cx="11.55" cy="84" rx="2.3" ry="0.8" fill="#fff" opacity="0.7"/><ellipse cx="41.18" cy="83.7" rx="4.81" ry="1.0" fill="#fff" opacity="0.5"/><ellipse cx="68.64" cy="-7.03" rx="5.63" ry="2.3" fill="#000" opacity="0.45"/><ellipse cx="62.33" cy="-0.84" rx="3.05" ry="1.25" fill="#fff" opacity="0.85"/><ellipse cx="56.1" cy="-6.8" rx="2.3" ry="0.8" fill="#fff" opacity="0.7"/><ellipse cx="86.97" cy="-7.99" rx="2.62" ry="1.0" fill="#fff" opacity="0.5"/><ellipse cx="69.96" cy="5.24" rx="5.81" ry="2.3" fill="#000" opacity="0.45"/><ellipse cx="62.41" cy="11.58" rx="3.73" ry="1.25" fill="#fff" opacity="0.85"/><ellipse cx="55.73" cy="5.2" rx="2.3" ry="0.8" fill="#fff" opacity="0.7"/><ellipse cx="81.22" cy="3.48" rx="4.79" ry="1.0" fill="#fff" opacity="0.5"/><ellipse cx="67.1" cy="17.19" rx="6.68" ry="2.3" fill="#000" opacity="0.45"/><ellipse cx="62.27" cy="23.69" rx="3.85" ry="1.25" fill="#fff" opacity="0.85"/><ellipse cx="56.01" cy="17.2" rx="2.3" ry="0.8" fill="#fff" opacity="0.7"/><ellipse cx="84.88" cy="15.73" rx="3.59" ry="1.0" fill="#fff" opacity="0.5"/><ellipse cx="67.45" cy="29.61" rx="5.59" ry="2.3" fill="#000" opacity="0.45"/><ellipse cx="62.69" cy="35.9" rx="3.75" ry="1.25" fill="#fff" opacity="0.85"/><ellipse cx="56.56" cy="29.2" rx="2.3" ry="0.8" fill="#fff" opacity="0.7"/><ellipse cx="81.54" cy="29.64" rx="4.32" ry="1.0" fill="#fff" opacity="0.5"/><ellipse cx="68.44" cy="40.95" rx="5.81" ry="2.3" fill="#000" opacity="0.45"/><ellipse cx="62.29" cy="47.4" rx="3.89" ry="1.25" fill="#fff" opacity="0.85"/><ellipse cx="56.54" cy="41.2" rx="2.3" ry="0.8" fill="#fff" opacity="0.7"/><ellipse cx="83.27" cy="41.7" rx="3.35" ry="1.0" fill="#fff" opacity="0.5"/><ellipse cx="67.27" cy="52.93" rx="6.56" ry="2.3" fill="#000" opacity="0.45"/><ellipse cx="63.23" cy="59.39" rx="3.69" ry="1.25" fill="#fff" opacity="0.85"/><ellipse cx="56.24" cy="53.2" rx="2.3" ry="0.8" fill="#fff" opacity="0.7"/><ellipse cx="83.95" cy="54.52" rx="4.4" ry="1.0" fill="#fff" opacity="0.5"/><ellipse cx="68.09" cy="65.45" rx="5.56" ry="2.3" fill="#000" opacity="0.45"/><ellipse cx="62.73" cy="71.72" rx="3.59" ry="1.25" fill="#fff" opacity="0.85"/><ellipse cx="55.47" cy="65.2" rx="2.3" ry="0.8" fill="#fff" opacity="0.7"/><ellipse cx="86.46" cy="66.45" rx="3.95" ry="1.0" fill="#fff" opacity="0.5"/><ellipse cx="67.03" cy="77.26" rx="5.5" ry="2.3" fill="#000" opacity="0.45"/><ellipse cx="62.97" cy="83.47" rx="3.72" ry="1.25" fill="#fff" opacity="0.85"/><ellipse cx="56.04" cy="77.2" rx="2.3" ry="0.8" fill="#fff" opacity="0.7"/><ellipse cx="84.98" cy="76.94" rx="4.11" ry="1.0" fill="#fff" opacity="0.5"/><ellipse cx="69.21" cy="89.59" rx="5.7" ry="2.3" fill="#000" opacity="0.45"/><ellipse cx="63.2" cy="95.8" rx="3.59" ry="1.25" fill="#fff" opacity="0.85"/><ellipse cx="56.56" cy="89.2" rx="2.3" ry="0.8" fill="#fff" opacity="0.7"/><ellipse cx="86.57" cy="89.79" rx="3.82" ry="1.0" fill="#fff" opacity="0.5"/></g><rect x="44.4" y="0" width="0.9" height="90" fill="#000" opacity="0.55"/><g filter="url(#bl2)"><path d="M0 -11.15H7.63C10.38 -10.75 13.74 -7.6 15.27 -5.7C14.04 -4.2 10.99 -1.15 7.94 -0.85H0Z" fill="#000"/><path d="M0 -12h8.4" stroke="#fff" stroke-width="0.7" opacity="0.8"/><path d="M0 0.85H8.17C11.11 1.25 14.7 4.4 16.34 6.3C15.03 7.8 11.76 10.85 8.5 11.15H0Z" fill="#000"/><path d="M0 0h8.99" stroke="#fff" stroke-width="0.7" opacity="0.8"/><path d="M0 12.85H8.25C11.22 13.25 14.85 16.4 16.5 18.3C15.18 19.8 11.88 22.85 8.58 23.15H0Z" fill="#000"/><path d="M0 12h9.07" stroke="#fff" stroke-width="0.7" opacity="0.8"/><path d="M0 24.85H7.88C10.72 25.25 14.19 28.4 15.76 30.3C14.5 31.8 11.35 34.85 8.2 35.15H0Z" fill="#000"/><path d="M0 24h8.67" stroke="#fff" stroke-width="0.7" opacity="0.8"/><path d="M0 36.85H8.05C10.95 37.25 14.5 40.4 16.11 42.3C14.82 43.8 11.6 46.85 8.38 47.15H0Z" fill="#000"/><path d="M0 36h8.86" stroke="#fff" stroke-width="0.7" opacity="0.8"/><path d="M0 48.85H8.08C10.98 49.25 14.54 52.4 16.15 54.3C14.86 55.8 11.63 58.85 8.4 59.15H0Z" fill="#000"/><path d="M0 48h8.88" stroke="#fff" stroke-width="0.7" opacity="0.8"/><path d="M0 60.85H8.08C10.99 61.25 14.55 64.4 16.17 66.3C14.88 67.8 11.64 70.85 8.41 71.15H0Z" fill="#000"/><path d="M0 60h8.89" stroke="#fff" stroke-width="0.7" opacity="0.8"/><path d="M0 72.85H7.64C10.39 73.25 13.75 76.4 15.27 78.3C14.05 79.8 11 82.85 7.94 83.15H0Z" fill="#000"/><path d="M0 72h8.4" stroke="#fff" stroke-width="0.7" opacity="0.8"/><path d="M0 84.85H8.12C11.05 85.25 14.62 88.4 16.25 90.3C14.95 91.8 11.7 94.85 8.45 95.15H0Z" fill="#000"/><path d="M0 84h8.94" stroke="#fff" stroke-width="0.7" opacity="0.8"/><path d="M45 -5.95H52.56C55.29 -5.55 58.62 -2.4 60.13 -0.5C58.92 1 55.89 4.05 52.87 4.35H45Z" fill="#000"/><path d="M45 -6.8h8.32" stroke="#fff" stroke-width="0.7" opacity="0.8"/><path d="M45 6.05H52.63C55.38 6.45 58.74 9.6 60.26 11.5C59.04 13 55.99 16.05 52.94 16.35H45Z" fill="#000"/><path d="M45 5.2h8.4" stroke="#fff" stroke-width="0.7" opacity="0.8"/><path d="M45 18.05H52.44C55.11 18.45 58.39 21.6 59.87 23.5C58.68 25 55.71 28.05 52.73 28.35H45Z" fill="#000"/><path d="M45 17.2h8.18" stroke="#fff" stroke-width="0.7" opacity="0.8"/><path d="M45 30.05H52.6C55.33 30.45 58.68 33.6 60.2 35.5C58.98 37 55.94 40.05 52.9 40.35H45Z" fill="#000"/><path d="M45 29.2h8.36" stroke="#fff" stroke-width="0.7" opacity="0.8"/><path d="M45 42.05H52.72C55.5 42.45 58.9 45.6 60.44 47.5C59.2 49 56.12 52.05 53.03 52.35H45Z" fill="#000"/><path d="M45 41.2h8.49" stroke="#fff" stroke-width="0.7" opacity="0.8"/><path d="M45 54.05H52.61C55.35 54.45 58.7 57.6 60.22 59.5C59 61 55.96 64.05 52.91 64.35H45Z" fill="#000"/><path d="M45 53.2h8.37" stroke="#fff" stroke-width="0.7" opacity="0.8"/><path d="M45 66.05H52.68C55.44 66.45 58.82 69.6 60.35 71.5C59.12 73 56.05 76.05 52.98 76.35H45Z" fill="#000"/><path d="M45 65.2h8.44" stroke="#fff" stroke-width="0.7" opacity="0.8"/><path d="M45 78.05H52.12C54.69 78.45 57.82 81.6 59.24 83.5C58.1 85 55.26 88.05 52.41 88.35H45Z" fill="#000"/><path d="M45 77.2h7.83" stroke="#fff" stroke-width="0.7" opacity="0.8"/><path d="M45 90.05H52.23C54.83 90.45 58.01 93.6 59.46 95.5C58.3 97 55.41 100.05 52.52 100.35H45Z" fill="#000"/><path d="M45 89.2h7.95" stroke="#fff" stroke-width="0.7" opacity="0.8"/></g></g></g>
<g transform="translate(473.6 732.6) scale(1 1)"><g clip-path="url(#usc)"><rect width="90" height="90" fill="#000"/><rect width="90" height="90" filter="url(#nz)"/><g filter="url(#bl)"><ellipse cx="24.67" cy="-11.71" rx="6.59" ry="2.3" fill="#000" opacity="0.45"/><ellipse cx="19.13" cy="-5.51" rx="3.82" ry="1.25" fill="#fff" opacity="0.85"/><ellipse cx="10.62" cy="-12" rx="2.3" ry="0.8" fill="#fff" opacity="0.7"/><ellipse cx="36.66" cy="-9.28" rx="4.12" ry="1.0" fill="#fff" opacity="0.5"/><ellipse cx="25.5" cy="-0.46" rx="5.94" ry="2.3" fill="#000" opacity="0.45"/><ellipse cx="18.22" cy="6.34" rx="3.47" ry="1.25" fill="#fff" opacity="0.85"/><ellipse cx="10.6" cy="0" rx="2.3" ry="0.8" fill="#fff" opacity="0.7"/><ellipse cx="34.17" cy="-0.6" rx="4.79" ry="1.0" fill="#fff" opacity="0.5"/><ellipse cx="25.1" cy="11.59" rx="6.59" ry="2.3" fill="#000" opacity="0.45"/><ellipse cx="18.08" cy="18.39" rx="3.03" ry="1.25" fill="#fff" opacity="0.85"/><ellipse cx="10.58" cy="12" rx="2.3" ry="0.8" fill="#fff" opacity="0.7"/><ellipse cx="40.71" cy="11.05" rx="3.04" ry="1.0" fill="#fff" opacity="0.5"/><ellipse cx="25.75" cy="24.45" rx="5.58" ry="2.3" fill="#000" opacity="0.45"/><ellipse cx="19.15" cy="30.33" rx="3.58" ry="1.25" fill="#fff" opacity="0.85"/><ellipse cx="10.9" cy="24" rx="2.3" ry="0.8" fill="#fff" opacity="0.7"/><ellipse cx="41.41" cy="25.45" rx="4.92" ry="1.0" fill="#fff" opacity="0.5"/><ellipse cx="25.48" cy="35.76" rx="5.72" ry="2.3" fill="#000" opacity="0.45"/><ellipse cx="18.12" cy="42.02" rx="2.97" ry="1.25" fill="#fff" opacity="0.85"/><ellipse cx="11.06" cy="36" rx="2.3" ry="0.8" fill="#fff" opacity="0.7"/><ellipse cx="38.03" cy="34.02" rx="4.19" ry="1.0" fill="#fff" opacity="0.5"/><ellipse cx="23.81" cy="47.77" rx="6.64" ry="2.3" fill="#000" opacity="0.45"/><ellipse cx="18.52" cy="54.15" rx="3.38" ry="1.25" fill="#fff" opacity="0.85"/><ellipse cx="11.7" cy="48" rx="2.3" ry="0.8" fill="#fff" opacity="0.7"/><ellipse cx="32.57" cy="50.88" rx="2.56" ry="1.0" fill="#fff" opacity="0.5"/><ellipse cx="25.05" cy="60.41" rx="5.04" ry="2.3" fill="#000" opacity="0.45"/><ellipse cx="18.92" cy="66.19" rx="3.48" ry="1.25" fill="#fff" opacity="0.85"/><ellipse cx="10.59" cy="60" rx="2.3" ry="0.8" fill="#fff" opacity="0.7"/><ellipse cx="32.47" cy="58.9" rx="4.89" ry="1.0" fill="#fff" opacity="0.5"/><ellipse cx="23.39" cy="72.31" rx="6.86" ry="2.3" fill="#000" opacity="0.45"/><ellipse cx="19.12" cy="78.18" rx="3.25" ry="1.25" fill="#fff" opacity="0.85"/><ellipse cx="11.42" cy="72" rx="2.3" ry="0.8" fill="#fff" opacity="0.7"/><ellipse cx="39.76" cy="70.54" rx="4.37" ry="1.0" fill="#fff" opacity="0.5"/><ellipse cx="25.19" cy="84.43" rx="5.07" ry="2.3" fill="#000" opacity="0.45"/><ellipse cx="19.13" cy="89.97" rx="3.24" ry="1.25" fill="#fff" opacity="0.85"/><ellipse cx="11.55" cy="84" rx="2.3" ry="0.8" fill="#fff" opacity="0.7"/><ellipse cx="41.18" cy="83.7" rx="4.81" ry="1.0" fill="#fff" opacity="0.5"/><ellipse cx="68.64" cy="-7.03" rx="5.63" ry="2.3" fill="#000" opacity="0.45"/><ellipse cx="62.33" cy="-0.84" rx="3.05" ry="1.25" fill="#fff" opacity="0.85"/><ellipse cx="56.1" cy="-6.8" rx="2.3" ry="0.8" fill="#fff" opacity="0.7"/><ellipse cx="86.97" cy="-7.99" rx="2.62" ry="1.0" fill="#fff" opacity="0.5"/><ellipse cx="69.96" cy="5.24" rx="5.81" ry="2.3" fill="#000" opacity="0.45"/><ellipse cx="62.41" cy="11.58" rx="3.73" ry="1.25" fill="#fff" opacity="0.85"/><ellipse cx="55.73" cy="5.2" rx="2.3" ry="0.8" fill="#fff" opacity="0.7"/><ellipse cx="81.22" cy="3.48" rx="4.79" ry="1.0" fill="#fff" opacity="0.5"/><ellipse cx="67.1" cy="17.19" rx="6.68" ry="2.3" fill="#000" opacity="0.45"/><ellipse cx="62.27" cy="23.69" rx="3.85" ry="1.25" fill="#fff" opacity="0.85"/><ellipse cx="56.01" cy="17.2" rx="2.3" ry="0.8" fill="#fff" opacity="0.7"/><ellipse cx="84.88" cy="15.73" rx="3.59" ry="1.0" fill="#fff" opacity="0.5"/><ellipse cx="67.45" cy="29.61" rx="5.59" ry="2.3" fill="#000" opacity="0.45"/><ellipse cx="62.69" cy="35.9" rx="3.75" ry="1.25" fill="#fff" opacity="0.85"/><ellipse cx="56.56" cy="29.2" rx="2.3" ry="0.8" fill="#fff" opacity="0.7"/><ellipse cx="81.54" cy="29.64" rx="4.32" ry="1.0" fill="#fff" opacity="0.5"/><ellipse cx="68.44" cy="40.95" rx="5.81" ry="2.3" fill="#000" opacity="0.45"/><ellipse cx="62.29" cy="47.4" rx="3.89" ry="1.25" fill="#fff" opacity="0.85"/><ellipse cx="56.54" cy="41.2" rx="2.3" ry="0.8" fill="#fff" opacity="0.7"/><ellipse cx="83.27" cy="41.7" rx="3.35" ry="1.0" fill="#fff" opacity="0.5"/><ellipse cx="67.27" cy="52.93" rx="6.56" ry="2.3" fill="#000" opacity="0.45"/><ellipse cx="63.23" cy="59.39" rx="3.69" ry="1.25" fill="#fff" opacity="0.85"/><ellipse cx="56.24" cy="53.2" rx="2.3" ry="0.8" fill="#fff" opacity="0.7"/><ellipse cx="83.95" cy="54.52" rx="4.4" ry="1.0" fill="#fff" opacity="0.5"/><ellipse cx="68.09" cy="65.45" rx="5.56" ry="2.3" fill="#000" opacity="0.45"/><ellipse cx="62.73" cy="71.72" rx="3.59" ry="1.25" fill="#fff" opacity="0.85"/><ellipse cx="55.47" cy="65.2" rx="2.3" ry="0.8" fill="#fff" opacity="0.7"/><ellipse cx="86.46" cy="66.45" rx="3.95" ry="1.0" fill="#fff" opacity="0.5"/><ellipse cx="67.03" cy="77.26" rx="5.5" ry="2.3" fill="#000" opacity="0.45"/><ellipse cx="62.97" cy="83.47" rx="3.72" ry="1.25" fill="#fff" opacity="0.85"/><ellipse cx="56.04" cy="77.2" rx="2.3" ry="0.8" fill="#fff" opacity="0.7"/><ellipse cx="84.98" cy="76.94" rx="4.11" ry="1.0" fill="#fff" opacity="0.5"/><ellipse cx="69.21" cy="89.59" rx="5.7" ry="2.3" fill="#000" opacity="0.45"/><ellipse cx="63.2" cy="95.8" rx="3.59" ry="1.25" fill="#fff" opacity="0.85"/><ellipse cx="56.56" cy="89.2" rx="2.3" ry="0.8" fill="#fff" opacity="0.7"/><ellipse cx="86.57" cy="89.79" rx="3.82" ry="1.0" fill="#fff" opacity="0.5"/></g><rect x="44.4" y="0" width="0.9" height="90" fill="#000" opacity="0.55"/><g filter="url(#bl2)"><path d="M0 -11.15H7.63C10.38 -10.75 13.74 -7.6 15.27 -5.7C14.04 -4.2 10.99 -1.15 7.94 -0.85H0Z" fill="#000"/><path d="M0 -12h8.4" stroke="#fff" stroke-width="0.7" opacity="0.8"/><path d="M0 0.85H8.17C11.11 1.25 14.7 4.4 16.34 6.3C15.03 7.8 11.76 10.85 8.5 11.15H0Z" fill="#000"/><path d="M0 0h8.99" stroke="#fff" stroke-width="0.7" opacity="0.8"/><path d="M0 12.85H8.25C11.22 13.25 14.85 16.4 16.5 18.3C15.18 19.8 11.88 22.85 8.58 23.15H0Z" fill="#000"/><path d="M0 12h9.07" stroke="#fff" stroke-width="0.7" opacity="0.8"/><path d="M0 24.85H7.88C10.72 25.25 14.19 28.4 15.76 30.3C14.5 31.8 11.35 34.85 8.2 35.15H0Z" fill="#000"/><path d="M0 24h8.67" stroke="#fff" stroke-width="0.7" opacity="0.8"/><path d="M0 36.85H8.05C10.95 37.25 14.5 40.4 16.11 42.3C14.82 43.8 11.6 46.85 8.38 47.15H0Z" fill="#000"/><path d="M0 36h8.86" stroke="#fff" stroke-width="0.7" opacity="0.8"/><path d="M0 48.85H8.08C10.98 49.25 14.54 52.4 16.15 54.3C14.86 55.8 11.63 58.85 8.4 59.15H0Z" fill="#000"/><path d="M0 48h8.88" stroke="#fff" stroke-width="0.7" opacity="0.8"/><path d="M0 60.85H8.08C10.99 61.25 14.55 64.4 16.17 66.3C14.88 67.8 11.64 70.85 8.41 71.15H0Z" fill="#000"/><path d="M0 60h8.89" stroke="#fff" stroke-width="0.7" opacity="0.8"/><path d="M0 72.85H7.64C10.39 73.25 13.75 76.4 15.27 78.3C14.05 79.8 11 82.85 7.94 83.15H0Z" fill="#000"/><path d="M0 72h8.4" stroke="#fff" stroke-width="0.7" opacity="0.8"/><path d="M0 84.85H8.12C11.05 85.25 14.62 88.4 16.25 90.3C14.95 91.8 11.7 94.85 8.45 95.15H0Z" fill="#000"/><path d="M0 84h8.94" stroke="#fff" stroke-width="0.7" opacity="0.8"/><path d="M45 -5.95H52.56C55.29 -5.55 58.62 -2.4 60.13 -0.5C58.92 1 55.89 4.05 52.87 4.35H45Z" fill="#000"/><path d="M45 -6.8h8.32" stroke="#fff" stroke-width="0.7" opacity="0.8"/><path d="M45 6.05H52.63C55.38 6.45 58.74 9.6 60.26 11.5C59.04 13 55.99 16.05 52.94 16.35H45Z" fill="#000"/><path d="M45 5.2h8.4" stroke="#fff" stroke-width="0.7" opacity="0.8"/><path d="M45 18.05H52.44C55.11 18.45 58.39 21.6 59.87 23.5C58.68 25 55.71 28.05 52.73 28.35H45Z" fill="#000"/><path d="M45 17.2h8.18" stroke="#fff" stroke-width="0.7" opacity="0.8"/><path d="M45 30.05H52.6C55.33 30.45 58.68 33.6 60.2 35.5C58.98 37 55.94 40.05 52.9 40.35H45Z" fill="#000"/><path d="M45 29.2h8.36" stroke="#fff" stroke-width="0.7" opacity="0.8"/><path d="M45 42.05H52.72C55.5 42.45 58.9 45.6 60.44 47.5C59.2 49 56.12 52.05 53.03 52.35H45Z" fill="#000"/><path d="M45 41.2h8.49" stroke="#fff" stroke-width="0.7" opacity="0.8"/><path d="M45 54.05H52.61C55.35 54.45 58.7 57.6 60.22 59.5C59 61 55.96 64.05 52.91 64.35H45Z" fill="#000"/><path d="M45 53.2h8.37" stroke="#fff" stroke-width="0.7" opacity="0.8"/><path d="M45 66.05H52.68C55.44 66.45 58.82 69.6 60.35 71.5C59.12 73 56.05 76.05 52.98 76.35H45Z" fill="#000"/><path d="M45 65.2h8.44" stroke="#fff" stroke-width="0.7" opacity="0.8"/><path d="M45 78.05H52.12C54.69 78.45 57.82 81.6 59.24 83.5C58.1 85 55.26 88.05 52.41 88.35H45Z" fill="#000"/><path d="M45 77.2h7.83" stroke="#fff" stroke-width="0.7" opacity="0.8"/><path d="M45 90.05H52.23C54.83 90.45 58.01 93.6 59.46 95.5C58.3 97 55.41 100.05 52.52 100.35H45Z" fill="#000"/><path d="M45 89.2h7.95" stroke="#fff" stroke-width="0.7" opacity="0.8"/></g></g></g>
<g transform="translate(465.5 747.6) scale(0.99 0.99)"><g clip-path="url(#usc)"><rect width="90" height="90" fill="#000"/><rect width="90" height="90" filter="url(#nz)"/><g filter="url(#bl)"><ellipse cx="24.67" cy="-11.71" rx="6.59" ry="2.3" fill="#000" opacity="0.45"/><ellipse cx="19.13" cy="-5.51" rx="3.82" ry="1.25" fill="#fff" opacity="0.85"/><ellipse cx="10.62" cy="-12" rx="2.3" ry="0.8" fill="#fff" opacity="0.7"/><ellipse cx="36.66" cy="-9.28" rx="4.12" ry="1.0" fill="#fff" opacity="0.5"/><ellipse cx="25.5" cy="-0.46" rx="5.94" ry="2.3" fill="#000" opacity="0.45"/><ellipse cx="18.22" cy="6.34" rx="3.47" ry="1.25" fill="#fff" opacity="0.85"/><ellipse cx="10.6" cy="0" rx="2.3" ry="0.8" fill="#fff" opacity="0.7"/><ellipse cx="34.17" cy="-0.6" rx="4.79" ry="1.0" fill="#fff" opacity="0.5"/><ellipse cx="25.1" cy="11.59" rx="6.59" ry="2.3" fill="#000" opacity="0.45"/><ellipse cx="18.08" cy="18.39" rx="3.03" ry="1.25" fill="#fff" opacity="0.85"/><ellipse cx="10.58" cy="12" rx="2.3" ry="0.8" fill="#fff" opacity="0.7"/><ellipse cx="40.71" cy="11.05" rx="3.04" ry="1.0" fill="#fff" opacity="0.5"/><ellipse cx="25.75" cy="24.45" rx="5.58" ry="2.3" fill="#000" opacity="0.45"/><ellipse cx="19.15" cy="30.33" rx="3.58" ry="1.25" fill="#fff" opacity="0.85"/><ellipse cx="10.9" cy="24" rx="2.3" ry="0.8" fill="#fff" opacity="0.7"/><ellipse cx="41.41" cy="25.45" rx="4.92" ry="1.0" fill="#fff" opacity="0.5"/><ellipse cx="25.48" cy="35.76" rx="5.72" ry="2.3" fill="#000" opacity="0.45"/><ellipse cx="18.12" cy="42.02" rx="2.97" ry="1.25" fill="#fff" opacity="0.85"/><ellipse cx="11.06" cy="36" rx="2.3" ry="0.8" fill="#fff" opacity="0.7"/><ellipse cx="38.03" cy="34.02" rx="4.19" ry="1.0" fill="#fff" opacity="0.5"/><ellipse cx="23.81" cy="47.77" rx="6.64" ry="2.3" fill="#000" opacity="0.45"/><ellipse cx="18.52" cy="54.15" rx="3.38" ry="1.25" fill="#fff" opacity="0.85"/><ellipse cx="11.7" cy="48" rx="2.3" ry="0.8" fill="#fff" opacity="0.7"/><ellipse cx="32.57" cy="50.88" rx="2.56" ry="1.0" fill="#fff" opacity="0.5"/><ellipse cx="25.05" cy="60.41" rx="5.04" ry="2.3" fill="#000" opacity="0.45"/><ellipse cx="18.92" cy="66.19" rx="3.48" ry="1.25" fill="#fff" opacity="0.85"/><ellipse cx="10.59" cy="60" rx="2.3" ry="0.8" fill="#fff" opacity="0.7"/><ellipse cx="32.47" cy="58.9" rx="4.89" ry="1.0" fill="#fff" opacity="0.5"/><ellipse cx="23.39" cy="72.31" rx="6.86" ry="2.3" fill="#000" opacity="0.45"/><ellipse cx="19.12" cy="78.18" rx="3.25" ry="1.25" fill="#fff" opacity="0.85"/><ellipse cx="11.42" cy="72" rx="2.3" ry="0.8" fill="#fff" opacity="0.7"/><ellipse cx="39.76" cy="70.54" rx="4.37" ry="1.0" fill="#fff" opacity="0.5"/><ellipse cx="25.19" cy="84.43" rx="5.07" ry="2.3" fill="#000" opacity="0.45"/><ellipse cx="19.13" cy="89.97" rx="3.24" ry="1.25" fill="#fff" opacity="0.85"/><ellipse cx="11.55" cy="84" rx="2.3" ry="0.8" fill="#fff" opacity="0.7"/><ellipse cx="41.18" cy="83.7" rx="4.81" ry="1.0" fill="#fff" opacity="0.5"/><ellipse cx="68.64" cy="-7.03" rx="5.63" ry="2.3" fill="#000" opacity="0.45"/><ellipse cx="62.33" cy="-0.84" rx="3.05" ry="1.25" fill="#fff" opacity="0.85"/><ellipse cx="56.1" cy="-6.8" rx="2.3" ry="0.8" fill="#fff" opacity="0.7"/><ellipse cx="86.97" cy="-7.99" rx="2.62" ry="1.0" fill="#fff" opacity="0.5"/><ellipse cx="69.96" cy="5.24" rx="5.81" ry="2.3" fill="#000" opacity="0.45"/><ellipse cx="62.41" cy="11.58" rx="3.73" ry="1.25" fill="#fff" opacity="0.85"/><ellipse cx="55.73" cy="5.2" rx="2.3" ry="0.8" fill="#fff" opacity="0.7"/><ellipse cx="81.22" cy="3.48" rx="4.79" ry="1.0" fill="#fff" opacity="0.5"/><ellipse cx="67.1" cy="17.19" rx="6.68" ry="2.3" fill="#000" opacity="0.45"/><ellipse cx="62.27" cy="23.69" rx="3.85" ry="1.25" fill="#fff" opacity="0.85"/><ellipse cx="56.01" cy="17.2" rx="2.3" ry="0.8" fill="#fff" opacity="0.7"/><ellipse cx="84.88" cy="15.73" rx="3.59" ry="1.0" fill="#fff" opacity="0.5"/><ellipse cx="67.45" cy="29.61" rx="5.59" ry="2.3" fill="#000" opacity="0.45"/><ellipse cx="62.69" cy="35.9" rx="3.75" ry="1.25" fill="#fff" opacity="0.85"/><ellipse cx="56.56" cy="29.2" rx="2.3" ry="0.8" fill="#fff" opacity="0.7"/><ellipse cx="81.54" cy="29.64" rx="4.32" ry="1.0" fill="#fff" opacity="0.5"/><ellipse cx="68.44" cy="40.95" rx="5.81" ry="2.3" fill="#000" opacity="0.45"/><ellipse cx="62.29" cy="47.4" rx="3.89" ry="1.25" fill="#fff" opacity="0.85"/><ellipse cx="56.54" cy="41.2" rx="2.3" ry="0.8" fill="#fff" opacity="0.7"/><ellipse cx="83.27" cy="41.7" rx="3.35" ry="1.0" fill="#fff" opacity="0.5"/><ellipse cx="67.27" cy="52.93" rx="6.56" ry="2.3" fill="#000" opacity="0.45"/><ellipse cx="63.23" cy="59.39" rx="3.69" ry="1.25" fill="#fff" opacity="0.85"/><ellipse cx="56.24" cy="53.2" rx="2.3" ry="0.8" fill="#fff" opacity="0.7"/><ellipse cx="83.95" cy="54.52" rx="4.4" ry="1.0" fill="#fff" opacity="0.5"/><ellipse cx="68.09" cy="65.45" rx="5.56" ry="2.3" fill="#000" opacity="0.45"/><ellipse cx="62.73" cy="71.72" rx="3.59" ry="1.25" fill="#fff" opacity="0.85"/><ellipse cx="55.47" cy="65.2" rx="2.3" ry="0.8" fill="#fff" opacity="0.7"/><ellipse cx="86.46" cy="66.45" rx="3.95" ry="1.0" fill="#fff" opacity="0.5"/><ellipse cx="67.03" cy="77.26" rx="5.5" ry="2.3" fill="#000" opacity="0.45"/><ellipse cx="62.97" cy="83.47" rx="3.72" ry="1.25" fill="#fff" opacity="0.85"/><ellipse cx="56.04" cy="77.2" rx="2.3" ry="0.8" fill="#fff" opacity="0.7"/><ellipse cx="84.98" cy="76.94" rx="4.11" ry="1.0" fill="#fff" opacity="0.5"/><ellipse cx="69.21" cy="89.59" rx="5.7" ry="2.3" fill="#000" opacity="0.45"/><ellipse cx="63.2" cy="95.8" rx="3.59" ry="1.25" fill="#fff" opacity="0.85"/><ellipse cx="56.56" cy="89.2" rx="2.3" ry="0.8" fill="#fff" opacity="0.7"/><ellipse cx="86.57" cy="89.79" rx="3.82" ry="1.0" fill="#fff" opacity="0.5"/></g><rect x="44.4" y="0" width="0.9" height="90" fill="#000" opacity="0.55"/><g filter="url(#bl2)"><path d="M0 -11.15H7.63C10.38 -10.75 13.74 -7.6 15.27 -5.7C14.04 -4.2 10.99 -1.15 7.94 -0.85H0Z" fill="#000"/><path d="M0 -12h8.4" stroke="#fff" stroke-width="0.7" opacity="0.8"/><path d="M0 0.85H8.17C11.11 1.25 14.7 4.4 16.34 6.3C15.03 7.8 11.76 10.85 8.5 11.15H0Z" fill="#000"/><path d="M0 0h8.99" stroke="#fff" stroke-width="0.7" opacity="0.8"/><path d="M0 12.85H8.25C11.22 13.25 14.85 16.4 16.5 18.3C15.18 19.8 11.88 22.85 8.58 23.15H0Z" fill="#000"/><path d="M0 12h9.07" stroke="#fff" stroke-width="0.7" opacity="0.8"/><path d="M0 24.85H7.88C10.72 25.25 14.19 28.4 15.76 30.3C14.5 31.8 11.35 34.85 8.2 35.15H0Z" fill="#000"/><path d="M0 24h8.67" stroke="#fff" stroke-width="0.7" opacity="0.8"/><path d="M0 36.85H8.05C10.95 37.25 14.5 40.4 16.11 42.3C14.82 43.8 11.6 46.85 8.38 47.15H0Z" fill="#000"/><path d="M0 36h8.86" stroke="#fff" stroke-width="0.7" opacity="0.8"/><path d="M0 48.85H8.08C10.98 49.25 14.54 52.4 16.15 54.3C14.86 55.8 11.63 58.85 8.4 59.15H0Z" fill="#000"/><path d="M0 48h8.88" stroke="#fff" stroke-width="0.7" opacity="0.8"/><path d="M0 60.85H8.08C10.99 61.25 14.55 64.4 16.17 66.3C14.88 67.8 11.64 70.85 8.41 71.15H0Z" fill="#000"/><path d="M0 60h8.89" stroke="#fff" stroke-width="0.7" opacity="0.8"/><path d="M0 72.85H7.64C10.39 73.25 13.75 76.4 15.27 78.3C14.05 79.8 11 82.85 7.94 83.15H0Z" fill="#000"/><path d="M0 72h8.4" stroke="#fff" stroke-width="0.7" opacity="0.8"/><path d="M0 84.85H8.12C11.05 85.25 14.62 88.4 16.25 90.3C14.95 91.8 11.7 94.85 8.45 95.15H0Z" fill="#000"/><path d="M0 84h8.94" stroke="#fff" stroke-width="0.7" opacity="0.8"/><path d="M45 -5.95H52.56C55.29 -5.55 58.62 -2.4 60.13 -0.5C58.92 1 55.89 4.05 52.87 4.35H45Z" fill="#000"/><path d="M45 -6.8h8.32" stroke="#fff" stroke-width="0.7" opacity="0.8"/><path d="M45 6.05H52.63C55.38 6.45 58.74 9.6 60.26 11.5C59.04 13 55.99 16.05 52.94 16.35H45Z" fill="#000"/><path d="M45 5.2h8.4" stroke="#fff" stroke-width="0.7" opacity="0.8"/><path d="M45 18.05H52.44C55.11 18.45 58.39 21.6 59.87 23.5C58.68 25 55.71 28.05 52.73 28.35H45Z" fill="#000"/><path d="M45 17.2h8.18" stroke="#fff" stroke-width="0.7" opacity="0.8"/><path d="M45 30.05H52.6C55.33 30.45 58.68 33.6 60.2 35.5C58.98 37 55.94 40.05 52.9 40.35H45Z" fill="#000"/><path d="M45 29.2h8.36" stroke="#fff" stroke-width="0.7" opacity="0.8"/><path d="M45 42.05H52.72C55.5 42.45 58.9 45.6 60.44 47.5C59.2 49 56.12 52.05 53.03 52.35H45Z" fill="#000"/><path d="M45 41.2h8.49" stroke="#fff" stroke-width="0.7" opacity="0.8"/><path d="M45 54.05H52.61C55.35 54.45 58.7 57.6 60.22 59.5C59 61 55.96 64.05 52.91 64.35H45Z" fill="#000"/><path d="M45 53.2h8.37" stroke="#fff" stroke-width="0.7" opacity="0.8"/><path d="M45 66.05H52.68C55.44 66.45 58.82 69.6 60.35 71.5C59.12 73 56.05 76.05 52.98 76.35H45Z" fill="#000"/><path d="M45 65.2h8.44" stroke="#fff" stroke-width="0.7" opacity="0.8"/><path d="M45 78.05H52.12C54.69 78.45 57.82 81.6 59.24 83.5C58.1 85 55.26 88.05 52.41 88.35H45Z" fill="#000"/><path d="M45 77.2h7.83" stroke="#fff" stroke-width="0.7" opacity="0.8"/><path d="M45 90.05H52.23C54.83 90.45 58.01 93.6 59.46 95.5C58.3 97 55.41 100.05 52.52 100.35H45Z" fill="#000"/><path d="M45 89.2h7.95" stroke="#fff" stroke-width="0.7" opacity="0.8"/></g></g></g>
<path d="M259.3 765.75h8.2v8.55h9.75v8.2h-9.75v8.55h-8.2v-8.55h-9.75v-8.2h9.75z" fill="#1b6189" stroke="#0a2a3d" stroke-width="1.6" stroke-linejoin="miter"/>
<path d="M403.9 775.05H436.1V769.8L446 780.1L436.1 790.4V785.15H403.9Z" fill="#1b6189" stroke="#0a2a3d" stroke-width="1.6" stroke-linejoin="miter"/>
<g fill="none" stroke="#7d7d7d" stroke-width="0.65" stroke-linecap="round" stroke-linejoin="round"><path d="M146.42 849.62C149.37 850.1 158.47 851.76 164.09 852.51C169.71 853.26 175.33 853.8 180.15 854.12C184.97 854.44 190.85 854.39 193 854.44"/><path d="M146.42 877.4C149.37 877.06 158.47 876.04 164.09 875.32C169.71 874.59 175.06 873.87 180.15 873.07C185.23 872.26 192.19 870.93 194.6 870.5"/><path d="M193 854.44C193.13 855.72 193.4 859.93 193.8 862.15C194.2 864.37 195.27 866.38 195.4 867.77C195.54 869.16 194.73 870.04 194.6 870.5"/><path d="M193 854.44C193.66 853.32 195.67 849.76 197.01 847.69C198.35 845.63 199.69 843.68 201.02 842.07C202.36 840.47 203.97 839.53 205.04 838.06C206.11 836.59 206.65 834.71 207.45 833.24C208.25 831.77 209.11 830.08 209.86 829.23C210.61 828.37 211.28 827.97 211.94 828.1C212.61 828.24 213.6 828.91 213.87 830.03C214.14 831.15 213.95 833.24 213.55 834.85C213.15 836.45 212.21 838.06 211.46 839.67C210.71 841.27 209.59 843.28 209.05 844.48C208.52 845.69 208.38 846.49 208.25 846.89"/><path d="M205.84 837.26L211.46 839.34"/><path d="M204.24 844.48C205.04 844.88 207.18 846.41 209.05 846.89C210.93 847.37 213.47 847.51 215.48 847.37C217.49 847.24 220.16 846.3 221.1 846.09"/><path d="M223.51 851.23C223.11 850.37 220.03 847.61 221.1 846.09C222.17 844.56 227.12 843.2 229.93 842.07C232.74 840.95 236.09 839.75 237.96 839.34C239.83 838.94 240.42 839.29 241.17 839.67C241.92 840.04 242.51 840.84 242.46 841.59C242.4 842.34 242.4 843.14 240.85 844.16C239.3 845.18 236.03 846.52 233.14 847.69C230.25 848.87 225.11 850.16 223.51 851.23C221.9 852.3 223.51 853.64 223.51 854.12"/><path d="M227.52 843.68L229.93 847.69"/><path d="M234.75 840.47L236.35 845.29"/><path d="M223.51 854.12C225.65 854.25 232.61 854.65 236.35 854.92C240.1 855.19 243.9 855.27 245.99 855.72C248.08 856.18 248.56 856.9 248.88 857.65C249.2 858.4 250 859.79 247.92 860.22C245.83 860.65 240.02 860.3 236.35 860.22C232.69 860.14 227.79 859.42 225.92 859.74C224.04 860.06 225.25 861.75 225.11 862.15"/><path d="M234.75 854.92L235.07 860.06"/><path d="M240.37 855.4L240.85 860.22"/><path d="M225.11 862.15C226.72 862.68 231.67 864.34 234.75 865.36C237.83 866.38 241.76 867.45 243.58 868.25C245.4 869.05 245.54 869.45 245.67 870.18C245.8 870.9 245.13 872.18 244.38 872.59C243.63 872.99 243.31 873.04 241.17 872.59C239.03 872.13 234.48 870.66 231.54 869.86C228.59 869.05 225.25 867.98 223.51 867.77C221.77 867.55 221.5 868.44 221.1 868.57"/><path d="M233.14 865.04L231.86 869.86"/><path d="M238.76 866.97L237.64 871.46"/><path d="M221.1 868.57C222.3 869.37 226.05 872.05 228.33 873.39C230.6 874.73 233.46 875.66 234.75 876.6C236.03 877.54 236.17 878.34 236.03 879.01C235.9 879.68 234.83 880.43 233.95 880.62C233.06 880.8 232.47 880.94 230.73 880.13C228.99 879.33 225.65 877.06 223.51 875.8C221.37 874.54 218.82 873.12 217.89 872.59"/><path d="M224.31 870.98L222.22 874.67"/><path d="M229.13 874.19L227.52 878.21"/><path d="M194.6 870.5C196.21 870.85 201.29 872.1 204.24 872.59C207.18 873.07 209.99 873.39 212.27 873.39C214.54 873.39 216.95 872.72 217.89 872.59"/><path d="M214.67 853.8C214.41 854.92 213.87 858.61 213.07 860.54C212.27 862.47 210.85 864.24 209.86 865.36C208.87 866.48 207.58 866.97 207.13 867.29"/><path d="M221.9 854.92C221.1 855.72 218.42 857.87 217.08 859.74C215.75 861.61 214.62 864.02 213.87 866.16C213.12 868.3 212.8 871.52 212.59 872.59"/><path d="M292.01 834.61C294.34 835.29 301.35 837.3 306.02 838.64C310.69 839.99 315.37 841.56 320.04 842.67C324.71 843.78 328.65 844.66 334.05 845.3C339.46 845.94 349.38 846.32 352.45 846.53"/><path d="M292.01 875.43C295.22 875.52 304.27 875.75 311.28 875.96C318.29 876.16 327.34 876.46 334.05 876.66C340.77 876.86 348.65 877.1 351.57 877.19"/><path d="M350.7 856.16C350.99 857.18 352.16 860.1 352.45 862.29C352.74 864.48 352.65 866.97 352.45 869.3C352.24 871.64 351.43 875.14 351.22 876.31"/><path d="M352.45 846.53C353.47 845.65 356.54 843.17 358.58 841.27C360.62 839.37 362.81 836.75 364.71 835.14C366.61 833.53 368.36 832.22 369.97 831.64C371.57 831.05 372.74 831.26 374.35 831.64C375.95 832.02 377.85 833.04 379.6 833.91C381.36 834.79 383.25 835.67 384.86 836.89C386.47 838.12 388.36 839.67 389.24 841.27C390.12 842.88 389.97 845.65 390.12 846.53"/><path d="M382.23 835.14C383.11 834.94 385.74 833.83 387.49 833.91C389.24 834 391.28 834.58 392.74 835.67C394.2 836.75 395.58 838.88 396.25 840.4C396.92 841.91 397.06 843.61 396.77 844.78C396.48 845.94 394.88 846.96 394.5 847.4"/><path d="M388.36 847.4C389.09 847.26 391.52 846.23 392.74 846.53C393.97 846.82 395.05 847.99 395.72 849.15C396.39 850.32 396.83 852.22 396.77 853.53C396.71 854.85 396.13 856.1 395.37 857.04C394.61 857.97 393.39 859.14 392.22 859.14C391.05 859.14 389.15 858.26 388.36 857.04C387.58 855.81 387.49 853.39 387.49 851.78C387.49 850.18 388.22 848.13 388.36 847.4"/><path d="M381.36 852.66C381.65 852.22 382.29 850.61 383.11 850.03C383.93 849.45 385.53 848.86 386.26 849.15C386.99 849.45 387.37 850.47 387.49 851.78C387.6 853.1 387.4 855.81 386.96 857.04C386.52 858.26 385.65 858.99 384.86 859.14C384.07 859.29 382.87 858.56 382.23 857.91C381.59 857.27 381.15 856.16 381.01 855.29C380.86 854.41 381.3 853.1 381.36 852.66"/><path d="M374.35 838.64C374.58 839.67 375.46 842.73 375.75 844.78C376.04 846.82 375.75 849.01 376.1 850.91C376.45 852.8 377.56 855.29 377.85 856.16"/><path d="M370.49 843.02C371.28 843.46 373.56 845.71 375.22 845.65C376.89 845.59 379.6 843.17 380.48 842.67"/><path d="M375.22 853.53C374.79 854.12 373.09 855.43 372.6 857.04C372.1 858.64 372.01 861.71 372.25 863.17C372.48 864.63 373.71 865.36 374 865.8"/><path d="M363.84 863.7C364.71 863.46 367.63 863.11 369.09 862.29C370.55 861.48 372.01 859.37 372.6 858.79"/><path d="M374 856.16C375.52 856.75 380.07 859.17 383.11 859.67C386.14 860.16 390.7 859.23 392.22 859.14"/><path d="M374 865.8C375.37 866.15 379.4 867.32 382.23 867.9C385.06 868.48 389.53 869.07 390.99 869.3"/><path d="M392.22 859.14C392.1 860.25 391.87 863.52 391.52 865.8C391.17 868.08 390.35 871.64 390.12 872.81"/><path d="M373.47 866.67C373.38 867.7 372.65 871.49 372.95 872.81C373.24 874.12 373.53 873.92 375.22 874.56C376.92 875.2 381.79 876.31 383.11 876.66"/><path d="M351.57 877.19C352.74 877.62 355.95 879.03 358.58 879.81C361.21 880.6 364.42 881.48 367.34 881.92C370.26 882.35 373.47 882.65 376.1 882.44C378.73 882.24 381.06 881.65 383.11 880.69C385.15 879.73 387.2 877.97 388.36 876.66C389.53 875.35 389.82 873.45 390.12 872.81"/><path d="M362.96 876.31C363.4 875.58 364.57 873.24 365.59 871.93C366.61 870.62 367.92 869.3 369.09 868.43C370.26 867.55 372.01 866.97 372.6 866.67"/></g>
<text x="191.7" y="905.6" font-family='"Liberation Sans", sans-serif' font-size="15.9" text-anchor="middle" fill="#000" font-weight="bold">Reference</text>
<text x="334.5" y="907" font-family='"Liberation Sans", sans-serif' font-size="15.4" text-anchor="middle" fill="#000" font-weight="bold">Target</text>
<text x="516.3" y="861.9" font-family='"Liberation Sans", sans-serif' font-size="15.9" text-anchor="middle" fill="#000" font-weight="bold">Combined</text>
<text x="516.5" y="881.7" font-family='"Liberation Sans", sans-serif' font-size="15.9" text-anchor="middle" fill="#000" font-weight="bold">Input</text>
<text x="127.3" y="734.5" font-family='"Liberation Sans", sans-serif' font-size="21.5" text-anchor="start" fill="#000" font-weight="bold">g</text>
</g>
</svg>
</body></html>
